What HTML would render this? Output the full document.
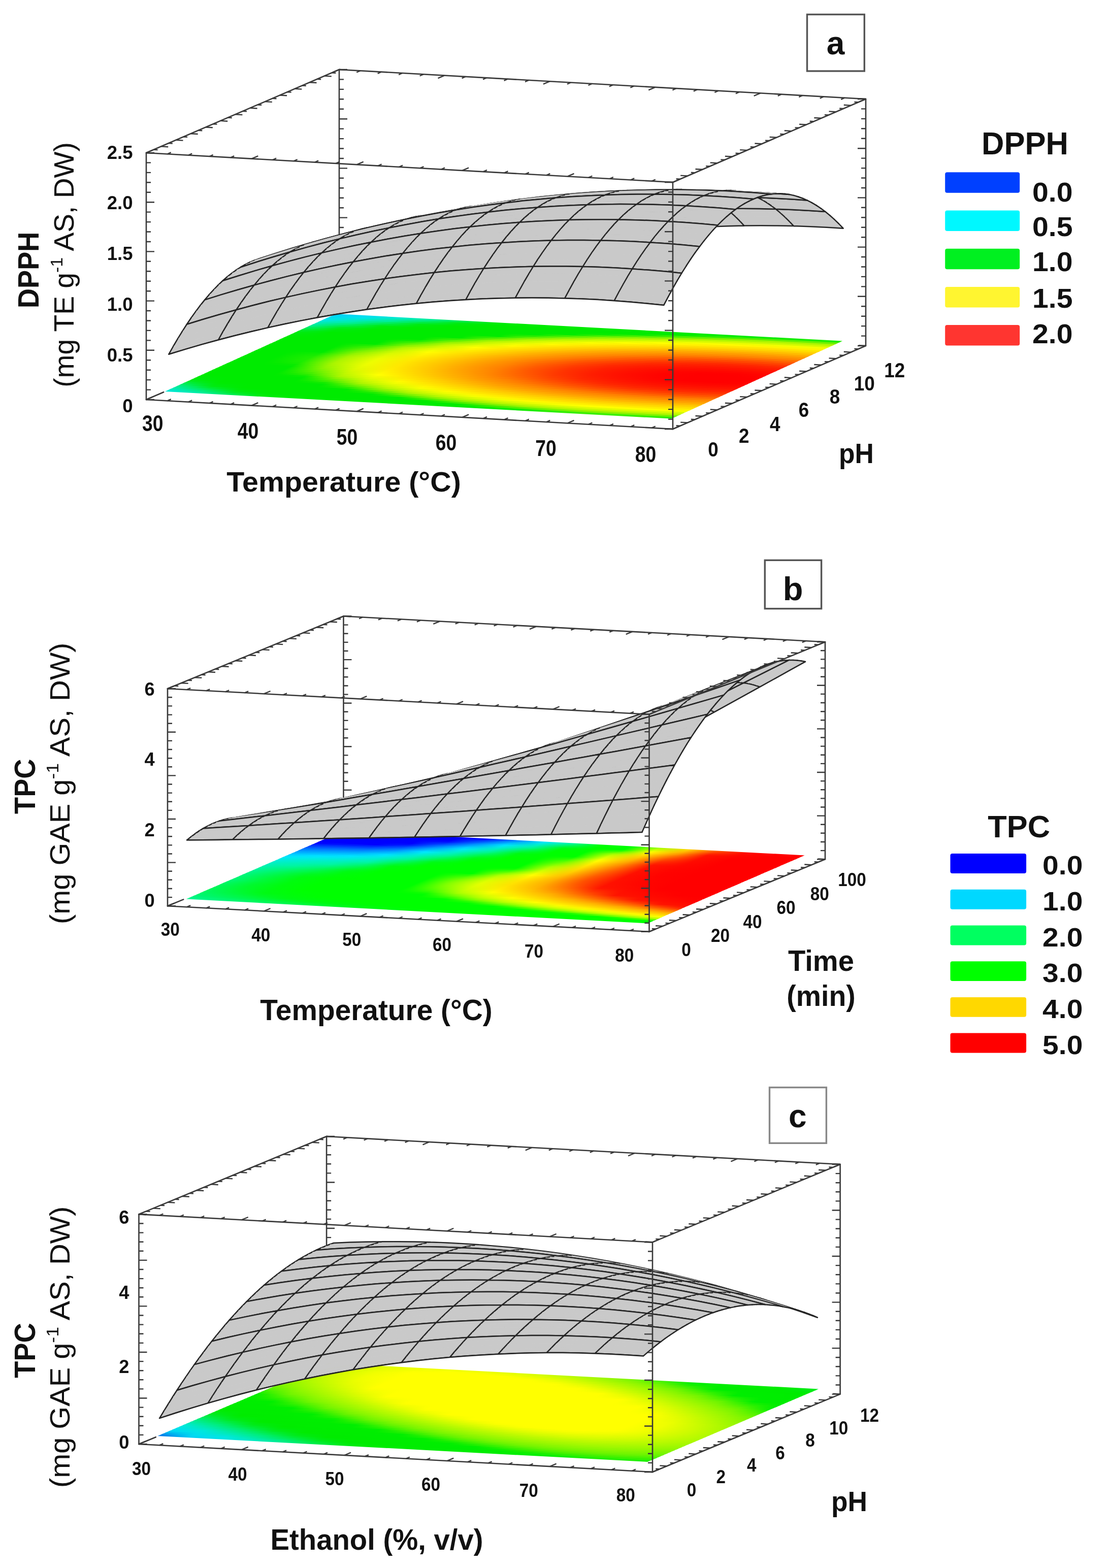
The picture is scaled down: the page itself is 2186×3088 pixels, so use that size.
<!DOCTYPE html>
<html><head><meta charset="utf-8"><title>Response surface plots</title>
<style>html,body{margin:0;padding:0;background:#fff;overflow:hidden}svg{display:block}
.bx{stroke:#383838;stroke-width:2.6;fill:none;stroke-linecap:round}
.tk{stroke:#383838;stroke-width:2.4;fill:none}
.sf{fill:#c9c9c9;stroke:#c9c9c9;stroke-width:0.8;stroke-linejoin:round}
.ml{fill:none;stroke:#242424;stroke-width:2.5;stroke-linejoin:round;stroke-linecap:round}
text{font-family:"Liberation Sans",Arial,sans-serif;fill:#111}
</style></head>
<body><svg width="2186" height="3088" viewBox="0 0 2186 3088">
<rect width="2186" height="3088" fill="#fff"/>
<defs><linearGradient id="ga0"><stop offset="0%" stop-color="#00e6d8"/><stop offset="6.2%" stop-color="#00eda2"/><stop offset="12.5%" stop-color="#00ec52"/><stop offset="18.8%" stop-color="#00eb0f"/><stop offset="25%" stop-color="#00eb00"/><stop offset="31.2%" stop-color="#00eb00"/><stop offset="37.5%" stop-color="#00eb00"/><stop offset="43.8%" stop-color="#00eb00"/><stop offset="50%" stop-color="#00eb00"/><stop offset="56.2%" stop-color="#00eb00"/><stop offset="62.5%" stop-color="#00eb00"/><stop offset="68.8%" stop-color="#0cec00"/><stop offset="75%" stop-color="#28ed00"/><stop offset="81.2%" stop-color="#39ee00"/><stop offset="87.5%" stop-color="#3def00"/><stop offset="93.8%" stop-color="#36ee00"/><stop offset="100%" stop-color="#23ed00"/></linearGradient>
<linearGradient id="ga1"><stop offset="0%" stop-color="#00e9c0"/><stop offset="6.2%" stop-color="#00ed80"/><stop offset="12.5%" stop-color="#00eb26"/><stop offset="18.8%" stop-color="#00eb05"/><stop offset="25%" stop-color="#00eb00"/><stop offset="31.2%" stop-color="#00eb00"/><stop offset="37.5%" stop-color="#00eb00"/><stop offset="43.8%" stop-color="#00eb00"/><stop offset="50%" stop-color="#00eb00"/><stop offset="56.2%" stop-color="#00eb00"/><stop offset="62.5%" stop-color="#30ee00"/><stop offset="68.8%" stop-color="#58f000"/><stop offset="75%" stop-color="#74f200"/><stop offset="81.2%" stop-color="#85f300"/><stop offset="87.5%" stop-color="#8af300"/><stop offset="93.8%" stop-color="#83f300"/><stop offset="100%" stop-color="#70f200"/></linearGradient>
<linearGradient id="ga2"><stop offset="0%" stop-color="#00eca8"/><stop offset="6.2%" stop-color="#00ed56"/><stop offset="12.5%" stop-color="#00eb0f"/><stop offset="18.8%" stop-color="#00eb00"/><stop offset="25%" stop-color="#00eb00"/><stop offset="31.2%" stop-color="#00eb00"/><stop offset="37.5%" stop-color="#00eb00"/><stop offset="43.8%" stop-color="#00eb00"/><stop offset="50%" stop-color="#03eb00"/><stop offset="56.2%" stop-color="#43ef00"/><stop offset="62.5%" stop-color="#78f200"/><stop offset="68.8%" stop-color="#a0f400"/><stop offset="75%" stop-color="#b3f600"/><stop offset="81.2%" stop-color="#bcf700"/><stop offset="87.5%" stop-color="#bef700"/><stop offset="93.8%" stop-color="#bbf700"/><stop offset="100%" stop-color="#b2f600"/></linearGradient>
<linearGradient id="ga3"><stop offset="0%" stop-color="#00ee8f"/><stop offset="6.2%" stop-color="#00ec2e"/><stop offset="12.5%" stop-color="#00eb05"/><stop offset="18.8%" stop-color="#00eb00"/><stop offset="25%" stop-color="#00eb00"/><stop offset="31.2%" stop-color="#00eb00"/><stop offset="37.5%" stop-color="#00eb00"/><stop offset="43.8%" stop-color="#00eb00"/><stop offset="50%" stop-color="#47ef00"/><stop offset="56.2%" stop-color="#87f300"/><stop offset="62.5%" stop-color="#b3f600"/><stop offset="68.8%" stop-color="#c7f800"/><stop offset="75%" stop-color="#d6fa00"/><stop offset="81.2%" stop-color="#dffb00"/><stop offset="87.5%" stop-color="#e1fc00"/><stop offset="93.8%" stop-color="#defb00"/><stop offset="100%" stop-color="#d5fa00"/></linearGradient>
<linearGradient id="ga4"><stop offset="0%" stop-color="#00ed6a"/><stop offset="6.2%" stop-color="#00eb11"/><stop offset="12.5%" stop-color="#00eb00"/><stop offset="18.8%" stop-color="#00eb00"/><stop offset="25%" stop-color="#00eb00"/><stop offset="31.2%" stop-color="#00eb00"/><stop offset="37.5%" stop-color="#00eb00"/><stop offset="43.8%" stop-color="#3aee00"/><stop offset="50%" stop-color="#87f300"/><stop offset="56.2%" stop-color="#b9f700"/><stop offset="62.5%" stop-color="#d3fa00"/><stop offset="68.8%" stop-color="#e8fc00"/><stop offset="75%" stop-color="#f7fe00"/><stop offset="81.2%" stop-color="#ffff00"/><stop offset="87.5%" stop-color="#fffd00"/><stop offset="93.8%" stop-color="#fffe00"/><stop offset="100%" stop-color="#f7fe00"/></linearGradient>
<linearGradient id="ga5"><stop offset="0%" stop-color="#00ec47"/><stop offset="6.2%" stop-color="#00eb09"/><stop offset="12.5%" stop-color="#00eb00"/><stop offset="18.8%" stop-color="#00eb00"/><stop offset="25%" stop-color="#00eb00"/><stop offset="31.2%" stop-color="#00eb00"/><stop offset="37.5%" stop-color="#1eed00"/><stop offset="43.8%" stop-color="#77f200"/><stop offset="50%" stop-color="#b7f700"/><stop offset="56.2%" stop-color="#d7fa00"/><stop offset="62.5%" stop-color="#f2fd00"/><stop offset="68.8%" stop-color="#fffa00"/><stop offset="75%" stop-color="#fff100"/><stop offset="81.2%" stop-color="#ffec00"/><stop offset="87.5%" stop-color="#ffea00"/><stop offset="93.8%" stop-color="#ffec00"/><stop offset="100%" stop-color="#fff100"/></linearGradient>
<linearGradient id="ga6"><stop offset="0%" stop-color="#00eb26"/><stop offset="6.2%" stop-color="#00eb02"/><stop offset="12.5%" stop-color="#00eb00"/><stop offset="18.8%" stop-color="#00eb00"/><stop offset="25%" stop-color="#00eb00"/><stop offset="31.2%" stop-color="#00eb00"/><stop offset="37.5%" stop-color="#57f000"/><stop offset="43.8%" stop-color="#adf500"/><stop offset="50%" stop-color="#d4fa00"/><stop offset="56.2%" stop-color="#f4fe00"/><stop offset="62.5%" stop-color="#fff500"/><stop offset="68.8%" stop-color="#ffe900"/><stop offset="75%" stop-color="#ffe000"/><stop offset="81.2%" stop-color="#ffdb00"/><stop offset="87.5%" stop-color="#ffd900"/><stop offset="93.8%" stop-color="#ffda00"/><stop offset="100%" stop-color="#ffdf00"/></linearGradient>
<linearGradient id="ga7"><stop offset="0%" stop-color="#00eb11"/><stop offset="6.2%" stop-color="#00eb00"/><stop offset="12.5%" stop-color="#00eb00"/><stop offset="18.8%" stop-color="#00eb00"/><stop offset="25%" stop-color="#00eb00"/><stop offset="31.2%" stop-color="#27ed00"/><stop offset="37.5%" stop-color="#8cf300"/><stop offset="43.8%" stop-color="#c8f800"/><stop offset="50%" stop-color="#effd00"/><stop offset="56.2%" stop-color="#fff500"/><stop offset="62.5%" stop-color="#ffe500"/><stop offset="68.8%" stop-color="#ffd900"/><stop offset="75%" stop-color="#ffd000"/><stop offset="81.2%" stop-color="#ffc900"/><stop offset="87.5%" stop-color="#ffc700"/><stop offset="93.8%" stop-color="#ffc800"/><stop offset="100%" stop-color="#ffce00"/></linearGradient>
<linearGradient id="ga8"><stop offset="0%" stop-color="#00eb0a"/><stop offset="6.2%" stop-color="#00eb00"/><stop offset="12.5%" stop-color="#00eb00"/><stop offset="18.8%" stop-color="#00eb00"/><stop offset="25%" stop-color="#00eb00"/><stop offset="31.2%" stop-color="#58f000"/><stop offset="37.5%" stop-color="#b4f600"/><stop offset="43.8%" stop-color="#e1fb00"/><stop offset="50%" stop-color="#fffa00"/><stop offset="56.2%" stop-color="#ffe600"/><stop offset="62.5%" stop-color="#ffd600"/><stop offset="68.8%" stop-color="#ffc900"/><stop offset="75%" stop-color="#ffbd00"/><stop offset="81.2%" stop-color="#ffb500"/><stop offset="87.5%" stop-color="#ffb300"/><stop offset="93.8%" stop-color="#ffb400"/><stop offset="100%" stop-color="#ffba00"/></linearGradient>
<linearGradient id="ga9"><stop offset="0%" stop-color="#00eb04"/><stop offset="6.2%" stop-color="#00eb00"/><stop offset="12.5%" stop-color="#00eb00"/><stop offset="18.8%" stop-color="#00eb00"/><stop offset="25%" stop-color="#14ec00"/><stop offset="31.2%" stop-color="#86f300"/><stop offset="37.5%" stop-color="#cbf900"/><stop offset="43.8%" stop-color="#f8fe00"/><stop offset="50%" stop-color="#ffec00"/><stop offset="56.2%" stop-color="#ffd800"/><stop offset="62.5%" stop-color="#ffc700"/><stop offset="68.8%" stop-color="#ffb600"/><stop offset="75%" stop-color="#ffaa00"/><stop offset="81.2%" stop-color="#ffa300"/><stop offset="87.5%" stop-color="#ffa000"/><stop offset="93.8%" stop-color="#ffa100"/><stop offset="100%" stop-color="#ffa700"/></linearGradient>
<linearGradient id="ga10"><stop offset="0%" stop-color="#00eb00"/><stop offset="6.2%" stop-color="#00eb00"/><stop offset="12.5%" stop-color="#00eb00"/><stop offset="18.8%" stop-color="#00eb00"/><stop offset="25%" stop-color="#3eef00"/><stop offset="31.2%" stop-color="#adf500"/><stop offset="37.5%" stop-color="#e1fb00"/><stop offset="43.8%" stop-color="#fff600"/><stop offset="50%" stop-color="#ffdf00"/><stop offset="56.2%" stop-color="#ffcb00"/><stop offset="62.5%" stop-color="#ffb600"/><stop offset="68.8%" stop-color="#ffa500"/><stop offset="75%" stop-color="#ff9900"/><stop offset="81.2%" stop-color="#ff9100"/><stop offset="87.5%" stop-color="#ff8e00"/><stop offset="93.8%" stop-color="#ff9000"/><stop offset="100%" stop-color="#ff9500"/></linearGradient>
<linearGradient id="ga11"><stop offset="0%" stop-color="#00eb00"/><stop offset="6.2%" stop-color="#00eb00"/><stop offset="12.5%" stop-color="#00eb00"/><stop offset="18.8%" stop-color="#00eb00"/><stop offset="25%" stop-color="#65f100"/><stop offset="31.2%" stop-color="#c1f800"/><stop offset="37.5%" stop-color="#f4fe00"/><stop offset="43.8%" stop-color="#ffea00"/><stop offset="50%" stop-color="#ffd300"/><stop offset="56.2%" stop-color="#ffbb00"/><stop offset="62.5%" stop-color="#ffa600"/><stop offset="68.8%" stop-color="#ff9500"/><stop offset="75%" stop-color="#ff8900"/><stop offset="81.2%" stop-color="#ff8100"/><stop offset="87.5%" stop-color="#ff7c00"/><stop offset="93.8%" stop-color="#ff7e00"/><stop offset="100%" stop-color="#ff8500"/></linearGradient>
<linearGradient id="ga12"><stop offset="0%" stop-color="#00eb00"/><stop offset="6.2%" stop-color="#00eb00"/><stop offset="12.5%" stop-color="#00eb00"/><stop offset="18.8%" stop-color="#0aec00"/><stop offset="25%" stop-color="#89f300"/><stop offset="31.2%" stop-color="#d3fa00"/><stop offset="37.5%" stop-color="#fffb00"/><stop offset="43.8%" stop-color="#ffe000"/><stop offset="50%" stop-color="#ffc700"/><stop offset="56.2%" stop-color="#ffad00"/><stop offset="62.5%" stop-color="#ff9800"/><stop offset="68.8%" stop-color="#ff8700"/><stop offset="75%" stop-color="#ff7700"/><stop offset="81.2%" stop-color="#ff6a00"/><stop offset="87.5%" stop-color="#ff6500"/><stop offset="93.8%" stop-color="#ff6700"/><stop offset="100%" stop-color="#ff6f00"/></linearGradient>
<linearGradient id="ga13"><stop offset="0%" stop-color="#00eb00"/><stop offset="6.2%" stop-color="#00eb00"/><stop offset="12.5%" stop-color="#00eb00"/><stop offset="18.8%" stop-color="#2aed00"/><stop offset="25%" stop-color="#a9f500"/><stop offset="31.2%" stop-color="#e3fc00"/><stop offset="37.5%" stop-color="#fff100"/><stop offset="43.8%" stop-color="#ffd600"/><stop offset="50%" stop-color="#ffba00"/><stop offset="56.2%" stop-color="#ffa000"/><stop offset="62.5%" stop-color="#ff8b00"/><stop offset="68.8%" stop-color="#ff7500"/><stop offset="75%" stop-color="#ff6200"/><stop offset="81.2%" stop-color="#ff5600"/><stop offset="87.5%" stop-color="#ff5000"/><stop offset="93.8%" stop-color="#ff5100"/><stop offset="100%" stop-color="#ff5900"/></linearGradient>
<linearGradient id="ga14"><stop offset="0%" stop-color="#00eb00"/><stop offset="6.2%" stop-color="#00eb00"/><stop offset="12.5%" stop-color="#00eb00"/><stop offset="18.8%" stop-color="#46ef00"/><stop offset="25%" stop-color="#b8f700"/><stop offset="31.2%" stop-color="#f2fd00"/><stop offset="37.5%" stop-color="#ffe800"/><stop offset="43.8%" stop-color="#ffcd00"/><stop offset="50%" stop-color="#ffaf00"/><stop offset="56.2%" stop-color="#ff9500"/><stop offset="62.5%" stop-color="#ff7d00"/><stop offset="68.8%" stop-color="#ff6300"/><stop offset="75%" stop-color="#ff5000"/><stop offset="81.2%" stop-color="#ff4300"/><stop offset="87.5%" stop-color="#ff3d00"/><stop offset="93.8%" stop-color="#ff3e00"/><stop offset="100%" stop-color="#ff4600"/></linearGradient>
<linearGradient id="ga15"><stop offset="0%" stop-color="#00eb00"/><stop offset="6.2%" stop-color="#00eb00"/><stop offset="12.5%" stop-color="#00eb00"/><stop offset="18.8%" stop-color="#5ff100"/><stop offset="25%" stop-color="#c4f800"/><stop offset="31.2%" stop-color="#ffff00"/><stop offset="37.5%" stop-color="#ffe100"/><stop offset="43.8%" stop-color="#ffc300"/><stop offset="50%" stop-color="#ffa400"/><stop offset="56.2%" stop-color="#ff8a00"/><stop offset="62.5%" stop-color="#ff6d00"/><stop offset="68.8%" stop-color="#ff5300"/><stop offset="75%" stop-color="#ff3f00"/><stop offset="81.2%" stop-color="#ff3200"/><stop offset="87.5%" stop-color="#ff2c00"/><stop offset="93.8%" stop-color="#ff2d00"/><stop offset="100%" stop-color="#ff3500"/></linearGradient>
<linearGradient id="ga16"><stop offset="0%" stop-color="#00eb00"/><stop offset="6.2%" stop-color="#00eb00"/><stop offset="12.5%" stop-color="#00eb00"/><stop offset="18.8%" stop-color="#74f200"/><stop offset="25%" stop-color="#cff900"/><stop offset="31.2%" stop-color="#fff900"/><stop offset="37.5%" stop-color="#ffda00"/><stop offset="43.8%" stop-color="#ffba00"/><stop offset="50%" stop-color="#ff9b00"/><stop offset="56.2%" stop-color="#ff8100"/><stop offset="62.5%" stop-color="#ff5f00"/><stop offset="68.8%" stop-color="#ff4500"/><stop offset="75%" stop-color="#ff3100"/><stop offset="81.2%" stop-color="#ff2500"/><stop offset="87.5%" stop-color="#ff2100"/><stop offset="93.8%" stop-color="#ff2100"/><stop offset="100%" stop-color="#ff2600"/></linearGradient>
<linearGradient id="ga17"><stop offset="0%" stop-color="#00eb00"/><stop offset="6.2%" stop-color="#00eb00"/><stop offset="12.5%" stop-color="#00eb00"/><stop offset="18.8%" stop-color="#87f300"/><stop offset="25%" stop-color="#d9fa00"/><stop offset="31.2%" stop-color="#fff300"/><stop offset="37.5%" stop-color="#ffd400"/><stop offset="43.8%" stop-color="#ffb300"/><stop offset="50%" stop-color="#ff9400"/><stop offset="56.2%" stop-color="#ff7500"/><stop offset="62.5%" stop-color="#ff5300"/><stop offset="68.8%" stop-color="#ff3800"/><stop offset="75%" stop-color="#ff2500"/><stop offset="81.2%" stop-color="#ff1c00"/><stop offset="87.5%" stop-color="#ff1700"/><stop offset="93.8%" stop-color="#ff1800"/><stop offset="100%" stop-color="#ff1c00"/></linearGradient>
<linearGradient id="ga18"><stop offset="0%" stop-color="#00eb00"/><stop offset="6.2%" stop-color="#00eb00"/><stop offset="12.5%" stop-color="#08eb00"/><stop offset="18.8%" stop-color="#95f400"/><stop offset="25%" stop-color="#e0fb00"/><stop offset="31.2%" stop-color="#ffee00"/><stop offset="37.5%" stop-color="#ffcf00"/><stop offset="43.8%" stop-color="#ffad00"/><stop offset="50%" stop-color="#ff8d00"/><stop offset="56.2%" stop-color="#ff6b00"/><stop offset="62.5%" stop-color="#ff4900"/><stop offset="68.8%" stop-color="#ff2e00"/><stop offset="75%" stop-color="#ff1e00"/><stop offset="81.2%" stop-color="#ff1400"/><stop offset="87.5%" stop-color="#ff1000"/><stop offset="93.8%" stop-color="#ff1000"/><stop offset="100%" stop-color="#ff1400"/></linearGradient>
<linearGradient id="ga19"><stop offset="0%" stop-color="#00eb00"/><stop offset="6.2%" stop-color="#00eb00"/><stop offset="12.5%" stop-color="#14ec00"/><stop offset="18.8%" stop-color="#a1f400"/><stop offset="25%" stop-color="#e6fc00"/><stop offset="31.2%" stop-color="#ffeb00"/><stop offset="37.5%" stop-color="#ffcb00"/><stop offset="43.8%" stop-color="#ffa800"/><stop offset="50%" stop-color="#ff8800"/><stop offset="56.2%" stop-color="#ff6300"/><stop offset="62.5%" stop-color="#ff4100"/><stop offset="68.8%" stop-color="#ff2600"/><stop offset="75%" stop-color="#ff1800"/><stop offset="81.2%" stop-color="#ff0e00"/><stop offset="87.5%" stop-color="#ff0900"/><stop offset="93.8%" stop-color="#ff0900"/><stop offset="100%" stop-color="#ff0e00"/></linearGradient>
<linearGradient id="ga20"><stop offset="0%" stop-color="#00eb00"/><stop offset="6.2%" stop-color="#00eb00"/><stop offset="12.5%" stop-color="#1bed00"/><stop offset="18.8%" stop-color="#a9f500"/><stop offset="25%" stop-color="#ebfd00"/><stop offset="31.2%" stop-color="#ffe800"/><stop offset="37.5%" stop-color="#ffc800"/><stop offset="43.8%" stop-color="#ffa400"/><stop offset="50%" stop-color="#ff8500"/><stop offset="56.2%" stop-color="#ff5d00"/><stop offset="62.5%" stop-color="#ff3a00"/><stop offset="68.8%" stop-color="#ff2200"/><stop offset="75%" stop-color="#ff1300"/><stop offset="81.2%" stop-color="#ff0900"/><stop offset="87.5%" stop-color="#ff0400"/><stop offset="93.8%" stop-color="#ff0400"/><stop offset="100%" stop-color="#ff0800"/></linearGradient>
<linearGradient id="ga21"><stop offset="0%" stop-color="#00eb00"/><stop offset="6.2%" stop-color="#00eb00"/><stop offset="12.5%" stop-color="#1fed00"/><stop offset="18.8%" stop-color="#acf500"/><stop offset="25%" stop-color="#edfd00"/><stop offset="31.2%" stop-color="#ffe700"/><stop offset="37.5%" stop-color="#ffc600"/><stop offset="43.8%" stop-color="#ffa200"/><stop offset="50%" stop-color="#ff8200"/><stop offset="56.2%" stop-color="#ff5900"/><stop offset="62.5%" stop-color="#ff3600"/><stop offset="68.8%" stop-color="#ff1e00"/><stop offset="75%" stop-color="#ff1000"/><stop offset="81.2%" stop-color="#ff0600"/><stop offset="87.5%" stop-color="#ff0000"/><stop offset="93.8%" stop-color="#ff0000"/><stop offset="100%" stop-color="#ff0400"/></linearGradient>
<linearGradient id="ga22"><stop offset="0%" stop-color="#00eb00"/><stop offset="6.2%" stop-color="#00eb00"/><stop offset="12.5%" stop-color="#20ed00"/><stop offset="18.8%" stop-color="#acf500"/><stop offset="25%" stop-color="#eefd00"/><stop offset="31.2%" stop-color="#ffe600"/><stop offset="37.5%" stop-color="#ffc500"/><stop offset="43.8%" stop-color="#ffa000"/><stop offset="50%" stop-color="#ff8000"/><stop offset="56.2%" stop-color="#ff5600"/><stop offset="62.5%" stop-color="#ff3400"/><stop offset="68.8%" stop-color="#ff1c00"/><stop offset="75%" stop-color="#ff0e00"/><stop offset="81.2%" stop-color="#ff0400"/><stop offset="87.5%" stop-color="#ff0000"/><stop offset="93.8%" stop-color="#ff0000"/><stop offset="100%" stop-color="#ff0200"/></linearGradient>
<linearGradient id="ga23"><stop offset="0%" stop-color="#00eb00"/><stop offset="6.2%" stop-color="#00eb00"/><stop offset="12.5%" stop-color="#1eed00"/><stop offset="18.8%" stop-color="#abf500"/><stop offset="25%" stop-color="#edfd00"/><stop offset="31.2%" stop-color="#ffe600"/><stop offset="37.5%" stop-color="#ffc500"/><stop offset="43.8%" stop-color="#ffa100"/><stop offset="50%" stop-color="#ff8000"/><stop offset="56.2%" stop-color="#ff5600"/><stop offset="62.5%" stop-color="#ff3300"/><stop offset="68.8%" stop-color="#ff1c00"/><stop offset="75%" stop-color="#ff0d00"/><stop offset="81.2%" stop-color="#ff0300"/><stop offset="87.5%" stop-color="#ff0000"/><stop offset="93.8%" stop-color="#ff0000"/><stop offset="100%" stop-color="#ff0000"/></linearGradient>
<linearGradient id="ga24"><stop offset="0%" stop-color="#00eb00"/><stop offset="6.2%" stop-color="#00eb00"/><stop offset="12.5%" stop-color="#18ec00"/><stop offset="18.8%" stop-color="#a7f500"/><stop offset="25%" stop-color="#ebfd00"/><stop offset="31.2%" stop-color="#ffe800"/><stop offset="37.5%" stop-color="#ffc700"/><stop offset="43.8%" stop-color="#ffa200"/><stop offset="50%" stop-color="#ff8200"/><stop offset="56.2%" stop-color="#ff5800"/><stop offset="62.5%" stop-color="#ff3500"/><stop offset="68.8%" stop-color="#ff1d00"/><stop offset="75%" stop-color="#ff0e00"/><stop offset="81.2%" stop-color="#ff0300"/><stop offset="87.5%" stop-color="#ff0000"/><stop offset="93.8%" stop-color="#ff0000"/><stop offset="100%" stop-color="#ff0000"/></linearGradient>
<linearGradient id="ga25"><stop offset="0%" stop-color="#00eb00"/><stop offset="6.2%" stop-color="#00eb00"/><stop offset="12.5%" stop-color="#0fec00"/><stop offset="18.8%" stop-color="#9ff400"/><stop offset="25%" stop-color="#e6fc00"/><stop offset="31.2%" stop-color="#ffea00"/><stop offset="37.5%" stop-color="#ffc900"/><stop offset="43.8%" stop-color="#ffa500"/><stop offset="50%" stop-color="#ff8500"/><stop offset="56.2%" stop-color="#ff5c00"/><stop offset="62.5%" stop-color="#ff3800"/><stop offset="68.8%" stop-color="#ff1f00"/><stop offset="75%" stop-color="#ff1000"/><stop offset="81.2%" stop-color="#ff0500"/><stop offset="87.5%" stop-color="#ff0000"/><stop offset="93.8%" stop-color="#ff0000"/><stop offset="100%" stop-color="#ff0200"/></linearGradient>
<linearGradient id="ga26"><stop offset="0%" stop-color="#00eb00"/><stop offset="6.2%" stop-color="#00eb00"/><stop offset="12.5%" stop-color="#02eb00"/><stop offset="18.8%" stop-color="#92f400"/><stop offset="25%" stop-color="#e0fb00"/><stop offset="31.2%" stop-color="#ffed00"/><stop offset="37.5%" stop-color="#ffcd00"/><stop offset="43.8%" stop-color="#ffa900"/><stop offset="50%" stop-color="#ff8800"/><stop offset="56.2%" stop-color="#ff6100"/><stop offset="62.5%" stop-color="#ff3d00"/><stop offset="68.8%" stop-color="#ff2300"/><stop offset="75%" stop-color="#ff1300"/><stop offset="81.2%" stop-color="#ff0800"/><stop offset="87.5%" stop-color="#ff0200"/><stop offset="93.8%" stop-color="#ff0100"/><stop offset="100%" stop-color="#ff0500"/></linearGradient>
<linearGradient id="ga27"><stop offset="0%" stop-color="#00eb00"/><stop offset="6.2%" stop-color="#00eb00"/><stop offset="12.5%" stop-color="#00eb00"/><stop offset="18.8%" stop-color="#83f300"/><stop offset="25%" stop-color="#d9fb00"/><stop offset="31.2%" stop-color="#fff200"/><stop offset="37.5%" stop-color="#ffd200"/><stop offset="43.8%" stop-color="#ffae00"/><stop offset="50%" stop-color="#ff8e00"/><stop offset="56.2%" stop-color="#ff6900"/><stop offset="62.5%" stop-color="#ff4500"/><stop offset="68.8%" stop-color="#ff2800"/><stop offset="75%" stop-color="#ff1800"/><stop offset="81.2%" stop-color="#ff0d00"/><stop offset="87.5%" stop-color="#ff0700"/><stop offset="93.8%" stop-color="#ff0500"/><stop offset="100%" stop-color="#ff0900"/></linearGradient>
<linearGradient id="ga28"><stop offset="0%" stop-color="#00eb00"/><stop offset="6.2%" stop-color="#00eb00"/><stop offset="12.5%" stop-color="#00eb00"/><stop offset="18.8%" stop-color="#70f200"/><stop offset="25%" stop-color="#d0f900"/><stop offset="31.2%" stop-color="#fff700"/><stop offset="37.5%" stop-color="#ffd700"/><stop offset="43.8%" stop-color="#ffb500"/><stop offset="50%" stop-color="#ff9400"/><stop offset="56.2%" stop-color="#ff7200"/><stop offset="62.5%" stop-color="#ff4e00"/><stop offset="68.8%" stop-color="#ff3100"/><stop offset="75%" stop-color="#ff1e00"/><stop offset="81.2%" stop-color="#ff1300"/><stop offset="87.5%" stop-color="#ff0d00"/><stop offset="93.8%" stop-color="#ff0b00"/><stop offset="100%" stop-color="#ff0e00"/></linearGradient>
<linearGradient id="ga29"><stop offset="0%" stop-color="#00eb00"/><stop offset="6.2%" stop-color="#00eb00"/><stop offset="12.5%" stop-color="#00eb00"/><stop offset="18.8%" stop-color="#5af000"/><stop offset="25%" stop-color="#c5f800"/><stop offset="31.2%" stop-color="#fffd00"/><stop offset="37.5%" stop-color="#ffdd00"/><stop offset="43.8%" stop-color="#ffbc00"/><stop offset="50%" stop-color="#ff9c00"/><stop offset="56.2%" stop-color="#ff7e00"/><stop offset="62.5%" stop-color="#ff5900"/><stop offset="68.8%" stop-color="#ff3c00"/><stop offset="75%" stop-color="#ff2600"/><stop offset="81.2%" stop-color="#ff1b00"/><stop offset="87.5%" stop-color="#ff1400"/><stop offset="93.8%" stop-color="#ff1200"/><stop offset="100%" stop-color="#ff1500"/></linearGradient>
<linearGradient id="ga30"><stop offset="0%" stop-color="#00eb00"/><stop offset="6.2%" stop-color="#00eb00"/><stop offset="12.5%" stop-color="#00eb00"/><stop offset="18.8%" stop-color="#40ef00"/><stop offset="25%" stop-color="#b8f700"/><stop offset="31.2%" stop-color="#f5fe00"/><stop offset="37.5%" stop-color="#ffe400"/><stop offset="43.8%" stop-color="#ffc600"/><stop offset="50%" stop-color="#ffa500"/><stop offset="56.2%" stop-color="#ff8800"/><stop offset="62.5%" stop-color="#ff6700"/><stop offset="68.8%" stop-color="#ff4900"/><stop offset="75%" stop-color="#ff3200"/><stop offset="81.2%" stop-color="#ff2300"/><stop offset="87.5%" stop-color="#ff1d00"/><stop offset="93.8%" stop-color="#ff1b00"/><stop offset="100%" stop-color="#ff1d00"/></linearGradient>
<linearGradient id="ga31"><stop offset="0%" stop-color="#00eb00"/><stop offset="6.2%" stop-color="#00eb00"/><stop offset="12.5%" stop-color="#00eb00"/><stop offset="18.8%" stop-color="#23ed00"/><stop offset="25%" stop-color="#a9f500"/><stop offset="31.2%" stop-color="#e7fc00"/><stop offset="37.5%" stop-color="#ffec00"/><stop offset="43.8%" stop-color="#ffcf00"/><stop offset="50%" stop-color="#ffaf00"/><stop offset="56.2%" stop-color="#ff9200"/><stop offset="62.5%" stop-color="#ff7600"/><stop offset="68.8%" stop-color="#ff5800"/><stop offset="75%" stop-color="#ff4000"/><stop offset="81.2%" stop-color="#ff3000"/><stop offset="87.5%" stop-color="#ff2600"/><stop offset="93.8%" stop-color="#ff2400"/><stop offset="100%" stop-color="#ff2700"/></linearGradient>
<linearGradient id="ga32"><stop offset="0%" stop-color="#00eb00"/><stop offset="6.2%" stop-color="#00eb00"/><stop offset="12.5%" stop-color="#00eb00"/><stop offset="18.8%" stop-color="#02eb00"/><stop offset="25%" stop-color="#89f300"/><stop offset="31.2%" stop-color="#d7fa00"/><stop offset="37.5%" stop-color="#fff600"/><stop offset="43.8%" stop-color="#ffd800"/><stop offset="50%" stop-color="#ffba00"/><stop offset="56.2%" stop-color="#ff9e00"/><stop offset="62.5%" stop-color="#ff8500"/><stop offset="68.8%" stop-color="#ff6800"/><stop offset="75%" stop-color="#ff5100"/><stop offset="81.2%" stop-color="#ff4000"/><stop offset="87.5%" stop-color="#ff3600"/><stop offset="93.8%" stop-color="#ff3300"/><stop offset="100%" stop-color="#ff3600"/></linearGradient>
<linearGradient id="ga33"><stop offset="0%" stop-color="#00eb00"/><stop offset="6.2%" stop-color="#00eb00"/><stop offset="12.5%" stop-color="#00eb00"/><stop offset="18.8%" stop-color="#00eb00"/><stop offset="25%" stop-color="#66f100"/><stop offset="31.2%" stop-color="#c6f800"/><stop offset="37.5%" stop-color="#feff00"/><stop offset="43.8%" stop-color="#ffe200"/><stop offset="50%" stop-color="#ffc700"/><stop offset="56.2%" stop-color="#ffaa00"/><stop offset="62.5%" stop-color="#ff9200"/><stop offset="68.8%" stop-color="#ff7b00"/><stop offset="75%" stop-color="#ff6300"/><stop offset="81.2%" stop-color="#ff5200"/><stop offset="87.5%" stop-color="#ff4800"/><stop offset="93.8%" stop-color="#ff4500"/><stop offset="100%" stop-color="#ff4800"/></linearGradient>
<linearGradient id="ga34"><stop offset="0%" stop-color="#00eb04"/><stop offset="6.2%" stop-color="#00eb00"/><stop offset="12.5%" stop-color="#00eb00"/><stop offset="18.8%" stop-color="#00eb00"/><stop offset="25%" stop-color="#3fef00"/><stop offset="31.2%" stop-color="#b2f600"/><stop offset="37.5%" stop-color="#ebfd00"/><stop offset="43.8%" stop-color="#ffed00"/><stop offset="50%" stop-color="#ffd300"/><stop offset="56.2%" stop-color="#ffb800"/><stop offset="62.5%" stop-color="#ff9f00"/><stop offset="68.8%" stop-color="#ff8b00"/><stop offset="75%" stop-color="#ff7800"/><stop offset="81.2%" stop-color="#ff6700"/><stop offset="87.5%" stop-color="#ff5c00"/><stop offset="93.8%" stop-color="#ff5800"/><stop offset="100%" stop-color="#ff5c00"/></linearGradient>
<linearGradient id="ga35"><stop offset="0%" stop-color="#00eb0a"/><stop offset="6.2%" stop-color="#00eb00"/><stop offset="12.5%" stop-color="#00eb00"/><stop offset="18.8%" stop-color="#00eb00"/><stop offset="25%" stop-color="#15ec00"/><stop offset="31.2%" stop-color="#91f400"/><stop offset="37.5%" stop-color="#d6fa00"/><stop offset="43.8%" stop-color="#fffa00"/><stop offset="50%" stop-color="#ffdf00"/><stop offset="56.2%" stop-color="#ffc700"/><stop offset="62.5%" stop-color="#ffae00"/><stop offset="68.8%" stop-color="#ff9a00"/><stop offset="75%" stop-color="#ff8a00"/><stop offset="81.2%" stop-color="#ff7d00"/><stop offset="87.5%" stop-color="#ff7200"/><stop offset="93.8%" stop-color="#ff6e00"/><stop offset="100%" stop-color="#ff7100"/></linearGradient>
<linearGradient id="ga36"><stop offset="0%" stop-color="#00eb11"/><stop offset="6.2%" stop-color="#00eb00"/><stop offset="12.5%" stop-color="#00eb00"/><stop offset="18.8%" stop-color="#00eb00"/><stop offset="25%" stop-color="#00eb00"/><stop offset="31.2%" stop-color="#64f100"/><stop offset="37.5%" stop-color="#c0f800"/><stop offset="43.8%" stop-color="#f2fd00"/><stop offset="50%" stop-color="#ffec00"/><stop offset="56.2%" stop-color="#ffd500"/><stop offset="62.5%" stop-color="#ffbf00"/><stop offset="68.8%" stop-color="#ffaa00"/><stop offset="75%" stop-color="#ff9a00"/><stop offset="81.2%" stop-color="#ff8f00"/><stop offset="87.5%" stop-color="#ff8700"/><stop offset="93.8%" stop-color="#ff8500"/><stop offset="100%" stop-color="#ff8600"/></linearGradient>
<linearGradient id="ga37"><stop offset="0%" stop-color="#00eb24"/><stop offset="6.2%" stop-color="#00eb00"/><stop offset="12.5%" stop-color="#00eb00"/><stop offset="18.8%" stop-color="#00eb00"/><stop offset="25%" stop-color="#00eb00"/><stop offset="31.2%" stop-color="#33ee00"/><stop offset="37.5%" stop-color="#a5f500"/><stop offset="43.8%" stop-color="#dafb00"/><stop offset="50%" stop-color="#fffa00"/><stop offset="56.2%" stop-color="#ffe300"/><stop offset="62.5%" stop-color="#ffd000"/><stop offset="68.8%" stop-color="#ffbc00"/><stop offset="75%" stop-color="#ffab00"/><stop offset="81.2%" stop-color="#ffa000"/><stop offset="87.5%" stop-color="#ff9800"/><stop offset="93.8%" stop-color="#ff9500"/><stop offset="100%" stop-color="#ff9700"/></linearGradient>
<linearGradient id="ga38"><stop offset="0%" stop-color="#00ec45"/><stop offset="6.2%" stop-color="#00eb07"/><stop offset="12.5%" stop-color="#00eb00"/><stop offset="18.8%" stop-color="#00eb00"/><stop offset="25%" stop-color="#00eb00"/><stop offset="31.2%" stop-color="#00eb00"/><stop offset="37.5%" stop-color="#71f200"/><stop offset="43.8%" stop-color="#c1f800"/><stop offset="50%" stop-color="#eefd00"/><stop offset="56.2%" stop-color="#fff200"/><stop offset="62.5%" stop-color="#ffde00"/><stop offset="68.8%" stop-color="#ffce00"/><stop offset="75%" stop-color="#ffbe00"/><stop offset="81.2%" stop-color="#ffb200"/><stop offset="87.5%" stop-color="#ffab00"/><stop offset="93.8%" stop-color="#ffa800"/><stop offset="100%" stop-color="#ffa900"/></linearGradient>
<linearGradient id="ga39"><stop offset="0%" stop-color="#00ed68"/><stop offset="6.2%" stop-color="#00eb0f"/><stop offset="12.5%" stop-color="#00eb00"/><stop offset="18.8%" stop-color="#00eb00"/><stop offset="25%" stop-color="#00eb00"/><stop offset="31.2%" stop-color="#00eb00"/><stop offset="37.5%" stop-color="#3aee00"/><stop offset="43.8%" stop-color="#a1f400"/><stop offset="50%" stop-color="#d3fa00"/><stop offset="56.2%" stop-color="#fafe00"/><stop offset="62.5%" stop-color="#ffee00"/><stop offset="68.8%" stop-color="#ffde00"/><stop offset="75%" stop-color="#ffd100"/><stop offset="81.2%" stop-color="#ffc600"/><stop offset="87.5%" stop-color="#ffbe00"/><stop offset="93.8%" stop-color="#ffbb00"/><stop offset="100%" stop-color="#ffbc00"/></linearGradient>
<linearGradient id="ga40"><stop offset="0%" stop-color="#00ee8d"/><stop offset="6.2%" stop-color="#00eb23"/><stop offset="12.5%" stop-color="#00eb01"/><stop offset="18.8%" stop-color="#00eb00"/><stop offset="25%" stop-color="#00eb00"/><stop offset="31.2%" stop-color="#00eb00"/><stop offset="37.5%" stop-color="#00eb00"/><stop offset="43.8%" stop-color="#67f100"/><stop offset="50%" stop-color="#b6f600"/><stop offset="56.2%" stop-color="#defb00"/><stop offset="62.5%" stop-color="#ffff00"/><stop offset="68.8%" stop-color="#ffee00"/><stop offset="75%" stop-color="#ffe100"/><stop offset="81.2%" stop-color="#ffd800"/><stop offset="87.5%" stop-color="#ffd200"/><stop offset="93.8%" stop-color="#ffcf00"/><stop offset="100%" stop-color="#ffd000"/></linearGradient>
<linearGradient id="ga41"><stop offset="0%" stop-color="#00eca7"/><stop offset="6.2%" stop-color="#00ec4a"/><stop offset="12.5%" stop-color="#00eb0a"/><stop offset="18.8%" stop-color="#00eb00"/><stop offset="25%" stop-color="#00eb00"/><stop offset="31.2%" stop-color="#00eb00"/><stop offset="37.5%" stop-color="#00eb00"/><stop offset="43.8%" stop-color="#2aed00"/><stop offset="50%" stop-color="#85f300"/><stop offset="56.2%" stop-color="#c0f800"/><stop offset="62.5%" stop-color="#e2fc00"/><stop offset="68.8%" stop-color="#feff00"/><stop offset="75%" stop-color="#fff300"/><stop offset="81.2%" stop-color="#ffe900"/><stop offset="87.5%" stop-color="#ffe300"/><stop offset="93.8%" stop-color="#ffe000"/><stop offset="100%" stop-color="#ffe100"/></linearGradient>
<linearGradient id="ga42"><stop offset="0%" stop-color="#00e9be"/><stop offset="6.2%" stop-color="#00ed73"/><stop offset="12.5%" stop-color="#00eb13"/><stop offset="18.8%" stop-color="#00eb00"/><stop offset="25%" stop-color="#00eb00"/><stop offset="31.2%" stop-color="#00eb00"/><stop offset="37.5%" stop-color="#00eb00"/><stop offset="43.8%" stop-color="#00eb00"/><stop offset="50%" stop-color="#45ef00"/><stop offset="56.2%" stop-color="#95f400"/><stop offset="62.5%" stop-color="#c2f800"/><stop offset="68.8%" stop-color="#defb00"/><stop offset="75%" stop-color="#f5fe00"/><stop offset="81.2%" stop-color="#fffb00"/><stop offset="87.5%" stop-color="#fff500"/><stop offset="93.8%" stop-color="#fff200"/><stop offset="100%" stop-color="#fff300"/></linearGradient>
<linearGradient id="ga43"><stop offset="0%" stop-color="#00e7d7"/><stop offset="6.2%" stop-color="#00ed9b"/><stop offset="12.5%" stop-color="#00ec3b"/><stop offset="18.8%" stop-color="#00eb08"/><stop offset="25%" stop-color="#00eb00"/><stop offset="31.2%" stop-color="#00eb00"/><stop offset="37.5%" stop-color="#00eb00"/><stop offset="43.8%" stop-color="#00eb00"/><stop offset="50%" stop-color="#02eb00"/><stop offset="56.2%" stop-color="#52f000"/><stop offset="62.5%" stop-color="#97f400"/><stop offset="68.8%" stop-color="#bdf700"/><stop offset="75%" stop-color="#d4fa00"/><stop offset="81.2%" stop-color="#e5fc00"/><stop offset="87.5%" stop-color="#f0fd00"/><stop offset="93.8%" stop-color="#f5fe00"/><stop offset="100%" stop-color="#f4fe00"/></linearGradient>
<linearGradient id="ga44"><stop offset="0%" stop-color="#00e3ee"/><stop offset="6.2%" stop-color="#00ebb4"/><stop offset="12.5%" stop-color="#00ed67"/><stop offset="18.8%" stop-color="#00eb12"/><stop offset="25%" stop-color="#00eb00"/><stop offset="31.2%" stop-color="#00eb00"/><stop offset="37.5%" stop-color="#00eb00"/><stop offset="43.8%" stop-color="#00eb00"/><stop offset="50%" stop-color="#00eb00"/><stop offset="56.2%" stop-color="#0cec00"/><stop offset="62.5%" stop-color="#51f000"/><stop offset="68.8%" stop-color="#8af300"/><stop offset="75%" stop-color="#b1f600"/><stop offset="81.2%" stop-color="#c2f800"/><stop offset="87.5%" stop-color="#cdf900"/><stop offset="93.8%" stop-color="#d2fa00"/><stop offset="100%" stop-color="#d2fa00"/></linearGradient>
<linearGradient id="ga45"><stop offset="0%" stop-color="#00ddf1"/><stop offset="6.2%" stop-color="#00e8cf"/><stop offset="12.5%" stop-color="#00ee96"/><stop offset="18.8%" stop-color="#00ec39"/><stop offset="25%" stop-color="#00eb09"/><stop offset="31.2%" stop-color="#00eb00"/><stop offset="37.5%" stop-color="#00eb00"/><stop offset="43.8%" stop-color="#00eb00"/><stop offset="50%" stop-color="#00eb00"/><stop offset="56.2%" stop-color="#00eb00"/><stop offset="62.5%" stop-color="#07eb00"/><stop offset="68.8%" stop-color="#41ef00"/><stop offset="75%" stop-color="#70f200"/><stop offset="81.2%" stop-color="#92f400"/><stop offset="87.5%" stop-color="#a9f500"/><stop offset="93.8%" stop-color="#aff600"/><stop offset="100%" stop-color="#aef600"/></linearGradient>
<linearGradient id="ga46"><stop offset="0%" stop-color="#00d6f4"/><stop offset="6.2%" stop-color="#00e4ea"/><stop offset="12.5%" stop-color="#00ebb2"/><stop offset="18.8%" stop-color="#00ed6a"/><stop offset="25%" stop-color="#00eb14"/><stop offset="31.2%" stop-color="#00eb02"/><stop offset="37.5%" stop-color="#00eb00"/><stop offset="43.8%" stop-color="#00eb00"/><stop offset="50%" stop-color="#00eb00"/><stop offset="56.2%" stop-color="#00eb00"/><stop offset="62.5%" stop-color="#00eb00"/><stop offset="68.8%" stop-color="#00eb00"/><stop offset="75%" stop-color="#23ed00"/><stop offset="81.2%" stop-color="#46ef00"/><stop offset="87.5%" stop-color="#5df000"/><stop offset="93.8%" stop-color="#69f100"/><stop offset="100%" stop-color="#68f100"/></linearGradient>
<linearGradient id="ga47"><stop offset="0%" stop-color="#00cff7"/><stop offset="6.2%" stop-color="#00def1"/><stop offset="12.5%" stop-color="#00e8cf"/><stop offset="18.8%" stop-color="#00ee9a"/><stop offset="25%" stop-color="#00ec47"/><stop offset="31.2%" stop-color="#00eb0d"/><stop offset="37.5%" stop-color="#00eb00"/><stop offset="43.8%" stop-color="#00eb00"/><stop offset="50%" stop-color="#00eb00"/><stop offset="56.2%" stop-color="#00eb00"/><stop offset="62.5%" stop-color="#00eb00"/><stop offset="68.8%" stop-color="#00eb00"/><stop offset="75%" stop-color="#00eb00"/><stop offset="81.2%" stop-color="#00eb00"/><stop offset="87.5%" stop-color="#0fec00"/><stop offset="93.8%" stop-color="#1aed00"/><stop offset="100%" stop-color="#1aed00"/></linearGradient>
<clipPath id="cla"><path d="M0 698.2L332.4 698.2L364.9 688.4L397.4 678.9L429.9 670L462.4 661.5L494.9 653.5L527.4 645.9L559.9 638.8L592.4 632.1L624.8 625.9L657.3 620.2L689.8 614.9L722.3 610L754.8 605.7L787.3 601.8L819.8 598.3L852.3 595.3L884.8 592.8L917.3 590.7L949.8 589.1L982.3 587.9L1014.8 587.2L1047.2 587L1079.7 587.2L1112.2 587.9L1144.7 589L1177.2 590.6L1209.7 592.7L1242.2 595.2L1274.7 598.2L1307.2 601.6L2186 601.6L2186 0L0 0Z"/></clipPath>
<linearGradient id="gb0"><stop offset="0%" stop-color="#00f690"/><stop offset="6.2%" stop-color="#00f67d"/><stop offset="12.5%" stop-color="#00f769"/><stop offset="18.8%" stop-color="#00f855"/><stop offset="25%" stop-color="#00f841"/><stop offset="31.2%" stop-color="#00f92c"/><stop offset="37.5%" stop-color="#00fa17"/><stop offset="43.8%" stop-color="#00fb0f"/><stop offset="50%" stop-color="#00fd08"/><stop offset="56.2%" stop-color="#00fe02"/><stop offset="62.5%" stop-color="#00ff00"/><stop offset="68.8%" stop-color="#00ff00"/><stop offset="75%" stop-color="#00ff00"/><stop offset="81.2%" stop-color="#00ff00"/><stop offset="87.5%" stop-color="#00ff00"/><stop offset="93.8%" stop-color="#00ff00"/><stop offset="100%" stop-color="#00ff00"/></linearGradient>
<linearGradient id="gb1"><stop offset="0%" stop-color="#00f683"/><stop offset="6.2%" stop-color="#00f76d"/><stop offset="12.5%" stop-color="#00f856"/><stop offset="18.8%" stop-color="#00f83f"/><stop offset="25%" stop-color="#00f927"/><stop offset="31.2%" stop-color="#00fa13"/><stop offset="37.5%" stop-color="#00fc0c"/><stop offset="43.8%" stop-color="#00fe05"/><stop offset="50%" stop-color="#00ff00"/><stop offset="56.2%" stop-color="#00ff00"/><stop offset="62.5%" stop-color="#00ff00"/><stop offset="68.8%" stop-color="#00ff00"/><stop offset="75%" stop-color="#00ff00"/><stop offset="81.2%" stop-color="#00ff00"/><stop offset="87.5%" stop-color="#00ff00"/><stop offset="93.8%" stop-color="#00ff00"/><stop offset="100%" stop-color="#00ff00"/></linearGradient>
<linearGradient id="gb2"><stop offset="0%" stop-color="#00f678"/><stop offset="6.2%" stop-color="#00f75e"/><stop offset="12.5%" stop-color="#00f844"/><stop offset="18.8%" stop-color="#00f92a"/><stop offset="25%" stop-color="#00fa13"/><stop offset="31.2%" stop-color="#00fc0b"/><stop offset="37.5%" stop-color="#00fe03"/><stop offset="43.8%" stop-color="#00ff00"/><stop offset="50%" stop-color="#00ff00"/><stop offset="56.2%" stop-color="#00ff00"/><stop offset="62.5%" stop-color="#00ff00"/><stop offset="68.8%" stop-color="#00ff00"/><stop offset="75%" stop-color="#00ff00"/><stop offset="81.2%" stop-color="#00ff00"/><stop offset="87.5%" stop-color="#00ff00"/><stop offset="93.8%" stop-color="#2eff00"/><stop offset="100%" stop-color="#69ff00"/></linearGradient>
<linearGradient id="gb3"><stop offset="0%" stop-color="#00f76f"/><stop offset="6.2%" stop-color="#00f852"/><stop offset="12.5%" stop-color="#00f935"/><stop offset="18.8%" stop-color="#00fa17"/><stop offset="25%" stop-color="#00fc0c"/><stop offset="31.2%" stop-color="#00fe04"/><stop offset="37.5%" stop-color="#00ff00"/><stop offset="43.8%" stop-color="#00ff00"/><stop offset="50%" stop-color="#00ff00"/><stop offset="56.2%" stop-color="#00ff00"/><stop offset="62.5%" stop-color="#00ff00"/><stop offset="68.8%" stop-color="#00ff00"/><stop offset="75%" stop-color="#00ff00"/><stop offset="81.2%" stop-color="#1aff00"/><stop offset="87.5%" stop-color="#5bff00"/><stop offset="93.8%" stop-color="#9cff00"/><stop offset="100%" stop-color="#c4ff00"/></linearGradient>
<linearGradient id="gb4"><stop offset="0%" stop-color="#00f767"/><stop offset="6.2%" stop-color="#00f847"/><stop offset="12.5%" stop-color="#00f927"/><stop offset="18.8%" stop-color="#00fb10"/><stop offset="25%" stop-color="#00fd07"/><stop offset="31.2%" stop-color="#00ff00"/><stop offset="37.5%" stop-color="#00ff00"/><stop offset="43.8%" stop-color="#00ff00"/><stop offset="50%" stop-color="#00ff00"/><stop offset="56.2%" stop-color="#00ff00"/><stop offset="62.5%" stop-color="#00ff00"/><stop offset="68.8%" stop-color="#00ff00"/><stop offset="75%" stop-color="#33ff00"/><stop offset="81.2%" stop-color="#79ff00"/><stop offset="87.5%" stop-color="#b5ff00"/><stop offset="93.8%" stop-color="#d9ff00"/><stop offset="100%" stop-color="#fdff00"/></linearGradient>
<linearGradient id="gb5"><stop offset="0%" stop-color="#00f762"/><stop offset="6.2%" stop-color="#00f83e"/><stop offset="12.5%" stop-color="#00fa1b"/><stop offset="18.8%" stop-color="#00fc0c"/><stop offset="25%" stop-color="#00ff01"/><stop offset="31.2%" stop-color="#00ff00"/><stop offset="37.5%" stop-color="#00ff00"/><stop offset="43.8%" stop-color="#00ff00"/><stop offset="50%" stop-color="#00ff00"/><stop offset="56.2%" stop-color="#00ff00"/><stop offset="62.5%" stop-color="#00ff00"/><stop offset="68.8%" stop-color="#3cff00"/><stop offset="75%" stop-color="#88ff00"/><stop offset="81.2%" stop-color="#bfff00"/><stop offset="87.5%" stop-color="#e6ff00"/><stop offset="93.8%" stop-color="#fff800"/><stop offset="100%" stop-color="#ffe200"/></linearGradient>
<linearGradient id="gb6"><stop offset="0%" stop-color="#00f75e"/><stop offset="6.2%" stop-color="#00f937"/><stop offset="12.5%" stop-color="#00fa13"/><stop offset="18.8%" stop-color="#00fd08"/><stop offset="25%" stop-color="#00ff00"/><stop offset="31.2%" stop-color="#00ff00"/><stop offset="37.5%" stop-color="#00ff00"/><stop offset="43.8%" stop-color="#00ff00"/><stop offset="50%" stop-color="#00ff00"/><stop offset="56.2%" stop-color="#00ff00"/><stop offset="62.5%" stop-color="#37ff00"/><stop offset="68.8%" stop-color="#88ff00"/><stop offset="75%" stop-color="#c2ff00"/><stop offset="81.2%" stop-color="#ebff00"/><stop offset="87.5%" stop-color="#fff300"/><stop offset="93.8%" stop-color="#ffdc00"/><stop offset="100%" stop-color="#ffc400"/></linearGradient>
<linearGradient id="gb7"><stop offset="0%" stop-color="#00f75c"/><stop offset="6.2%" stop-color="#00f932"/><stop offset="12.5%" stop-color="#00fb11"/><stop offset="18.8%" stop-color="#00fe05"/><stop offset="25%" stop-color="#00ff00"/><stop offset="31.2%" stop-color="#00ff00"/><stop offset="37.5%" stop-color="#00ff00"/><stop offset="43.8%" stop-color="#00ff00"/><stop offset="50%" stop-color="#00ff00"/><stop offset="56.2%" stop-color="#21ff00"/><stop offset="62.5%" stop-color="#78ff00"/><stop offset="68.8%" stop-color="#bdff00"/><stop offset="75%" stop-color="#e9ff00"/><stop offset="81.2%" stop-color="#fff300"/><stop offset="87.5%" stop-color="#ffda00"/><stop offset="93.8%" stop-color="#ffc100"/><stop offset="100%" stop-color="#ffa700"/></linearGradient>
<linearGradient id="gb8"><stop offset="0%" stop-color="#00f75c"/><stop offset="6.2%" stop-color="#00f92f"/><stop offset="12.5%" stop-color="#00fb0f"/><stop offset="18.8%" stop-color="#00ff02"/><stop offset="25%" stop-color="#00ff00"/><stop offset="31.2%" stop-color="#00ff00"/><stop offset="37.5%" stop-color="#00ff00"/><stop offset="43.8%" stop-color="#00ff00"/><stop offset="50%" stop-color="#00ff00"/><stop offset="56.2%" stop-color="#59ff00"/><stop offset="62.5%" stop-color="#b0ff00"/><stop offset="68.8%" stop-color="#dfff00"/><stop offset="75%" stop-color="#fff700"/><stop offset="81.2%" stop-color="#ffdc00"/><stop offset="87.5%" stop-color="#ffc200"/><stop offset="93.8%" stop-color="#ffa600"/><stop offset="100%" stop-color="#ff7b00"/></linearGradient>
<linearGradient id="gb9"><stop offset="0%" stop-color="#00f75d"/><stop offset="6.2%" stop-color="#00f92d"/><stop offset="12.5%" stop-color="#00fc0d"/><stop offset="18.8%" stop-color="#00ff00"/><stop offset="25%" stop-color="#00ff00"/><stop offset="31.2%" stop-color="#00ff00"/><stop offset="37.5%" stop-color="#00ff00"/><stop offset="43.8%" stop-color="#00ff00"/><stop offset="50%" stop-color="#2bff00"/><stop offset="56.2%" stop-color="#8eff00"/><stop offset="62.5%" stop-color="#cdff00"/><stop offset="68.8%" stop-color="#ffff00"/><stop offset="75%" stop-color="#ffe300"/><stop offset="81.2%" stop-color="#ffc700"/><stop offset="87.5%" stop-color="#ffab00"/><stop offset="93.8%" stop-color="#ff7e00"/><stop offset="100%" stop-color="#ff5100"/></linearGradient>
<linearGradient id="gb10"><stop offset="0%" stop-color="#00f761"/><stop offset="6.2%" stop-color="#00f92e"/><stop offset="12.5%" stop-color="#00fc0d"/><stop offset="18.8%" stop-color="#00ff00"/><stop offset="25%" stop-color="#00ff00"/><stop offset="31.2%" stop-color="#00ff00"/><stop offset="37.5%" stop-color="#00ff00"/><stop offset="43.8%" stop-color="#00ff00"/><stop offset="50%" stop-color="#56ff00"/><stop offset="56.2%" stop-color="#b4ff00"/><stop offset="62.5%" stop-color="#e9ff00"/><stop offset="68.8%" stop-color="#ffee00"/><stop offset="75%" stop-color="#ffd000"/><stop offset="81.2%" stop-color="#ffb300"/><stop offset="87.5%" stop-color="#ff8800"/><stop offset="93.8%" stop-color="#ff5800"/><stop offset="100%" stop-color="#ff2800"/></linearGradient>
<linearGradient id="gb11"><stop offset="0%" stop-color="#00f766"/><stop offset="6.2%" stop-color="#00f930"/><stop offset="12.5%" stop-color="#00fc0c"/><stop offset="18.8%" stop-color="#00ff00"/><stop offset="25%" stop-color="#00ff00"/><stop offset="31.2%" stop-color="#00ff00"/><stop offset="37.5%" stop-color="#00ff00"/><stop offset="43.8%" stop-color="#0eff00"/><stop offset="50%" stop-color="#7cff00"/><stop offset="56.2%" stop-color="#cbff00"/><stop offset="62.5%" stop-color="#fffd00"/><stop offset="68.8%" stop-color="#ffde00"/><stop offset="75%" stop-color="#ffbf00"/><stop offset="81.2%" stop-color="#ff9900"/><stop offset="87.5%" stop-color="#ff6700"/><stop offset="93.8%" stop-color="#ff3400"/><stop offset="100%" stop-color="#ff1200"/></linearGradient>
<linearGradient id="gb12"><stop offset="0%" stop-color="#00f76d"/><stop offset="6.2%" stop-color="#00f934"/><stop offset="12.5%" stop-color="#00fc0d"/><stop offset="18.8%" stop-color="#00ff00"/><stop offset="25%" stop-color="#00ff00"/><stop offset="31.2%" stop-color="#00ff00"/><stop offset="37.5%" stop-color="#00ff00"/><stop offset="43.8%" stop-color="#2bff00"/><stop offset="50%" stop-color="#9fff00"/><stop offset="56.2%" stop-color="#dfff00"/><stop offset="62.5%" stop-color="#fff000"/><stop offset="68.8%" stop-color="#ffcf00"/><stop offset="75%" stop-color="#ffae00"/><stop offset="81.2%" stop-color="#ff7c00"/><stop offset="87.5%" stop-color="#ff4700"/><stop offset="93.8%" stop-color="#ff1400"/><stop offset="100%" stop-color="#ff0e00"/></linearGradient>
<linearGradient id="gb13"><stop offset="0%" stop-color="#00f676"/><stop offset="6.2%" stop-color="#00f939"/><stop offset="12.5%" stop-color="#00fc0d"/><stop offset="18.8%" stop-color="#00ff00"/><stop offset="25%" stop-color="#00ff00"/><stop offset="31.2%" stop-color="#00ff00"/><stop offset="37.5%" stop-color="#00ff00"/><stop offset="43.8%" stop-color="#45ff00"/><stop offset="50%" stop-color="#b4ff00"/><stop offset="56.2%" stop-color="#f2ff00"/><stop offset="62.5%" stop-color="#ffe400"/><stop offset="68.8%" stop-color="#ffc100"/><stop offset="75%" stop-color="#ff9700"/><stop offset="81.2%" stop-color="#ff6000"/><stop offset="87.5%" stop-color="#ff2800"/><stop offset="93.8%" stop-color="#ff1000"/><stop offset="100%" stop-color="#ff0a00"/></linearGradient>
<linearGradient id="gb14"><stop offset="0%" stop-color="#00f677"/><stop offset="6.2%" stop-color="#00f93b"/><stop offset="12.5%" stop-color="#00fc0e"/><stop offset="18.8%" stop-color="#00ff00"/><stop offset="25%" stop-color="#00ff00"/><stop offset="31.2%" stop-color="#00ff00"/><stop offset="37.5%" stop-color="#00ff00"/><stop offset="43.8%" stop-color="#5aff00"/><stop offset="50%" stop-color="#c2ff00"/><stop offset="56.2%" stop-color="#fffd00"/><stop offset="62.5%" stop-color="#ffd900"/><stop offset="68.8%" stop-color="#ffb400"/><stop offset="75%" stop-color="#ff8000"/><stop offset="81.2%" stop-color="#ff4600"/><stop offset="87.5%" stop-color="#ff1300"/><stop offset="93.8%" stop-color="#ff0c00"/><stop offset="100%" stop-color="#ff0600"/></linearGradient>
<linearGradient id="gb15"><stop offset="0%" stop-color="#00f677"/><stop offset="6.2%" stop-color="#00f93d"/><stop offset="12.5%" stop-color="#00fb0f"/><stop offset="18.8%" stop-color="#00ff00"/><stop offset="25%" stop-color="#00ff00"/><stop offset="31.2%" stop-color="#00ff00"/><stop offset="37.5%" stop-color="#00ff00"/><stop offset="43.8%" stop-color="#6bff00"/><stop offset="50%" stop-color="#cdff00"/><stop offset="56.2%" stop-color="#fff500"/><stop offset="62.5%" stop-color="#ffcf00"/><stop offset="68.8%" stop-color="#ffa700"/><stop offset="75%" stop-color="#ff6a00"/><stop offset="81.2%" stop-color="#ff2d00"/><stop offset="87.5%" stop-color="#ff1000"/><stop offset="93.8%" stop-color="#ff0900"/><stop offset="100%" stop-color="#ff0200"/></linearGradient>
<linearGradient id="gb16"><stop offset="0%" stop-color="#00f67a"/><stop offset="6.2%" stop-color="#00f841"/><stop offset="12.5%" stop-color="#00fb10"/><stop offset="18.8%" stop-color="#00ff00"/><stop offset="25%" stop-color="#00ff00"/><stop offset="31.2%" stop-color="#00ff00"/><stop offset="37.5%" stop-color="#00ff00"/><stop offset="43.8%" stop-color="#77ff00"/><stop offset="50%" stop-color="#d6ff00"/><stop offset="56.2%" stop-color="#ffee00"/><stop offset="62.5%" stop-color="#ffc600"/><stop offset="68.8%" stop-color="#ff9600"/><stop offset="75%" stop-color="#ff5600"/><stop offset="81.2%" stop-color="#ff1600"/><stop offset="87.5%" stop-color="#ff0d00"/><stop offset="93.8%" stop-color="#ff0600"/><stop offset="100%" stop-color="#ff0000"/></linearGradient>
<linearGradient id="gb17"><stop offset="0%" stop-color="#00f67e"/><stop offset="6.2%" stop-color="#00f847"/><stop offset="12.5%" stop-color="#00fa12"/><stop offset="18.8%" stop-color="#00ff00"/><stop offset="25%" stop-color="#00ff00"/><stop offset="31.2%" stop-color="#00ff00"/><stop offset="37.5%" stop-color="#00ff00"/><stop offset="43.8%" stop-color="#7fff00"/><stop offset="50%" stop-color="#ddff00"/><stop offset="56.2%" stop-color="#ffe900"/><stop offset="62.5%" stop-color="#ffbf00"/><stop offset="68.8%" stop-color="#ff8700"/><stop offset="75%" stop-color="#ff4400"/><stop offset="81.2%" stop-color="#ff1200"/><stop offset="87.5%" stop-color="#ff0a00"/><stop offset="93.8%" stop-color="#ff0300"/><stop offset="100%" stop-color="#ff0000"/></linearGradient>
<linearGradient id="gb18"><stop offset="0%" stop-color="#00f684"/><stop offset="6.2%" stop-color="#00f84e"/><stop offset="12.5%" stop-color="#00fa18"/><stop offset="18.8%" stop-color="#00fe03"/><stop offset="25%" stop-color="#00ff00"/><stop offset="31.2%" stop-color="#00ff00"/><stop offset="37.5%" stop-color="#00ff00"/><stop offset="43.8%" stop-color="#82ff00"/><stop offset="50%" stop-color="#e1ff00"/><stop offset="56.2%" stop-color="#ffe500"/><stop offset="62.5%" stop-color="#ffb800"/><stop offset="68.8%" stop-color="#ff7a00"/><stop offset="75%" stop-color="#ff3300"/><stop offset="81.2%" stop-color="#ff1000"/><stop offset="87.5%" stop-color="#ff0800"/><stop offset="93.8%" stop-color="#ff0000"/><stop offset="100%" stop-color="#ff0000"/></linearGradient>
<linearGradient id="gb19"><stop offset="0%" stop-color="#00f68c"/><stop offset="6.2%" stop-color="#00f857"/><stop offset="12.5%" stop-color="#00f922"/><stop offset="18.8%" stop-color="#00fe06"/><stop offset="25%" stop-color="#00ff00"/><stop offset="31.2%" stop-color="#00ff00"/><stop offset="37.5%" stop-color="#00ff00"/><stop offset="43.8%" stop-color="#80ff00"/><stop offset="50%" stop-color="#e2ff00"/><stop offset="56.2%" stop-color="#ffe200"/><stop offset="62.5%" stop-color="#ffb400"/><stop offset="68.8%" stop-color="#ff6e00"/><stop offset="75%" stop-color="#ff2400"/><stop offset="81.2%" stop-color="#ff0e00"/><stop offset="87.5%" stop-color="#ff0600"/><stop offset="93.8%" stop-color="#ff0000"/><stop offset="100%" stop-color="#ff0000"/></linearGradient>
<linearGradient id="gb20"><stop offset="0%" stop-color="#00f596"/><stop offset="6.2%" stop-color="#00f763"/><stop offset="12.5%" stop-color="#00f92f"/><stop offset="18.8%" stop-color="#00fd09"/><stop offset="25%" stop-color="#00ff00"/><stop offset="31.2%" stop-color="#00ff00"/><stop offset="37.5%" stop-color="#00ff00"/><stop offset="43.8%" stop-color="#78ff00"/><stop offset="50%" stop-color="#e0ff00"/><stop offset="56.2%" stop-color="#ffe200"/><stop offset="62.5%" stop-color="#ffb100"/><stop offset="68.8%" stop-color="#ff6500"/><stop offset="75%" stop-color="#ff1700"/><stop offset="81.2%" stop-color="#ff0c00"/><stop offset="87.5%" stop-color="#ff0300"/><stop offset="93.8%" stop-color="#ff0000"/><stop offset="100%" stop-color="#ff0000"/></linearGradient>
<linearGradient id="gb21"><stop offset="0%" stop-color="#00f5a1"/><stop offset="6.2%" stop-color="#00f770"/><stop offset="12.5%" stop-color="#00f93e"/><stop offset="18.8%" stop-color="#00fc0d"/><stop offset="25%" stop-color="#00ff00"/><stop offset="31.2%" stop-color="#00ff00"/><stop offset="37.5%" stop-color="#00ff00"/><stop offset="43.8%" stop-color="#6bff00"/><stop offset="50%" stop-color="#dbff00"/><stop offset="56.2%" stop-color="#ffe300"/><stop offset="62.5%" stop-color="#ffaf00"/><stop offset="68.8%" stop-color="#ff5e00"/><stop offset="75%" stop-color="#ff1300"/><stop offset="81.2%" stop-color="#ff0a00"/><stop offset="87.5%" stop-color="#ff0100"/><stop offset="93.8%" stop-color="#ff0000"/><stop offset="100%" stop-color="#ff0000"/></linearGradient>
<linearGradient id="gb22"><stop offset="0%" stop-color="#00f4a8"/><stop offset="6.2%" stop-color="#00f67f"/><stop offset="12.5%" stop-color="#00f84e"/><stop offset="18.8%" stop-color="#00fb12"/><stop offset="25%" stop-color="#00ff00"/><stop offset="31.2%" stop-color="#00ff00"/><stop offset="37.5%" stop-color="#00ff00"/><stop offset="43.8%" stop-color="#57ff00"/><stop offset="50%" stop-color="#d2ff00"/><stop offset="56.2%" stop-color="#ffe500"/><stop offset="62.5%" stop-color="#ffaf00"/><stop offset="68.8%" stop-color="#ff5800"/><stop offset="75%" stop-color="#ff1200"/><stop offset="81.2%" stop-color="#ff0900"/><stop offset="87.5%" stop-color="#ff0000"/><stop offset="93.8%" stop-color="#ff0000"/><stop offset="100%" stop-color="#ff0000"/></linearGradient>
<linearGradient id="gb23"><stop offset="0%" stop-color="#00f2b1"/><stop offset="6.2%" stop-color="#00f68f"/><stop offset="12.5%" stop-color="#00f760"/><stop offset="18.8%" stop-color="#00fa1e"/><stop offset="25%" stop-color="#00ff00"/><stop offset="31.2%" stop-color="#00ff00"/><stop offset="37.5%" stop-color="#00ff00"/><stop offset="43.8%" stop-color="#3fff00"/><stop offset="50%" stop-color="#c7ff00"/><stop offset="56.2%" stop-color="#ffea00"/><stop offset="62.5%" stop-color="#ffb000"/><stop offset="68.8%" stop-color="#ff5500"/><stop offset="75%" stop-color="#ff1100"/><stop offset="81.2%" stop-color="#ff0700"/><stop offset="87.5%" stop-color="#ff0000"/><stop offset="93.8%" stop-color="#ff0000"/><stop offset="100%" stop-color="#ff0000"/></linearGradient>
<linearGradient id="gb24"><stop offset="0%" stop-color="#00f1ba"/><stop offset="6.2%" stop-color="#00f5a1"/><stop offset="12.5%" stop-color="#00f774"/><stop offset="18.8%" stop-color="#00f932"/><stop offset="25%" stop-color="#00ff02"/><stop offset="31.2%" stop-color="#00ff00"/><stop offset="37.5%" stop-color="#00ff00"/><stop offset="43.8%" stop-color="#21ff00"/><stop offset="50%" stop-color="#b9ff00"/><stop offset="56.2%" stop-color="#fff000"/><stop offset="62.5%" stop-color="#ffb200"/><stop offset="68.8%" stop-color="#ff5300"/><stop offset="75%" stop-color="#ff1000"/><stop offset="81.2%" stop-color="#ff0600"/><stop offset="87.5%" stop-color="#ff0000"/><stop offset="93.8%" stop-color="#ff0000"/><stop offset="100%" stop-color="#ff0000"/></linearGradient>
<linearGradient id="gb25"><stop offset="0%" stop-color="#00efc4"/><stop offset="6.2%" stop-color="#00f3ac"/><stop offset="12.5%" stop-color="#00f68a"/><stop offset="18.8%" stop-color="#00f848"/><stop offset="25%" stop-color="#00fd07"/><stop offset="31.2%" stop-color="#00ff00"/><stop offset="37.5%" stop-color="#00ff00"/><stop offset="43.8%" stop-color="#00ff00"/><stop offset="50%" stop-color="#a8ff00"/><stop offset="56.2%" stop-color="#fff700"/><stop offset="62.5%" stop-color="#ffb600"/><stop offset="68.8%" stop-color="#ff5400"/><stop offset="75%" stop-color="#ff1000"/><stop offset="81.2%" stop-color="#ff0500"/><stop offset="87.5%" stop-color="#ff0000"/><stop offset="93.8%" stop-color="#ff0000"/><stop offset="100%" stop-color="#ff0000"/></linearGradient>
<linearGradient id="gb26"><stop offset="0%" stop-color="#00eecf"/><stop offset="6.2%" stop-color="#00f1b8"/><stop offset="12.5%" stop-color="#00f5a1"/><stop offset="18.8%" stop-color="#00f75f"/><stop offset="25%" stop-color="#00fc0d"/><stop offset="31.2%" stop-color="#00ff00"/><stop offset="37.5%" stop-color="#00ff00"/><stop offset="43.8%" stop-color="#00ff00"/><stop offset="50%" stop-color="#84ff00"/><stop offset="56.2%" stop-color="#ffff00"/><stop offset="62.5%" stop-color="#ffbb00"/><stop offset="68.8%" stop-color="#ff5600"/><stop offset="75%" stop-color="#ff1000"/><stop offset="81.2%" stop-color="#ff0500"/><stop offset="87.5%" stop-color="#ff0000"/><stop offset="93.8%" stop-color="#ff0000"/><stop offset="100%" stop-color="#ff0000"/></linearGradient>
<linearGradient id="gb27"><stop offset="0%" stop-color="#00ecdc"/><stop offset="6.2%" stop-color="#00efc5"/><stop offset="12.5%" stop-color="#00f3af"/><stop offset="18.8%" stop-color="#00f678"/><stop offset="25%" stop-color="#00fa14"/><stop offset="31.2%" stop-color="#00ff00"/><stop offset="37.5%" stop-color="#00ff00"/><stop offset="43.8%" stop-color="#00ff00"/><stop offset="50%" stop-color="#5eff00"/><stop offset="56.2%" stop-color="#f0ff00"/><stop offset="62.5%" stop-color="#ffc000"/><stop offset="68.8%" stop-color="#ff5900"/><stop offset="75%" stop-color="#ff0f00"/><stop offset="81.2%" stop-color="#ff0400"/><stop offset="87.5%" stop-color="#ff0000"/><stop offset="93.8%" stop-color="#ff0000"/><stop offset="100%" stop-color="#ff0000"/></linearGradient>
<linearGradient id="gb28"><stop offset="0%" stop-color="#00e9e9"/><stop offset="6.2%" stop-color="#00edd3"/><stop offset="12.5%" stop-color="#00f0bd"/><stop offset="18.8%" stop-color="#00f593"/><stop offset="25%" stop-color="#00f92b"/><stop offset="31.2%" stop-color="#00ff00"/><stop offset="37.5%" stop-color="#00ff00"/><stop offset="43.8%" stop-color="#00ff00"/><stop offset="50%" stop-color="#37ff00"/><stop offset="56.2%" stop-color="#e0ff00"/><stop offset="62.5%" stop-color="#ffc600"/><stop offset="68.8%" stop-color="#ff5d00"/><stop offset="75%" stop-color="#ff0f00"/><stop offset="81.2%" stop-color="#ff0400"/><stop offset="87.5%" stop-color="#ff0000"/><stop offset="93.8%" stop-color="#ff0000"/><stop offset="100%" stop-color="#ff0000"/></linearGradient>
<linearGradient id="gb29"><stop offset="0%" stop-color="#00e7f7"/><stop offset="6.2%" stop-color="#00ebe2"/><stop offset="12.5%" stop-color="#00eecd"/><stop offset="18.8%" stop-color="#00f4a9"/><stop offset="25%" stop-color="#00f845"/><stop offset="31.2%" stop-color="#00fd06"/><stop offset="37.5%" stop-color="#00ff00"/><stop offset="43.8%" stop-color="#00ff00"/><stop offset="50%" stop-color="#12ff00"/><stop offset="56.2%" stop-color="#d1ff00"/><stop offset="62.5%" stop-color="#ffcc00"/><stop offset="68.8%" stop-color="#ff6200"/><stop offset="75%" stop-color="#ff0f00"/><stop offset="81.2%" stop-color="#ff0300"/><stop offset="87.5%" stop-color="#ff0000"/><stop offset="93.8%" stop-color="#ff0000"/><stop offset="100%" stop-color="#ff0000"/></linearGradient>
<linearGradient id="gb30"><stop offset="0%" stop-color="#00deff"/><stop offset="6.2%" stop-color="#00e8f2"/><stop offset="12.5%" stop-color="#00ebde"/><stop offset="18.8%" stop-color="#00f1b9"/><stop offset="25%" stop-color="#00f761"/><stop offset="31.2%" stop-color="#00fc0d"/><stop offset="37.5%" stop-color="#00ff00"/><stop offset="43.8%" stop-color="#00ff00"/><stop offset="50%" stop-color="#00ff00"/><stop offset="56.2%" stop-color="#c2ff00"/><stop offset="62.5%" stop-color="#ffd200"/><stop offset="68.8%" stop-color="#ff6700"/><stop offset="75%" stop-color="#ff1000"/><stop offset="81.2%" stop-color="#ff0300"/><stop offset="87.5%" stop-color="#ff0000"/><stop offset="93.8%" stop-color="#ff0000"/><stop offset="100%" stop-color="#ff0000"/></linearGradient>
<linearGradient id="gb31"><stop offset="0%" stop-color="#00cbff"/><stop offset="6.2%" stop-color="#00e1ff"/><stop offset="12.5%" stop-color="#00e8f0"/><stop offset="18.8%" stop-color="#00eecb"/><stop offset="25%" stop-color="#00f67e"/><stop offset="31.2%" stop-color="#00fa17"/><stop offset="37.5%" stop-color="#00ff00"/><stop offset="43.8%" stop-color="#00ff00"/><stop offset="50%" stop-color="#00ff00"/><stop offset="56.2%" stop-color="#b5ff00"/><stop offset="62.5%" stop-color="#ffd800"/><stop offset="68.8%" stop-color="#ff6d00"/><stop offset="75%" stop-color="#ff1000"/><stop offset="81.2%" stop-color="#ff0300"/><stop offset="87.5%" stop-color="#ff0000"/><stop offset="93.8%" stop-color="#ff0000"/><stop offset="100%" stop-color="#ff0000"/></linearGradient>
<linearGradient id="gb32"><stop offset="0%" stop-color="#00b7ff"/><stop offset="6.2%" stop-color="#00ccff"/><stop offset="12.5%" stop-color="#00e2ff"/><stop offset="18.8%" stop-color="#00ebdd"/><stop offset="25%" stop-color="#00f59d"/><stop offset="31.2%" stop-color="#00f932"/><stop offset="37.5%" stop-color="#00ff01"/><stop offset="43.8%" stop-color="#00ff00"/><stop offset="50%" stop-color="#00ff00"/><stop offset="56.2%" stop-color="#a7ff00"/><stop offset="62.5%" stop-color="#ffdd00"/><stop offset="68.8%" stop-color="#ff7400"/><stop offset="75%" stop-color="#ff1100"/><stop offset="81.2%" stop-color="#ff0300"/><stop offset="87.5%" stop-color="#ff0000"/><stop offset="93.8%" stop-color="#ff0000"/><stop offset="100%" stop-color="#ff0000"/></linearGradient>
<linearGradient id="gb33"><stop offset="0%" stop-color="#00a2ff"/><stop offset="6.2%" stop-color="#00b6ff"/><stop offset="12.5%" stop-color="#00cbff"/><stop offset="18.8%" stop-color="#00e8f1"/><stop offset="25%" stop-color="#00f3b0"/><stop offset="31.2%" stop-color="#00f84e"/><stop offset="37.5%" stop-color="#00fd08"/><stop offset="43.8%" stop-color="#00ff00"/><stop offset="50%" stop-color="#00ff00"/><stop offset="56.2%" stop-color="#90ff00"/><stop offset="62.5%" stop-color="#ffe300"/><stop offset="68.8%" stop-color="#ff7b00"/><stop offset="75%" stop-color="#ff1100"/><stop offset="81.2%" stop-color="#ff0400"/><stop offset="87.5%" stop-color="#ff0000"/><stop offset="93.8%" stop-color="#ff0000"/><stop offset="100%" stop-color="#ff0000"/></linearGradient>
<linearGradient id="gb34"><stop offset="0%" stop-color="#008cff"/><stop offset="6.2%" stop-color="#009fff"/><stop offset="12.5%" stop-color="#00b3ff"/><stop offset="18.8%" stop-color="#00dfff"/><stop offset="25%" stop-color="#00f0c2"/><stop offset="31.2%" stop-color="#00f76c"/><stop offset="37.5%" stop-color="#00fb0f"/><stop offset="43.8%" stop-color="#00ff00"/><stop offset="50%" stop-color="#00ff00"/><stop offset="56.2%" stop-color="#7aff00"/><stop offset="62.5%" stop-color="#ffe800"/><stop offset="68.8%" stop-color="#ff8300"/><stop offset="75%" stop-color="#ff1200"/><stop offset="81.2%" stop-color="#ff0400"/><stop offset="87.5%" stop-color="#ff0000"/><stop offset="93.8%" stop-color="#ff0000"/><stop offset="100%" stop-color="#ff0000"/></linearGradient>
<linearGradient id="gb35"><stop offset="0%" stop-color="#0074ff"/><stop offset="6.2%" stop-color="#0087ff"/><stop offset="12.5%" stop-color="#009aff"/><stop offset="18.8%" stop-color="#00c6ff"/><stop offset="25%" stop-color="#00edd6"/><stop offset="31.2%" stop-color="#00f68b"/><stop offset="37.5%" stop-color="#00fa1d"/><stop offset="43.8%" stop-color="#00ff00"/><stop offset="50%" stop-color="#00ff00"/><stop offset="56.2%" stop-color="#65ff00"/><stop offset="62.5%" stop-color="#ffee00"/><stop offset="68.8%" stop-color="#ff8c00"/><stop offset="75%" stop-color="#ff1300"/><stop offset="81.2%" stop-color="#ff0500"/><stop offset="87.5%" stop-color="#ff0000"/><stop offset="93.8%" stop-color="#ff0000"/><stop offset="100%" stop-color="#ff0000"/></linearGradient>
<linearGradient id="gb36"><stop offset="0%" stop-color="#0059ff"/><stop offset="6.2%" stop-color="#006dff"/><stop offset="12.5%" stop-color="#0080ff"/><stop offset="18.8%" stop-color="#00adff"/><stop offset="25%" stop-color="#00e9ea"/><stop offset="31.2%" stop-color="#00f4a6"/><stop offset="37.5%" stop-color="#00f937"/><stop offset="43.8%" stop-color="#00ff00"/><stop offset="50%" stop-color="#00ff00"/><stop offset="56.2%" stop-color="#4eff00"/><stop offset="62.5%" stop-color="#fff400"/><stop offset="68.8%" stop-color="#ff9600"/><stop offset="75%" stop-color="#ff1400"/><stop offset="81.2%" stop-color="#ff0600"/><stop offset="87.5%" stop-color="#ff0000"/><stop offset="93.8%" stop-color="#ff0000"/><stop offset="100%" stop-color="#ff0000"/></linearGradient>
<linearGradient id="gb37"><stop offset="0%" stop-color="#003dff"/><stop offset="6.2%" stop-color="#0050ff"/><stop offset="12.5%" stop-color="#0063ff"/><stop offset="18.8%" stop-color="#0091ff"/><stop offset="25%" stop-color="#00e6ff"/><stop offset="31.2%" stop-color="#00f1b9"/><stop offset="37.5%" stop-color="#00f853"/><stop offset="43.8%" stop-color="#00fe04"/><stop offset="50%" stop-color="#00ff00"/><stop offset="56.2%" stop-color="#34ff00"/><stop offset="62.5%" stop-color="#fffb00"/><stop offset="68.8%" stop-color="#ffa200"/><stop offset="75%" stop-color="#ff1d00"/><stop offset="81.2%" stop-color="#ff0700"/><stop offset="87.5%" stop-color="#ff0000"/><stop offset="93.8%" stop-color="#ff0000"/><stop offset="100%" stop-color="#ff0000"/></linearGradient>
<linearGradient id="gb38"><stop offset="0%" stop-color="#0020ff"/><stop offset="6.2%" stop-color="#0032ff"/><stop offset="12.5%" stop-color="#0043ff"/><stop offset="18.8%" stop-color="#0075ff"/><stop offset="25%" stop-color="#00ccff"/><stop offset="31.2%" stop-color="#00eecd"/><stop offset="37.5%" stop-color="#00f772"/><stop offset="43.8%" stop-color="#00fc0b"/><stop offset="50%" stop-color="#00ff00"/><stop offset="56.2%" stop-color="#17ff00"/><stop offset="62.5%" stop-color="#f8ff00"/><stop offset="68.8%" stop-color="#ffad00"/><stop offset="75%" stop-color="#ff2a00"/><stop offset="81.2%" stop-color="#ff0800"/><stop offset="87.5%" stop-color="#ff0000"/><stop offset="93.8%" stop-color="#ff0000"/><stop offset="100%" stop-color="#ff0000"/></linearGradient>
<linearGradient id="gb39"><stop offset="0%" stop-color="#0001ff"/><stop offset="6.2%" stop-color="#0012ff"/><stop offset="12.5%" stop-color="#0023ff"/><stop offset="18.8%" stop-color="#0055ff"/><stop offset="25%" stop-color="#00b1ff"/><stop offset="31.2%" stop-color="#00ebe1"/><stop offset="37.5%" stop-color="#00f692"/><stop offset="43.8%" stop-color="#00fa12"/><stop offset="50%" stop-color="#00ff00"/><stop offset="56.2%" stop-color="#00ff00"/><stop offset="62.5%" stop-color="#e7ff00"/><stop offset="68.8%" stop-color="#ffb600"/><stop offset="75%" stop-color="#ff3800"/><stop offset="81.2%" stop-color="#ff0a00"/><stop offset="87.5%" stop-color="#ff0000"/><stop offset="93.8%" stop-color="#ff0000"/><stop offset="100%" stop-color="#ff0000"/></linearGradient>
<linearGradient id="gb40"><stop offset="0%" stop-color="#0000ff"/><stop offset="6.2%" stop-color="#0000ff"/><stop offset="12.5%" stop-color="#0001ff"/><stop offset="18.8%" stop-color="#0034ff"/><stop offset="25%" stop-color="#0095ff"/><stop offset="31.2%" stop-color="#00e7f7"/><stop offset="37.5%" stop-color="#00f3ab"/><stop offset="43.8%" stop-color="#00f92a"/><stop offset="50%" stop-color="#00ff00"/><stop offset="56.2%" stop-color="#00ff00"/><stop offset="62.5%" stop-color="#d4ff00"/><stop offset="68.8%" stop-color="#ffc100"/><stop offset="75%" stop-color="#ff4800"/><stop offset="81.2%" stop-color="#ff0b00"/><stop offset="87.5%" stop-color="#ff0000"/><stop offset="93.8%" stop-color="#ff0000"/><stop offset="100%" stop-color="#ff0000"/></linearGradient>
<linearGradient id="gb41"><stop offset="0%" stop-color="#0000ff"/><stop offset="6.2%" stop-color="#0000ff"/><stop offset="12.5%" stop-color="#0000ff"/><stop offset="18.8%" stop-color="#0011ff"/><stop offset="25%" stop-color="#0078ff"/><stop offset="31.2%" stop-color="#00d4ff"/><stop offset="37.5%" stop-color="#00f0bf"/><stop offset="43.8%" stop-color="#00f84a"/><stop offset="50%" stop-color="#00ff00"/><stop offset="56.2%" stop-color="#00ff00"/><stop offset="62.5%" stop-color="#beff00"/><stop offset="68.8%" stop-color="#ffcd00"/><stop offset="75%" stop-color="#ff5900"/><stop offset="81.2%" stop-color="#ff0d00"/><stop offset="87.5%" stop-color="#ff0000"/><stop offset="93.8%" stop-color="#ff0000"/><stop offset="100%" stop-color="#ff0000"/></linearGradient>
<linearGradient id="gb42"><stop offset="0%" stop-color="#0000ff"/><stop offset="6.2%" stop-color="#0000ff"/><stop offset="12.5%" stop-color="#0000ff"/><stop offset="18.8%" stop-color="#0000ff"/><stop offset="25%" stop-color="#0056ff"/><stop offset="31.2%" stop-color="#00b8ff"/><stop offset="37.5%" stop-color="#00edd5"/><stop offset="43.8%" stop-color="#00f76c"/><stop offset="50%" stop-color="#00ff02"/><stop offset="56.2%" stop-color="#00ff00"/><stop offset="62.5%" stop-color="#9fff00"/><stop offset="68.8%" stop-color="#ffda00"/><stop offset="75%" stop-color="#ff6d00"/><stop offset="81.2%" stop-color="#ff0f00"/><stop offset="87.5%" stop-color="#ff0000"/><stop offset="93.8%" stop-color="#ff0000"/><stop offset="100%" stop-color="#ff0000"/></linearGradient>
<linearGradient id="gb43"><stop offset="0%" stop-color="#0000ff"/><stop offset="6.2%" stop-color="#0000ff"/><stop offset="12.5%" stop-color="#0000ff"/><stop offset="18.8%" stop-color="#0000ff"/><stop offset="25%" stop-color="#0034ff"/><stop offset="31.2%" stop-color="#009bff"/><stop offset="37.5%" stop-color="#00e9ec"/><stop offset="43.8%" stop-color="#00f692"/><stop offset="50%" stop-color="#00fc0b"/><stop offset="56.2%" stop-color="#00ff00"/><stop offset="62.5%" stop-color="#68ff00"/><stop offset="68.8%" stop-color="#ffe900"/><stop offset="75%" stop-color="#ff8200"/><stop offset="81.2%" stop-color="#ff1100"/><stop offset="87.5%" stop-color="#ff0200"/><stop offset="93.8%" stop-color="#ff0000"/><stop offset="100%" stop-color="#ff0000"/></linearGradient>
<linearGradient id="gb44"><stop offset="0%" stop-color="#0000ff"/><stop offset="6.2%" stop-color="#0000ff"/><stop offset="12.5%" stop-color="#0000ff"/><stop offset="18.8%" stop-color="#0000ff"/><stop offset="25%" stop-color="#0010ff"/><stop offset="31.2%" stop-color="#007cff"/><stop offset="37.5%" stop-color="#00e0ff"/><stop offset="43.8%" stop-color="#00f3ae"/><stop offset="50%" stop-color="#00fa1a"/><stop offset="56.2%" stop-color="#00ff00"/><stop offset="62.5%" stop-color="#2cff00"/><stop offset="68.8%" stop-color="#fff800"/><stop offset="75%" stop-color="#ff9900"/><stop offset="81.2%" stop-color="#ff1300"/><stop offset="87.5%" stop-color="#ff0400"/><stop offset="93.8%" stop-color="#ff0000"/><stop offset="100%" stop-color="#ff0000"/></linearGradient>
<linearGradient id="gb45"><stop offset="0%" stop-color="#0000ff"/><stop offset="6.2%" stop-color="#0000ff"/><stop offset="12.5%" stop-color="#0000ff"/><stop offset="18.8%" stop-color="#0000ff"/><stop offset="25%" stop-color="#0000ff"/><stop offset="31.2%" stop-color="#005aff"/><stop offset="37.5%" stop-color="#00c3ff"/><stop offset="43.8%" stop-color="#00efc5"/><stop offset="50%" stop-color="#00f841"/><stop offset="56.2%" stop-color="#00ff00"/><stop offset="62.5%" stop-color="#00ff00"/><stop offset="68.8%" stop-color="#edff00"/><stop offset="75%" stop-color="#ffaf00"/><stop offset="81.2%" stop-color="#ff2300"/><stop offset="87.5%" stop-color="#ff0600"/><stop offset="93.8%" stop-color="#ff0000"/><stop offset="100%" stop-color="#ff0000"/></linearGradient>
<linearGradient id="gb46"><stop offset="0%" stop-color="#0000ff"/><stop offset="6.2%" stop-color="#0000ff"/><stop offset="12.5%" stop-color="#0000ff"/><stop offset="18.8%" stop-color="#0000ff"/><stop offset="25%" stop-color="#0000ff"/><stop offset="31.2%" stop-color="#0036ff"/><stop offset="37.5%" stop-color="#00a4ff"/><stop offset="43.8%" stop-color="#00ebde"/><stop offset="50%" stop-color="#00f76b"/><stop offset="56.2%" stop-color="#00ff00"/><stop offset="62.5%" stop-color="#00ff00"/><stop offset="68.8%" stop-color="#ccff00"/><stop offset="75%" stop-color="#ffbf00"/><stop offset="81.2%" stop-color="#ff3a00"/><stop offset="87.5%" stop-color="#ff0800"/><stop offset="93.8%" stop-color="#ff0000"/><stop offset="100%" stop-color="#ff0000"/></linearGradient>
<linearGradient id="gb47"><stop offset="0%" stop-color="#0000ff"/><stop offset="6.2%" stop-color="#0000ff"/><stop offset="12.5%" stop-color="#0000ff"/><stop offset="18.8%" stop-color="#0000ff"/><stop offset="25%" stop-color="#0000ff"/><stop offset="31.2%" stop-color="#0010ff"/><stop offset="37.5%" stop-color="#0083ff"/><stop offset="43.8%" stop-color="#00e7f8"/><stop offset="50%" stop-color="#00f597"/><stop offset="56.2%" stop-color="#00fd09"/><stop offset="62.5%" stop-color="#00ff00"/><stop offset="68.8%" stop-color="#aaff00"/><stop offset="75%" stop-color="#ffd100"/><stop offset="81.2%" stop-color="#ff5400"/><stop offset="87.5%" stop-color="#ff0b00"/><stop offset="93.8%" stop-color="#ff0000"/><stop offset="100%" stop-color="#ff0000"/></linearGradient>
<clipPath id="clb"><path d="M0 1654.9L368.1 1654.9L398 1654.7L427.8 1654.4L457.7 1654.1L487.6 1653.8L517.5 1653.5L547.4 1653.2L577.2 1652.8L607.1 1652.4L637 1652.1L666.9 1651.6L696.7 1651.2L726.6 1650.8L756.5 1650.3L786.4 1649.8L816.2 1649.3L846.1 1648.8L876 1648.3L905.9 1647.7L935.8 1647.1L965.6 1646.5L995.5 1645.9L1025.4 1645.3L1055.3 1644.7L1085.1 1644L1115 1643.3L1144.9 1642.6L1174.8 1641.9L1204.7 1641.1L1234.5 1640.4L1264.4 1639.6L2186 1639.6L2186 0L0 0Z"/></clipPath>
<linearGradient id="gc0"><stop offset="0%" stop-color="#0076e8"/><stop offset="6.2%" stop-color="#00cff4"/><stop offset="12.5%" stop-color="#00e2e8"/><stop offset="18.8%" stop-color="#00eac4"/><stop offset="25%" stop-color="#00ed8b"/><stop offset="31.2%" stop-color="#00ed4d"/><stop offset="37.5%" stop-color="#00eb17"/><stop offset="43.8%" stop-color="#00eb00"/><stop offset="50%" stop-color="#00ec00"/><stop offset="56.2%" stop-color="#00ec00"/><stop offset="62.5%" stop-color="#00ed00"/><stop offset="68.8%" stop-color="#00ed00"/><stop offset="75%" stop-color="#00ee00"/><stop offset="81.2%" stop-color="#0aef00"/><stop offset="87.5%" stop-color="#1bef00"/><stop offset="93.8%" stop-color="#21f000"/><stop offset="100%" stop-color="#1cf000"/></linearGradient>
<linearGradient id="gc1"><stop offset="0%" stop-color="#0099ed"/><stop offset="6.2%" stop-color="#00dbf1"/><stop offset="12.5%" stop-color="#00e7e2"/><stop offset="18.8%" stop-color="#00ebab"/><stop offset="25%" stop-color="#00ee72"/><stop offset="31.2%" stop-color="#00ec30"/><stop offset="37.5%" stop-color="#00eb09"/><stop offset="43.8%" stop-color="#00ec00"/><stop offset="50%" stop-color="#00ec00"/><stop offset="56.2%" stop-color="#00ed00"/><stop offset="62.5%" stop-color="#00ed00"/><stop offset="68.8%" stop-color="#00ee00"/><stop offset="75%" stop-color="#0fef00"/><stop offset="81.2%" stop-color="#27f000"/><stop offset="87.5%" stop-color="#36f100"/><stop offset="93.8%" stop-color="#39f100"/><stop offset="100%" stop-color="#33f100"/></linearGradient>
<linearGradient id="gc2"><stop offset="0%" stop-color="#00bcf1"/><stop offset="6.2%" stop-color="#00e0eb"/><stop offset="12.5%" stop-color="#00e9ce"/><stop offset="18.8%" stop-color="#00ec92"/><stop offset="25%" stop-color="#00ed53"/><stop offset="31.2%" stop-color="#00eb19"/><stop offset="37.5%" stop-color="#00eb00"/><stop offset="43.8%" stop-color="#00ec00"/><stop offset="50%" stop-color="#00ed00"/><stop offset="56.2%" stop-color="#00ed00"/><stop offset="62.5%" stop-color="#00ee00"/><stop offset="68.8%" stop-color="#0cef00"/><stop offset="75%" stop-color="#2df000"/><stop offset="81.2%" stop-color="#44f200"/><stop offset="87.5%" stop-color="#50f200"/><stop offset="93.8%" stop-color="#51f200"/><stop offset="100%" stop-color="#48f200"/></linearGradient>
<linearGradient id="gc3"><stop offset="0%" stop-color="#00d8f4"/><stop offset="6.2%" stop-color="#00e4e5"/><stop offset="12.5%" stop-color="#00ebb5"/><stop offset="18.8%" stop-color="#00ee7a"/><stop offset="25%" stop-color="#00ec36"/><stop offset="31.2%" stop-color="#00eb0b"/><stop offset="37.5%" stop-color="#00ec00"/><stop offset="43.8%" stop-color="#00ec00"/><stop offset="50%" stop-color="#00ed00"/><stop offset="56.2%" stop-color="#00ee00"/><stop offset="62.5%" stop-color="#03ee00"/><stop offset="68.8%" stop-color="#2cf000"/><stop offset="75%" stop-color="#4bf200"/><stop offset="81.2%" stop-color="#5ef300"/><stop offset="87.5%" stop-color="#68f400"/><stop offset="93.8%" stop-color="#67f400"/><stop offset="100%" stop-color="#5bf300"/></linearGradient>
<linearGradient id="gc4"><stop offset="0%" stop-color="#00ddee"/><stop offset="6.2%" stop-color="#00e8db"/><stop offset="12.5%" stop-color="#00ec9d"/><stop offset="18.8%" stop-color="#00ed5d"/><stop offset="25%" stop-color="#00eb1c"/><stop offset="31.2%" stop-color="#00eb00"/><stop offset="37.5%" stop-color="#00ec00"/><stop offset="43.8%" stop-color="#00ed00"/><stop offset="50%" stop-color="#00ed00"/><stop offset="56.2%" stop-color="#00ee00"/><stop offset="62.5%" stop-color="#24f000"/><stop offset="68.8%" stop-color="#4af200"/><stop offset="75%" stop-color="#66f400"/><stop offset="81.2%" stop-color="#74f400"/><stop offset="87.5%" stop-color="#78f500"/><stop offset="93.8%" stop-color="#76f500"/><stop offset="100%" stop-color="#6df400"/></linearGradient>
<linearGradient id="gc5"><stop offset="0%" stop-color="#00e2e9"/><stop offset="6.2%" stop-color="#00eac2"/><stop offset="12.5%" stop-color="#00ed85"/><stop offset="18.8%" stop-color="#00ec40"/><stop offset="25%" stop-color="#00eb0e"/><stop offset="31.2%" stop-color="#00eb00"/><stop offset="37.5%" stop-color="#00ec00"/><stop offset="43.8%" stop-color="#00ed00"/><stop offset="50%" stop-color="#00ee00"/><stop offset="56.2%" stop-color="#14ef00"/><stop offset="62.5%" stop-color="#43f200"/><stop offset="68.8%" stop-color="#67f400"/><stop offset="75%" stop-color="#7af500"/><stop offset="81.2%" stop-color="#83f600"/><stop offset="87.5%" stop-color="#86f600"/><stop offset="93.8%" stop-color="#82f500"/><stop offset="100%" stop-color="#78f500"/></linearGradient>
<linearGradient id="gc6"><stop offset="0%" stop-color="#00e6e3"/><stop offset="6.2%" stop-color="#00ebaa"/><stop offset="12.5%" stop-color="#00ee6b"/><stop offset="18.8%" stop-color="#00eb24"/><stop offset="25%" stop-color="#00eb01"/><stop offset="31.2%" stop-color="#00ec00"/><stop offset="37.5%" stop-color="#00ed00"/><stop offset="43.8%" stop-color="#00ed00"/><stop offset="50%" stop-color="#00ee00"/><stop offset="56.2%" stop-color="#35f100"/><stop offset="62.5%" stop-color="#61f300"/><stop offset="68.8%" stop-color="#7bf500"/><stop offset="75%" stop-color="#89f600"/><stop offset="81.2%" stop-color="#91f700"/><stop offset="87.5%" stop-color="#92f700"/><stop offset="93.8%" stop-color="#8df600"/><stop offset="100%" stop-color="#81f500"/></linearGradient>
<linearGradient id="gc7"><stop offset="0%" stop-color="#00e9d2"/><stop offset="6.2%" stop-color="#00ed92"/><stop offset="12.5%" stop-color="#00ed4e"/><stop offset="18.8%" stop-color="#00eb13"/><stop offset="25%" stop-color="#00eb00"/><stop offset="31.2%" stop-color="#00ec00"/><stop offset="37.5%" stop-color="#00ed00"/><stop offset="43.8%" stop-color="#00ee00"/><stop offset="50%" stop-color="#1ff000"/><stop offset="56.2%" stop-color="#54f300"/><stop offset="62.5%" stop-color="#78f500"/><stop offset="68.8%" stop-color="#8bf600"/><stop offset="75%" stop-color="#98f700"/><stop offset="81.2%" stop-color="#9ef800"/><stop offset="87.5%" stop-color="#9ef800"/><stop offset="93.8%" stop-color="#97f700"/><stop offset="100%" stop-color="#8af600"/></linearGradient>
<linearGradient id="gc8"><stop offset="0%" stop-color="#00eaba"/><stop offset="6.2%" stop-color="#00ee7b"/><stop offset="12.5%" stop-color="#00ec32"/><stop offset="18.8%" stop-color="#00eb06"/><stop offset="25%" stop-color="#00ec00"/><stop offset="31.2%" stop-color="#00ed00"/><stop offset="37.5%" stop-color="#00ed00"/><stop offset="43.8%" stop-color="#03ee00"/><stop offset="50%" stop-color="#40f100"/><stop offset="56.2%" stop-color="#70f400"/><stop offset="62.5%" stop-color="#88f600"/><stop offset="68.8%" stop-color="#9af700"/><stop offset="75%" stop-color="#a5f800"/><stop offset="81.2%" stop-color="#aaf900"/><stop offset="87.5%" stop-color="#a8f800"/><stop offset="93.8%" stop-color="#a0f800"/><stop offset="100%" stop-color="#91f700"/></linearGradient>
<linearGradient id="gc9"><stop offset="0%" stop-color="#00eca2"/><stop offset="6.2%" stop-color="#00ed5f"/><stop offset="12.5%" stop-color="#00eb1a"/><stop offset="18.8%" stop-color="#00eb00"/><stop offset="25%" stop-color="#00ec00"/><stop offset="31.2%" stop-color="#00ed00"/><stop offset="37.5%" stop-color="#00ee00"/><stop offset="43.8%" stop-color="#24f000"/><stop offset="50%" stop-color="#5ef300"/><stop offset="56.2%" stop-color="#82f500"/><stop offset="62.5%" stop-color="#98f700"/><stop offset="68.8%" stop-color="#a9f800"/><stop offset="75%" stop-color="#b2f900"/><stop offset="81.2%" stop-color="#b6f900"/><stop offset="87.5%" stop-color="#b2f900"/><stop offset="93.8%" stop-color="#a9f800"/><stop offset="100%" stop-color="#98f700"/></linearGradient>
<linearGradient id="gc10"><stop offset="0%" stop-color="#00ed8c"/><stop offset="6.2%" stop-color="#00ec44"/><stop offset="12.5%" stop-color="#00eb0d"/><stop offset="18.8%" stop-color="#00ec00"/><stop offset="25%" stop-color="#00ed00"/><stop offset="31.2%" stop-color="#00ed00"/><stop offset="37.5%" stop-color="#02ee00"/><stop offset="43.8%" stop-color="#44f200"/><stop offset="50%" stop-color="#76f500"/><stop offset="56.2%" stop-color="#92f700"/><stop offset="62.5%" stop-color="#a7f800"/><stop offset="68.8%" stop-color="#b6f900"/><stop offset="75%" stop-color="#befa00"/><stop offset="81.2%" stop-color="#c1fa00"/><stop offset="87.5%" stop-color="#bbfa00"/><stop offset="93.8%" stop-color="#b0f900"/><stop offset="100%" stop-color="#9ef800"/></linearGradient>
<linearGradient id="gc11"><stop offset="0%" stop-color="#00ee75"/><stop offset="6.2%" stop-color="#00eb28"/><stop offset="12.5%" stop-color="#00eb00"/><stop offset="18.8%" stop-color="#00ec00"/><stop offset="25%" stop-color="#00ed00"/><stop offset="31.2%" stop-color="#00ee00"/><stop offset="37.5%" stop-color="#23f000"/><stop offset="43.8%" stop-color="#62f300"/><stop offset="50%" stop-color="#88f600"/><stop offset="56.2%" stop-color="#a2f800"/><stop offset="62.5%" stop-color="#b6f900"/><stop offset="68.8%" stop-color="#c4fa00"/><stop offset="75%" stop-color="#ccfb00"/><stop offset="81.2%" stop-color="#cdfb00"/><stop offset="87.5%" stop-color="#c5fb00"/><stop offset="93.8%" stop-color="#b7f900"/><stop offset="100%" stop-color="#a3f800"/></linearGradient>
<linearGradient id="gc12"><stop offset="0%" stop-color="#00ed59"/><stop offset="6.2%" stop-color="#00eb16"/><stop offset="12.5%" stop-color="#00eb00"/><stop offset="18.8%" stop-color="#00ec00"/><stop offset="25%" stop-color="#00ed00"/><stop offset="31.2%" stop-color="#00ee00"/><stop offset="37.5%" stop-color="#42f200"/><stop offset="43.8%" stop-color="#79f500"/><stop offset="50%" stop-color="#98f700"/><stop offset="56.2%" stop-color="#b1f900"/><stop offset="62.5%" stop-color="#c4fa00"/><stop offset="68.8%" stop-color="#d3fc00"/><stop offset="75%" stop-color="#d9fc00"/><stop offset="81.2%" stop-color="#d8fc00"/><stop offset="87.5%" stop-color="#cefb00"/><stop offset="93.8%" stop-color="#bdfa00"/><stop offset="100%" stop-color="#a8f800"/></linearGradient>
<linearGradient id="gc13"><stop offset="0%" stop-color="#00ec3e"/><stop offset="6.2%" stop-color="#00eb09"/><stop offset="12.5%" stop-color="#00ec00"/><stop offset="18.8%" stop-color="#00ed00"/><stop offset="25%" stop-color="#00ee00"/><stop offset="31.2%" stop-color="#1bef00"/><stop offset="37.5%" stop-color="#60f300"/><stop offset="43.8%" stop-color="#8af600"/><stop offset="50%" stop-color="#a7f800"/><stop offset="56.2%" stop-color="#bffa00"/><stop offset="62.5%" stop-color="#d4fc00"/><stop offset="68.8%" stop-color="#e0fd00"/><stop offset="75%" stop-color="#e5fd00"/><stop offset="81.2%" stop-color="#e1fd00"/><stop offset="87.5%" stop-color="#d6fc00"/><stop offset="93.8%" stop-color="#c2fa00"/><stop offset="100%" stop-color="#abf900"/></linearGradient>
<linearGradient id="gc14"><stop offset="0%" stop-color="#00eb24"/><stop offset="6.2%" stop-color="#00eb00"/><stop offset="12.5%" stop-color="#00ec00"/><stop offset="18.8%" stop-color="#00ed00"/><stop offset="25%" stop-color="#00ee00"/><stop offset="31.2%" stop-color="#3af100"/><stop offset="37.5%" stop-color="#77f500"/><stop offset="43.8%" stop-color="#9af700"/><stop offset="50%" stop-color="#b6f900"/><stop offset="56.2%" stop-color="#cffb00"/><stop offset="62.5%" stop-color="#e2fd00"/><stop offset="68.8%" stop-color="#edfe00"/><stop offset="75%" stop-color="#f0fe00"/><stop offset="81.2%" stop-color="#eafd00"/><stop offset="87.5%" stop-color="#ddfc00"/><stop offset="93.8%" stop-color="#c7fb00"/><stop offset="100%" stop-color="#aef900"/></linearGradient>
<linearGradient id="gc15"><stop offset="0%" stop-color="#00eb15"/><stop offset="6.2%" stop-color="#00eb00"/><stop offset="12.5%" stop-color="#00ec00"/><stop offset="18.8%" stop-color="#00ed00"/><stop offset="25%" stop-color="#0cef00"/><stop offset="31.2%" stop-color="#58f300"/><stop offset="37.5%" stop-color="#88f600"/><stop offset="43.8%" stop-color="#a9f800"/><stop offset="50%" stop-color="#c5fb00"/><stop offset="56.2%" stop-color="#defc00"/><stop offset="62.5%" stop-color="#effe00"/><stop offset="68.8%" stop-color="#f8fe00"/><stop offset="75%" stop-color="#f9ff00"/><stop offset="81.2%" stop-color="#f2fe00"/><stop offset="87.5%" stop-color="#e3fd00"/><stop offset="93.8%" stop-color="#cbfb00"/><stop offset="100%" stop-color="#b0f900"/></linearGradient>
<linearGradient id="gc16"><stop offset="0%" stop-color="#00eb08"/><stop offset="6.2%" stop-color="#00ec00"/><stop offset="12.5%" stop-color="#00ed00"/><stop offset="18.8%" stop-color="#00ee00"/><stop offset="25%" stop-color="#2bf000"/><stop offset="31.2%" stop-color="#72f400"/><stop offset="37.5%" stop-color="#98f700"/><stop offset="43.8%" stop-color="#b8fa00"/><stop offset="50%" stop-color="#d5fc00"/><stop offset="56.2%" stop-color="#ecfe00"/><stop offset="62.5%" stop-color="#fcff00"/><stop offset="68.8%" stop-color="#ffff00"/><stop offset="75%" stop-color="#ffff00"/><stop offset="81.2%" stop-color="#f9ff00"/><stop offset="87.5%" stop-color="#e8fd00"/><stop offset="93.8%" stop-color="#cefb00"/><stop offset="100%" stop-color="#b0f900"/></linearGradient>
<linearGradient id="gc17"><stop offset="0%" stop-color="#00eb00"/><stop offset="6.2%" stop-color="#00ec00"/><stop offset="12.5%" stop-color="#00ed00"/><stop offset="18.8%" stop-color="#00ee00"/><stop offset="25%" stop-color="#49f200"/><stop offset="31.2%" stop-color="#82f600"/><stop offset="37.5%" stop-color="#a7f800"/><stop offset="43.8%" stop-color="#c7fb00"/><stop offset="50%" stop-color="#e4fd00"/><stop offset="56.2%" stop-color="#faff00"/><stop offset="62.5%" stop-color="#ffff00"/><stop offset="68.8%" stop-color="#ffff00"/><stop offset="75%" stop-color="#ffff00"/><stop offset="81.2%" stop-color="#feff00"/><stop offset="87.5%" stop-color="#ebfd00"/><stop offset="93.8%" stop-color="#d0fb00"/><stop offset="100%" stop-color="#b0f900"/></linearGradient>
<linearGradient id="gc18"><stop offset="0%" stop-color="#00eb00"/><stop offset="6.2%" stop-color="#00ec00"/><stop offset="12.5%" stop-color="#00ed00"/><stop offset="18.8%" stop-color="#16ef00"/><stop offset="25%" stop-color="#65f300"/><stop offset="31.2%" stop-color="#92f700"/><stop offset="37.5%" stop-color="#b5f900"/><stop offset="43.8%" stop-color="#d7fc00"/><stop offset="50%" stop-color="#f2fe00"/><stop offset="56.2%" stop-color="#ffff00"/><stop offset="62.5%" stop-color="#ffff00"/><stop offset="68.8%" stop-color="#ffff00"/><stop offset="75%" stop-color="#ffff00"/><stop offset="81.2%" stop-color="#ffff00"/><stop offset="87.5%" stop-color="#eefe00"/><stop offset="93.8%" stop-color="#d1fb00"/><stop offset="100%" stop-color="#b0f900"/></linearGradient>
<linearGradient id="gc19"><stop offset="0%" stop-color="#00ec00"/><stop offset="6.2%" stop-color="#00ed00"/><stop offset="12.5%" stop-color="#00ee00"/><stop offset="18.8%" stop-color="#33f100"/><stop offset="25%" stop-color="#79f500"/><stop offset="31.2%" stop-color="#a1f800"/><stop offset="37.5%" stop-color="#c4fa00"/><stop offset="43.8%" stop-color="#e5fd00"/><stop offset="50%" stop-color="#ffff00"/><stop offset="56.2%" stop-color="#ffff00"/><stop offset="62.5%" stop-color="#ffff00"/><stop offset="68.8%" stop-color="#ffff00"/><stop offset="75%" stop-color="#ffff00"/><stop offset="81.2%" stop-color="#ffff00"/><stop offset="87.5%" stop-color="#f0fe00"/><stop offset="93.8%" stop-color="#d1fb00"/><stop offset="100%" stop-color="#aef900"/></linearGradient>
<linearGradient id="gc20"><stop offset="0%" stop-color="#00ec00"/><stop offset="6.2%" stop-color="#00ed00"/><stop offset="12.5%" stop-color="#00ee00"/><stop offset="18.8%" stop-color="#4ff200"/><stop offset="25%" stop-color="#88f600"/><stop offset="31.2%" stop-color="#aff900"/><stop offset="37.5%" stop-color="#d3fc00"/><stop offset="43.8%" stop-color="#f3fe00"/><stop offset="50%" stop-color="#ffff00"/><stop offset="56.2%" stop-color="#ffff00"/><stop offset="62.5%" stop-color="#ffff00"/><stop offset="68.8%" stop-color="#ffff00"/><stop offset="75%" stop-color="#ffff00"/><stop offset="81.2%" stop-color="#ffff00"/><stop offset="87.5%" stop-color="#f0fe00"/><stop offset="93.8%" stop-color="#d0fb00"/><stop offset="100%" stop-color="#abf900"/></linearGradient>
<linearGradient id="gc21"><stop offset="0%" stop-color="#00ec00"/><stop offset="6.2%" stop-color="#00ed00"/><stop offset="12.5%" stop-color="#18ef00"/><stop offset="18.8%" stop-color="#69f400"/><stop offset="25%" stop-color="#97f700"/><stop offset="31.2%" stop-color="#bcfa00"/><stop offset="37.5%" stop-color="#e2fd00"/><stop offset="43.8%" stop-color="#ffff00"/><stop offset="50%" stop-color="#ffff00"/><stop offset="56.2%" stop-color="#ffff00"/><stop offset="62.5%" stop-color="#ffff00"/><stop offset="68.8%" stop-color="#ffff00"/><stop offset="75%" stop-color="#ffff00"/><stop offset="81.2%" stop-color="#ffff00"/><stop offset="87.5%" stop-color="#f0fe00"/><stop offset="93.8%" stop-color="#cdfb00"/><stop offset="100%" stop-color="#a8f800"/></linearGradient>
<linearGradient id="gc22"><stop offset="0%" stop-color="#00ed00"/><stop offset="6.2%" stop-color="#00ee00"/><stop offset="12.5%" stop-color="#33f100"/><stop offset="18.8%" stop-color="#7bf500"/><stop offset="25%" stop-color="#a5f800"/><stop offset="31.2%" stop-color="#cbfb00"/><stop offset="37.5%" stop-color="#effe00"/><stop offset="43.8%" stop-color="#ffff00"/><stop offset="50%" stop-color="#ffff00"/><stop offset="56.2%" stop-color="#ffff00"/><stop offset="62.5%" stop-color="#ffff00"/><stop offset="68.8%" stop-color="#ffff00"/><stop offset="75%" stop-color="#ffff00"/><stop offset="81.2%" stop-color="#ffff00"/><stop offset="87.5%" stop-color="#eefe00"/><stop offset="93.8%" stop-color="#cafb00"/><stop offset="100%" stop-color="#a4f800"/></linearGradient>
<linearGradient id="gc23"><stop offset="0%" stop-color="#00ed00"/><stop offset="6.2%" stop-color="#00ee00"/><stop offset="12.5%" stop-color="#4df200"/><stop offset="18.8%" stop-color="#89f600"/><stop offset="25%" stop-color="#b2f900"/><stop offset="31.2%" stop-color="#d9fc00"/><stop offset="37.5%" stop-color="#fbff00"/><stop offset="43.8%" stop-color="#ffff00"/><stop offset="50%" stop-color="#ffff00"/><stop offset="56.2%" stop-color="#ffff00"/><stop offset="62.5%" stop-color="#ffff00"/><stop offset="68.8%" stop-color="#ffff00"/><stop offset="75%" stop-color="#ffff00"/><stop offset="81.2%" stop-color="#ffff00"/><stop offset="87.5%" stop-color="#ecfe00"/><stop offset="93.8%" stop-color="#c6fb00"/><stop offset="100%" stop-color="#9ff800"/></linearGradient>
<linearGradient id="gc24"><stop offset="0%" stop-color="#00ed00"/><stop offset="6.2%" stop-color="#11ef00"/><stop offset="12.5%" stop-color="#66f400"/><stop offset="18.8%" stop-color="#97f700"/><stop offset="25%" stop-color="#befa00"/><stop offset="31.2%" stop-color="#e6fd00"/><stop offset="37.5%" stop-color="#ffff00"/><stop offset="43.8%" stop-color="#ffff00"/><stop offset="50%" stop-color="#ffff00"/><stop offset="56.2%" stop-color="#ffff00"/><stop offset="62.5%" stop-color="#ffff00"/><stop offset="68.8%" stop-color="#ffff00"/><stop offset="75%" stop-color="#ffff00"/><stop offset="81.2%" stop-color="#ffff00"/><stop offset="87.5%" stop-color="#e8fd00"/><stop offset="93.8%" stop-color="#c0fa00"/><stop offset="100%" stop-color="#99f700"/></linearGradient>
<linearGradient id="gc25"><stop offset="0%" stop-color="#00ee00"/><stop offset="6.2%" stop-color="#2bf000"/><stop offset="12.5%" stop-color="#77f500"/><stop offset="18.8%" stop-color="#a3f800"/><stop offset="25%" stop-color="#ccfb00"/><stop offset="31.2%" stop-color="#f2fe00"/><stop offset="37.5%" stop-color="#ffff00"/><stop offset="43.8%" stop-color="#ffff00"/><stop offset="50%" stop-color="#ffff00"/><stop offset="56.2%" stop-color="#ffff00"/><stop offset="62.5%" stop-color="#ffff00"/><stop offset="68.8%" stop-color="#ffff00"/><stop offset="75%" stop-color="#ffff00"/><stop offset="81.2%" stop-color="#ffff00"/><stop offset="87.5%" stop-color="#e3fd00"/><stop offset="93.8%" stop-color="#bafa00"/><stop offset="100%" stop-color="#92f700"/></linearGradient>
<linearGradient id="gc26"><stop offset="0%" stop-color="#00ee00"/><stop offset="6.2%" stop-color="#43f200"/><stop offset="12.5%" stop-color="#85f600"/><stop offset="18.8%" stop-color="#aff900"/><stop offset="25%" stop-color="#d9fc00"/><stop offset="31.2%" stop-color="#fdff00"/><stop offset="37.5%" stop-color="#ffff00"/><stop offset="43.8%" stop-color="#ffff00"/><stop offset="50%" stop-color="#ffff00"/><stop offset="56.2%" stop-color="#ffff00"/><stop offset="62.5%" stop-color="#ffff00"/><stop offset="68.8%" stop-color="#ffff00"/><stop offset="75%" stop-color="#ffff00"/><stop offset="81.2%" stop-color="#ffff00"/><stop offset="87.5%" stop-color="#defc00"/><stop offset="93.8%" stop-color="#b4f900"/><stop offset="100%" stop-color="#8af600"/></linearGradient>
<linearGradient id="gc27"><stop offset="0%" stop-color="#02ee00"/><stop offset="6.2%" stop-color="#5af300"/><stop offset="12.5%" stop-color="#91f700"/><stop offset="18.8%" stop-color="#bafa00"/><stop offset="25%" stop-color="#e5fd00"/><stop offset="31.2%" stop-color="#ffff00"/><stop offset="37.5%" stop-color="#ffff00"/><stop offset="43.8%" stop-color="#ffff00"/><stop offset="50%" stop-color="#ffff00"/><stop offset="56.2%" stop-color="#ffff00"/><stop offset="62.5%" stop-color="#ffff00"/><stop offset="68.8%" stop-color="#ffff00"/><stop offset="75%" stop-color="#ffff00"/><stop offset="81.2%" stop-color="#fdff00"/><stop offset="87.5%" stop-color="#d7fc00"/><stop offset="93.8%" stop-color="#adf900"/><stop offset="100%" stop-color="#82f500"/></linearGradient>
<linearGradient id="gc28"><stop offset="0%" stop-color="#1aef00"/><stop offset="6.2%" stop-color="#6ff400"/><stop offset="12.5%" stop-color="#9df800"/><stop offset="18.8%" stop-color="#c6fb00"/><stop offset="25%" stop-color="#effe00"/><stop offset="31.2%" stop-color="#ffff00"/><stop offset="37.5%" stop-color="#ffff00"/><stop offset="43.8%" stop-color="#ffff00"/><stop offset="50%" stop-color="#ffff00"/><stop offset="56.2%" stop-color="#ffff00"/><stop offset="62.5%" stop-color="#ffff00"/><stop offset="68.8%" stop-color="#ffff00"/><stop offset="75%" stop-color="#ffff00"/><stop offset="81.2%" stop-color="#f7fe00"/><stop offset="87.5%" stop-color="#cffb00"/><stop offset="93.8%" stop-color="#a5f800"/><stop offset="100%" stop-color="#79f500"/></linearGradient>
<linearGradient id="gc29"><stop offset="0%" stop-color="#30f100"/><stop offset="6.2%" stop-color="#7bf500"/><stop offset="12.5%" stop-color="#a8f800"/><stop offset="18.8%" stop-color="#d2fc00"/><stop offset="25%" stop-color="#f9ff00"/><stop offset="31.2%" stop-color="#ffff00"/><stop offset="37.5%" stop-color="#ffff00"/><stop offset="43.8%" stop-color="#ffff00"/><stop offset="50%" stop-color="#ffff00"/><stop offset="56.2%" stop-color="#ffff00"/><stop offset="62.5%" stop-color="#ffff00"/><stop offset="68.8%" stop-color="#ffff00"/><stop offset="75%" stop-color="#ffff00"/><stop offset="81.2%" stop-color="#effe00"/><stop offset="87.5%" stop-color="#c6fb00"/><stop offset="93.8%" stop-color="#9df700"/><stop offset="100%" stop-color="#6ef400"/></linearGradient>
<linearGradient id="gc30"><stop offset="0%" stop-color="#46f200"/><stop offset="6.2%" stop-color="#87f600"/><stop offset="12.5%" stop-color="#b2f900"/><stop offset="18.8%" stop-color="#dcfc00"/><stop offset="25%" stop-color="#ffff00"/><stop offset="31.2%" stop-color="#ffff00"/><stop offset="37.5%" stop-color="#ffff00"/><stop offset="43.8%" stop-color="#ffff00"/><stop offset="50%" stop-color="#ffff00"/><stop offset="56.2%" stop-color="#ffff00"/><stop offset="62.5%" stop-color="#ffff00"/><stop offset="68.8%" stop-color="#ffff00"/><stop offset="75%" stop-color="#ffff00"/><stop offset="81.2%" stop-color="#e7fd00"/><stop offset="87.5%" stop-color="#bcfa00"/><stop offset="93.8%" stop-color="#93f700"/><stop offset="100%" stop-color="#5cf300"/></linearGradient>
<linearGradient id="gc31"><stop offset="0%" stop-color="#59f300"/><stop offset="6.2%" stop-color="#91f700"/><stop offset="12.5%" stop-color="#bbfa00"/><stop offset="18.8%" stop-color="#e6fd00"/><stop offset="25%" stop-color="#ffff00"/><stop offset="31.2%" stop-color="#ffff00"/><stop offset="37.5%" stop-color="#ffff00"/><stop offset="43.8%" stop-color="#ffff00"/><stop offset="50%" stop-color="#ffff00"/><stop offset="56.2%" stop-color="#ffff00"/><stop offset="62.5%" stop-color="#ffff00"/><stop offset="68.8%" stop-color="#ffff00"/><stop offset="75%" stop-color="#ffff00"/><stop offset="81.2%" stop-color="#defc00"/><stop offset="87.5%" stop-color="#b4f900"/><stop offset="93.8%" stop-color="#89f600"/><stop offset="100%" stop-color="#49f200"/></linearGradient>
<linearGradient id="gc32"><stop offset="0%" stop-color="#6cf400"/><stop offset="6.2%" stop-color="#9bf700"/><stop offset="12.5%" stop-color="#c5fb00"/><stop offset="18.8%" stop-color="#eefe00"/><stop offset="25%" stop-color="#ffff00"/><stop offset="31.2%" stop-color="#ffff00"/><stop offset="37.5%" stop-color="#ffff00"/><stop offset="43.8%" stop-color="#ffff00"/><stop offset="50%" stop-color="#ffff00"/><stop offset="56.2%" stop-color="#ffff00"/><stop offset="62.5%" stop-color="#ffff00"/><stop offset="68.8%" stop-color="#ffff00"/><stop offset="75%" stop-color="#fbff00"/><stop offset="81.2%" stop-color="#d4fc00"/><stop offset="87.5%" stop-color="#aaf800"/><stop offset="93.8%" stop-color="#7df500"/><stop offset="100%" stop-color="#34f100"/></linearGradient>
<linearGradient id="gc33"><stop offset="0%" stop-color="#77f500"/><stop offset="6.2%" stop-color="#a4f800"/><stop offset="12.5%" stop-color="#cefb00"/><stop offset="18.8%" stop-color="#f6fe00"/><stop offset="25%" stop-color="#ffff00"/><stop offset="31.2%" stop-color="#ffff00"/><stop offset="37.5%" stop-color="#ffff00"/><stop offset="43.8%" stop-color="#ffff00"/><stop offset="50%" stop-color="#ffff00"/><stop offset="56.2%" stop-color="#ffff00"/><stop offset="62.5%" stop-color="#ffff00"/><stop offset="68.8%" stop-color="#ffff00"/><stop offset="75%" stop-color="#f1fe00"/><stop offset="81.2%" stop-color="#c9fb00"/><stop offset="87.5%" stop-color="#9ff800"/><stop offset="93.8%" stop-color="#71f400"/><stop offset="100%" stop-color="#1ef000"/></linearGradient>
<linearGradient id="gc34"><stop offset="0%" stop-color="#81f500"/><stop offset="6.2%" stop-color="#acf900"/><stop offset="12.5%" stop-color="#d6fc00"/><stop offset="18.8%" stop-color="#fcff00"/><stop offset="25%" stop-color="#ffff00"/><stop offset="31.2%" stop-color="#ffff00"/><stop offset="37.5%" stop-color="#ffff00"/><stop offset="43.8%" stop-color="#ffff00"/><stop offset="50%" stop-color="#ffff00"/><stop offset="56.2%" stop-color="#ffff00"/><stop offset="62.5%" stop-color="#ffff00"/><stop offset="68.8%" stop-color="#ffff00"/><stop offset="75%" stop-color="#e7fd00"/><stop offset="81.2%" stop-color="#bdfa00"/><stop offset="87.5%" stop-color="#94f700"/><stop offset="93.8%" stop-color="#5ef300"/><stop offset="100%" stop-color="#07ee00"/></linearGradient>
<linearGradient id="gc35"><stop offset="0%" stop-color="#89f600"/><stop offset="6.2%" stop-color="#b3f900"/><stop offset="12.5%" stop-color="#ddfc00"/><stop offset="18.8%" stop-color="#ffff00"/><stop offset="25%" stop-color="#ffff00"/><stop offset="31.2%" stop-color="#ffff00"/><stop offset="37.5%" stop-color="#ffff00"/><stop offset="43.8%" stop-color="#ffff00"/><stop offset="50%" stop-color="#ffff00"/><stop offset="56.2%" stop-color="#ffff00"/><stop offset="62.5%" stop-color="#ffff00"/><stop offset="68.8%" stop-color="#ffff00"/><stop offset="75%" stop-color="#dbfc00"/><stop offset="81.2%" stop-color="#b2f900"/><stop offset="87.5%" stop-color="#87f600"/><stop offset="93.8%" stop-color="#48f200"/><stop offset="100%" stop-color="#00ee00"/></linearGradient>
<linearGradient id="gc36"><stop offset="0%" stop-color="#91f700"/><stop offset="6.2%" stop-color="#bafa00"/><stop offset="12.5%" stop-color="#e3fd00"/><stop offset="18.8%" stop-color="#ffff00"/><stop offset="25%" stop-color="#ffff00"/><stop offset="31.2%" stop-color="#ffff00"/><stop offset="37.5%" stop-color="#ffff00"/><stop offset="43.8%" stop-color="#ffff00"/><stop offset="50%" stop-color="#ffff00"/><stop offset="56.2%" stop-color="#ffff00"/><stop offset="62.5%" stop-color="#ffff00"/><stop offset="68.8%" stop-color="#f5fe00"/><stop offset="75%" stop-color="#cffb00"/><stop offset="81.2%" stop-color="#a6f800"/><stop offset="87.5%" stop-color="#7af500"/><stop offset="93.8%" stop-color="#30f100"/><stop offset="100%" stop-color="#00ee00"/></linearGradient>
<linearGradient id="gc37"><stop offset="0%" stop-color="#98f700"/><stop offset="6.2%" stop-color="#c0fa00"/><stop offset="12.5%" stop-color="#e8fd00"/><stop offset="18.8%" stop-color="#ffff00"/><stop offset="25%" stop-color="#ffff00"/><stop offset="31.2%" stop-color="#ffff00"/><stop offset="37.5%" stop-color="#ffff00"/><stop offset="43.8%" stop-color="#ffff00"/><stop offset="50%" stop-color="#ffff00"/><stop offset="56.2%" stop-color="#ffff00"/><stop offset="62.5%" stop-color="#ffff00"/><stop offset="68.8%" stop-color="#e9fd00"/><stop offset="75%" stop-color="#c1fa00"/><stop offset="81.2%" stop-color="#9af700"/><stop offset="87.5%" stop-color="#6bf400"/><stop offset="93.8%" stop-color="#17ef00"/><stop offset="100%" stop-color="#00ed00"/></linearGradient>
<linearGradient id="gc38"><stop offset="0%" stop-color="#9ef800"/><stop offset="6.2%" stop-color="#c6fb00"/><stop offset="12.5%" stop-color="#ecfe00"/><stop offset="18.8%" stop-color="#ffff00"/><stop offset="25%" stop-color="#ffff00"/><stop offset="31.2%" stop-color="#ffff00"/><stop offset="37.5%" stop-color="#ffff00"/><stop offset="43.8%" stop-color="#ffff00"/><stop offset="50%" stop-color="#ffff00"/><stop offset="56.2%" stop-color="#ffff00"/><stop offset="62.5%" stop-color="#feff00"/><stop offset="68.8%" stop-color="#dcfc00"/><stop offset="75%" stop-color="#b5f900"/><stop offset="81.2%" stop-color="#8cf600"/><stop offset="87.5%" stop-color="#53f300"/><stop offset="93.8%" stop-color="#00ee00"/><stop offset="100%" stop-color="#00ed00"/></linearGradient>
<linearGradient id="gc39"><stop offset="0%" stop-color="#a4f800"/><stop offset="6.2%" stop-color="#cafb00"/><stop offset="12.5%" stop-color="#effe00"/><stop offset="18.8%" stop-color="#ffff00"/><stop offset="25%" stop-color="#ffff00"/><stop offset="31.2%" stop-color="#ffff00"/><stop offset="37.5%" stop-color="#ffff00"/><stop offset="43.8%" stop-color="#ffff00"/><stop offset="50%" stop-color="#ffff00"/><stop offset="56.2%" stop-color="#ffff00"/><stop offset="62.5%" stop-color="#f2fe00"/><stop offset="68.8%" stop-color="#cefb00"/><stop offset="75%" stop-color="#a8f800"/><stop offset="81.2%" stop-color="#7ef500"/><stop offset="87.5%" stop-color="#39f100"/><stop offset="93.8%" stop-color="#00ee00"/><stop offset="100%" stop-color="#00ed00"/></linearGradient>
<linearGradient id="gc40"><stop offset="0%" stop-color="#a8f800"/><stop offset="6.2%" stop-color="#cefb00"/><stop offset="12.5%" stop-color="#f1fe00"/><stop offset="18.8%" stop-color="#ffff00"/><stop offset="25%" stop-color="#ffff00"/><stop offset="31.2%" stop-color="#ffff00"/><stop offset="37.5%" stop-color="#ffff00"/><stop offset="43.8%" stop-color="#ffff00"/><stop offset="50%" stop-color="#ffff00"/><stop offset="56.2%" stop-color="#ffff00"/><stop offset="62.5%" stop-color="#e5fd00"/><stop offset="68.8%" stop-color="#bffa00"/><stop offset="75%" stop-color="#9af700"/><stop offset="81.2%" stop-color="#6ff400"/><stop offset="87.5%" stop-color="#1ef000"/><stop offset="93.8%" stop-color="#00ed00"/><stop offset="100%" stop-color="#00ec00"/></linearGradient>
<linearGradient id="gc41"><stop offset="0%" stop-color="#acf900"/><stop offset="6.2%" stop-color="#d1fb00"/><stop offset="12.5%" stop-color="#f2fe00"/><stop offset="18.8%" stop-color="#ffff00"/><stop offset="25%" stop-color="#ffff00"/><stop offset="31.2%" stop-color="#ffff00"/><stop offset="37.5%" stop-color="#ffff00"/><stop offset="43.8%" stop-color="#ffff00"/><stop offset="50%" stop-color="#ffff00"/><stop offset="56.2%" stop-color="#f7fe00"/><stop offset="62.5%" stop-color="#d7fc00"/><stop offset="68.8%" stop-color="#b2f900"/><stop offset="75%" stop-color="#8cf600"/><stop offset="81.2%" stop-color="#55f300"/><stop offset="87.5%" stop-color="#02ee00"/><stop offset="93.8%" stop-color="#00ed00"/><stop offset="100%" stop-color="#00ec00"/></linearGradient>
<linearGradient id="gc42"><stop offset="0%" stop-color="#aff900"/><stop offset="6.2%" stop-color="#d2fc00"/><stop offset="12.5%" stop-color="#f1fe00"/><stop offset="18.8%" stop-color="#ffff00"/><stop offset="25%" stop-color="#ffff00"/><stop offset="31.2%" stop-color="#ffff00"/><stop offset="37.5%" stop-color="#ffff00"/><stop offset="43.8%" stop-color="#ffff00"/><stop offset="50%" stop-color="#ffff00"/><stop offset="56.2%" stop-color="#e9fd00"/><stop offset="62.5%" stop-color="#c8fb00"/><stop offset="68.8%" stop-color="#a4f800"/><stop offset="75%" stop-color="#7cf500"/><stop offset="81.2%" stop-color="#3af100"/><stop offset="87.5%" stop-color="#00ee00"/><stop offset="93.8%" stop-color="#00ed00"/><stop offset="100%" stop-color="#00ec00"/></linearGradient>
<linearGradient id="gc43"><stop offset="0%" stop-color="#b1f900"/><stop offset="6.2%" stop-color="#d3fc00"/><stop offset="12.5%" stop-color="#f0fe00"/><stop offset="18.8%" stop-color="#ffff00"/><stop offset="25%" stop-color="#ffff00"/><stop offset="31.2%" stop-color="#ffff00"/><stop offset="37.5%" stop-color="#ffff00"/><stop offset="43.8%" stop-color="#ffff00"/><stop offset="50%" stop-color="#f6fe00"/><stop offset="56.2%" stop-color="#dbfc00"/><stop offset="62.5%" stop-color="#b9fa00"/><stop offset="68.8%" stop-color="#96f700"/><stop offset="75%" stop-color="#6bf400"/><stop offset="81.2%" stop-color="#1df000"/><stop offset="87.5%" stop-color="#00ed00"/><stop offset="93.8%" stop-color="#00ed00"/><stop offset="100%" stop-color="#00ec00"/></linearGradient>
<linearGradient id="gc44"><stop offset="0%" stop-color="#b2f900"/><stop offset="6.2%" stop-color="#d2fc00"/><stop offset="12.5%" stop-color="#eefe00"/><stop offset="18.8%" stop-color="#ffff00"/><stop offset="25%" stop-color="#ffff00"/><stop offset="31.2%" stop-color="#ffff00"/><stop offset="37.5%" stop-color="#ffff00"/><stop offset="43.8%" stop-color="#fdff00"/><stop offset="50%" stop-color="#e8fd00"/><stop offset="56.2%" stop-color="#cbfb00"/><stop offset="62.5%" stop-color="#abf900"/><stop offset="68.8%" stop-color="#86f600"/><stop offset="75%" stop-color="#50f200"/><stop offset="81.2%" stop-color="#00ee00"/><stop offset="87.5%" stop-color="#00ed00"/><stop offset="93.8%" stop-color="#00ec00"/><stop offset="100%" stop-color="#00eb00"/></linearGradient>
<linearGradient id="gc45"><stop offset="0%" stop-color="#b2f900"/><stop offset="6.2%" stop-color="#d1fb00"/><stop offset="12.5%" stop-color="#eafd00"/><stop offset="18.8%" stop-color="#fcff00"/><stop offset="25%" stop-color="#ffff00"/><stop offset="31.2%" stop-color="#ffff00"/><stop offset="37.5%" stop-color="#ffff00"/><stop offset="43.8%" stop-color="#f1fe00"/><stop offset="50%" stop-color="#dafc00"/><stop offset="56.2%" stop-color="#bbfa00"/><stop offset="62.5%" stop-color="#9cf700"/><stop offset="68.8%" stop-color="#76f500"/><stop offset="75%" stop-color="#33f100"/><stop offset="81.2%" stop-color="#00ee00"/><stop offset="87.5%" stop-color="#00ed00"/><stop offset="93.8%" stop-color="#00ec00"/><stop offset="100%" stop-color="#00eb06"/></linearGradient>
<linearGradient id="gc46"><stop offset="0%" stop-color="#b1f900"/><stop offset="6.2%" stop-color="#cefb00"/><stop offset="12.5%" stop-color="#e6fd00"/><stop offset="18.8%" stop-color="#f5fe00"/><stop offset="25%" stop-color="#fdff00"/><stop offset="31.2%" stop-color="#fcff00"/><stop offset="37.5%" stop-color="#f3fe00"/><stop offset="43.8%" stop-color="#e3fd00"/><stop offset="50%" stop-color="#cafb00"/><stop offset="56.2%" stop-color="#adf900"/><stop offset="62.5%" stop-color="#8cf600"/><stop offset="68.8%" stop-color="#5ff300"/><stop offset="75%" stop-color="#14ef00"/><stop offset="81.2%" stop-color="#00ed00"/><stop offset="87.5%" stop-color="#00ed00"/><stop offset="93.8%" stop-color="#00ec00"/><stop offset="100%" stop-color="#00eb12"/></linearGradient>
<linearGradient id="gc47"><stop offset="0%" stop-color="#b0f900"/><stop offset="6.2%" stop-color="#cafb00"/><stop offset="12.5%" stop-color="#e0fd00"/><stop offset="18.8%" stop-color="#eefe00"/><stop offset="25%" stop-color="#f3fe00"/><stop offset="31.2%" stop-color="#f1fe00"/><stop offset="37.5%" stop-color="#e6fd00"/><stop offset="43.8%" stop-color="#d4fc00"/><stop offset="50%" stop-color="#bafa00"/><stop offset="56.2%" stop-color="#9ef800"/><stop offset="62.5%" stop-color="#7cf500"/><stop offset="68.8%" stop-color="#42f200"/><stop offset="75%" stop-color="#00ee00"/><stop offset="81.2%" stop-color="#00ed00"/><stop offset="87.5%" stop-color="#00ec00"/><stop offset="93.8%" stop-color="#00eb00"/><stop offset="100%" stop-color="#00eb1e"/></linearGradient>
<clipPath id="clc"><path d="M0 2793.6L314.1 2793.6L345.9 2783.3L377.6 2773.4L409.4 2763.9L441.2 2754.9L472.9 2746.3L504.7 2738.1L536.4 2730.4L568.2 2723.1L600 2716.2L631.7 2709.7L663.5 2703.7L695.2 2698.1L727 2693L758.8 2688.2L790.5 2683.9L822.3 2680.1L854.1 2676.6L885.8 2673.6L917.6 2671L949.3 2668.9L981.1 2667.2L1012.9 2665.9L1044.6 2665L1076.4 2664.6L1108.1 2664.6L1139.9 2665L1171.7 2665.9L1203.4 2667.2L1235.2 2668.9L1266.9 2671.1L2186 2671.1L2186 0L0 0Z"/></clipPath></defs>
<path class="bx" d="M668 623L668 137"/>
<path class="tk" d="M668 623l16 0M668 603.6l9 0M668 584.1l9 0M668 564.7l9 0M668 545.2l9 0M668 525.8l16 0M668 506.4l9 0M668 486.9l9 0M668 467.5l9 0M668 448l9 0M668 428.6l16 0M668 409.2l9 0M668 389.7l9 0M668 370.3l9 0M668 350.8l9 0M668 331.4l16 0M668 312l9 0M668 292.5l9 0M668 273.1l9 0M668 253.6l9 0M668 234.2l16 0M668 214.8l9 0M668 195.3l9 0M668 175.9l9 0M668 156.4l9 0M668 137l16 0"/>
<path class="bx" d="M1705 681L1705 195"/>
<path class="tk" d="M1705 681l-16 0M1705 661.6l-9 0M1705 642.1l-9 0M1705 622.7l-9 0M1705 603.2l-9 0M1705 583.8l-16 0M1705 564.4l-9 0M1705 544.9l-9 0M1705 525.5l-9 0M1705 506l-9 0M1705 486.6l-16 0M1705 467.2l-9 0M1705 447.7l-9 0M1705 428.3l-9 0M1705 408.8l-9 0M1705 389.4l-16 0M1705 370l-9 0M1705 350.5l-9 0M1705 331.1l-9 0M1705 311.6l-9 0M1705 292.2l-16 0M1705 272.8l-9 0M1705 253.3l-9 0M1705 233.9l-9 0M1705 214.4l-9 0M1705 195l-16 0"/>
<path class="bx" d="M288 787L322.2 772.2"/>
<g transform="matrix(997.0000 53.6000 337.0000 -153.0000 325.00 771.00)">
<rect x="0" y="0.0000" width="1" height="0.0354" fill="url(#ga0)"/>
<rect x="0" y="0.0208" width="1" height="0.0354" fill="url(#ga1)"/>
<rect x="0" y="0.0417" width="1" height="0.0354" fill="url(#ga2)"/>
<rect x="0" y="0.0625" width="1" height="0.0354" fill="url(#ga3)"/>
<rect x="0" y="0.0833" width="1" height="0.0354" fill="url(#ga4)"/>
<rect x="0" y="0.1042" width="1" height="0.0354" fill="url(#ga5)"/>
<rect x="0" y="0.1250" width="1" height="0.0354" fill="url(#ga6)"/>
<rect x="0" y="0.1458" width="1" height="0.0354" fill="url(#ga7)"/>
<rect x="0" y="0.1667" width="1" height="0.0354" fill="url(#ga8)"/>
<rect x="0" y="0.1875" width="1" height="0.0354" fill="url(#ga9)"/>
<rect x="0" y="0.2083" width="1" height="0.0354" fill="url(#ga10)"/>
<rect x="0" y="0.2292" width="1" height="0.0354" fill="url(#ga11)"/>
<rect x="0" y="0.2500" width="1" height="0.0354" fill="url(#ga12)"/>
<rect x="0" y="0.2708" width="1" height="0.0354" fill="url(#ga13)"/>
<rect x="0" y="0.2917" width="1" height="0.0354" fill="url(#ga14)"/>
<rect x="0" y="0.3125" width="1" height="0.0354" fill="url(#ga15)"/>
<rect x="0" y="0.3333" width="1" height="0.0354" fill="url(#ga16)"/>
<rect x="0" y="0.3542" width="1" height="0.0354" fill="url(#ga17)"/>
<rect x="0" y="0.3750" width="1" height="0.0354" fill="url(#ga18)"/>
<rect x="0" y="0.3958" width="1" height="0.0354" fill="url(#ga19)"/>
<rect x="0" y="0.4167" width="1" height="0.0354" fill="url(#ga20)"/>
<rect x="0" y="0.4375" width="1" height="0.0354" fill="url(#ga21)"/>
<rect x="0" y="0.4583" width="1" height="0.0354" fill="url(#ga22)"/>
<rect x="0" y="0.4792" width="1" height="0.0354" fill="url(#ga23)"/>
<rect x="0" y="0.5000" width="1" height="0.0354" fill="url(#ga24)"/>
<rect x="0" y="0.5208" width="1" height="0.0354" fill="url(#ga25)"/>
<rect x="0" y="0.5417" width="1" height="0.0354" fill="url(#ga26)"/>
<rect x="0" y="0.5625" width="1" height="0.0354" fill="url(#ga27)"/>
<rect x="0" y="0.5833" width="1" height="0.0354" fill="url(#ga28)"/>
<rect x="0" y="0.6042" width="1" height="0.0354" fill="url(#ga29)"/>
<rect x="0" y="0.6250" width="1" height="0.0354" fill="url(#ga30)"/>
<rect x="0" y="0.6458" width="1" height="0.0354" fill="url(#ga31)"/>
<rect x="0" y="0.6667" width="1" height="0.0354" fill="url(#ga32)"/>
<rect x="0" y="0.6875" width="1" height="0.0354" fill="url(#ga33)"/>
<rect x="0" y="0.7083" width="1" height="0.0354" fill="url(#ga34)"/>
<rect x="0" y="0.7292" width="1" height="0.0354" fill="url(#ga35)"/>
<rect x="0" y="0.7500" width="1" height="0.0354" fill="url(#ga36)"/>
<rect x="0" y="0.7708" width="1" height="0.0354" fill="url(#ga37)"/>
<rect x="0" y="0.7917" width="1" height="0.0354" fill="url(#ga38)"/>
<rect x="0" y="0.8125" width="1" height="0.0354" fill="url(#ga39)"/>
<rect x="0" y="0.8333" width="1" height="0.0354" fill="url(#ga40)"/>
<rect x="0" y="0.8542" width="1" height="0.0354" fill="url(#ga41)"/>
<rect x="0" y="0.8750" width="1" height="0.0354" fill="url(#ga42)"/>
<rect x="0" y="0.8958" width="1" height="0.0354" fill="url(#ga43)"/>
<rect x="0" y="0.9167" width="1" height="0.0354" fill="url(#ga44)"/>
<rect x="0" y="0.9375" width="1" height="0.0354" fill="url(#ga45)"/>
<rect x="0" y="0.9583" width="1" height="0.0354" fill="url(#ga46)"/>
<rect x="0" y="0.9792" width="1" height="0.0208" fill="url(#ga47)"/>
</g>
<g clip-path="url(#cla)">
<path class="sf" d="M677 578.8L709.5 567.5L742 556.7L774.5 546.4L806.9 536.5L839.4 527.1L871.9 518.1L904.4 509.6L936.9 501.6L969.4 494L1001.9 486.8L1034.4 480.2L1066.9 473.9L1099.4 468.2L1131.9 462.9L1164.4 458.1L1196.9 453.7L1229.4 449.7L1261.8 446.3L1294.3 443.3L1326.8 440.7L1359.3 438.6L1391.8 437L1424.3 435.8L1456.8 435.1L1489.3 434.9L1521.8 435.1L1554.3 435.8L1586.8 436.9L1619.3 438.5L1651.8 440.5L1660.6 449.7L1628.1 447.7L1595.6 446.2L1563.1 445.1L1530.6 444.5L1498.1 444.3L1465.6 444.6L1433.1 445.3L1400.6 446.5L1368.2 448.2L1335.7 450.3L1303.2 452.9L1270.7 455.9L1238.2 459.4L1205.7 463.4L1173.2 467.8L1140.7 472.7L1108.2 478L1075.7 483.8L1043.2 490.1L1010.7 496.8L978.2 503.9L945.8 511.6L913.3 519.7L880.8 528.2L848.3 537.2L815.8 546.7L783.3 556.6L750.8 567L718.3 577.8L685.8 589.1Z"/>
<path class="ml" d="M677 578.8L685.8 589.1M774.5 546.4L783.3 556.6M871.9 518.1L880.8 528.2M969.4 494L978.2 503.9M1066.9 473.9L1075.7 483.8M1164.4 458.1L1173.2 467.8M1261.8 446.3L1270.7 455.9M1359.3 438.6L1368.2 448.2M1456.8 435.1L1465.6 444.6M1554.3 435.8L1563.1 445.1M1651.8 440.5L1660.6 449.7M685.8 589.1L718.3 577.8L750.8 567L783.3 556.6L815.8 546.7L848.3 537.2L880.8 528.2L913.3 519.7L945.8 511.6L978.2 503.9L1010.7 496.8L1043.2 490.1L1075.7 483.8L1108.2 478L1140.7 472.7L1173.2 467.8L1205.7 463.4L1238.2 459.4L1270.7 455.9L1303.2 452.9L1335.7 450.3L1368.2 448.2L1400.6 446.5L1433.1 445.3L1465.6 444.6L1498.1 444.3L1530.6 444.5L1563.1 445.1L1595.6 446.2L1628.1 447.7L1660.6 449.7"/>
<path class="sf" d="M668.1 569.2L700.6 557.9L733.1 547.2L765.6 536.9L798.1 527L830.6 517.6L863.1 508.7L895.6 500.2L928.1 492.2L960.6 484.7L993.1 477.6L1025.6 470.9L1058.1 464.7L1090.5 459L1123 453.8L1155.5 449L1188 444.6L1220.5 440.7L1253 437.3L1285.5 434.3L1318 431.8L1350.5 429.8L1383 428.2L1415.5 427L1448 426.4L1480.5 426.1L1512.9 426.4L1545.4 427.1L1577.9 428.2L1610.4 429.9L1642.9 431.9L1651.8 440.5L1619.3 438.5L1586.8 436.9L1554.3 435.8L1521.8 435.1L1489.3 434.9L1456.8 435.1L1424.3 435.8L1391.8 437L1359.3 438.6L1326.8 440.7L1294.3 443.3L1261.8 446.3L1229.4 449.7L1196.9 453.7L1164.4 458.1L1131.9 462.9L1099.4 468.2L1066.9 473.9L1034.4 480.2L1001.9 486.8L969.4 494L936.9 501.6L904.4 509.6L871.9 518.1L839.4 527.1L806.9 536.5L774.5 546.4L742 556.7L709.5 567.5L677 578.8Z"/>
<path class="ml" d="M668.1 569.2L677 578.8M765.6 536.9L774.5 546.4M863.1 508.7L871.9 518.1M960.6 484.7L969.4 494M1058.1 464.7L1066.9 473.9M1155.5 449L1164.4 458.1M1253 437.3L1261.8 446.3M1350.5 429.8L1359.3 438.6M1448 426.4L1456.8 435.1M1545.4 427.1L1554.3 435.8M1642.9 431.9L1651.8 440.5"/>
<path class="sf" d="M659.3 560.2L691.8 549L724.3 538.3L756.8 528L789.3 518.2L821.8 508.8L854.3 500L886.8 491.5L919.2 483.5L951.7 476L984.2 469L1016.7 462.4L1049.2 456.2L1081.7 450.5L1114.2 445.3L1146.7 440.5L1179.2 436.2L1211.7 432.4L1244.2 429L1276.7 426L1309.2 423.6L1341.7 421.6L1374.1 420L1406.6 418.9L1439.1 418.3L1471.6 418.1L1504.1 418.4L1536.6 419.1L1569.1 420.3L1601.6 421.9L1634.1 424L1642.9 431.9L1610.4 429.9L1577.9 428.2L1545.4 427.1L1512.9 426.4L1480.5 426.1L1448 426.4L1415.5 427L1383 428.2L1350.5 429.8L1318 431.8L1285.5 434.3L1253 437.3L1220.5 440.7L1188 444.6L1155.5 449L1123 453.8L1090.5 459L1058.1 464.7L1025.6 470.9L993.1 477.6L960.6 484.7L928.1 492.2L895.6 500.2L863.1 508.7L830.6 517.6L798.1 527L765.6 536.9L733.1 547.2L700.6 557.9L668.1 569.2Z"/>
<path class="ml" d="M659.3 560.2L668.1 569.2M756.8 528L765.6 536.9M854.3 500L863.1 508.7M951.7 476L960.6 484.7M1049.2 456.2L1058.1 464.7M1146.7 440.5L1155.5 449M1244.2 429L1253 437.3M1341.7 421.6L1350.5 429.8M1439.1 418.3L1448 426.4M1536.6 419.1L1545.4 427.1M1634.1 424L1642.9 431.9"/>
<path class="sf" d="M650.5 551.9L683 540.8L715.5 530.1L747.9 519.8L780.4 510.1L812.9 500.7L845.4 491.9L877.9 483.5L910.4 475.5L942.9 468L975.4 461L1007.9 454.4L1040.4 448.3L1072.9 442.7L1105.4 437.5L1137.9 432.8L1170.4 428.5L1202.8 424.7L1235.3 421.3L1267.8 418.4L1300.3 416L1332.8 414L1365.3 412.5L1397.8 411.4L1430.3 410.8L1462.8 410.7L1495.3 411L1527.8 411.8L1560.3 413L1592.8 414.7L1625.2 416.8L1634.1 424L1601.6 421.9L1569.1 420.3L1536.6 419.1L1504.1 418.4L1471.6 418.1L1439.1 418.3L1406.6 418.9L1374.1 420L1341.7 421.6L1309.2 423.6L1276.7 426L1244.2 429L1211.7 432.4L1179.2 436.2L1146.7 440.5L1114.2 445.3L1081.7 450.5L1049.2 456.2L1016.7 462.4L984.2 469L951.7 476L919.2 483.5L886.8 491.5L854.3 500L821.8 508.8L789.3 518.2L756.8 528L724.3 538.3L691.8 549L659.3 560.2Z"/>
<path class="ml" d="M650.5 551.9L659.3 560.2M747.9 519.8L756.8 528M845.4 491.9L854.3 500M942.9 468L951.7 476M1040.4 448.3L1049.2 456.2M1137.9 432.8L1146.7 440.5M1235.3 421.3L1244.2 429M1332.8 414L1341.7 421.6M1430.3 410.8L1439.1 418.3M1527.8 411.8L1536.6 419.1M1625.2 416.8L1634.1 424M650.5 551.9L683 540.8L715.5 530.1L747.9 519.8L780.4 510.1L812.9 500.7L845.4 491.9L877.9 483.5L910.4 475.5L942.9 468L975.4 461L1007.9 454.4L1040.4 448.3L1072.9 442.7L1105.4 437.5L1137.9 432.8L1170.4 428.5L1202.8 424.7L1235.3 421.3L1267.8 418.4L1300.3 416L1332.8 414L1365.3 412.5L1397.8 411.4L1430.3 410.8L1462.8 410.7L1495.3 411L1527.8 411.8L1560.3 413L1592.8 414.7L1625.2 416.8"/>
<path class="sf" d="M641.6 544.3L674.1 533.2L706.6 522.5L739.1 512.3L771.6 502.6L804.1 493.3L836.6 484.5L869.1 476.1L901.6 468.2L934.1 460.7L966.6 453.7L999.1 447.2L1031.5 441.1L1064 435.5L1096.5 430.4L1129 425.7L1161.5 421.4L1194 417.7L1226.5 414.3L1259 411.5L1291.5 409.1L1324 407.1L1356.5 405.6L1389 404.6L1421.5 404L1454 403.9L1486.4 404.3L1518.9 405.1L1551.4 406.4L1583.9 408.1L1616.4 410.3L1625.2 416.8L1592.8 414.7L1560.3 413L1527.8 411.8L1495.3 411L1462.8 410.7L1430.3 410.8L1397.8 411.4L1365.3 412.5L1332.8 414L1300.3 416L1267.8 418.4L1235.3 421.3L1202.8 424.7L1170.4 428.5L1137.9 432.8L1105.4 437.5L1072.9 442.7L1040.4 448.3L1007.9 454.4L975.4 461L942.9 468L910.4 475.5L877.9 483.5L845.4 491.9L812.9 500.7L780.4 510.1L747.9 519.8L715.5 530.1L683 540.8L650.5 551.9Z"/>
<path class="ml" d="M641.6 544.3L650.5 551.9M739.1 512.3L747.9 519.8M836.6 484.5L845.4 491.9M934.1 460.7L942.9 468M1031.5 441.1L1040.4 448.3M1129 425.7L1137.9 432.8M1226.5 414.3L1235.3 421.3M1324 407.1L1332.8 414M1421.5 404L1430.3 410.8M1518.9 405.1L1527.8 411.8M1616.4 410.3L1625.2 416.8M650.5 551.9L683 540.8L715.5 530.1L747.9 519.8L780.4 510.1L812.9 500.7L845.4 491.9L877.9 483.5L910.4 475.5L942.9 468L975.4 461L1007.9 454.4L1040.4 448.3L1072.9 442.7L1105.4 437.5L1137.9 432.8L1170.4 428.5L1202.8 424.7L1235.3 421.3L1267.8 418.4L1300.3 416L1332.8 414L1365.3 412.5L1397.8 411.4L1430.3 410.8L1462.8 410.7L1495.3 411L1527.8 411.8L1560.3 413L1592.8 414.7L1625.2 416.8"/>
<path class="sf" d="M632.8 537.3L665.3 526.2L697.8 515.6L730.3 505.5L762.8 495.7L795.3 486.5L827.8 477.7L860.2 469.4L892.7 461.5L925.2 454.1L957.7 447.1L990.2 440.6L1022.7 434.6L1055.2 429L1087.7 423.9L1120.2 419.2L1152.7 415L1185.2 411.3L1217.7 408L1250.2 405.2L1282.7 402.8L1315.1 400.9L1347.6 399.5L1380.1 398.5L1412.6 397.9L1445.1 397.9L1477.6 398.2L1510.1 399.1L1542.6 400.4L1575.1 402.2L1607.6 404.4L1616.4 410.3L1583.9 408.1L1551.4 406.4L1518.9 405.1L1486.4 404.3L1454 403.9L1421.5 404L1389 404.6L1356.5 405.6L1324 407.1L1291.5 409.1L1259 411.5L1226.5 414.3L1194 417.7L1161.5 421.4L1129 425.7L1096.5 430.4L1064 435.5L1031.5 441.1L999.1 447.2L966.6 453.7L934.1 460.7L901.6 468.2L869.1 476.1L836.6 484.5L804.1 493.3L771.6 502.6L739.1 512.3L706.6 522.5L674.1 533.2L641.6 544.3Z"/>
<path class="ml" d="M632.8 537.3L641.6 544.3M730.3 505.5L739.1 512.3M827.8 477.7L836.6 484.5M925.2 454.1L934.1 460.7M1022.7 434.6L1031.5 441.1M1120.2 419.2L1129 425.7M1217.7 408L1226.5 414.3M1315.1 400.9L1324 407.1M1412.6 397.9L1421.5 404M1510.1 399.1L1518.9 405.1M1607.6 404.4L1616.4 410.3"/>
<path class="sf" d="M624 531L656.5 520L689 509.4L721.4 499.3L753.9 489.6L786.4 480.4L818.9 471.6L851.4 463.3L883.9 455.5L916.4 448.1L948.9 441.2L981.4 434.7L1013.9 428.7L1046.4 423.2L1078.9 418.1L1111.4 413.5L1143.8 409.3L1176.3 405.6L1208.8 402.4L1241.3 399.6L1273.8 397.2L1306.3 395.4L1338.8 394L1371.3 393L1403.8 392.5L1436.3 392.5L1468.8 392.9L1501.3 393.8L1533.8 395.1L1566.3 396.9L1598.7 399.1L1607.6 404.4L1575.1 402.2L1542.6 400.4L1510.1 399.1L1477.6 398.2L1445.1 397.9L1412.6 397.9L1380.1 398.5L1347.6 399.5L1315.1 400.9L1282.7 402.8L1250.2 405.2L1217.7 408L1185.2 411.3L1152.7 415L1120.2 419.2L1087.7 423.9L1055.2 429L1022.7 434.6L990.2 440.6L957.7 447.1L925.2 454.1L892.7 461.5L860.2 469.4L827.8 477.7L795.3 486.5L762.8 495.7L730.3 505.5L697.8 515.6L665.3 526.2L632.8 537.3Z"/>
<path class="ml" d="M624 531L632.8 537.3M721.4 499.3L730.3 505.5M818.9 471.6L827.8 477.7M916.4 448.1L925.2 454.1M1013.9 428.7L1022.7 434.6M1111.4 413.5L1120.2 419.2M1208.8 402.4L1217.7 408M1306.3 395.4L1315.1 400.9M1403.8 392.5L1412.6 397.9M1501.3 393.8L1510.1 399.1M1598.7 399.1L1607.6 404.4"/>
<path class="sf" d="M615.1 525.4L647.6 514.4L680.1 503.8L712.6 493.8L745.1 484.1L777.6 474.9L810.1 466.2L842.6 458L875.1 450.2L907.6 442.8L940.1 435.9L972.5 429.5L1005 423.5L1037.5 418L1070 413L1102.5 408.4L1135 404.3L1167.5 400.6L1200 397.4L1232.5 394.6L1265 392.3L1297.5 390.5L1330 389.1L1362.5 388.2L1395 387.7L1427.4 387.7L1459.9 388.2L1492.4 389.1L1524.9 390.5L1557.4 392.3L1589.9 394.6L1598.7 399.1L1566.3 396.9L1533.8 395.1L1501.3 393.8L1468.8 392.9L1436.3 392.5L1403.8 392.5L1371.3 393L1338.8 394L1306.3 395.4L1273.8 397.2L1241.3 399.6L1208.8 402.4L1176.3 405.6L1143.8 409.3L1111.4 413.5L1078.9 418.1L1046.4 423.2L1013.9 428.7L981.4 434.7L948.9 441.2L916.4 448.1L883.9 455.5L851.4 463.3L818.9 471.6L786.4 480.4L753.9 489.6L721.4 499.3L689 509.4L656.5 520L624 531Z"/>
<path class="ml" d="M615.1 525.4L624 531M712.6 493.8L721.4 499.3M810.1 466.2L818.9 471.6M907.6 442.8L916.4 448.1M1005 423.5L1013.9 428.7M1102.5 408.4L1111.4 413.5M1200 397.4L1208.8 402.4M1297.5 390.5L1306.3 395.4M1395 387.7L1403.8 392.5M1492.4 389.1L1501.3 393.8M1589.9 394.6L1598.7 399.1M615.1 525.4L647.6 514.4L680.1 503.8L712.6 493.8L745.1 484.1L777.6 474.9L810.1 466.2L842.6 458L875.1 450.2L907.6 442.8L940.1 435.9L972.5 429.5L1005 423.5L1037.5 418L1070 413L1102.5 408.4L1135 404.3L1167.5 400.6L1200 397.4L1232.5 394.6L1265 392.3L1297.5 390.5L1330 389.1L1362.5 388.2L1395 387.7L1427.4 387.7L1459.9 388.2L1492.4 389.1L1524.9 390.5L1557.4 392.3L1589.9 394.6"/>
<path class="sf" d="M606.3 520.5L638.8 509.5L671.3 499L703.8 488.9L736.3 479.3L768.8 470.2L801.3 461.5L833.7 453.3L866.2 445.5L898.7 438.2L931.2 431.3L963.7 424.9L996.2 419L1028.7 413.5L1061.2 408.5L1093.7 404L1126.2 399.9L1158.7 396.2L1191.2 393.1L1223.7 390.3L1256.1 388.1L1288.6 386.3L1321.1 384.9L1353.6 384.1L1386.1 383.6L1418.6 383.7L1451.1 384.1L1483.6 385.1L1516.1 386.5L1548.6 388.4L1581.1 390.7L1589.9 394.6L1557.4 392.3L1524.9 390.5L1492.4 389.1L1459.9 388.2L1427.4 387.7L1395 387.7L1362.5 388.2L1330 389.1L1297.5 390.5L1265 392.3L1232.5 394.6L1200 397.4L1167.5 400.6L1135 404.3L1102.5 408.4L1070 413L1037.5 418L1005 423.5L972.5 429.5L940.1 435.9L907.6 442.8L875.1 450.2L842.6 458L810.1 466.2L777.6 474.9L745.1 484.1L712.6 493.8L680.1 503.8L647.6 514.4L615.1 525.4Z"/>
<path class="ml" d="M606.3 520.5L615.1 525.4M703.8 488.9L712.6 493.8M801.3 461.5L810.1 466.2M898.7 438.2L907.6 442.8M996.2 419L1005 423.5M1093.7 404L1102.5 408.4M1191.2 393.1L1200 397.4M1288.6 386.3L1297.5 390.5M1386.1 383.6L1395 387.7M1483.6 385.1L1492.4 389.1M1581.1 390.7L1589.9 394.6M615.1 525.4L647.6 514.4L680.1 503.8L712.6 493.8L745.1 484.1L777.6 474.9L810.1 466.2L842.6 458L875.1 450.2L907.6 442.8L940.1 435.9L972.5 429.5L1005 423.5L1037.5 418L1070 413L1102.5 408.4L1135 404.3L1167.5 400.6L1200 397.4L1232.5 394.6L1265 392.3L1297.5 390.5L1330 389.1L1362.5 388.2L1395 387.7L1427.4 387.7L1459.9 388.2L1492.4 389.1L1524.9 390.5L1557.4 392.3L1589.9 394.6"/>
<path class="sf" d="M597.5 516.2L630 505.2L662.4 494.7L694.9 484.7L727.4 475.2L759.9 466L792.4 457.4L824.9 449.2L857.4 441.5L889.9 434.2L922.4 427.4L954.9 421L987.4 415.1L1019.9 409.7L1052.4 404.7L1084.8 400.2L1117.3 396.2L1149.8 392.6L1182.3 389.4L1214.8 386.7L1247.3 384.5L1279.8 382.7L1312.3 381.4L1344.8 380.6L1377.3 380.2L1409.8 380.3L1442.3 380.8L1474.8 381.8L1507.3 383.2L1539.7 385.1L1572.2 387.5L1581.1 390.7L1548.6 388.4L1516.1 386.5L1483.6 385.1L1451.1 384.1L1418.6 383.7L1386.1 383.6L1353.6 384.1L1321.1 384.9L1288.6 386.3L1256.1 388.1L1223.7 390.3L1191.2 393.1L1158.7 396.2L1126.2 399.9L1093.7 404L1061.2 408.5L1028.7 413.5L996.2 419L963.7 424.9L931.2 431.3L898.7 438.2L866.2 445.5L833.7 453.3L801.3 461.5L768.8 470.2L736.3 479.3L703.8 488.9L671.3 499L638.8 509.5L606.3 520.5Z"/>
<path class="ml" d="M597.5 516.2L606.3 520.5M694.9 484.7L703.8 488.9M792.4 457.4L801.3 461.5M889.9 434.2L898.7 438.2M987.4 415.1L996.2 419M1084.8 400.2L1093.7 404M1182.3 389.4L1191.2 393.1M1279.8 382.7L1288.6 386.3M1377.3 380.2L1386.1 383.6M1474.8 381.8L1483.6 385.1M1572.2 387.5L1581.1 390.7"/>
<path class="sf" d="M588.6 512.5L621.1 501.6L653.6 491.2L686.1 481.2L718.6 471.7L751.1 462.6L783.6 454L816.1 445.8L848.6 438.1L881.1 430.9L913.6 424.1L946 417.8L978.5 412L1011 406.6L1043.5 401.6L1076 397.1L1108.5 393.1L1141 389.5L1173.5 386.4L1206 383.8L1238.5 381.6L1271 379.9L1303.5 378.6L1336 377.8L1368.4 377.4L1400.9 377.5L1433.4 378.1L1465.9 379.1L1498.4 380.6L1530.9 382.5L1563.4 384.9L1572.2 387.5L1539.7 385.1L1507.3 383.2L1474.8 381.8L1442.3 380.8L1409.8 380.3L1377.3 380.2L1344.8 380.6L1312.3 381.4L1279.8 382.7L1247.3 384.5L1214.8 386.7L1182.3 389.4L1149.8 392.6L1117.3 396.2L1084.8 400.2L1052.4 404.7L1019.9 409.7L987.4 415.1L954.9 421L922.4 427.4L889.9 434.2L857.4 441.5L824.9 449.2L792.4 457.4L759.9 466L727.4 475.2L694.9 484.7L662.4 494.7L630 505.2L597.5 516.2Z"/>
<path class="ml" d="M588.6 512.5L597.5 516.2M686.1 481.2L694.9 484.7M783.6 454L792.4 457.4M881.1 430.9L889.9 434.2M978.5 412L987.4 415.1M1076 397.1L1084.8 400.2M1173.5 386.4L1182.3 389.4M1271 379.9L1279.8 382.7M1368.4 377.4L1377.3 380.2M1465.9 379.1L1474.8 381.8M1563.4 384.9L1572.2 387.5"/>
<path class="sf" d="M579.8 509.6L612.3 498.7L644.8 488.3L677.3 478.4L709.8 468.9L742.3 459.8L774.7 451.2L807.2 443.1L839.7 435.5L872.2 428.3L904.7 421.5L937.2 415.2L969.7 409.4L1002.2 404.1L1034.7 399.2L1067.2 394.7L1099.7 390.7L1132.2 387.2L1164.7 384.1L1197.2 381.5L1229.6 379.3L1262.1 377.7L1294.6 376.4L1327.1 375.6L1359.6 375.3L1392.1 375.5L1424.6 376.1L1457.1 377.1L1489.6 378.6L1522.1 380.6L1554.6 383L1563.4 384.9L1530.9 382.5L1498.4 380.6L1465.9 379.1L1433.4 378.1L1400.9 377.5L1368.4 377.4L1336 377.8L1303.5 378.6L1271 379.9L1238.5 381.6L1206 383.8L1173.5 386.4L1141 389.5L1108.5 393.1L1076 397.1L1043.5 401.6L1011 406.6L978.5 412L946 417.8L913.6 424.1L881.1 430.9L848.6 438.1L816.1 445.8L783.6 454L751.1 462.6L718.6 471.7L686.1 481.2L653.6 491.2L621.1 501.6L588.6 512.5Z"/>
<path class="ml" d="M579.8 509.6L588.6 512.5M677.3 478.4L686.1 481.2M774.7 451.2L783.6 454M872.2 428.3L881.1 430.9M969.7 409.4L978.5 412M1067.2 394.7L1076 397.1M1164.7 384.1L1173.5 386.4M1262.1 377.7L1271 379.9M1359.6 375.3L1368.4 377.4M1457.1 377.1L1465.9 379.1M1554.6 383L1563.4 384.9M579.8 509.6L612.3 498.7L644.8 488.3L677.3 478.4L709.8 468.9L742.3 459.8L774.7 451.2L807.2 443.1L839.7 435.5L872.2 428.3L904.7 421.5L937.2 415.2L969.7 409.4L1002.2 404.1L1034.7 399.2L1067.2 394.7L1099.7 390.7L1132.2 387.2L1164.7 384.1L1197.2 381.5L1229.6 379.3L1262.1 377.7L1294.6 376.4L1327.1 375.6L1359.6 375.3L1392.1 375.5L1424.6 376.1L1457.1 377.1L1489.6 378.6L1522.1 380.6L1554.6 383"/>
<path class="sf" d="M571 507.3L603.4 496.5L635.9 486.1L668.4 476.2L700.9 466.7L733.4 457.7L765.9 449.2L798.4 441.1L830.9 433.5L863.4 426.3L895.9 419.6L928.4 413.4L960.9 407.6L993.4 402.2L1025.9 397.4L1058.3 393L1090.8 389L1123.3 385.5L1155.8 382.5L1188.3 379.9L1220.8 377.8L1253.3 376.1L1285.8 374.9L1318.3 374.2L1350.8 373.9L1383.3 374.1L1415.8 374.7L1448.3 375.8L1480.7 377.3L1513.2 379.3L1545.7 381.8L1554.6 383L1522.1 380.6L1489.6 378.6L1457.1 377.1L1424.6 376.1L1392.1 375.5L1359.6 375.3L1327.1 375.6L1294.6 376.4L1262.1 377.7L1229.6 379.3L1197.2 381.5L1164.7 384.1L1132.2 387.2L1099.7 390.7L1067.2 394.7L1034.7 399.2L1002.2 404.1L969.7 409.4L937.2 415.2L904.7 421.5L872.2 428.3L839.7 435.5L807.2 443.1L774.7 451.2L742.3 459.8L709.8 468.9L677.3 478.4L644.8 488.3L612.3 498.7L579.8 509.6Z"/>
<path class="ml" d="M571 507.3L579.8 509.6M668.4 476.2L677.3 478.4M765.9 449.2L774.7 451.2M863.4 426.3L872.2 428.3M960.9 407.6L969.7 409.4M1058.3 393L1067.2 394.7M1155.8 382.5L1164.7 384.1M1253.3 376.1L1262.1 377.7M1350.8 373.9L1359.6 375.3M1448.3 375.8L1457.1 377.1M1545.7 381.8L1554.6 383M579.8 509.6L612.3 498.7L644.8 488.3L677.3 478.4L709.8 468.9L742.3 459.8L774.7 451.2L807.2 443.1L839.7 435.5L872.2 428.3L904.7 421.5L937.2 415.2L969.7 409.4L1002.2 404.1L1034.7 399.2L1067.2 394.7L1099.7 390.7L1132.2 387.2L1164.7 384.1L1197.2 381.5L1229.6 379.3L1262.1 377.7L1294.6 376.4L1327.1 375.6L1359.6 375.3L1392.1 375.5L1424.6 376.1L1457.1 377.1L1489.6 378.6L1522.1 380.6L1554.6 383"/>
<path class="sf" d="M562.1 505.7L594.6 494.9L627.1 484.5L659.6 474.7L692.1 465.2L724.6 456.3L757.1 447.8L789.6 439.7L822.1 432.1L854.6 425L887 418.3L919.5 412.1L952 406.4L984.5 401.1L1017 396.2L1049.5 391.9L1082 387.9L1114.5 384.5L1147 381.5L1179.5 378.9L1212 376.9L1244.5 375.2L1277 374.1L1309.5 373.4L1341.9 373.1L1374.4 373.3L1406.9 374L1439.4 375.1L1471.9 376.7L1504.4 378.8L1536.9 381.3L1545.7 381.8L1513.2 379.3L1480.7 377.3L1448.3 375.8L1415.8 374.7L1383.3 374.1L1350.8 373.9L1318.3 374.2L1285.8 374.9L1253.3 376.1L1220.8 377.8L1188.3 379.9L1155.8 382.5L1123.3 385.5L1090.8 389L1058.3 393L1025.9 397.4L993.4 402.2L960.9 407.6L928.4 413.4L895.9 419.6L863.4 426.3L830.9 433.5L798.4 441.1L765.9 449.2L733.4 457.7L700.9 466.7L668.4 476.2L635.9 486.1L603.4 496.5L571 507.3Z"/>
<path class="ml" d="M562.1 505.7L571 507.3M659.6 474.7L668.4 476.2M757.1 447.8L765.9 449.2M854.6 425L863.4 426.3M952 406.4L960.9 407.6M1049.5 391.9L1058.3 393M1147 381.5L1155.8 382.5M1244.5 375.2L1253.3 376.1M1341.9 373.1L1350.8 373.9M1439.4 375.1L1448.3 375.8M1536.9 381.3L1545.7 381.8"/>
<path class="sf" d="M553.3 504.7L585.8 494L618.3 483.7L650.8 473.8L683.3 464.4L715.7 455.5L748.2 447L780.7 439L813.2 431.5L845.7 424.4L878.2 417.7L910.7 411.6L943.2 405.8L975.7 400.6L1008.2 395.8L1040.7 391.4L1073.2 387.6L1105.7 384.1L1138.2 381.2L1170.6 378.7L1203.1 376.6L1235.6 375L1268.1 373.9L1300.6 373.2L1333.1 373L1365.6 373.3L1398.1 374L1430.6 375.1L1463.1 376.8L1495.6 378.8L1528.1 381.4L1536.9 381.3L1504.4 378.8L1471.9 376.7L1439.4 375.1L1406.9 374L1374.4 373.3L1341.9 373.1L1309.5 373.4L1277 374.1L1244.5 375.2L1212 376.9L1179.5 378.9L1147 381.5L1114.5 384.5L1082 387.9L1049.5 391.9L1017 396.2L984.5 401.1L952 406.4L919.5 412.1L887 418.3L854.6 425L822.1 432.1L789.6 439.7L757.1 447.8L724.6 456.3L692.1 465.2L659.6 474.7L627.1 484.5L594.6 494.9L562.1 505.7Z"/>
<path class="ml" d="M553.3 504.7L562.1 505.7M650.8 473.8L659.6 474.7M748.2 447L757.1 447.8M845.7 424.4L854.6 425M943.2 405.8L952 406.4M1040.7 391.4L1049.5 391.9M1138.2 381.2L1147 381.5M1235.6 375L1244.5 375.2M1333.1 373L1341.9 373.1M1430.6 375.1L1439.4 375.1M1528.1 381.4L1536.9 381.3"/>
<path class="sf" d="M544.5 504.4L576.9 493.7L609.4 483.4L641.9 473.6L674.4 464.3L706.9 455.4L739.4 446.9L771.9 439L804.4 431.5L836.9 424.4L869.4 417.8L901.9 411.7L934.4 406L966.9 400.8L999.3 396L1031.8 391.7L1064.3 387.8L1096.8 384.5L1129.3 381.5L1161.8 379.1L1194.3 377L1226.8 375.5L1259.3 374.4L1291.8 373.8L1324.3 373.6L1356.8 373.9L1389.3 374.6L1421.8 375.8L1454.2 377.5L1486.7 379.6L1519.2 382.2L1528.1 381.4L1495.6 378.8L1463.1 376.8L1430.6 375.1L1398.1 374L1365.6 373.3L1333.1 373L1300.6 373.2L1268.1 373.9L1235.6 375L1203.1 376.6L1170.6 378.7L1138.2 381.2L1105.7 384.1L1073.2 387.6L1040.7 391.4L1008.2 395.8L975.7 400.6L943.2 405.8L910.7 411.6L878.2 417.7L845.7 424.4L813.2 431.5L780.7 439L748.2 447L715.7 455.5L683.3 464.4L650.8 473.8L618.3 483.7L585.8 494L553.3 504.7Z"/>
<path class="ml" d="M544.5 504.4L553.3 504.7M641.9 473.6L650.8 473.8M739.4 446.9L748.2 447M836.9 424.4L845.7 424.4M934.4 406L943.2 405.8M1031.8 391.7L1040.7 391.4M1129.3 381.5L1138.2 381.2M1226.8 375.5L1235.6 375M1324.3 373.6L1333.1 373M1421.8 375.8L1430.6 375.1M1519.2 382.2L1528.1 381.4M544.5 504.4L576.9 493.7L609.4 483.4L641.9 473.6L674.4 464.3L706.9 455.4L739.4 446.9L771.9 439L804.4 431.5L836.9 424.4L869.4 417.8L901.9 411.7L934.4 406L966.9 400.8L999.3 396L1031.8 391.7L1064.3 387.8L1096.8 384.5L1129.3 381.5L1161.8 379.1L1194.3 377L1226.8 375.5L1259.3 374.4L1291.8 373.8L1324.3 373.6L1356.8 373.9L1389.3 374.6L1421.8 375.8L1454.2 377.5L1486.7 379.6L1519.2 382.2"/>
<path class="sf" d="M535.6 504.8L568.1 494.1L600.6 483.9L633.1 474.1L665.6 464.8L698.1 455.9L730.6 447.5L763.1 439.6L795.6 432.1L828 425.1L860.5 418.5L893 412.4L925.5 406.8L958 401.6L990.5 396.9L1023 392.6L1055.5 388.8L1088 385.4L1120.5 382.5L1153 380.1L1185.5 378.1L1218 376.6L1250.5 375.6L1282.9 375L1315.4 374.8L1347.9 375.1L1380.4 375.9L1412.9 377.1L1445.4 378.8L1477.9 381L1510.4 383.6L1519.2 382.2L1486.7 379.6L1454.2 377.5L1421.8 375.8L1389.3 374.6L1356.8 373.9L1324.3 373.6L1291.8 373.8L1259.3 374.4L1226.8 375.5L1194.3 377L1161.8 379.1L1129.3 381.5L1096.8 384.5L1064.3 387.8L1031.8 391.7L999.3 396L966.9 400.8L934.4 406L901.9 411.7L869.4 417.8L836.9 424.4L804.4 431.5L771.9 439L739.4 446.9L706.9 455.4L674.4 464.3L641.9 473.6L609.4 483.4L576.9 493.7L544.5 504.4Z"/>
<path class="ml" d="M535.6 504.8L544.5 504.4M633.1 474.1L641.9 473.6M730.6 447.5L739.4 446.9M828 425.1L836.9 424.4M925.5 406.8L934.4 406M1023 392.6L1031.8 391.7M1120.5 382.5L1129.3 381.5M1218 376.6L1226.8 375.5M1315.4 374.8L1324.3 373.6M1412.9 377.1L1421.8 375.8M1510.4 383.6L1519.2 382.2M544.5 504.4L576.9 493.7L609.4 483.4L641.9 473.6L674.4 464.3L706.9 455.4L739.4 446.9L771.9 439L804.4 431.5L836.9 424.4L869.4 417.8L901.9 411.7L934.4 406L966.9 400.8L999.3 396L1031.8 391.7L1064.3 387.8L1096.8 384.5L1129.3 381.5L1161.8 379.1L1194.3 377L1226.8 375.5L1259.3 374.4L1291.8 373.8L1324.3 373.6L1356.8 373.9L1389.3 374.6L1421.8 375.8L1454.2 377.5L1486.7 379.6L1519.2 382.2"/>
<path class="sf" d="M526.8 505.9L559.3 495.2L591.8 485L624.3 475.3L656.8 466L689.2 457.2L721.7 448.8L754.2 440.9L786.7 433.5L819.2 426.5L851.7 419.9L884.2 413.9L916.7 408.3L949.2 403.1L981.7 398.4L1014.2 394.2L1046.7 390.4L1079.2 387.1L1111.6 384.2L1144.1 381.8L1176.6 379.9L1209.1 378.4L1241.6 377.4L1274.1 376.8L1306.6 376.7L1339.1 377.1L1371.6 377.9L1404.1 379.2L1436.6 380.9L1469.1 383.1L1501.6 385.7L1510.4 383.6L1477.9 381L1445.4 378.8L1412.9 377.1L1380.4 375.9L1347.9 375.1L1315.4 374.8L1282.9 375L1250.5 375.6L1218 376.6L1185.5 378.1L1153 380.1L1120.5 382.5L1088 385.4L1055.5 388.8L1023 392.6L990.5 396.9L958 401.6L925.5 406.8L893 412.4L860.5 418.5L828 425.1L795.6 432.1L763.1 439.6L730.6 447.5L698.1 455.9L665.6 464.8L633.1 474.1L600.6 483.9L568.1 494.1L535.6 504.8Z"/>
<path class="ml" d="M526.8 505.9L535.6 504.8M624.3 475.3L633.1 474.1M721.7 448.8L730.6 447.5M819.2 426.5L828 425.1M916.7 408.3L925.5 406.8M1014.2 394.2L1023 392.6M1111.6 384.2L1120.5 382.5M1209.1 378.4L1218 376.6M1306.6 376.7L1315.4 374.8M1404.1 379.2L1412.9 377.1M1501.6 385.7L1510.4 383.6"/>
<path class="sf" d="M517.9 507.6L550.4 497L582.9 486.8L615.4 477.1L647.9 467.8L680.4 459.1L712.9 450.7L745.4 442.9L777.9 435.5L810.4 428.5L842.9 422L875.4 416L907.9 410.4L940.3 405.3L972.8 400.6L1005.3 396.4L1037.8 392.7L1070.3 389.4L1102.8 386.6L1135.3 384.2L1167.8 382.3L1200.3 380.9L1232.8 379.9L1265.3 379.4L1297.8 379.3L1330.3 379.7L1362.8 380.5L1395.2 381.8L1427.7 383.6L1460.2 385.8L1492.7 388.5L1501.6 385.7L1469.1 383.1L1436.6 380.9L1404.1 379.2L1371.6 377.9L1339.1 377.1L1306.6 376.7L1274.1 376.8L1241.6 377.4L1209.1 378.4L1176.6 379.9L1144.1 381.8L1111.6 384.2L1079.2 387.1L1046.7 390.4L1014.2 394.2L981.7 398.4L949.2 403.1L916.7 408.3L884.2 413.9L851.7 419.9L819.2 426.5L786.7 433.5L754.2 440.9L721.7 448.8L689.2 457.2L656.8 466L624.3 475.3L591.8 485L559.3 495.2L526.8 505.9Z"/>
<path class="ml" d="M517.9 507.6L526.8 505.9M615.4 477.1L624.3 475.3M712.9 450.7L721.7 448.8M810.4 428.5L819.2 426.5M907.9 410.4L916.7 408.3M1005.3 396.4L1014.2 394.2M1102.8 386.6L1111.6 384.2M1200.3 380.9L1209.1 378.4M1297.8 379.3L1306.6 376.7M1395.2 381.8L1404.1 379.2M1492.7 388.5L1501.6 385.7"/>
<path class="sf" d="M509.1 510L541.6 499.4L574.1 489.2L606.6 479.6L639.1 470.4L671.6 461.6L704.1 453.3L736.6 445.5L769.1 438.1L801.5 431.2L834 424.8L866.5 418.8L899 413.2L931.5 408.1L964 403.5L996.5 399.4L1029 395.6L1061.5 392.4L1094 389.6L1126.5 387.3L1159 385.4L1191.5 384L1223.9 383.1L1256.4 382.6L1288.9 382.5L1321.4 383L1353.9 383.8L1386.4 385.2L1418.9 387L1451.4 389.2L1483.9 392L1492.7 388.5L1460.2 385.8L1427.7 383.6L1395.2 381.8L1362.8 380.5L1330.3 379.7L1297.8 379.3L1265.3 379.4L1232.8 379.9L1200.3 380.9L1167.8 382.3L1135.3 384.2L1102.8 386.6L1070.3 389.4L1037.8 392.7L1005.3 396.4L972.8 400.6L940.3 405.3L907.9 410.4L875.4 416L842.9 422L810.4 428.5L777.9 435.5L745.4 442.9L712.9 450.7L680.4 459.1L647.9 467.8L615.4 477.1L582.9 486.8L550.4 497L517.9 507.6Z"/>
<path class="ml" d="M509.1 510L517.9 507.6M606.6 479.6L615.4 477.1M704.1 453.3L712.9 450.7M801.5 431.2L810.4 428.5M899 413.2L907.9 410.4M996.5 399.4L1005.3 396.4M1094 389.6L1102.8 386.6M1191.5 384L1200.3 380.9M1288.9 382.5L1297.8 379.3M1386.4 385.2L1395.2 381.8M1483.9 392L1492.7 388.5M509.1 510L541.6 499.4L574.1 489.2L606.6 479.6L639.1 470.4L671.6 461.6L704.1 453.3L736.6 445.5L769.1 438.1L801.5 431.2L834 424.8L866.5 418.8L899 413.2L931.5 408.1L964 403.5L996.5 399.4L1029 395.6L1061.5 392.4L1094 389.6L1126.5 387.3L1159 385.4L1191.5 384L1223.9 383.1L1256.4 382.6L1288.9 382.5L1321.4 383L1353.9 383.8L1386.4 385.2L1418.9 387L1451.4 389.2L1483.9 392"/>
<path class="sf" d="M500.3 513L532.8 502.5L565.3 492.4L597.8 482.7L630.2 473.6L662.7 464.8L695.2 456.6L727.7 448.8L760.2 441.5L792.7 434.6L825.2 428.2L857.7 422.2L890.2 416.7L922.7 411.6L955.2 407.1L987.7 402.9L1020.2 399.3L1052.7 396.1L1085.1 393.3L1117.6 391L1150.1 389.2L1182.6 387.8L1215.1 386.9L1247.6 386.4L1280.1 386.4L1312.6 386.9L1345.1 387.8L1377.6 389.2L1410.1 391L1442.6 393.3L1475.1 396.1L1483.9 392L1451.4 389.2L1418.9 387L1386.4 385.2L1353.9 383.8L1321.4 383L1288.9 382.5L1256.4 382.6L1223.9 383.1L1191.5 384L1159 385.4L1126.5 387.3L1094 389.6L1061.5 392.4L1029 395.6L996.5 399.4L964 403.5L931.5 408.1L899 413.2L866.5 418.8L834 424.8L801.5 431.2L769.1 438.1L736.6 445.5L704.1 453.3L671.6 461.6L639.1 470.4L606.6 479.6L574.1 489.2L541.6 499.4L509.1 510Z"/>
<path class="ml" d="M500.3 513L509.1 510M597.8 482.7L606.6 479.6M695.2 456.6L704.1 453.3M792.7 434.6L801.5 431.2M890.2 416.7L899 413.2M987.7 402.9L996.5 399.4M1085.1 393.3L1094 389.6M1182.6 387.8L1191.5 384M1280.1 386.4L1288.9 382.5M1377.6 389.2L1386.4 385.2M1475.1 396.1L1483.9 392M509.1 510L541.6 499.4L574.1 489.2L606.6 479.6L639.1 470.4L671.6 461.6L704.1 453.3L736.6 445.5L769.1 438.1L801.5 431.2L834 424.8L866.5 418.8L899 413.2L931.5 408.1L964 403.5L996.5 399.4L1029 395.6L1061.5 392.4L1094 389.6L1126.5 387.3L1159 385.4L1191.5 384L1223.9 383.1L1256.4 382.6L1288.9 382.5L1321.4 383L1353.9 383.8L1386.4 385.2L1418.9 387L1451.4 389.2L1483.9 392"/>
<path class="sf" d="M491.4 516.7L523.9 506.2L556.4 496.2L588.9 486.6L621.4 477.4L653.9 468.7L686.4 460.5L718.9 452.8L751.4 445.5L783.9 438.6L816.4 432.2L848.9 426.3L881.4 420.8L913.8 415.8L946.3 411.3L978.8 407.2L1011.3 403.6L1043.8 400.4L1076.3 397.7L1108.8 395.4L1141.3 393.6L1173.8 392.3L1206.3 391.4L1238.8 391L1271.3 391L1303.8 391.5L1336.2 392.5L1368.7 393.9L1401.2 395.7L1433.7 398.1L1466.2 400.9L1475.1 396.1L1442.6 393.3L1410.1 391L1377.6 389.2L1345.1 387.8L1312.6 386.9L1280.1 386.4L1247.6 386.4L1215.1 386.9L1182.6 387.8L1150.1 389.2L1117.6 391L1085.1 393.3L1052.7 396.1L1020.2 399.3L987.7 402.9L955.2 407.1L922.7 411.6L890.2 416.7L857.7 422.2L825.2 428.2L792.7 434.6L760.2 441.5L727.7 448.8L695.2 456.6L662.7 464.8L630.2 473.6L597.8 482.7L565.3 492.4L532.8 502.5L500.3 513Z"/>
<path class="ml" d="M491.4 516.7L500.3 513M588.9 486.6L597.8 482.7M686.4 460.5L695.2 456.6M783.9 438.6L792.7 434.6M881.4 420.8L890.2 416.7M978.8 407.2L987.7 402.9M1076.3 397.7L1085.1 393.3M1173.8 392.3L1182.6 387.8M1271.3 391L1280.1 386.4M1368.7 393.9L1377.6 389.2M1466.2 400.9L1475.1 396.1"/>
<path class="sf" d="M482.6 521.1L515.1 510.6L547.6 500.6L580.1 491L612.6 481.9L645.1 473.3L677.6 465.1L710.1 457.4L742.5 450.1L775 443.3L807.5 437L840 431.1L872.5 425.6L905 420.7L937.5 416.2L970 412.1L1002.5 408.5L1035 405.4L1067.5 402.7L1100 400.5L1132.5 398.7L1165 397.4L1197.4 396.6L1229.9 396.2L1262.4 396.2L1294.9 396.8L1327.4 397.8L1359.9 399.2L1392.4 401.1L1424.9 403.5L1457.4 406.3L1466.2 400.9L1433.7 398.1L1401.2 395.7L1368.7 393.9L1336.2 392.5L1303.8 391.5L1271.3 391L1238.8 391L1206.3 391.4L1173.8 392.3L1141.3 393.6L1108.8 395.4L1076.3 397.7L1043.8 400.4L1011.3 403.6L978.8 407.2L946.3 411.3L913.8 415.8L881.4 420.8L848.9 426.3L816.4 432.2L783.9 438.6L751.4 445.5L718.9 452.8L686.4 460.5L653.9 468.7L621.4 477.4L588.9 486.6L556.4 496.2L523.9 506.2L491.4 516.7Z"/>
<path class="ml" d="M482.6 521.1L491.4 516.7M580.1 491L588.9 486.6M677.6 465.1L686.4 460.5M775 443.3L783.9 438.6M872.5 425.6L881.4 420.8M970 412.1L978.8 407.2M1067.5 402.7L1076.3 397.7M1165 397.4L1173.8 392.3M1262.4 396.2L1271.3 391M1359.9 399.2L1368.7 393.9M1457.4 406.3L1466.2 400.9"/>
<path class="sf" d="M473.8 526.2L506.3 515.7L538.8 505.7L571.2 496.2L603.7 487.1L636.2 478.5L668.7 470.4L701.2 462.7L733.7 455.5L766.2 448.7L798.7 442.4L831.2 436.5L863.7 431.1L896.2 426.2L928.7 421.7L961.2 417.7L993.7 414.1L1026.1 411L1058.6 408.4L1091.1 406.2L1123.6 404.5L1156.1 403.2L1188.6 402.4L1221.1 402L1253.6 402.2L1286.1 402.7L1318.6 403.7L1351.1 405.2L1383.6 407.2L1416.1 409.6L1448.5 412.4L1457.4 406.3L1424.9 403.5L1392.4 401.1L1359.9 399.2L1327.4 397.8L1294.9 396.8L1262.4 396.2L1229.9 396.2L1197.4 396.6L1165 397.4L1132.5 398.7L1100 400.5L1067.5 402.7L1035 405.4L1002.5 408.5L970 412.1L937.5 416.2L905 420.7L872.5 425.6L840 431.1L807.5 437L775 443.3L742.5 450.1L710.1 457.4L677.6 465.1L645.1 473.3L612.6 481.9L580.1 491L547.6 500.6L515.1 510.6L482.6 521.1Z"/>
<path class="ml" d="M473.8 526.2L482.6 521.1M571.2 496.2L580.1 491M668.7 470.4L677.6 465.1M766.2 448.7L775 443.3M863.7 431.1L872.5 425.6M961.2 417.7L970 412.1M1058.6 408.4L1067.5 402.7M1156.1 403.2L1165 397.4M1253.6 402.2L1262.4 396.2M1351.1 405.2L1359.9 399.2M1448.5 412.4L1457.4 406.3M473.8 526.2L506.3 515.7L538.8 505.7L571.2 496.2L603.7 487.1L636.2 478.5L668.7 470.4L701.2 462.7L733.7 455.5L766.2 448.7L798.7 442.4L831.2 436.5L863.7 431.1L896.2 426.2L928.7 421.7L961.2 417.7L993.7 414.1L1026.1 411L1058.6 408.4L1091.1 406.2L1123.6 404.5L1156.1 403.2L1188.6 402.4L1221.1 402L1253.6 402.2L1286.1 402.7L1318.6 403.7L1351.1 405.2L1383.6 407.2L1416.1 409.6L1448.5 412.4"/>
<path class="sf" d="M464.9 531.9L497.4 521.5L529.9 511.5L562.4 502L594.9 493L627.4 484.4L659.9 476.3L692.4 468.7L724.9 461.5L757.4 454.7L789.9 448.5L822.4 442.6L854.8 437.3L887.3 432.4L919.8 427.9L952.3 423.9L984.8 420.4L1017.3 417.4L1049.8 414.7L1082.3 412.6L1114.8 410.9L1147.3 409.7L1179.8 408.9L1212.3 408.6L1244.8 408.7L1277.3 409.3L1309.7 410.4L1342.2 411.9L1374.7 413.9L1407.2 416.3L1439.7 419.2L1448.5 412.4L1416.1 409.6L1383.6 407.2L1351.1 405.2L1318.6 403.7L1286.1 402.7L1253.6 402.2L1221.1 402L1188.6 402.4L1156.1 403.2L1123.6 404.5L1091.1 406.2L1058.6 408.4L1026.1 411L993.7 414.1L961.2 417.7L928.7 421.7L896.2 426.2L863.7 431.1L831.2 436.5L798.7 442.4L766.2 448.7L733.7 455.5L701.2 462.7L668.7 470.4L636.2 478.5L603.7 487.1L571.2 496.2L538.8 505.7L506.3 515.7L473.8 526.2Z"/>
<path class="ml" d="M464.9 531.9L473.8 526.2M562.4 502L571.2 496.2M659.9 476.3L668.7 470.4M757.4 454.7L766.2 448.7M854.8 437.3L863.7 431.1M952.3 423.9L961.2 417.7M1049.8 414.7L1058.6 408.4M1147.3 409.7L1156.1 403.2M1244.8 408.7L1253.6 402.2M1342.2 411.9L1351.1 405.2M1439.7 419.2L1448.5 412.4M473.8 526.2L506.3 515.7L538.8 505.7L571.2 496.2L603.7 487.1L636.2 478.5L668.7 470.4L701.2 462.7L733.7 455.5L766.2 448.7L798.7 442.4L831.2 436.5L863.7 431.1L896.2 426.2L928.7 421.7L961.2 417.7L993.7 414.1L1026.1 411L1058.6 408.4L1091.1 406.2L1123.6 404.5L1156.1 403.2L1188.6 402.4L1221.1 402L1253.6 402.2L1286.1 402.7L1318.6 403.7L1351.1 405.2L1383.6 407.2L1416.1 409.6L1448.5 412.4"/>
<path class="sf" d="M456.1 538.3L488.6 527.9L521.1 518L553.6 508.5L586.1 499.5L618.6 491L651.1 482.9L683.5 475.3L716 468.1L748.5 461.4L781 455.2L813.5 449.4L846 444.1L878.5 439.2L911 434.8L943.5 430.9L976 427.4L1008.5 424.3L1041 421.8L1073.5 419.7L1106 418L1138.4 416.8L1170.9 416.1L1203.4 415.8L1235.9 416L1268.4 416.6L1300.9 417.7L1333.4 419.3L1365.9 421.3L1398.4 423.7L1430.9 426.7L1439.7 419.2L1407.2 416.3L1374.7 413.9L1342.2 411.9L1309.7 410.4L1277.3 409.3L1244.8 408.7L1212.3 408.6L1179.8 408.9L1147.3 409.7L1114.8 410.9L1082.3 412.6L1049.8 414.7L1017.3 417.4L984.8 420.4L952.3 423.9L919.8 427.9L887.3 432.4L854.8 437.3L822.4 442.6L789.9 448.5L757.4 454.7L724.9 461.5L692.4 468.7L659.9 476.3L627.4 484.4L594.9 493L562.4 502L529.9 511.5L497.4 521.5L464.9 531.9Z"/>
<path class="ml" d="M456.1 538.3L464.9 531.9M553.6 508.5L562.4 502M651.1 482.9L659.9 476.3M748.5 461.4L757.4 454.7M846 444.1L854.8 437.3M943.5 430.9L952.3 423.9M1041 421.8L1049.8 414.7M1138.4 416.8L1147.3 409.7M1235.9 416L1244.8 408.7M1333.4 419.3L1342.2 411.9M1430.9 426.7L1439.7 419.2"/>
<path class="sf" d="M447.3 545.3L479.8 535L512.3 525.1L544.7 515.7L577.2 506.7L609.7 498.2L642.2 490.2L674.7 482.6L707.2 475.5L739.7 468.8L772.2 462.6L804.7 456.9L837.2 451.6L869.7 446.7L902.2 442.4L934.7 438.5L967.1 435L999.6 432L1032.1 429.5L1064.6 427.4L1097.1 425.8L1129.6 424.6L1162.1 423.9L1194.6 423.7L1227.1 423.9L1259.6 424.5L1292.1 425.7L1324.6 427.3L1357.1 429.3L1389.6 431.8L1422 434.8L1430.9 426.7L1398.4 423.7L1365.9 421.3L1333.4 419.3L1300.9 417.7L1268.4 416.6L1235.9 416L1203.4 415.8L1170.9 416.1L1138.4 416.8L1106 418L1073.5 419.7L1041 421.8L1008.5 424.3L976 427.4L943.5 430.9L911 434.8L878.5 439.2L846 444.1L813.5 449.4L781 455.2L748.5 461.4L716 468.1L683.5 475.3L651.1 482.9L618.6 491L586.1 499.5L553.6 508.5L521.1 518L488.6 527.9L456.1 538.3Z"/>
<path class="ml" d="M447.3 545.3L456.1 538.3M544.7 515.7L553.6 508.5M642.2 490.2L651.1 482.9M739.7 468.8L748.5 461.4M837.2 451.6L846 444.1M934.7 438.5L943.5 430.9M1032.1 429.5L1041 421.8M1129.6 424.6L1138.4 416.8M1227.1 423.9L1235.9 416M1324.6 427.3L1333.4 419.3M1422 434.8L1430.9 426.7"/>
<path class="sf" d="M438.4 553L470.9 542.7L503.4 532.9L535.9 523.5L568.4 514.6L600.9 506.1L633.4 498.1L665.9 490.6L698.4 483.5L730.9 476.9L763.4 470.7L795.8 465L828.3 459.7L860.8 454.9L893.3 450.6L925.8 446.7L958.3 443.3L990.8 440.3L1023.3 437.8L1055.8 435.8L1088.3 434.2L1120.8 433.1L1153.3 432.4L1185.8 432.2L1218.3 432.4L1250.7 433.2L1283.2 434.3L1315.7 436L1348.2 438L1380.7 440.6L1413.2 443.6L1422 434.8L1389.6 431.8L1357.1 429.3L1324.6 427.3L1292.1 425.7L1259.6 424.5L1227.1 423.9L1194.6 423.7L1162.1 423.9L1129.6 424.6L1097.1 425.8L1064.6 427.4L1032.1 429.5L999.6 432L967.1 435L934.7 438.5L902.2 442.4L869.7 446.7L837.2 451.6L804.7 456.9L772.2 462.6L739.7 468.8L707.2 475.5L674.7 482.6L642.2 490.2L609.7 498.2L577.2 506.7L544.7 515.7L512.3 525.1L479.8 535L447.3 545.3Z"/>
<path class="ml" d="M438.4 553L447.3 545.3M535.9 523.5L544.7 515.7M633.4 498.1L642.2 490.2M730.9 476.9L739.7 468.8M828.3 459.7L837.2 451.6M925.8 446.7L934.7 438.5M1023.3 437.8L1032.1 429.5M1120.8 433.1L1129.6 424.6M1218.3 432.4L1227.1 423.9M1315.7 436L1324.6 427.3M1413.2 443.6L1422 434.8M438.4 553L470.9 542.7L503.4 532.9L535.9 523.5L568.4 514.6L600.9 506.1L633.4 498.1L665.9 490.6L698.4 483.5L730.9 476.9L763.4 470.7L795.8 465L828.3 459.7L860.8 454.9L893.3 450.6L925.8 446.7L958.3 443.3L990.8 440.3L1023.3 437.8L1055.8 435.8L1088.3 434.2L1120.8 433.1L1153.3 432.4L1185.8 432.2L1218.3 432.4L1250.7 433.2L1283.2 434.3L1315.7 436L1348.2 438L1380.7 440.6L1413.2 443.6"/>
<path class="sf" d="M429.6 561.4L462.1 551.2L494.6 541.4L527.1 532L559.6 523.1L592.1 514.7L624.6 506.7L657 499.2L689.5 492.2L722 485.6L754.5 479.4L787 473.8L819.5 468.5L852 463.8L884.5 459.5L917 455.6L949.5 452.2L982 449.3L1014.5 446.9L1047 444.8L1079.4 443.3L1111.9 442.2L1144.4 441.6L1176.9 441.4L1209.4 441.7L1241.9 442.4L1274.4 443.6L1306.9 445.3L1339.4 447.4L1371.9 450L1404.4 453L1413.2 443.6L1380.7 440.6L1348.2 438L1315.7 436L1283.2 434.3L1250.7 433.2L1218.3 432.4L1185.8 432.2L1153.3 432.4L1120.8 433.1L1088.3 434.2L1055.8 435.8L1023.3 437.8L990.8 440.3L958.3 443.3L925.8 446.7L893.3 450.6L860.8 454.9L828.3 459.7L795.8 465L763.4 470.7L730.9 476.9L698.4 483.5L665.9 490.6L633.4 498.1L600.9 506.1L568.4 514.6L535.9 523.5L503.4 532.9L470.9 542.7L438.4 553Z"/>
<path class="ml" d="M429.6 561.4L438.4 553M527.1 532L535.9 523.5M624.6 506.7L633.4 498.1M722 485.6L730.9 476.9M819.5 468.5L828.3 459.7M917 455.6L925.8 446.7M1014.5 446.9L1023.3 437.8M1111.9 442.2L1120.8 433.1M1209.4 441.7L1218.3 432.4M1306.9 445.3L1315.7 436M1404.4 453L1413.2 443.6M438.4 553L470.9 542.7L503.4 532.9L535.9 523.5L568.4 514.6L600.9 506.1L633.4 498.1L665.9 490.6L698.4 483.5L730.9 476.9L763.4 470.7L795.8 465L828.3 459.7L860.8 454.9L893.3 450.6L925.8 446.7L958.3 443.3L990.8 440.3L1023.3 437.8L1055.8 435.8L1088.3 434.2L1120.8 433.1L1153.3 432.4L1185.8 432.2L1218.3 432.4L1250.7 433.2L1283.2 434.3L1315.7 436L1348.2 438L1380.7 440.6L1413.2 443.6"/>
<path class="sf" d="M420.8 570.5L453.3 560.3L485.7 550.5L518.2 541.2L550.7 532.3L583.2 523.9L615.7 516L648.2 508.5L680.7 501.5L713.2 494.9L745.7 488.8L778.2 483.2L810.7 478L843.2 473.3L875.7 469L908.1 465.2L940.6 461.9L973.1 459L1005.6 456.6L1038.1 454.6L1070.6 453.1L1103.1 452L1135.6 451.4L1168.1 451.3L1200.6 451.6L1233.1 452.4L1265.6 453.6L1298.1 455.3L1330.6 457.5L1363 460.1L1395.5 463.2L1404.4 453L1371.9 450L1339.4 447.4L1306.9 445.3L1274.4 443.6L1241.9 442.4L1209.4 441.7L1176.9 441.4L1144.4 441.6L1111.9 442.2L1079.4 443.3L1047 444.8L1014.5 446.9L982 449.3L949.5 452.2L917 455.6L884.5 459.5L852 463.8L819.5 468.5L787 473.8L754.5 479.4L722 485.6L689.5 492.2L657 499.2L624.6 506.7L592.1 514.7L559.6 523.1L527.1 532L494.6 541.4L462.1 551.2L429.6 561.4Z"/>
<path class="ml" d="M420.8 570.5L429.6 561.4M518.2 541.2L527.1 532M615.7 516L624.6 506.7M713.2 494.9L722 485.6M810.7 478L819.5 468.5M908.1 465.2L917 455.6M1005.6 456.6L1014.5 446.9M1103.1 452L1111.9 442.2M1200.6 451.6L1209.4 441.7M1298.1 455.3L1306.9 445.3M1395.5 463.2L1404.4 453"/>
<path class="sf" d="M411.9 580.2L444.4 570L476.9 560.3L509.4 551L541.9 542.2L574.4 533.8L606.9 525.9L639.4 518.5L671.9 511.5L704.4 505L736.9 498.9L769.3 493.3L801.8 488.2L834.3 483.5L866.8 479.2L899.3 475.5L931.8 472.2L964.3 469.3L996.8 466.9L1029.3 465L1061.8 463.5L1094.3 462.5L1126.8 461.9L1159.3 461.8L1191.7 462.2L1224.2 463L1256.7 464.3L1289.2 466L1321.7 468.2L1354.2 470.8L1386.7 474L1395.5 463.2L1363 460.1L1330.6 457.5L1298.1 455.3L1265.6 453.6L1233.1 452.4L1200.6 451.6L1168.1 451.3L1135.6 451.4L1103.1 452L1070.6 453.1L1038.1 454.6L1005.6 456.6L973.1 459L940.6 461.9L908.1 465.2L875.7 469L843.2 473.3L810.7 478L778.2 483.2L745.7 488.8L713.2 494.9L680.7 501.5L648.2 508.5L615.7 516L583.2 523.9L550.7 532.3L518.2 541.2L485.7 550.5L453.3 560.3L420.8 570.5Z"/>
<path class="ml" d="M411.9 580.2L420.8 570.5M509.4 551L518.2 541.2M606.9 525.9L615.7 516M704.4 505L713.2 494.9M801.8 488.2L810.7 478M899.3 475.5L908.1 465.2M996.8 466.9L1005.6 456.6M1094.3 462.5L1103.1 452M1191.7 462.2L1200.6 451.6M1289.2 466L1298.1 455.3M1386.7 474L1395.5 463.2"/>
<path class="sf" d="M403.1 590.6L435.6 580.4L468.1 570.7L500.6 561.5L533.1 552.7L565.6 544.4L598 536.5L630.5 529.1L663 522.2L695.5 515.7L728 509.7L760.5 504.1L793 499L825.5 494.3L858 490.1L890.5 486.4L923 483.1L955.5 480.3L988 477.9L1020.5 476L1052.9 474.6L1085.4 473.6L1117.9 473.1L1150.4 473L1182.9 473.4L1215.4 474.3L1247.9 475.6L1280.4 477.4L1312.9 479.6L1345.4 482.3L1377.9 485.4L1386.7 474L1354.2 470.8L1321.7 468.2L1289.2 466L1256.7 464.3L1224.2 463L1191.7 462.2L1159.3 461.8L1126.8 461.9L1094.3 462.5L1061.8 463.5L1029.3 465L996.8 466.9L964.3 469.3L931.8 472.2L899.3 475.5L866.8 479.2L834.3 483.5L801.8 488.2L769.3 493.3L736.9 498.9L704.4 505L671.9 511.5L639.4 518.5L606.9 525.9L574.4 533.8L541.9 542.2L509.4 551L476.9 560.3L444.4 570L411.9 580.2Z"/>
<path class="ml" d="M403.1 590.6L411.9 580.2M500.6 561.5L509.4 551M598 536.5L606.9 525.9M695.5 515.7L704.4 505M793 499L801.8 488.2M890.5 486.4L899.3 475.5M988 477.9L996.8 466.9M1085.4 473.6L1094.3 462.5M1182.9 473.4L1191.7 462.2M1280.4 477.4L1289.2 466M1377.9 485.4L1386.7 474M403.1 590.6L435.6 580.4L468.1 570.7L500.6 561.5L533.1 552.7L565.6 544.4L598 536.5L630.5 529.1L663 522.2L695.5 515.7L728 509.7L760.5 504.1L793 499L825.5 494.3L858 490.1L890.5 486.4L923 483.1L955.5 480.3L988 477.9L1020.5 476L1052.9 474.6L1085.4 473.6L1117.9 473.1L1150.4 473L1182.9 473.4L1215.4 474.3L1247.9 475.6L1280.4 477.4L1312.9 479.6L1345.4 482.3L1377.9 485.4"/>
<path class="sf" d="M394.3 601.6L426.7 591.5L459.2 581.9L491.7 572.7L524.2 563.9L556.7 555.6L589.2 547.8L621.7 540.4L654.2 533.5L686.7 527.1L719.2 521.1L751.7 515.5L784.2 510.5L816.7 505.8L849.2 501.7L881.6 498L914.1 494.8L946.6 492L979.1 489.6L1011.6 487.8L1044.1 486.4L1076.6 485.4L1109.1 484.9L1141.6 484.9L1174.1 485.3L1206.6 486.2L1239.1 487.6L1271.6 489.4L1304 491.6L1336.5 494.4L1369 497.5L1377.9 485.4L1345.4 482.3L1312.9 479.6L1280.4 477.4L1247.9 475.6L1215.4 474.3L1182.9 473.4L1150.4 473L1117.9 473.1L1085.4 473.6L1052.9 474.6L1020.5 476L988 477.9L955.5 480.3L923 483.1L890.5 486.4L858 490.1L825.5 494.3L793 499L760.5 504.1L728 509.7L695.5 515.7L663 522.2L630.5 529.1L598 536.5L565.6 544.4L533.1 552.7L500.6 561.5L468.1 570.7L435.6 580.4L403.1 590.6Z"/>
<path class="ml" d="M394.3 601.6L403.1 590.6M491.7 572.7L500.6 561.5M589.2 547.8L598 536.5M686.7 527.1L695.5 515.7M784.2 510.5L793 499M881.6 498L890.5 486.4M979.1 489.6L988 477.9M1076.6 485.4L1085.4 473.6M1174.1 485.3L1182.9 473.4M1271.6 489.4L1280.4 477.4M1369 497.5L1377.9 485.4M403.1 590.6L435.6 580.4L468.1 570.7L500.6 561.5L533.1 552.7L565.6 544.4L598 536.5L630.5 529.1L663 522.2L695.5 515.7L728 509.7L760.5 504.1L793 499L825.5 494.3L858 490.1L890.5 486.4L923 483.1L955.5 480.3L988 477.9L1020.5 476L1052.9 474.6L1085.4 473.6L1117.9 473.1L1150.4 473L1182.9 473.4L1215.4 474.3L1247.9 475.6L1280.4 477.4L1312.9 479.6L1345.4 482.3L1377.9 485.4"/>
<path class="sf" d="M385.4 613.4L417.9 603.3L450.4 593.7L482.9 584.5L515.4 575.8L547.9 567.5L580.4 559.7L612.9 552.4L645.4 545.5L677.9 539.1L710.3 533.2L742.8 527.7L775.3 522.6L807.8 518L840.3 513.9L872.8 510.3L905.3 507L937.8 504.3L970.3 502L1002.8 500.2L1035.3 498.8L1067.8 497.9L1100.3 497.4L1132.8 497.5L1165.2 497.9L1197.7 498.8L1230.2 500.2L1262.7 502.1L1295.2 504.4L1327.7 507.1L1360.2 510.3L1369 497.5L1336.5 494.4L1304 491.6L1271.6 489.4L1239.1 487.6L1206.6 486.2L1174.1 485.3L1141.6 484.9L1109.1 484.9L1076.6 485.4L1044.1 486.4L1011.6 487.8L979.1 489.6L946.6 492L914.1 494.8L881.6 498L849.2 501.7L816.7 505.8L784.2 510.5L751.7 515.5L719.2 521.1L686.7 527.1L654.2 533.5L621.7 540.4L589.2 547.8L556.7 555.6L524.2 563.9L491.7 572.7L459.2 581.9L426.7 591.5L394.3 601.6Z"/>
<path class="ml" d="M385.4 613.4L394.3 601.6M482.9 584.5L491.7 572.7M580.4 559.7L589.2 547.8M677.9 539.1L686.7 527.1M775.3 522.6L784.2 510.5M872.8 510.3L881.6 498M970.3 502L979.1 489.6M1067.8 497.9L1076.6 485.4M1165.2 497.9L1174.1 485.3M1262.7 502.1L1271.6 489.4M1360.2 510.3L1369 497.5"/>
<path class="sf" d="M376.6 625.8L409.1 615.7L441.6 606.1L474.1 597L506.6 588.3L539 580.1L571.5 572.3L604 565L636.5 558.2L669 551.8L701.5 545.9L734 540.4L766.5 535.4L799 530.9L831.5 526.8L864 523.2L896.5 520L929 517.3L961.5 515L993.9 513.2L1026.4 511.9L1058.9 511L1091.4 510.6L1123.9 510.7L1156.4 511.2L1188.9 512.1L1221.4 513.5L1253.9 515.4L1286.4 517.7L1318.9 520.5L1351.4 523.8L1360.2 510.3L1327.7 507.1L1295.2 504.4L1262.7 502.1L1230.2 500.2L1197.7 498.8L1165.2 497.9L1132.8 497.5L1100.3 497.4L1067.8 497.9L1035.3 498.8L1002.8 500.2L970.3 502L937.8 504.3L905.3 507L872.8 510.3L840.3 513.9L807.8 518L775.3 522.6L742.8 527.7L710.3 533.2L677.9 539.1L645.4 545.5L612.9 552.4L580.4 559.7L547.9 567.5L515.4 575.8L482.9 584.5L450.4 593.7L417.9 603.3L385.4 613.4Z"/>
<path class="ml" d="M376.6 625.8L385.4 613.4M474.1 597L482.9 584.5M571.5 572.3L580.4 559.7M669 551.8L677.9 539.1M766.5 535.4L775.3 522.6M864 523.2L872.8 510.3M961.5 515L970.3 502M1058.9 511L1067.8 497.9M1156.4 511.2L1165.2 497.9M1253.9 515.4L1262.7 502.1M1351.4 523.8L1360.2 510.3"/>
<path class="sf" d="M367.8 638.8L400.2 628.8L432.7 619.3L465.2 610.2L497.7 601.5L530.2 593.3L562.7 585.6L595.2 578.4L627.7 571.6L660.2 565.2L692.7 559.3L725.2 553.9L757.7 548.9L790.2 544.4L822.6 540.4L855.1 536.8L887.6 533.6L920.1 531L952.6 528.7L985.1 527L1017.6 525.7L1050.1 524.8L1082.6 524.5L1115.1 524.5L1147.6 525.1L1180.1 526.1L1212.6 527.5L1245.1 529.4L1277.5 531.8L1310 534.6L1342.5 537.9L1351.4 523.8L1318.9 520.5L1286.4 517.7L1253.9 515.4L1221.4 513.5L1188.9 512.1L1156.4 511.2L1123.9 510.7L1091.4 510.6L1058.9 511L1026.4 511.9L993.9 513.2L961.5 515L929 517.3L896.5 520L864 523.2L831.5 526.8L799 530.9L766.5 535.4L734 540.4L701.5 545.9L669 551.8L636.5 558.2L604 565L571.5 572.3L539 580.1L506.6 588.3L474.1 597L441.6 606.1L409.1 615.7L376.6 625.8Z"/>
<path class="ml" d="M367.8 638.8L376.6 625.8M465.2 610.2L474.1 597M562.7 585.6L571.5 572.3M660.2 565.2L669 551.8M757.7 548.9L766.5 535.4M855.1 536.8L864 523.2M952.6 528.7L961.5 515M1050.1 524.8L1058.9 511M1147.6 525.1L1156.4 511.2M1245.1 529.4L1253.9 515.4M1342.5 537.9L1351.4 523.8M367.8 638.8L400.2 628.8L432.7 619.3L465.2 610.2L497.7 601.5L530.2 593.3L562.7 585.6L595.2 578.4L627.7 571.6L660.2 565.2L692.7 559.3L725.2 553.9L757.7 548.9L790.2 544.4L822.6 540.4L855.1 536.8L887.6 533.6L920.1 531L952.6 528.7L985.1 527L1017.6 525.7L1050.1 524.8L1082.6 524.5L1115.1 524.5L1147.6 525.1L1180.1 526.1L1212.6 527.5L1245.1 529.4L1277.5 531.8L1310 534.6L1342.5 537.9"/>
<path class="sf" d="M358.9 652.6L391.4 642.6L423.9 633.1L456.4 624L488.9 615.4L521.4 607.2L553.9 599.6L586.4 592.3L618.9 585.6L651.3 579.3L683.8 573.4L716.3 568L748.8 563.1L781.3 558.6L813.8 554.6L846.3 551L878.8 547.9L911.3 545.3L943.8 543.1L976.3 541.4L1008.8 540.1L1041.3 539.3L1073.8 539L1106.2 539.1L1138.7 539.7L1171.2 540.7L1203.7 542.2L1236.2 544.1L1268.7 546.5L1301.2 549.4L1333.7 552.7L1342.5 537.9L1310 534.6L1277.5 531.8L1245.1 529.4L1212.6 527.5L1180.1 526.1L1147.6 525.1L1115.1 524.5L1082.6 524.5L1050.1 524.8L1017.6 525.7L985.1 527L952.6 528.7L920.1 531L887.6 533.6L855.1 536.8L822.6 540.4L790.2 544.4L757.7 548.9L725.2 553.9L692.7 559.3L660.2 565.2L627.7 571.6L595.2 578.4L562.7 585.6L530.2 593.3L497.7 601.5L465.2 610.2L432.7 619.3L400.2 628.8L367.8 638.8Z"/>
<path class="ml" d="M358.9 652.6L367.8 638.8M456.4 624L465.2 610.2M553.9 599.6L562.7 585.6M651.3 579.3L660.2 565.2M748.8 563.1L757.7 548.9M846.3 551L855.1 536.8M943.8 543.1L952.6 528.7M1041.3 539.3L1050.1 524.8M1138.7 539.7L1147.6 525.1M1236.2 544.1L1245.1 529.4M1333.7 552.7L1342.5 537.9M367.8 638.8L400.2 628.8L432.7 619.3L465.2 610.2L497.7 601.5L530.2 593.3L562.7 585.6L595.2 578.4L627.7 571.6L660.2 565.2L692.7 559.3L725.2 553.9L757.7 548.9L790.2 544.4L822.6 540.4L855.1 536.8L887.6 533.6L920.1 531L952.6 528.7L985.1 527L1017.6 525.7L1050.1 524.8L1082.6 524.5L1115.1 524.5L1147.6 525.1L1180.1 526.1L1212.6 527.5L1245.1 529.4L1277.5 531.8L1310 534.6L1342.5 537.9"/>
<path class="sf" d="M350.1 666.9L382.6 657L415.1 647.5L447.6 638.5L480.1 629.9L512.5 621.8L545 614.2L577.5 607L610 600.2L642.5 594L675 588.2L707.5 582.8L740 577.9L772.5 573.5L805 569.5L837.5 566L870 562.9L902.5 560.3L934.9 558.1L967.4 556.5L999.9 555.2L1032.4 554.5L1064.9 554.2L1097.4 554.3L1129.9 554.9L1162.4 556L1194.9 557.5L1227.4 559.5L1259.9 561.9L1292.4 564.8L1324.9 568.2L1333.7 552.7L1301.2 549.4L1268.7 546.5L1236.2 544.1L1203.7 542.2L1171.2 540.7L1138.7 539.7L1106.2 539.1L1073.8 539L1041.3 539.3L1008.8 540.1L976.3 541.4L943.8 543.1L911.3 545.3L878.8 547.9L846.3 551L813.8 554.6L781.3 558.6L748.8 563.1L716.3 568L683.8 573.4L651.3 579.3L618.9 585.6L586.4 592.3L553.9 599.6L521.4 607.2L488.9 615.4L456.4 624L423.9 633.1L391.4 642.6L358.9 652.6Z"/>
<path class="ml" d="M350.1 666.9L358.9 652.6M447.6 638.5L456.4 624M545 614.2L553.9 599.6M642.5 594L651.3 579.3M740 577.9L748.8 563.1M837.5 566L846.3 551M934.9 558.1L943.8 543.1M1032.4 554.5L1041.3 539.3M1129.9 554.9L1138.7 539.7M1227.4 559.5L1236.2 544.1M1324.9 568.2L1333.7 552.7"/>
<path class="sf" d="M341.2 682L373.7 672.1L406.2 662.6L438.7 653.7L471.2 645.1L503.7 637.1L536.2 629.4L568.7 622.3L601.2 615.6L633.7 609.4L666.2 603.6L698.7 598.3L731.2 593.4L763.6 589L796.1 585L828.6 581.6L861.1 578.5L893.6 576L926.1 573.8L958.6 572.2L991.1 571L1023.6 570.3L1056.1 570L1088.6 570.2L1121.1 570.8L1153.6 571.9L1186.1 573.5L1218.5 575.5L1251 578L1283.5 580.9L1316 584.3L1324.9 568.2L1292.4 564.8L1259.9 561.9L1227.4 559.5L1194.9 557.5L1162.4 556L1129.9 554.9L1097.4 554.3L1064.9 554.2L1032.4 554.5L999.9 555.2L967.4 556.5L934.9 558.1L902.5 560.3L870 562.9L837.5 566L805 569.5L772.5 573.5L740 577.9L707.5 582.8L675 588.2L642.5 594L610 600.2L577.5 607L545 614.2L512.5 621.8L480.1 629.9L447.6 638.5L415.1 647.5L382.6 657L350.1 666.9Z"/>
<path class="ml" d="M341.2 682L350.1 666.9M438.7 653.7L447.6 638.5M536.2 629.4L545 614.2M633.7 609.4L642.5 594M731.2 593.4L740 577.9M828.6 581.6L837.5 566M926.1 573.8L934.9 558.1M1023.6 570.3L1032.4 554.5M1121.1 570.8L1129.9 554.9M1218.5 575.5L1227.4 559.5M1316 584.3L1324.9 568.2"/>
<path class="sf" d="M332.4 697.7L364.9 687.9L397.4 678.4L429.9 669.5L462.4 661L494.9 653L527.4 645.4L559.9 638.3L592.4 631.6L624.8 625.4L657.3 619.7L689.8 614.4L722.3 609.5L754.8 605.2L787.3 601.3L819.8 597.8L852.3 594.8L884.8 592.3L917.3 590.2L949.8 588.6L982.3 587.4L1014.8 586.7L1047.2 586.5L1079.7 586.7L1112.2 587.4L1144.7 588.5L1177.2 590.1L1209.7 592.2L1242.2 594.7L1274.7 597.7L1307.2 601.1L1316 584.3L1283.5 580.9L1251 578L1218.5 575.5L1186.1 573.5L1153.6 571.9L1121.1 570.8L1088.6 570.2L1056.1 570L1023.6 570.3L991.1 571L958.6 572.2L926.1 573.8L893.6 576L861.1 578.5L828.6 581.6L796.1 585L763.6 589L731.2 593.4L698.7 598.3L666.2 603.6L633.7 609.4L601.2 615.6L568.7 622.3L536.2 629.4L503.7 637.1L471.2 645.1L438.7 653.7L406.2 662.6L373.7 672.1L341.2 682Z"/>
<path class="ml" d="M332.4 697.7L341.2 682M429.9 669.5L438.7 653.7M527.4 645.4L536.2 629.4M624.8 625.4L633.7 609.4M722.3 609.5L731.2 593.4M819.8 597.8L828.6 581.6M917.3 590.2L926.1 573.8M1014.8 586.7L1023.6 570.3M1112.2 587.4L1121.1 570.8M1209.7 592.2L1218.5 575.5M1307.2 601.1L1316 584.3M332.4 697.7L364.9 687.9L397.4 678.4L429.9 669.5L462.4 661L494.9 653L527.4 645.4L559.9 638.3L592.4 631.6L624.8 625.4L657.3 619.7L689.8 614.4L722.3 609.5L754.8 605.2L787.3 601.3L819.8 597.8L852.3 594.8L884.8 592.3L917.3 590.2L949.8 588.6L982.3 587.4L1014.8 586.7L1047.2 586.5L1079.7 586.7L1112.2 587.4L1144.7 588.5L1177.2 590.1L1209.7 592.2L1242.2 594.7L1274.7 597.7L1307.2 601.1"/>
</g>
<path class="ml" d="M332.4 697.7L364.9 687.9L397.4 678.4L429.9 669.5L462.4 661L494.9 653L527.4 645.4L559.9 638.3L592.4 631.6L624.8 625.4L657.3 619.7L689.8 614.4L722.3 609.5L754.8 605.2L787.3 601.3L819.8 597.8L852.3 594.8L884.8 592.3L917.3 590.2L949.8 588.6L982.3 587.4L1014.8 586.7L1047.2 586.5L1079.7 586.7L1112.2 587.4L1144.7 588.5L1177.2 590.1L1209.7 592.2L1242.2 594.7L1274.7 597.7L1307.2 601.1"/>
<path class="bx" d="M288 787L288 301"/>
<path class="bx" d="M288 787L1325 845"/>
<path class="bx" d="M1325 845L1705 681"/>
<path class="bx" d="M1325 845L1325 359"/>
<path class="bx" d="M288 301L1325 359"/>
<path class="bx" d="M288 301L668 137"/>
<path class="bx" d="M668 137L1705 195"/>
<path class="bx" d="M1325 359L1705 195"/>
<path class="tk" d="M288 787l16 0M288 767.6l9 0M288 748.1l9 0M288 728.7l9 0M288 709.2l9 0M288 689.8l16 0M288 670.4l9 0M288 650.9l9 0M288 631.5l9 0M288 612l9 0M288 592.6l16 0M288 573.2l9 0M288 553.7l9 0M288 534.3l9 0M288 514.8l9 0M288 495.4l16 0M288 476l9 0M288 456.5l9 0M288 437.1l9 0M288 417.6l9 0M288 398.2l16 0M288 378.8l9 0M288 359.3l9 0M288 339.9l9 0M288 320.4l9 0M288 301l16 0"/>
<path class="tk" d="M1325 845l-16 0M1325 825.6l-9 0M1325 806.1l-9 0M1325 786.7l-9 0M1325 767.2l-9 0M1325 747.8l-16 0M1325 728.4l-9 0M1325 708.9l-9 0M1325 689.5l-9 0M1325 670l-9 0M1325 650.6l-16 0M1325 631.2l-9 0M1325 611.7l-9 0M1325 592.3l-9 0M1325 572.8l-9 0M1325 553.4l-16 0M1325 534l-9 0M1325 514.5l-9 0M1325 495.1l-9 0M1325 475.6l-9 0M1325 456.2l-16 0M1325 436.8l-9 0M1325 417.3l-9 0M1325 397.9l-9 0M1325 378.4l-9 0M1325 359l-16 0"/>
<path class="tk" d="M288 787l12.9 -5.5M329.5 789.3l7.3 -3.2M371 791.6l7.3 -3.2M412.4 794l7.3 -3.2M453.9 796.3l7.3 -3.2M495.4 798.6l12.9 -5.5M536.9 800.9l7.3 -3.2M578.4 803.2l7.3 -3.2M619.8 805.6l7.3 -3.2M661.3 807.9l7.3 -3.2M702.8 810.2l12.9 -5.5M744.3 812.5l7.3 -3.2M785.8 814.8l7.3 -3.2M827.2 817.2l7.3 -3.2M868.7 819.5l7.3 -3.2M910.2 821.8l12.9 -5.5M951.7 824.1l7.3 -3.2M993.2 826.4l7.3 -3.2M1034.6 828.8l7.3 -3.2M1076.1 831.1l7.3 -3.2M1117.6 833.4l12.9 -5.5M1159.1 835.7l7.3 -3.2M1200.6 838l7.3 -3.2M1242 840.4l7.3 -3.2M1283.5 842.7l7.3 -3.2M1325 845l12.9 -5.5"/>
<path class="tk" d="M1325 845l-14 -0.8M1339.6 838.7l-8 -0.4M1354.2 832.4l-14 -0.8M1368.8 826.1l-8 -0.4M1383.5 819.8l-14 -0.8M1398.1 813.5l-8 -0.4M1412.7 807.2l-14 -0.8M1427.3 800.8l-8 -0.4M1441.9 794.5l-14 -0.8M1456.5 788.2l-8 -0.4M1471.2 781.9l-14 -0.8M1485.8 775.6l-8 -0.4M1500.4 769.3l-14 -0.8M1515 763l-8 -0.4M1529.6 756.7l-14 -0.8M1544.2 750.4l-8 -0.4M1558.8 744.1l-14 -0.8M1573.5 737.8l-8 -0.4M1588.1 731.5l-14 -0.8M1602.7 725.2l-8 -0.4M1617.3 718.8l-14 -0.8M1631.9 712.5l-8 -0.4M1646.5 706.2l-14 -0.8M1661.2 699.9l-8 -0.4M1675.8 693.6l-14 -0.8M1690.4 687.3l-8 -0.4M1705 681l-14 -0.8"/>
<path class="tk" d="M288 301l14 0.8M302.6 294.7l8 0.4M317.2 288.4l14 0.8M331.8 282.1l8 0.4M346.5 275.8l14 0.8M361.1 269.5l8 0.4M375.7 263.2l14 0.8M390.3 256.8l8 0.4M404.9 250.5l14 0.8M419.5 244.2l8 0.4M434.2 237.9l14 0.8M448.8 231.6l8 0.4M463.4 225.3l14 0.8M478 219l8 0.4M492.6 212.7l14 0.8M507.2 206.4l8 0.4M521.8 200.1l14 0.8M536.5 193.8l8 0.4M551.1 187.5l14 0.8M565.7 181.2l8 0.4M580.3 174.8l14 0.8M594.9 168.5l8 0.4M609.5 162.2l14 0.8M624.2 155.9l8 0.4M638.8 149.6l14 0.8M653.4 143.3l8 0.4M668 137l14 0.8"/>
<path class="tk" d="M668 137l-12.9 5.5M709.5 139.3l-7.3 3.2M751 141.6l-7.3 3.2M792.4 144l-7.3 3.2M833.9 146.3l-7.3 3.2M875.4 148.6l-12.9 5.5M916.9 150.9l-7.3 3.2M958.4 153.2l-7.3 3.2M999.8 155.6l-7.3 3.2M1041.3 157.9l-7.3 3.2M1082.8 160.2l-12.9 5.5M1124.3 162.5l-7.3 3.2M1165.8 164.8l-7.3 3.2M1207.2 167.2l-7.3 3.2M1248.7 169.5l-7.3 3.2M1290.2 171.8l-12.9 5.5M1331.7 174.1l-7.3 3.2M1373.2 176.4l-7.3 3.2M1414.6 178.8l-7.3 3.2M1456.1 181.1l-7.3 3.2M1497.6 183.4l-12.9 5.5M1539.1 185.7l-7.3 3.2M1580.6 188l-7.3 3.2M1622 190.4l-7.3 3.2M1663.5 192.7l-7.3 3.2M1705 195l-12.9 5.5"/>
<path class="tk" d="M1325 359l-14 -0.8M1339.6 352.7l-8 -0.4M1354.2 346.4l-14 -0.8M1368.8 340.1l-8 -0.4M1383.5 333.8l-14 -0.8M1398.1 327.5l-8 -0.4M1412.7 321.2l-14 -0.8M1427.3 314.8l-8 -0.4M1441.9 308.5l-14 -0.8M1456.5 302.2l-8 -0.4M1471.2 295.9l-14 -0.8M1485.8 289.6l-8 -0.4M1500.4 283.3l-14 -0.8M1515 277l-8 -0.4M1529.6 270.7l-14 -0.8M1544.2 264.4l-8 -0.4M1558.8 258.1l-14 -0.8M1573.5 251.8l-8 -0.4M1588.1 245.5l-14 -0.8M1602.7 239.2l-8 -0.4M1617.3 232.8l-14 -0.8M1631.9 226.5l-8 -0.4M1646.5 220.2l-14 -0.8M1661.2 213.9l-8 -0.4M1675.8 207.6l-14 -0.8M1690.4 201.3l-8 -0.4M1705 195l-14 -0.8"/>
<path class="tk" d="M288 301l12.9 -5.5M329.5 303.3l7.3 -3.2M371 305.6l7.3 -3.2M412.4 308l7.3 -3.2M453.9 310.3l7.3 -3.2M495.4 312.6l12.9 -5.5M536.9 314.9l7.3 -3.2M578.4 317.2l7.3 -3.2M619.8 319.6l7.3 -3.2M661.3 321.9l7.3 -3.2M702.8 324.2l12.9 -5.5M744.3 326.5l7.3 -3.2M785.8 328.8l7.3 -3.2M827.2 331.2l7.3 -3.2M868.7 333.5l7.3 -3.2M910.2 335.8l12.9 -5.5M951.7 338.1l7.3 -3.2M993.2 340.4l7.3 -3.2M1034.6 342.8l7.3 -3.2M1076.1 345.1l7.3 -3.2M1117.6 347.4l12.9 -5.5M1159.1 349.7l7.3 -3.2M1200.6 352l7.3 -3.2M1242 354.4l7.3 -3.2M1283.5 356.7l7.3 -3.2M1325 359l12.9 -5.5"/>
<path class="bx" d="M676.5 1641.5L676.5 1213.5"/>
<path class="tk" d="M676.5 1641.5l16 0M676.5 1624.4l9 0M676.5 1607.3l9 0M676.5 1590.1l9 0M676.5 1573l9 0M676.5 1555.9l16 0M676.5 1538.8l9 0M676.5 1521.7l9 0M676.5 1504.5l9 0M676.5 1487.4l9 0M676.5 1470.3l16 0M676.5 1453.2l9 0M676.5 1436.1l9 0M676.5 1418.9l9 0M676.5 1401.8l9 0M676.5 1384.7l16 0M676.5 1367.6l9 0M676.5 1350.5l9 0M676.5 1333.3l9 0M676.5 1316.2l9 0M676.5 1299.1l16 0M676.5 1282l9 0M676.5 1264.9l9 0M676.5 1247.7l9 0M676.5 1230.6l9 0M676.5 1213.5l16 0"/>
<path class="bx" d="M1625 1692.2L1625 1264.2"/>
<path class="tk" d="M1625 1692.2l-16 0M1625 1675.1l-9 0M1625 1658l-9 0M1625 1640.8l-9 0M1625 1623.7l-9 0M1625 1606.6l-16 0M1625 1589.5l-9 0M1625 1572.4l-9 0M1625 1555.2l-9 0M1625 1538.1l-9 0M1625 1521l-16 0M1625 1503.9l-9 0M1625 1486.8l-9 0M1625 1469.6l-9 0M1625 1452.5l-9 0M1625 1435.4l-16 0M1625 1418.3l-9 0M1625 1401.2l-9 0M1625 1384l-9 0M1625 1366.9l-9 0M1625 1349.8l-16 0M1625 1332.7l-9 0M1625 1315.6l-9 0M1625 1298.4l-9 0M1625 1281.3l-9 0M1625 1264.2l-16 0"/>
<path class="bx" d="M330 1784.2L361.2 1771.4"/>
<g transform="matrix(908.1000 48.0000 309.5000 -134.0000 366.90 1770.50)">
<rect x="0" y="0.0000" width="1" height="0.0354" fill="url(#gb0)"/>
<rect x="0" y="0.0208" width="1" height="0.0354" fill="url(#gb1)"/>
<rect x="0" y="0.0417" width="1" height="0.0354" fill="url(#gb2)"/>
<rect x="0" y="0.0625" width="1" height="0.0354" fill="url(#gb3)"/>
<rect x="0" y="0.0833" width="1" height="0.0354" fill="url(#gb4)"/>
<rect x="0" y="0.1042" width="1" height="0.0354" fill="url(#gb5)"/>
<rect x="0" y="0.1250" width="1" height="0.0354" fill="url(#gb6)"/>
<rect x="0" y="0.1458" width="1" height="0.0354" fill="url(#gb7)"/>
<rect x="0" y="0.1667" width="1" height="0.0354" fill="url(#gb8)"/>
<rect x="0" y="0.1875" width="1" height="0.0354" fill="url(#gb9)"/>
<rect x="0" y="0.2083" width="1" height="0.0354" fill="url(#gb10)"/>
<rect x="0" y="0.2292" width="1" height="0.0354" fill="url(#gb11)"/>
<rect x="0" y="0.2500" width="1" height="0.0354" fill="url(#gb12)"/>
<rect x="0" y="0.2708" width="1" height="0.0354" fill="url(#gb13)"/>
<rect x="0" y="0.2917" width="1" height="0.0354" fill="url(#gb14)"/>
<rect x="0" y="0.3125" width="1" height="0.0354" fill="url(#gb15)"/>
<rect x="0" y="0.3333" width="1" height="0.0354" fill="url(#gb16)"/>
<rect x="0" y="0.3542" width="1" height="0.0354" fill="url(#gb17)"/>
<rect x="0" y="0.3750" width="1" height="0.0354" fill="url(#gb18)"/>
<rect x="0" y="0.3958" width="1" height="0.0354" fill="url(#gb19)"/>
<rect x="0" y="0.4167" width="1" height="0.0354" fill="url(#gb20)"/>
<rect x="0" y="0.4375" width="1" height="0.0354" fill="url(#gb21)"/>
<rect x="0" y="0.4583" width="1" height="0.0354" fill="url(#gb22)"/>
<rect x="0" y="0.4792" width="1" height="0.0354" fill="url(#gb23)"/>
<rect x="0" y="0.5000" width="1" height="0.0354" fill="url(#gb24)"/>
<rect x="0" y="0.5208" width="1" height="0.0354" fill="url(#gb25)"/>
<rect x="0" y="0.5417" width="1" height="0.0354" fill="url(#gb26)"/>
<rect x="0" y="0.5625" width="1" height="0.0354" fill="url(#gb27)"/>
<rect x="0" y="0.5833" width="1" height="0.0354" fill="url(#gb28)"/>
<rect x="0" y="0.6042" width="1" height="0.0354" fill="url(#gb29)"/>
<rect x="0" y="0.6250" width="1" height="0.0354" fill="url(#gb30)"/>
<rect x="0" y="0.6458" width="1" height="0.0354" fill="url(#gb31)"/>
<rect x="0" y="0.6667" width="1" height="0.0354" fill="url(#gb32)"/>
<rect x="0" y="0.6875" width="1" height="0.0354" fill="url(#gb33)"/>
<rect x="0" y="0.7083" width="1" height="0.0354" fill="url(#gb34)"/>
<rect x="0" y="0.7292" width="1" height="0.0354" fill="url(#gb35)"/>
<rect x="0" y="0.7500" width="1" height="0.0354" fill="url(#gb36)"/>
<rect x="0" y="0.7708" width="1" height="0.0354" fill="url(#gb37)"/>
<rect x="0" y="0.7917" width="1" height="0.0354" fill="url(#gb38)"/>
<rect x="0" y="0.8125" width="1" height="0.0354" fill="url(#gb39)"/>
<rect x="0" y="0.8333" width="1" height="0.0354" fill="url(#gb40)"/>
<rect x="0" y="0.8542" width="1" height="0.0354" fill="url(#gb41)"/>
<rect x="0" y="0.8750" width="1" height="0.0354" fill="url(#gb42)"/>
<rect x="0" y="0.8958" width="1" height="0.0354" fill="url(#gb43)"/>
<rect x="0" y="0.9167" width="1" height="0.0354" fill="url(#gb44)"/>
<rect x="0" y="0.9375" width="1" height="0.0354" fill="url(#gb45)"/>
<rect x="0" y="0.9583" width="1" height="0.0354" fill="url(#gb46)"/>
<rect x="0" y="0.9792" width="1" height="0.0208" fill="url(#gb47)"/>
</g>
<g clip-path="url(#clb)">
<path class="sf" d="M890.7 1662.5L920.6 1653.6L950.5 1637.8L980.4 1622L1010.3 1606.1L1040.1 1590.3L1070 1574.4L1099.9 1558.5L1129.8 1542.6L1159.6 1526.6L1189.5 1510.7L1219.4 1494.7L1249.3 1478.7L1279.2 1462.7L1309 1446.7L1338.9 1430.6L1368.8 1414.5L1398.7 1398.5L1428.5 1382.3L1458.4 1366.2L1488.3 1350.1L1518.2 1333.9L1548.1 1317.8L1577.9 1301.6L1586 1303.1L1556.1 1319.7L1526.2 1336.3L1496.3 1352.8L1466.5 1369.4L1436.6 1385.9L1406.7 1402.4L1376.8 1418.9L1346.9 1435.3L1317.1 1451.8L1287.2 1468.2L1257.3 1484.6L1227.4 1501L1197.6 1517.4L1167.7 1533.7L1137.8 1550.1L1107.9 1566.4L1078 1582.7L1048.2 1598.9L1018.3 1615.2L988.4 1631.4L958.5 1647.7L928.7 1660.8L898.8 1659.2Z"/>
<path class="ml" d="M950.5 1637.8L958.5 1647.7M1040.1 1590.3L1048.2 1598.9M1129.8 1542.6L1137.8 1550.1M1219.4 1494.7L1227.4 1501M1309 1446.7L1317.1 1451.8M1398.7 1398.5L1406.7 1402.4M1488.3 1350.1L1496.3 1352.8M1577.9 1301.6L1586 1303.1M898.8 1659.2L928.7 1660.8L958.5 1647.7L988.4 1631.4L1018.3 1615.2L1048.2 1598.9L1078 1582.7L1107.9 1566.4L1137.8 1550.1L1167.7 1533.7L1197.6 1517.4L1227.4 1501L1257.3 1484.6L1287.2 1468.2L1317.1 1451.8L1346.9 1435.3L1376.8 1418.9L1406.7 1402.4L1436.6 1385.9L1466.5 1369.4L1496.3 1352.8L1526.2 1336.3L1556.1 1319.7L1586 1303.1"/>
<path class="sf" d="M852.8 1664.2L882.7 1659.2L912.6 1643.8L942.5 1628.4L972.3 1613L1002.2 1597.5L1032.1 1582.1L1062 1566.6L1091.8 1551.1L1121.7 1535.6L1151.6 1520L1181.5 1504.5L1211.4 1488.9L1241.2 1473.3L1271.1 1457.7L1301 1442L1330.9 1426.4L1360.7 1410.7L1390.6 1395L1420.5 1379.3L1450.4 1363.6L1480.3 1347.8L1510.1 1332.1L1540 1316.3L1569.9 1300.5L1577.9 1301.6L1548.1 1317.8L1518.2 1333.9L1488.3 1350.1L1458.4 1366.2L1428.5 1382.3L1398.7 1398.5L1368.8 1414.5L1338.9 1430.6L1309 1446.7L1279.2 1462.7L1249.3 1478.7L1219.4 1494.7L1189.5 1510.7L1159.6 1526.6L1129.8 1542.6L1099.9 1558.5L1070 1574.4L1040.1 1590.3L1010.3 1606.1L980.4 1622L950.5 1637.8L920.6 1653.6L890.7 1662.5L860.9 1660.9Z"/>
<path class="ml" d="M852.8 1664.2L860.9 1660.9M942.5 1628.4L950.5 1637.8M1032.1 1582.1L1040.1 1590.3M1121.7 1535.6L1129.8 1542.6M1211.4 1488.9L1219.4 1494.7M1301 1442L1309 1446.7M1390.6 1395L1398.7 1398.5M1480.3 1347.8L1488.3 1350.1M1569.9 1300.5L1577.9 1301.6"/>
<path class="sf" d="M814.9 1665.9L844.8 1664.6L874.7 1649.6L904.5 1634.6L934.4 1619.6L964.3 1604.5L994.2 1589.5L1024.1 1574.4L1053.9 1559.3L1083.8 1544.2L1113.7 1529.1L1143.6 1513.9L1173.4 1498.8L1203.3 1483.6L1233.2 1468.4L1263.1 1453.2L1293 1437.9L1322.8 1422.7L1352.7 1407.4L1382.6 1392.1L1412.5 1376.8L1442.3 1361.5L1472.2 1346.1L1502.1 1330.7L1532 1315.4L1561.9 1300L1569.9 1300.5L1540 1316.3L1510.1 1332.1L1480.3 1347.8L1450.4 1363.6L1420.5 1379.3L1390.6 1395L1360.7 1410.7L1330.9 1426.4L1301 1442L1271.1 1457.7L1241.2 1473.3L1211.4 1488.9L1181.5 1504.5L1151.6 1520L1121.7 1535.6L1091.8 1551.1L1062 1566.6L1032.1 1582.1L1002.2 1597.5L972.3 1613L942.5 1628.4L912.6 1643.8L882.7 1659.2L852.8 1664.2L822.9 1662.6Z"/>
<path class="ml" d="M844.8 1664.6L852.8 1664.2M934.4 1619.6L942.5 1628.4M1024.1 1574.4L1032.1 1582.1M1113.7 1529.1L1121.7 1535.6M1203.3 1483.6L1211.4 1488.9M1293 1437.9L1301 1442M1382.6 1392.1L1390.6 1395M1472.2 1346.1L1480.3 1347.8M1561.9 1300L1569.9 1300.5"/>
<path class="sf" d="M806.9 1669.2L836.7 1655.1L866.6 1640.5L896.5 1625.9L926.4 1611.2L956.3 1596.6L986.1 1581.9L1016 1567.3L1045.9 1552.6L1075.8 1537.9L1105.6 1523.1L1135.5 1508.4L1165.4 1493.6L1195.3 1478.8L1225.2 1464L1255 1449.2L1284.9 1434.3L1314.8 1419.5L1344.7 1404.6L1374.5 1389.7L1404.4 1374.8L1434.3 1359.8L1464.2 1344.9L1494.1 1329.9L1523.9 1314.9L1553.8 1299.9L1561.9 1300L1532 1315.4L1502.1 1330.7L1472.2 1346.1L1442.3 1361.5L1412.5 1376.8L1382.6 1392.1L1352.7 1407.4L1322.8 1422.7L1293 1437.9L1263.1 1453.2L1233.2 1468.4L1203.3 1483.6L1173.4 1498.8L1143.6 1513.9L1113.7 1529.1L1083.8 1544.2L1053.9 1559.3L1024.1 1574.4L994.2 1589.5L964.3 1604.5L934.4 1619.6L904.5 1634.6L874.7 1649.6L844.8 1664.6L814.9 1665.9Z"/>
<path class="ml" d="M836.7 1655.1L844.8 1664.6M926.4 1611.2L934.4 1619.6M1016 1567.3L1024.1 1574.4M1105.6 1523.1L1113.7 1529.1M1195.3 1478.8L1203.3 1483.6M1284.9 1434.3L1293 1437.9M1374.5 1389.7L1382.6 1392.1M1464.2 1344.9L1472.2 1346.1M1553.8 1299.9L1561.9 1300M806.9 1669.2L836.7 1655.1L866.6 1640.5L896.5 1625.9L926.4 1611.2L956.3 1596.6L986.1 1581.9L1016 1567.3L1045.9 1552.6L1075.8 1537.9L1105.6 1523.1L1135.5 1508.4L1165.4 1493.6L1195.3 1478.8L1225.2 1464L1255 1449.2L1284.9 1434.3L1314.8 1419.5L1344.7 1404.6L1374.5 1389.7L1404.4 1374.8L1434.3 1359.8L1464.2 1344.9L1494.1 1329.9L1523.9 1314.9L1553.8 1299.9"/>
<path class="sf" d="M769 1670.9L798.8 1660.2L828.7 1646L858.6 1631.9L888.5 1617.6L918.3 1603.4L948.2 1589.2L978.1 1574.9L1008 1560.6L1037.9 1546.3L1067.7 1532L1097.6 1517.7L1127.5 1503.3L1157.4 1488.9L1187.2 1474.5L1217.1 1460.1L1247 1445.7L1276.9 1431.3L1306.8 1416.8L1336.6 1402.3L1366.5 1387.8L1396.4 1373.3L1426.3 1358.7L1456.1 1344.2L1486 1329.6L1515.9 1315L1545.8 1300.4L1553.8 1299.9L1523.9 1314.9L1494.1 1329.9L1464.2 1344.9L1434.3 1359.8L1404.4 1374.8L1374.5 1389.7L1344.7 1404.6L1314.8 1419.5L1284.9 1434.3L1255 1449.2L1225.2 1464L1195.3 1478.8L1165.4 1493.6L1135.5 1508.4L1105.6 1523.1L1075.8 1537.9L1045.9 1552.6L1016 1567.3L986.1 1581.9L956.3 1596.6L926.4 1611.2L896.5 1625.9L866.6 1640.5L836.7 1655.1L806.9 1669.2L777 1667.6Z"/>
<path class="ml" d="M828.7 1646L836.7 1655.1M918.3 1603.4L926.4 1611.2M1008 1560.6L1016 1567.3M1097.6 1517.7L1105.6 1523.1M1187.2 1474.5L1195.3 1478.8M1276.9 1431.3L1284.9 1434.3M1366.5 1387.8L1374.5 1389.7M1456.1 1344.2L1464.2 1344.9M1545.8 1300.4L1553.8 1299.9M777 1667.6L806.9 1669.2L836.7 1655.1L866.6 1640.5L896.5 1625.9L926.4 1611.2L956.3 1596.6L986.1 1581.9L1016 1567.3L1045.9 1552.6L1075.8 1537.9L1105.6 1523.1L1135.5 1508.4L1165.4 1493.6L1195.3 1478.8L1225.2 1464L1255 1449.2L1284.9 1434.3L1314.8 1419.5L1344.7 1404.6L1374.5 1389.7L1404.4 1374.8L1434.3 1359.8L1464.2 1344.9L1494.1 1329.9L1523.9 1314.9L1553.8 1299.9"/>
<path class="sf" d="M731 1672.7L760.9 1665.1L790.8 1651.3L820.7 1637.5L850.5 1623.8L880.4 1609.9L910.3 1596.1L940.2 1582.3L970.1 1568.4L999.9 1554.5L1029.8 1540.6L1059.7 1526.7L1089.6 1512.7L1119.4 1498.8L1149.3 1484.8L1179.2 1470.8L1209.1 1456.8L1239 1442.7L1268.8 1428.7L1298.7 1414.6L1328.6 1400.5L1358.5 1386.4L1388.3 1372.3L1418.2 1358.1L1448.1 1344L1478 1329.8L1507.9 1315.6L1537.7 1301.4L1545.8 1300.4L1515.9 1315L1486 1329.6L1456.1 1344.2L1426.3 1358.7L1396.4 1373.3L1366.5 1387.8L1336.6 1402.3L1306.8 1416.8L1276.9 1431.3L1247 1445.7L1217.1 1460.1L1187.2 1474.5L1157.4 1488.9L1127.5 1503.3L1097.6 1517.7L1067.7 1532L1037.9 1546.3L1008 1560.6L978.1 1574.9L948.2 1589.2L918.3 1603.4L888.5 1617.6L858.6 1631.9L828.7 1646L798.8 1660.2L769 1670.9L739.1 1669.4Z"/>
<path class="ml" d="M731 1672.7L739.1 1669.4M820.7 1637.5L828.7 1646M910.3 1596.1L918.3 1603.4M999.9 1554.5L1008 1560.6M1089.6 1512.7L1097.6 1517.7M1179.2 1470.8L1187.2 1474.5M1268.8 1428.7L1276.9 1431.3M1358.5 1386.4L1366.5 1387.8M1448.1 1344L1456.1 1344.2M1537.7 1301.4L1545.8 1300.4"/>
<path class="sf" d="M693.1 1674.4L723 1669.6L752.9 1656.3L782.8 1642.9L812.6 1629.6L842.5 1616.2L872.4 1602.7L902.3 1589.3L932.1 1575.8L962 1562.4L991.9 1548.9L1021.8 1535.4L1051.7 1521.8L1081.5 1508.3L1111.4 1494.7L1141.3 1481.1L1171.2 1467.5L1201 1453.9L1230.9 1440.3L1260.8 1426.6L1290.7 1412.9L1320.6 1399.3L1350.4 1385.5L1380.3 1371.8L1410.2 1358.1L1440.1 1344.3L1469.9 1330.5L1499.8 1316.7L1529.7 1302.9L1537.7 1301.4L1507.9 1315.6L1478 1329.8L1448.1 1344L1418.2 1358.1L1388.3 1372.3L1358.5 1386.4L1328.6 1400.5L1298.7 1414.6L1268.8 1428.7L1239 1442.7L1209.1 1456.8L1179.2 1470.8L1149.3 1484.8L1119.4 1498.8L1089.6 1512.7L1059.7 1526.7L1029.8 1540.6L999.9 1554.5L970.1 1568.4L940.2 1582.3L910.3 1596.1L880.4 1609.9L850.5 1623.8L820.7 1637.5L790.8 1651.3L760.9 1665.1L731 1672.7L701.2 1671.1Z"/>
<path class="ml" d="M723 1669.6L731 1672.7M812.6 1629.6L820.7 1637.5M902.3 1589.3L910.3 1596.1M991.9 1548.9L999.9 1554.5M1081.5 1508.3L1089.6 1512.7M1171.2 1467.5L1179.2 1470.8M1260.8 1426.6L1268.8 1428.7M1350.4 1385.5L1358.5 1386.4M1440.1 1344.3L1448.1 1344M1529.7 1302.9L1537.7 1301.4"/>
<path class="sf" d="M655.2 1676.1L685.1 1673.9L715 1661L744.8 1648L774.7 1635.1L804.6 1622.1L834.5 1609.1L864.3 1596L894.2 1583L924.1 1569.9L954 1556.9L983.9 1543.8L1013.7 1530.7L1043.6 1517.5L1073.5 1504.4L1103.4 1491.2L1133.2 1478L1163.1 1464.8L1193 1451.6L1222.9 1438.3L1252.8 1425.1L1282.6 1411.8L1312.5 1398.5L1342.4 1385.2L1372.3 1371.8L1402.1 1358.5L1432 1345.1L1461.9 1331.7L1491.8 1318.3L1521.7 1304.9L1529.7 1302.9L1499.8 1316.7L1469.9 1330.5L1440.1 1344.3L1410.2 1358.1L1380.3 1371.8L1350.4 1385.5L1320.6 1399.3L1290.7 1412.9L1260.8 1426.6L1230.9 1440.3L1201 1453.9L1171.2 1467.5L1141.3 1481.1L1111.4 1494.7L1081.5 1508.3L1051.7 1521.8L1021.8 1535.4L991.9 1548.9L962 1562.4L932.1 1575.8L902.3 1589.3L872.4 1602.7L842.5 1616.2L812.6 1629.6L782.8 1642.9L752.9 1656.3L723 1669.6L693.1 1674.4L663.2 1672.8Z"/>
<path class="ml" d="M715 1661L723 1669.6M804.6 1622.1L812.6 1629.6M894.2 1583L902.3 1589.3M983.9 1543.8L991.9 1548.9M1073.5 1504.4L1081.5 1508.3M1163.1 1464.8L1171.2 1467.5M1252.8 1425.1L1260.8 1426.6M1342.4 1385.2L1350.4 1385.5M1432 1345.1L1440.1 1344.3M1521.7 1304.9L1529.7 1302.9M655.2 1676.1L685.1 1673.9L715 1661L744.8 1648L774.7 1635.1L804.6 1622.1L834.5 1609.1L864.3 1596L894.2 1583L924.1 1569.9L954 1556.9L983.9 1543.8L1013.7 1530.7L1043.6 1517.5L1073.5 1504.4L1103.4 1491.2L1133.2 1478L1163.1 1464.8L1193 1451.6L1222.9 1438.3L1252.8 1425.1L1282.6 1411.8L1312.5 1398.5L1342.4 1385.2L1372.3 1371.8L1402.1 1358.5L1432 1345.1L1461.9 1331.7L1491.8 1318.3L1521.7 1304.9"/>
<path class="sf" d="M617.3 1677.8L647.2 1677.9L677 1665.4L706.9 1652.8L736.8 1640.3L766.7 1627.7L796.6 1615.1L826.4 1602.5L856.3 1589.9L886.2 1577.2L916.1 1564.6L945.9 1551.9L975.8 1539.2L1005.7 1526.5L1035.6 1513.7L1065.5 1501L1095.3 1488.2L1125.2 1475.4L1155.1 1462.6L1185 1449.8L1214.8 1436.9L1244.7 1424L1274.6 1411.2L1304.5 1398.3L1334.4 1385.3L1364.2 1372.4L1394.1 1359.4L1424 1346.5L1453.9 1333.5L1483.7 1320.4L1513.6 1307.4L1521.7 1304.9L1491.8 1318.3L1461.9 1331.7L1432 1345.1L1402.1 1358.5L1372.3 1371.8L1342.4 1385.2L1312.5 1398.5L1282.6 1411.8L1252.8 1425.1L1222.9 1438.3L1193 1451.6L1163.1 1464.8L1133.2 1478L1103.4 1491.2L1073.5 1504.4L1043.6 1517.5L1013.7 1530.7L983.9 1543.8L954 1556.9L924.1 1569.9L894.2 1583L864.3 1596L834.5 1609.1L804.6 1622.1L774.7 1635.1L744.8 1648L715 1661L685.1 1673.9L655.2 1676.1L625.3 1674.5Z"/>
<path class="ml" d="M617.3 1677.8L625.3 1674.5M706.9 1652.8L715 1661M796.6 1615.1L804.6 1622.1M886.2 1577.2L894.2 1583M975.8 1539.2L983.9 1543.8M1065.5 1501L1073.5 1504.4M1155.1 1462.6L1163.1 1464.8M1244.7 1424L1252.8 1425.1M1334.4 1385.3L1342.4 1385.2M1424 1346.5L1432 1345.1M1513.6 1307.4L1521.7 1304.9M625.3 1674.5L655.2 1676.1L685.1 1673.9L715 1661L744.8 1648L774.7 1635.1L804.6 1622.1L834.5 1609.1L864.3 1596L894.2 1583L924.1 1569.9L954 1556.9L983.9 1543.8L1013.7 1530.7L1043.6 1517.5L1073.5 1504.4L1103.4 1491.2L1133.2 1478L1163.1 1464.8L1193 1451.6L1222.9 1438.3L1252.8 1425.1L1282.6 1411.8L1312.5 1398.5L1342.4 1385.2L1372.3 1371.8L1402.1 1358.5L1432 1345.1L1461.9 1331.7L1491.8 1318.3L1521.7 1304.9"/>
<path class="sf" d="M609.2 1681.1L639.1 1669.4L669 1657.3L698.9 1645.2L728.8 1633L758.6 1620.8L788.5 1608.7L818.4 1596.4L848.3 1584.2L878.1 1572L908 1559.7L937.9 1547.4L967.8 1535.1L997.7 1522.8L1027.5 1510.4L1057.4 1498.1L1087.3 1485.7L1117.2 1473.3L1147 1460.9L1176.9 1448.4L1206.8 1436L1236.7 1423.5L1266.6 1411L1296.4 1398.5L1326.3 1386L1356.2 1373.4L1386.1 1360.9L1415.9 1348.3L1445.8 1335.7L1475.7 1323.1L1505.6 1310.4L1513.6 1307.4L1483.7 1320.4L1453.9 1333.5L1424 1346.5L1394.1 1359.4L1364.2 1372.4L1334.4 1385.3L1304.5 1398.3L1274.6 1411.2L1244.7 1424L1214.8 1436.9L1185 1449.8L1155.1 1462.6L1125.2 1475.4L1095.3 1488.2L1065.5 1501L1035.6 1513.7L1005.7 1526.5L975.8 1539.2L945.9 1551.9L916.1 1564.6L886.2 1577.2L856.3 1589.9L826.4 1602.5L796.6 1615.1L766.7 1627.7L736.8 1640.3L706.9 1652.8L677 1665.4L647.2 1677.9L617.3 1677.8Z"/>
<path class="ml" d="M609.2 1681.1L617.3 1677.8M698.9 1645.2L706.9 1652.8M788.5 1608.7L796.6 1615.1M878.1 1572L886.2 1577.2M967.8 1535.1L975.8 1539.2M1057.4 1498.1L1065.5 1501M1147 1460.9L1155.1 1462.6M1236.7 1423.5L1244.7 1424M1326.3 1386L1334.4 1385.3M1415.9 1348.3L1424 1346.5M1505.6 1310.4L1513.6 1307.4"/>
<path class="sf" d="M601.2 1673.2L631.1 1661.5L661 1649.8L690.8 1638.1L720.7 1626.3L750.6 1614.5L780.5 1602.7L810.4 1590.9L840.2 1579.1L870.1 1567.2L900 1555.3L929.9 1543.4L959.7 1531.5L989.6 1519.6L1019.5 1507.6L1049.4 1495.7L1079.3 1483.7L1109.1 1471.7L1139 1459.7L1168.9 1447.6L1198.8 1435.6L1228.6 1423.5L1258.5 1411.4L1288.4 1399.3L1318.3 1387.2L1348.2 1375L1378 1362.8L1407.9 1350.7L1437.8 1338.5L1467.7 1326.2L1497.5 1314L1505.6 1310.4L1475.7 1323.1L1445.8 1335.7L1415.9 1348.3L1386.1 1360.9L1356.2 1373.4L1326.3 1386L1296.4 1398.5L1266.6 1411L1236.7 1423.5L1206.8 1436L1176.9 1448.4L1147 1460.9L1117.2 1473.3L1087.3 1485.7L1057.4 1498.1L1027.5 1510.4L997.7 1522.8L967.8 1535.1L937.9 1547.4L908 1559.7L878.1 1572L848.3 1584.2L818.4 1596.4L788.5 1608.7L758.6 1620.8L728.8 1633L698.9 1645.2L669 1657.3L639.1 1669.4L609.2 1681.1Z"/>
<path class="ml" d="M601.2 1673.2L609.2 1681.1M690.8 1638.1L698.9 1645.2M780.5 1602.7L788.5 1608.7M870.1 1567.2L878.1 1572M959.7 1531.5L967.8 1535.1M1049.4 1495.7L1057.4 1498.1M1139 1459.7L1147 1460.9M1228.6 1423.5L1236.7 1423.5M1318.3 1387.2L1326.3 1386M1407.9 1350.7L1415.9 1348.3M1497.5 1314L1505.6 1310.4"/>
<path class="sf" d="M593.2 1665.4L623 1654.1L652.9 1642.8L682.8 1631.4L712.7 1620.1L742.6 1608.7L772.4 1597.3L802.3 1585.9L832.2 1574.4L862.1 1562.9L891.9 1551.5L921.8 1540L951.7 1528.5L981.6 1516.9L1011.5 1505.4L1041.3 1493.8L1071.2 1482.2L1101.1 1470.6L1131 1459L1160.8 1447.3L1190.7 1435.7L1220.6 1424L1250.5 1412.3L1280.4 1400.6L1310.2 1388.8L1340.1 1377.1L1370 1365.3L1399.9 1353.5L1429.7 1341.7L1459.6 1329.9L1489.5 1318L1497.5 1314L1467.7 1326.2L1437.8 1338.5L1407.9 1350.7L1378 1362.8L1348.2 1375L1318.3 1387.2L1288.4 1399.3L1258.5 1411.4L1228.6 1423.5L1198.8 1435.6L1168.9 1447.6L1139 1459.7L1109.1 1471.7L1079.3 1483.7L1049.4 1495.7L1019.5 1507.6L989.6 1519.6L959.7 1531.5L929.9 1543.4L900 1555.3L870.1 1567.2L840.2 1579.1L810.4 1590.9L780.5 1602.7L750.6 1614.5L720.7 1626.3L690.8 1638.1L661 1649.8L631.1 1661.5L601.2 1673.2Z"/>
<path class="ml" d="M593.2 1665.4L601.2 1673.2M682.8 1631.4L690.8 1638.1M772.4 1597.3L780.5 1602.7M862.1 1562.9L870.1 1567.2M951.7 1528.5L959.7 1531.5M1041.3 1493.8L1049.4 1495.7M1131 1459L1139 1459.7M1220.6 1424L1228.6 1423.5M1310.2 1388.8L1318.3 1387.2M1399.9 1353.5L1407.9 1350.7M1489.5 1318L1497.5 1314M593.2 1665.4L623 1654.1L652.9 1642.8L682.8 1631.4L712.7 1620.1L742.6 1608.7L772.4 1597.3L802.3 1585.9L832.2 1574.4L862.1 1562.9L891.9 1551.5L921.8 1540L951.7 1528.5L981.6 1516.9L1011.5 1505.4L1041.3 1493.8L1071.2 1482.2L1101.1 1470.6L1131 1459L1160.8 1447.3L1190.7 1435.7L1220.6 1424L1250.5 1412.3L1280.4 1400.6L1310.2 1388.8L1340.1 1377.1L1370 1365.3L1399.9 1353.5L1429.7 1341.7L1459.6 1329.9L1489.5 1318"/>
<path class="sf" d="M585.1 1658.1L615 1647.2L644.9 1636.3L674.8 1625.3L704.6 1614.4L734.5 1603.4L764.4 1592.4L794.3 1581.3L824.2 1570.3L854 1559.2L883.9 1548.1L913.8 1537L943.7 1525.9L973.5 1514.8L1003.4 1503.6L1033.3 1492.4L1063.2 1481.2L1093.1 1470L1122.9 1458.8L1152.8 1447.6L1182.7 1436.3L1212.6 1425L1242.4 1413.7L1272.3 1402.4L1302.2 1391L1332.1 1379.7L1362 1368.3L1391.8 1356.9L1421.7 1345.5L1451.6 1334.1L1481.5 1322.6L1489.5 1318L1459.6 1329.9L1429.7 1341.7L1399.9 1353.5L1370 1365.3L1340.1 1377.1L1310.2 1388.8L1280.4 1400.6L1250.5 1412.3L1220.6 1424L1190.7 1435.7L1160.8 1447.3L1131 1459L1101.1 1470.6L1071.2 1482.2L1041.3 1493.8L1011.5 1505.4L981.6 1516.9L951.7 1528.5L921.8 1540L891.9 1551.5L862.1 1562.9L832.2 1574.4L802.3 1585.9L772.4 1597.3L742.6 1608.7L712.7 1620.1L682.8 1631.4L652.9 1642.8L623 1654.1L593.2 1665.4Z"/>
<path class="ml" d="M585.1 1658.1L593.2 1665.4M674.8 1625.3L682.8 1631.4M764.4 1592.4L772.4 1597.3M854 1559.2L862.1 1562.9M943.7 1525.9L951.7 1528.5M1033.3 1492.4L1041.3 1493.8M1122.9 1458.8L1131 1459M1212.6 1425L1220.6 1424M1302.2 1391L1310.2 1388.8M1391.8 1356.9L1399.9 1353.5M1481.5 1322.6L1489.5 1318M593.2 1665.4L623 1654.1L652.9 1642.8L682.8 1631.4L712.7 1620.1L742.6 1608.7L772.4 1597.3L802.3 1585.9L832.2 1574.4L862.1 1562.9L891.9 1551.5L921.8 1540L951.7 1528.5L981.6 1516.9L1011.5 1505.4L1041.3 1493.8L1071.2 1482.2L1101.1 1470.6L1131 1459L1160.8 1447.3L1190.7 1435.7L1220.6 1424L1250.5 1412.3L1280.4 1400.6L1310.2 1388.8L1340.1 1377.1L1370 1365.3L1399.9 1353.5L1429.7 1341.7L1459.6 1329.9L1489.5 1318"/>
<path class="sf" d="M577.1 1651.3L607 1640.8L636.8 1630.3L666.7 1619.7L696.6 1609.1L726.5 1598.6L756.4 1587.9L786.2 1577.3L816.1 1566.7L846 1556L875.9 1545.3L905.7 1534.6L935.6 1523.9L965.5 1513.1L995.4 1502.4L1025.3 1491.6L1055.1 1480.8L1085 1470L1114.9 1459.1L1144.8 1448.3L1174.6 1437.4L1204.5 1426.5L1234.4 1415.6L1264.3 1404.7L1294.2 1393.7L1324 1382.8L1353.9 1371.8L1383.8 1360.8L1413.7 1349.8L1443.5 1338.7L1473.4 1327.7L1481.5 1322.6L1451.6 1334.1L1421.7 1345.5L1391.8 1356.9L1362 1368.3L1332.1 1379.7L1302.2 1391L1272.3 1402.4L1242.4 1413.7L1212.6 1425L1182.7 1436.3L1152.8 1447.6L1122.9 1458.8L1093.1 1470L1063.2 1481.2L1033.3 1492.4L1003.4 1503.6L973.5 1514.8L943.7 1525.9L913.8 1537L883.9 1548.1L854 1559.2L824.2 1570.3L794.3 1581.3L764.4 1592.4L734.5 1603.4L704.6 1614.4L674.8 1625.3L644.9 1636.3L615 1647.2L585.1 1658.1Z"/>
<path class="ml" d="M577.1 1651.3L585.1 1658.1M666.7 1619.7L674.8 1625.3M756.4 1587.9L764.4 1592.4M846 1556L854 1559.2M935.6 1523.9L943.7 1525.9M1025.3 1491.6L1033.3 1492.4M1114.9 1459.1L1122.9 1458.8M1204.5 1426.5L1212.6 1425M1294.2 1393.7L1302.2 1391M1383.8 1360.8L1391.8 1356.9M1473.4 1327.7L1481.5 1322.6"/>
<path class="sf" d="M569.1 1645.1L598.9 1634.9L628.8 1624.8L658.7 1614.6L688.6 1604.5L718.4 1594.3L748.3 1584L778.2 1573.8L808.1 1563.5L838 1553.3L867.8 1543L897.7 1532.7L927.6 1522.3L957.5 1512L987.3 1501.6L1017.2 1491.2L1047.1 1480.8L1077 1470.4L1106.9 1460L1136.7 1449.5L1166.6 1439L1196.5 1428.5L1226.4 1418L1256.2 1407.5L1286.1 1397L1316 1386.4L1345.9 1375.8L1375.8 1365.2L1405.6 1354.6L1435.5 1343.9L1465.4 1333.3L1473.4 1327.7L1443.5 1338.7L1413.7 1349.8L1383.8 1360.8L1353.9 1371.8L1324 1382.8L1294.2 1393.7L1264.3 1404.7L1234.4 1415.6L1204.5 1426.5L1174.6 1437.4L1144.8 1448.3L1114.9 1459.1L1085 1470L1055.1 1480.8L1025.3 1491.6L995.4 1502.4L965.5 1513.1L935.6 1523.9L905.7 1534.6L875.9 1545.3L846 1556L816.1 1566.7L786.2 1577.3L756.4 1587.9L726.5 1598.6L696.6 1609.1L666.7 1619.7L636.8 1630.3L607 1640.8L577.1 1651.3Z"/>
<path class="ml" d="M569.1 1645.1L577.1 1651.3M658.7 1614.6L666.7 1619.7M748.3 1584L756.4 1587.9M838 1553.3L846 1556M927.6 1522.3L935.6 1523.9M1017.2 1491.2L1025.3 1491.6M1106.9 1460L1114.9 1459.1M1196.5 1428.5L1204.5 1426.5M1286.1 1397L1294.2 1393.7M1375.8 1365.2L1383.8 1360.8M1465.4 1333.3L1473.4 1327.7"/>
<path class="sf" d="M561 1639.3L590.9 1629.6L620.8 1619.8L650.6 1610.1L680.5 1600.3L710.4 1590.5L740.3 1580.6L770.2 1570.8L800 1560.9L829.9 1551.1L859.8 1541.2L889.7 1531.3L919.5 1521.3L949.4 1511.4L979.3 1501.4L1009.2 1491.4L1039.1 1481.4L1068.9 1471.4L1098.8 1461.3L1128.7 1451.3L1158.6 1441.2L1188.4 1431.1L1218.3 1421L1248.2 1410.8L1278.1 1400.7L1308 1390.5L1337.8 1380.3L1367.7 1370.1L1397.6 1359.9L1427.5 1349.6L1457.3 1339.4L1465.4 1333.3L1435.5 1343.9L1405.6 1354.6L1375.8 1365.2L1345.9 1375.8L1316 1386.4L1286.1 1397L1256.2 1407.5L1226.4 1418L1196.5 1428.5L1166.6 1439L1136.7 1449.5L1106.9 1460L1077 1470.4L1047.1 1480.8L1017.2 1491.2L987.3 1501.6L957.5 1512L927.6 1522.3L897.7 1532.7L867.8 1543L838 1553.3L808.1 1563.5L778.2 1573.8L748.3 1584L718.4 1594.3L688.6 1604.5L658.7 1614.6L628.8 1624.8L598.9 1634.9L569.1 1645.1Z"/>
<path class="ml" d="M561 1639.3L569.1 1645.1M650.6 1610.1L658.7 1614.6M740.3 1580.6L748.3 1584M829.9 1551.1L838 1553.3M919.5 1521.3L927.6 1522.3M1009.2 1491.4L1017.2 1491.2M1098.8 1461.3L1106.9 1460M1188.4 1431.1L1196.5 1428.5M1278.1 1400.7L1286.1 1397M1367.7 1370.1L1375.8 1365.2M1457.3 1339.4L1465.4 1333.3M561 1639.3L590.9 1629.6L620.8 1619.8L650.6 1610.1L680.5 1600.3L710.4 1590.5L740.3 1580.6L770.2 1570.8L800 1560.9L829.9 1551.1L859.8 1541.2L889.7 1531.3L919.5 1521.3L949.4 1511.4L979.3 1501.4L1009.2 1491.4L1039.1 1481.4L1068.9 1471.4L1098.8 1461.3L1128.7 1451.3L1158.6 1441.2L1188.4 1431.1L1218.3 1421L1248.2 1410.8L1278.1 1400.7L1308 1390.5L1337.8 1380.3L1367.7 1370.1L1397.6 1359.9L1427.5 1349.6L1457.3 1339.4"/>
<path class="sf" d="M553 1634.1L582.9 1624.7L612.7 1615.4L642.6 1606L672.5 1596.6L702.4 1587.2L732.2 1577.8L762.1 1568.3L792 1558.9L821.9 1549.4L851.8 1539.9L881.6 1530.4L911.5 1520.8L941.4 1511.3L971.3 1501.7L1001.1 1492.1L1031 1482.5L1060.9 1472.8L1090.8 1463.2L1120.7 1453.5L1150.5 1443.8L1180.4 1434.1L1210.3 1424.4L1240.2 1414.7L1270 1404.9L1299.9 1395.1L1329.8 1385.3L1359.7 1375.5L1389.6 1365.7L1419.4 1355.9L1449.3 1346L1457.3 1339.4L1427.5 1349.6L1397.6 1359.9L1367.7 1370.1L1337.8 1380.3L1308 1390.5L1278.1 1400.7L1248.2 1410.8L1218.3 1421L1188.4 1431.1L1158.6 1441.2L1128.7 1451.3L1098.8 1461.3L1068.9 1471.4L1039.1 1481.4L1009.2 1491.4L979.3 1501.4L949.4 1511.4L919.5 1521.3L889.7 1531.3L859.8 1541.2L829.9 1551.1L800 1560.9L770.2 1570.8L740.3 1580.6L710.4 1590.5L680.5 1600.3L650.6 1610.1L620.8 1619.8L590.9 1629.6L561 1639.3Z"/>
<path class="ml" d="M553 1634.1L561 1639.3M642.6 1606L650.6 1610.1M732.2 1577.8L740.3 1580.6M821.9 1549.4L829.9 1551.1M911.5 1520.8L919.5 1521.3M1001.1 1492.1L1009.2 1491.4M1090.8 1463.2L1098.8 1461.3M1180.4 1434.1L1188.4 1431.1M1270 1404.9L1278.1 1400.7M1359.7 1375.5L1367.7 1370.1M1449.3 1346L1457.3 1339.4M561 1639.3L590.9 1629.6L620.8 1619.8L650.6 1610.1L680.5 1600.3L710.4 1590.5L740.3 1580.6L770.2 1570.8L800 1560.9L829.9 1551.1L859.8 1541.2L889.7 1531.3L919.5 1521.3L949.4 1511.4L979.3 1501.4L1009.2 1491.4L1039.1 1481.4L1068.9 1471.4L1098.8 1461.3L1128.7 1451.3L1158.6 1441.2L1188.4 1431.1L1218.3 1421L1248.2 1410.8L1278.1 1400.7L1308 1390.5L1337.8 1380.3L1367.7 1370.1L1397.6 1359.9L1427.5 1349.6L1457.3 1339.4"/>
<path class="sf" d="M544.9 1629.3L574.8 1620.4L604.7 1611.4L634.6 1602.4L664.4 1593.5L694.3 1584.4L724.2 1575.4L754.1 1566.4L784 1557.3L813.8 1548.2L843.7 1539.1L873.6 1530L903.5 1520.8L933.3 1511.7L963.2 1502.5L993.1 1493.3L1023 1484.1L1052.9 1474.8L1082.7 1465.6L1112.6 1456.3L1142.5 1447L1172.4 1437.7L1202.2 1428.4L1232.1 1419L1262 1409.7L1291.9 1400.3L1321.8 1390.9L1351.6 1381.5L1381.5 1372L1411.4 1362.6L1441.3 1353.1L1449.3 1346L1419.4 1355.9L1389.6 1365.7L1359.7 1375.5L1329.8 1385.3L1299.9 1395.1L1270 1404.9L1240.2 1414.7L1210.3 1424.4L1180.4 1434.1L1150.5 1443.8L1120.7 1453.5L1090.8 1463.2L1060.9 1472.8L1031 1482.5L1001.1 1492.1L971.3 1501.7L941.4 1511.3L911.5 1520.8L881.6 1530.4L851.8 1539.9L821.9 1549.4L792 1558.9L762.1 1568.3L732.2 1577.8L702.4 1587.2L672.5 1596.6L642.6 1606L612.7 1615.4L582.9 1624.7L553 1634.1Z"/>
<path class="ml" d="M544.9 1629.3L553 1634.1M634.6 1602.4L642.6 1606M724.2 1575.4L732.2 1577.8M813.8 1548.2L821.9 1549.4M903.5 1520.8L911.5 1520.8M993.1 1493.3L1001.1 1492.1M1082.7 1465.6L1090.8 1463.2M1172.4 1437.7L1180.4 1434.1M1262 1409.7L1270 1404.9M1351.6 1381.5L1359.7 1375.5M1441.3 1353.1L1449.3 1346"/>
<path class="sf" d="M536.9 1625.1L566.8 1616.6L596.7 1608L626.5 1599.4L656.4 1590.8L686.3 1582.2L716.2 1573.5L746 1564.9L775.9 1556.2L805.8 1547.5L835.7 1538.8L865.6 1530.1L895.4 1521.3L925.3 1512.6L955.2 1503.8L985.1 1495L1014.9 1486.2L1044.8 1477.3L1074.7 1468.5L1104.6 1459.6L1134.5 1450.7L1164.3 1441.8L1194.2 1432.9L1224.1 1423.9L1254 1414.9L1283.8 1405.9L1313.7 1396.9L1343.6 1387.9L1373.5 1378.9L1403.4 1369.8L1433.2 1360.7L1441.3 1353.1L1411.4 1362.6L1381.5 1372L1351.6 1381.5L1321.8 1390.9L1291.9 1400.3L1262 1409.7L1232.1 1419L1202.2 1428.4L1172.4 1437.7L1142.5 1447L1112.6 1456.3L1082.7 1465.6L1052.9 1474.8L1023 1484.1L993.1 1493.3L963.2 1502.5L933.3 1511.7L903.5 1520.8L873.6 1530L843.7 1539.1L813.8 1548.2L784 1557.3L754.1 1566.4L724.2 1575.4L694.3 1584.4L664.4 1593.5L634.6 1602.4L604.7 1611.4L574.8 1620.4L544.9 1629.3Z"/>
<path class="ml" d="M536.9 1625.1L544.9 1629.3M626.5 1599.4L634.6 1602.4M716.2 1573.5L724.2 1575.4M805.8 1547.5L813.8 1548.2M895.4 1521.3L903.5 1520.8M985.1 1495L993.1 1493.3M1074.7 1468.5L1082.7 1465.6M1164.3 1441.8L1172.4 1437.7M1254 1414.9L1262 1409.7M1343.6 1387.9L1351.6 1381.5M1433.2 1360.7L1441.3 1353.1"/>
<path class="sf" d="M528.9 1621.4L558.7 1613.2L588.6 1605.1L618.5 1596.9L648.4 1588.7L678.2 1580.4L708.1 1572.2L738 1563.9L767.9 1555.7L797.8 1547.4L827.6 1539.1L857.5 1530.7L887.4 1522.4L917.3 1514L947.1 1505.6L977 1497.2L1006.9 1488.8L1036.8 1480.3L1066.7 1471.9L1096.5 1463.4L1126.4 1454.9L1156.3 1446.4L1186.2 1437.8L1216 1429.3L1245.9 1420.7L1275.8 1412.1L1305.7 1403.5L1335.6 1394.9L1365.4 1386.2L1395.3 1377.6L1425.2 1368.9L1433.2 1360.7L1403.4 1369.8L1373.5 1378.9L1343.6 1387.9L1313.7 1396.9L1283.8 1405.9L1254 1414.9L1224.1 1423.9L1194.2 1432.9L1164.3 1441.8L1134.5 1450.7L1104.6 1459.6L1074.7 1468.5L1044.8 1477.3L1014.9 1486.2L985.1 1495L955.2 1503.8L925.3 1512.6L895.4 1521.3L865.6 1530.1L835.7 1538.8L805.8 1547.5L775.9 1556.2L746 1564.9L716.2 1573.5L686.3 1582.2L656.4 1590.8L626.5 1599.4L596.7 1608L566.8 1616.6L536.9 1625.1Z"/>
<path class="ml" d="M528.9 1621.4L536.9 1625.1M618.5 1596.9L626.5 1599.4M708.1 1572.2L716.2 1573.5M797.8 1547.4L805.8 1547.5M887.4 1522.4L895.4 1521.3M977 1497.2L985.1 1495M1066.7 1471.9L1074.7 1468.5M1156.3 1446.4L1164.3 1441.8M1245.9 1420.7L1254 1414.9M1335.6 1394.9L1343.6 1387.9M1425.2 1368.9L1433.2 1360.7M528.9 1621.4L558.7 1613.2L588.6 1605.1L618.5 1596.9L648.4 1588.7L678.2 1580.4L708.1 1572.2L738 1563.9L767.9 1555.7L797.8 1547.4L827.6 1539.1L857.5 1530.7L887.4 1522.4L917.3 1514L947.1 1505.6L977 1497.2L1006.9 1488.8L1036.8 1480.3L1066.7 1471.9L1096.5 1463.4L1126.4 1454.9L1156.3 1446.4L1186.2 1437.8L1216 1429.3L1245.9 1420.7L1275.8 1412.1L1305.7 1403.5L1335.6 1394.9L1365.4 1386.2L1395.3 1377.6L1425.2 1368.9"/>
<path class="sf" d="M520.8 1618.2L550.7 1610.4L580.6 1602.6L610.5 1594.9L640.3 1587L670.2 1579.2L700.1 1571.4L730 1563.5L759.8 1555.6L789.7 1547.7L819.6 1539.8L849.5 1531.9L879.4 1523.9L909.2 1515.9L939.1 1507.9L969 1499.9L998.9 1491.9L1028.7 1483.8L1058.6 1475.8L1088.5 1467.7L1118.4 1459.6L1148.3 1451.5L1178.1 1443.3L1208 1435.2L1237.9 1427L1267.8 1418.8L1297.6 1410.6L1327.5 1402.3L1357.4 1394.1L1387.3 1385.8L1417.2 1377.5L1425.2 1368.9L1395.3 1377.6L1365.4 1386.2L1335.6 1394.9L1305.7 1403.5L1275.8 1412.1L1245.9 1420.7L1216 1429.3L1186.2 1437.8L1156.3 1446.4L1126.4 1454.9L1096.5 1463.4L1066.7 1471.9L1036.8 1480.3L1006.9 1488.8L977 1497.2L947.1 1505.6L917.3 1514L887.4 1522.4L857.5 1530.7L827.6 1539.1L797.8 1547.4L767.9 1555.7L738 1563.9L708.1 1572.2L678.2 1580.4L648.4 1588.7L618.5 1596.9L588.6 1605.1L558.7 1613.2L528.9 1621.4Z"/>
<path class="ml" d="M520.8 1618.2L528.9 1621.4M610.5 1594.9L618.5 1596.9M700.1 1571.4L708.1 1572.2M789.7 1547.7L797.8 1547.4M879.4 1523.9L887.4 1522.4M969 1499.9L977 1497.2M1058.6 1475.8L1066.7 1471.9M1148.3 1451.5L1156.3 1446.4M1237.9 1427L1245.9 1420.7M1327.5 1402.3L1335.6 1394.9M1417.2 1377.5L1425.2 1368.9M528.9 1621.4L558.7 1613.2L588.6 1605.1L618.5 1596.9L648.4 1588.7L678.2 1580.4L708.1 1572.2L738 1563.9L767.9 1555.7L797.8 1547.4L827.6 1539.1L857.5 1530.7L887.4 1522.4L917.3 1514L947.1 1505.6L977 1497.2L1006.9 1488.8L1036.8 1480.3L1066.7 1471.9L1096.5 1463.4L1126.4 1454.9L1156.3 1446.4L1186.2 1437.8L1216 1429.3L1245.9 1420.7L1275.8 1412.1L1305.7 1403.5L1335.6 1394.9L1365.4 1386.2L1395.3 1377.6L1425.2 1368.9"/>
<path class="sf" d="M512.8 1615.5L542.7 1608.1L572.5 1600.7L602.4 1593.3L632.3 1585.9L662.2 1578.5L692 1571L721.9 1563.6L751.8 1556.1L781.7 1548.6L811.6 1541.1L841.4 1533.5L871.3 1526L901.2 1518.4L931.1 1510.8L960.9 1503.2L990.8 1495.5L1020.7 1487.9L1050.6 1480.2L1080.5 1472.5L1110.3 1464.8L1140.2 1457.1L1170.1 1449.3L1200 1441.6L1229.8 1433.8L1259.7 1426L1289.6 1418.2L1319.5 1410.3L1349.4 1402.5L1379.2 1394.6L1409.1 1386.7L1417.2 1377.5L1387.3 1385.8L1357.4 1394.1L1327.5 1402.3L1297.6 1410.6L1267.8 1418.8L1237.9 1427L1208 1435.2L1178.1 1443.3L1148.3 1451.5L1118.4 1459.6L1088.5 1467.7L1058.6 1475.8L1028.7 1483.8L998.9 1491.9L969 1499.9L939.1 1507.9L909.2 1515.9L879.4 1523.9L849.5 1531.9L819.6 1539.8L789.7 1547.7L759.8 1555.6L730 1563.5L700.1 1571.4L670.2 1579.2L640.3 1587L610.5 1594.9L580.6 1602.6L550.7 1610.4L520.8 1618.2Z"/>
<path class="ml" d="M512.8 1615.5L520.8 1618.2M602.4 1593.3L610.5 1594.9M692 1571L700.1 1571.4M781.7 1548.6L789.7 1547.7M871.3 1526L879.4 1523.9M960.9 1503.2L969 1499.9M1050.6 1480.2L1058.6 1475.8M1140.2 1457.1L1148.3 1451.5M1229.8 1433.8L1237.9 1427M1319.5 1410.3L1327.5 1402.3M1409.1 1386.7L1417.2 1377.5"/>
<path class="sf" d="M504.7 1613.3L534.6 1606.3L564.5 1599.4L594.4 1592.4L624.3 1585.3L654.1 1578.3L684 1571.2L713.9 1564.2L743.8 1557.1L773.6 1550L803.5 1542.8L833.4 1535.7L863.3 1528.5L893.2 1521.3L923 1514.1L952.9 1506.9L982.8 1499.7L1012.7 1492.4L1042.5 1485.1L1072.4 1477.8L1102.3 1470.5L1132.2 1463.2L1162.1 1455.8L1191.9 1448.5L1221.8 1441.1L1251.7 1433.7L1281.6 1426.3L1311.4 1418.8L1341.3 1411.4L1371.2 1403.9L1401.1 1396.4L1409.1 1386.7L1379.2 1394.6L1349.4 1402.5L1319.5 1410.3L1289.6 1418.2L1259.7 1426L1229.8 1433.8L1200 1441.6L1170.1 1449.3L1140.2 1457.1L1110.3 1464.8L1080.5 1472.5L1050.6 1480.2L1020.7 1487.9L990.8 1495.5L960.9 1503.2L931.1 1510.8L901.2 1518.4L871.3 1526L841.4 1533.5L811.6 1541.1L781.7 1548.6L751.8 1556.1L721.9 1563.6L692 1571L662.2 1578.5L632.3 1585.9L602.4 1593.3L572.5 1600.7L542.7 1608.1L512.8 1615.5Z"/>
<path class="ml" d="M504.7 1613.3L512.8 1615.5M594.4 1592.4L602.4 1593.3M684 1571.2L692 1571M773.6 1550L781.7 1548.6M863.3 1528.5L871.3 1526M952.9 1506.9L960.9 1503.2M1042.5 1485.1L1050.6 1480.2M1132.2 1463.2L1140.2 1457.1M1221.8 1441.1L1229.8 1433.8M1311.4 1418.8L1319.5 1410.3M1401.1 1396.4L1409.1 1386.7"/>
<path class="sf" d="M496.7 1611.6L526.6 1605.1L556.5 1598.5L586.3 1591.9L616.2 1585.2L646.1 1578.6L676 1571.9L705.8 1565.3L735.7 1558.6L765.6 1551.8L795.5 1545.1L825.4 1538.4L855.2 1531.6L885.1 1524.8L915 1518L944.9 1511.2L974.7 1504.3L1004.6 1497.5L1034.5 1490.6L1064.4 1483.7L1094.3 1476.8L1124.1 1469.8L1154 1462.9L1183.9 1455.9L1213.8 1448.9L1243.6 1441.9L1273.5 1434.9L1303.4 1427.8L1333.3 1420.8L1363.2 1413.7L1393 1406.6L1401.1 1396.4L1371.2 1403.9L1341.3 1411.4L1311.4 1418.8L1281.6 1426.3L1251.7 1433.7L1221.8 1441.1L1191.9 1448.5L1162.1 1455.8L1132.2 1463.2L1102.3 1470.5L1072.4 1477.8L1042.5 1485.1L1012.7 1492.4L982.8 1499.7L952.9 1506.9L923 1514.1L893.2 1521.3L863.3 1528.5L833.4 1535.7L803.5 1542.8L773.6 1550L743.8 1557.1L713.9 1564.2L684 1571.2L654.1 1578.3L624.3 1585.3L594.4 1592.4L564.5 1599.4L534.6 1606.3L504.7 1613.3Z"/>
<path class="ml" d="M496.7 1611.6L504.7 1613.3M586.3 1591.9L594.4 1592.4M676 1571.9L684 1571.2M765.6 1551.8L773.6 1550M855.2 1531.6L863.3 1528.5M944.9 1511.2L952.9 1506.9M1034.5 1490.6L1042.5 1485.1M1124.1 1469.8L1132.2 1463.2M1213.8 1448.9L1221.8 1441.1M1303.4 1427.8L1311.4 1418.8M1393 1406.6L1401.1 1396.4M496.7 1611.6L526.6 1605.1L556.5 1598.5L586.3 1591.9L616.2 1585.2L646.1 1578.6L676 1571.9L705.8 1565.3L735.7 1558.6L765.6 1551.8L795.5 1545.1L825.4 1538.4L855.2 1531.6L885.1 1524.8L915 1518L944.9 1511.2L974.7 1504.3L1004.6 1497.5L1034.5 1490.6L1064.4 1483.7L1094.3 1476.8L1124.1 1469.8L1154 1462.9L1183.9 1455.9L1213.8 1448.9L1243.6 1441.9L1273.5 1434.9L1303.4 1427.8L1333.3 1420.8L1363.2 1413.7L1393 1406.6"/>
<path class="sf" d="M488.7 1610.5L518.5 1604.3L548.4 1598.1L578.3 1591.9L608.2 1585.7L638.1 1579.4L667.9 1573.1L697.8 1566.9L727.7 1560.6L757.6 1554.2L787.4 1547.9L817.3 1541.5L847.2 1535.2L877.1 1528.8L907 1522.4L936.8 1515.9L966.7 1509.5L996.6 1503L1026.5 1496.5L1056.3 1490L1086.2 1483.5L1116.1 1477L1146 1470.4L1175.9 1463.8L1205.7 1457.2L1235.6 1450.6L1265.5 1444L1295.4 1437.3L1325.2 1430.7L1355.1 1424L1385 1417.3L1393 1406.6L1363.2 1413.7L1333.3 1420.8L1303.4 1427.8L1273.5 1434.9L1243.6 1441.9L1213.8 1448.9L1183.9 1455.9L1154 1462.9L1124.1 1469.8L1094.3 1476.8L1064.4 1483.7L1034.5 1490.6L1004.6 1497.5L974.7 1504.3L944.9 1511.2L915 1518L885.1 1524.8L855.2 1531.6L825.4 1538.4L795.5 1545.1L765.6 1551.8L735.7 1558.6L705.8 1565.3L676 1571.9L646.1 1578.6L616.2 1585.2L586.3 1591.9L556.5 1598.5L526.6 1605.1L496.7 1611.6Z"/>
<path class="ml" d="M488.7 1610.5L496.7 1611.6M578.3 1591.9L586.3 1591.9M667.9 1573.1L676 1571.9M757.6 1554.2L765.6 1551.8M847.2 1535.2L855.2 1531.6M936.8 1515.9L944.9 1511.2M1026.5 1496.5L1034.5 1490.6M1116.1 1477L1124.1 1469.8M1205.7 1457.2L1213.8 1448.9M1295.4 1437.3L1303.4 1427.8M1385 1417.3L1393 1406.6M496.7 1611.6L526.6 1605.1L556.5 1598.5L586.3 1591.9L616.2 1585.2L646.1 1578.6L676 1571.9L705.8 1565.3L735.7 1558.6L765.6 1551.8L795.5 1545.1L825.4 1538.4L855.2 1531.6L885.1 1524.8L915 1518L944.9 1511.2L974.7 1504.3L1004.6 1497.5L1034.5 1490.6L1064.4 1483.7L1094.3 1476.8L1124.1 1469.8L1154 1462.9L1183.9 1455.9L1213.8 1448.9L1243.6 1441.9L1273.5 1434.9L1303.4 1427.8L1333.3 1420.8L1363.2 1413.7L1393 1406.6"/>
<path class="sf" d="M480.6 1609.8L510.5 1604L540.4 1598.2L570.3 1592.4L600.1 1586.6L630 1580.7L659.9 1574.9L689.8 1569L719.6 1563.1L749.5 1557.2L779.4 1551.2L809.3 1545.2L839.2 1539.3L869 1533.3L898.9 1527.3L928.8 1521.2L958.7 1515.2L988.5 1509.1L1018.4 1503L1048.3 1496.9L1078.2 1490.8L1108.1 1484.6L1137.9 1478.5L1167.8 1472.3L1197.7 1466.1L1227.6 1459.9L1257.4 1453.6L1287.3 1447.4L1317.2 1441.1L1347.1 1434.8L1377 1428.5L1385 1417.3L1355.1 1424L1325.2 1430.7L1295.4 1437.3L1265.5 1444L1235.6 1450.6L1205.7 1457.2L1175.9 1463.8L1146 1470.4L1116.1 1477L1086.2 1483.5L1056.3 1490L1026.5 1496.5L996.6 1503L966.7 1509.5L936.8 1515.9L907 1522.4L877.1 1528.8L847.2 1535.2L817.3 1541.5L787.4 1547.9L757.6 1554.2L727.7 1560.6L697.8 1566.9L667.9 1573.1L638.1 1579.4L608.2 1585.7L578.3 1591.9L548.4 1598.1L518.5 1604.3L488.7 1610.5Z"/>
<path class="ml" d="M480.6 1609.8L488.7 1610.5M570.3 1592.4L578.3 1591.9M659.9 1574.9L667.9 1573.1M749.5 1557.2L757.6 1554.2M839.2 1539.3L847.2 1535.2M928.8 1521.2L936.8 1515.9M1018.4 1503L1026.5 1496.5M1108.1 1484.6L1116.1 1477M1197.7 1466.1L1205.7 1457.2M1287.3 1447.4L1295.4 1437.3M1377 1428.5L1385 1417.3"/>
<path class="sf" d="M472.6 1609.7L502.5 1604.3L532.3 1598.9L562.2 1593.5L592.1 1588L622 1582.6L651.9 1577.1L681.7 1571.6L711.6 1566.1L741.5 1560.6L771.4 1555L801.2 1549.5L831.1 1543.9L861 1538.3L890.9 1532.6L920.8 1527L950.6 1521.3L980.5 1515.7L1010.4 1510L1040.3 1504.3L1070.1 1498.5L1100 1492.8L1129.9 1487L1159.8 1481.2L1189.7 1475.4L1219.5 1469.6L1249.4 1463.8L1279.3 1457.9L1309.2 1452L1339 1446.1L1368.9 1440.2L1377 1428.5L1347.1 1434.8L1317.2 1441.1L1287.3 1447.4L1257.4 1453.6L1227.6 1459.9L1197.7 1466.1L1167.8 1472.3L1137.9 1478.5L1108.1 1484.6L1078.2 1490.8L1048.3 1496.9L1018.4 1503L988.5 1509.1L958.7 1515.2L928.8 1521.2L898.9 1527.3L869 1533.3L839.2 1539.3L809.3 1545.2L779.4 1551.2L749.5 1557.2L719.6 1563.1L689.8 1569L659.9 1574.9L630 1580.7L600.1 1586.6L570.3 1592.4L540.4 1598.2L510.5 1604L480.6 1609.8Z"/>
<path class="ml" d="M472.6 1609.7L480.6 1609.8M562.2 1593.5L570.3 1592.4M651.9 1577.1L659.9 1574.9M741.5 1560.6L749.5 1557.2M831.1 1543.9L839.2 1539.3M920.8 1527L928.8 1521.2M1010.4 1510L1018.4 1503M1100 1492.8L1108.1 1484.6M1189.7 1475.4L1197.7 1466.1M1279.3 1457.9L1287.3 1447.4M1368.9 1440.2L1377 1428.5"/>
<path class="sf" d="M464.5 1610.1L494.4 1605.1L524.3 1600.1L554.2 1595L584.1 1590L613.9 1584.9L643.8 1579.9L673.7 1574.8L703.6 1569.6L733.4 1564.5L763.3 1559.4L793.2 1554.2L823.1 1549L853 1543.8L882.8 1538.6L912.7 1533.3L942.6 1528L972.5 1522.8L1002.3 1517.5L1032.2 1512.1L1062.1 1506.8L1092 1501.5L1121.9 1496.1L1151.7 1490.7L1181.6 1485.3L1211.5 1479.9L1241.4 1474.4L1271.2 1468.9L1301.1 1463.5L1331 1458L1360.9 1452.4L1368.9 1440.2L1339 1446.1L1309.2 1452L1279.3 1457.9L1249.4 1463.8L1219.5 1469.6L1189.7 1475.4L1159.8 1481.2L1129.9 1487L1100 1492.8L1070.1 1498.5L1040.3 1504.3L1010.4 1510L980.5 1515.7L950.6 1521.3L920.8 1527L890.9 1532.6L861 1538.3L831.1 1543.9L801.2 1549.5L771.4 1555L741.5 1560.6L711.6 1566.1L681.7 1571.6L651.9 1577.1L622 1582.6L592.1 1588L562.2 1593.5L532.3 1598.9L502.5 1604.3L472.6 1609.7Z"/>
<path class="ml" d="M464.5 1610.1L472.6 1609.7M554.2 1595L562.2 1593.5M643.8 1579.9L651.9 1577.1M733.4 1564.5L741.5 1560.6M823.1 1549L831.1 1543.9M912.7 1533.3L920.8 1527M1002.3 1517.5L1010.4 1510M1092 1501.5L1100 1492.8M1181.6 1485.3L1189.7 1475.4M1271.2 1468.9L1279.3 1457.9M1360.9 1452.4L1368.9 1440.2M464.5 1610.1L494.4 1605.1L524.3 1600.1L554.2 1595L584.1 1590L613.9 1584.9L643.8 1579.9L673.7 1574.8L703.6 1569.6L733.4 1564.5L763.3 1559.4L793.2 1554.2L823.1 1549L853 1543.8L882.8 1538.6L912.7 1533.3L942.6 1528L972.5 1522.8L1002.3 1517.5L1032.2 1512.1L1062.1 1506.8L1092 1501.5L1121.9 1496.1L1151.7 1490.7L1181.6 1485.3L1211.5 1479.9L1241.4 1474.4L1271.2 1468.9L1301.1 1463.5L1331 1458L1360.9 1452.4"/>
<path class="sf" d="M456.5 1610.9L486.4 1606.3L516.3 1601.7L546.1 1597.1L576 1592.5L605.9 1587.8L635.8 1583.1L665.7 1578.4L695.5 1573.7L725.4 1568.9L755.3 1564.2L785.2 1559.4L815 1554.6L844.9 1549.8L874.8 1545L904.7 1540.1L934.6 1535.3L964.4 1530.4L994.3 1525.5L1024.2 1520.5L1054.1 1515.6L1083.9 1510.6L1113.8 1505.7L1143.7 1500.7L1173.6 1495.7L1203.5 1490.6L1233.3 1485.6L1263.2 1480.5L1293.1 1475.4L1323 1470.3L1352.8 1465.2L1360.9 1452.4L1331 1458L1301.1 1463.5L1271.2 1468.9L1241.4 1474.4L1211.5 1479.9L1181.6 1485.3L1151.7 1490.7L1121.9 1496.1L1092 1501.5L1062.1 1506.8L1032.2 1512.1L1002.3 1517.5L972.5 1522.8L942.6 1528L912.7 1533.3L882.8 1538.6L853 1543.8L823.1 1549L793.2 1554.2L763.3 1559.4L733.4 1564.5L703.6 1569.6L673.7 1574.8L643.8 1579.9L613.9 1584.9L584.1 1590L554.2 1595L524.3 1600.1L494.4 1605.1L464.5 1610.1Z"/>
<path class="ml" d="M456.5 1610.9L464.5 1610.1M546.1 1597.1L554.2 1595M635.8 1583.1L643.8 1579.9M725.4 1568.9L733.4 1564.5M815 1554.6L823.1 1549M904.7 1540.1L912.7 1533.3M994.3 1525.5L1002.3 1517.5M1083.9 1510.6L1092 1501.5M1173.6 1495.7L1181.6 1485.3M1263.2 1480.5L1271.2 1468.9M1352.8 1465.2L1360.9 1452.4M464.5 1610.1L494.4 1605.1L524.3 1600.1L554.2 1595L584.1 1590L613.9 1584.9L643.8 1579.9L673.7 1574.8L703.6 1569.6L733.4 1564.5L763.3 1559.4L793.2 1554.2L823.1 1549L853 1543.8L882.8 1538.6L912.7 1533.3L942.6 1528L972.5 1522.8L1002.3 1517.5L1032.2 1512.1L1062.1 1506.8L1092 1501.5L1121.9 1496.1L1151.7 1490.7L1181.6 1485.3L1211.5 1479.9L1241.4 1474.4L1271.2 1468.9L1301.1 1463.5L1331 1458L1360.9 1452.4"/>
<path class="sf" d="M448.5 1612.3L478.3 1608.1L508.2 1603.9L538.1 1599.7L568 1595.4L597.9 1591.2L627.7 1586.9L657.6 1582.6L687.5 1578.2L717.4 1573.9L747.2 1569.5L777.1 1565.2L807 1560.8L836.9 1556.3L866.8 1551.9L896.6 1547.5L926.5 1543L956.4 1538.5L986.3 1534L1016.1 1529.5L1046 1524.9L1075.9 1520.3L1105.8 1515.8L1135.7 1511.2L1165.5 1506.5L1195.4 1501.9L1225.3 1497.2L1255.2 1492.6L1285 1487.9L1314.9 1483.2L1344.8 1478.4L1352.8 1465.2L1323 1470.3L1293.1 1475.4L1263.2 1480.5L1233.3 1485.6L1203.5 1490.6L1173.6 1495.7L1143.7 1500.7L1113.8 1505.7L1083.9 1510.6L1054.1 1515.6L1024.2 1520.5L994.3 1525.5L964.4 1530.4L934.6 1535.3L904.7 1540.1L874.8 1545L844.9 1549.8L815 1554.6L785.2 1559.4L755.3 1564.2L725.4 1568.9L695.5 1573.7L665.7 1578.4L635.8 1583.1L605.9 1587.8L576 1592.5L546.1 1597.1L516.3 1601.7L486.4 1606.3L456.5 1610.9Z"/>
<path class="ml" d="M448.5 1612.3L456.5 1610.9M538.1 1599.7L546.1 1597.1M627.7 1586.9L635.8 1583.1M717.4 1573.9L725.4 1568.9M807 1560.8L815 1554.6M896.6 1547.5L904.7 1540.1M986.3 1534L994.3 1525.5M1075.9 1520.3L1083.9 1510.6M1165.5 1506.5L1173.6 1495.7M1255.2 1492.6L1263.2 1480.5M1344.8 1478.4L1352.8 1465.2"/>
<path class="sf" d="M440.4 1614.2L470.3 1610.4L500.2 1606.6L530.1 1602.8L559.9 1598.9L589.8 1595L619.7 1591.2L649.6 1587.2L679.5 1583.3L709.3 1579.4L739.2 1575.4L769.1 1571.4L799 1567.4L828.8 1563.4L858.7 1559.3L888.6 1555.3L918.5 1551.2L948.4 1547.1L978.2 1543L1008.1 1538.9L1038 1534.7L1067.9 1530.6L1097.7 1526.4L1127.6 1522.2L1157.5 1517.9L1187.4 1513.7L1217.3 1509.4L1247.1 1505.2L1277 1500.9L1306.9 1496.5L1336.8 1492.2L1344.8 1478.4L1314.9 1483.2L1285 1487.9L1255.2 1492.6L1225.3 1497.2L1195.4 1501.9L1165.5 1506.5L1135.7 1511.2L1105.8 1515.8L1075.9 1520.3L1046 1524.9L1016.1 1529.5L986.3 1534L956.4 1538.5L926.5 1543L896.6 1547.5L866.8 1551.9L836.9 1556.3L807 1560.8L777.1 1565.2L747.2 1569.5L717.4 1573.9L687.5 1578.2L657.6 1582.6L627.7 1586.9L597.9 1591.2L568 1595.4L538.1 1599.7L508.2 1603.9L478.3 1608.1L448.5 1612.3Z"/>
<path class="ml" d="M440.4 1614.2L448.5 1612.3M530.1 1602.8L538.1 1599.7M619.7 1591.2L627.7 1586.9M709.3 1579.4L717.4 1573.9M799 1567.4L807 1560.8M888.6 1555.3L896.6 1547.5M978.2 1543L986.3 1534M1067.9 1530.6L1075.9 1520.3M1157.5 1517.9L1165.5 1506.5M1247.1 1505.2L1255.2 1492.6M1336.8 1492.2L1344.8 1478.4"/>
<path class="sf" d="M432.4 1616.7L462.3 1613.2L492.1 1609.8L522 1606.4L551.9 1602.9L581.8 1599.4L611.7 1595.9L641.5 1592.4L671.4 1588.9L701.3 1585.3L731.2 1581.8L761 1578.2L790.9 1574.6L820.8 1570.9L850.7 1567.3L880.6 1563.6L910.4 1560L940.3 1556.3L970.2 1552.5L1000.1 1548.8L1029.9 1545L1059.8 1541.3L1089.7 1537.5L1119.6 1533.7L1149.5 1529.8L1179.3 1526L1209.2 1522.1L1239.1 1518.2L1269 1514.3L1298.8 1510.4L1328.7 1506.5L1336.8 1492.2L1306.9 1496.5L1277 1500.9L1247.1 1505.2L1217.3 1509.4L1187.4 1513.7L1157.5 1517.9L1127.6 1522.2L1097.7 1526.4L1067.9 1530.6L1038 1534.7L1008.1 1538.9L978.2 1543L948.4 1547.1L918.5 1551.2L888.6 1555.3L858.7 1559.3L828.8 1563.4L799 1567.4L769.1 1571.4L739.2 1575.4L709.3 1579.4L679.5 1583.3L649.6 1587.2L619.7 1591.2L589.8 1595L559.9 1598.9L530.1 1602.8L500.2 1606.6L470.3 1610.4L440.4 1614.2Z"/>
<path class="ml" d="M432.4 1616.7L440.4 1614.2M522 1606.4L530.1 1602.8M611.7 1595.9L619.7 1591.2M701.3 1585.3L709.3 1579.4M790.9 1574.6L799 1567.4M880.6 1563.6L888.6 1555.3M970.2 1552.5L978.2 1543M1059.8 1541.3L1067.9 1530.6M1149.5 1529.8L1157.5 1517.9M1239.1 1518.2L1247.1 1505.2M1328.7 1506.5L1336.8 1492.2M432.4 1616.7L462.3 1613.2L492.1 1609.8L522 1606.4L551.9 1602.9L581.8 1599.4L611.7 1595.9L641.5 1592.4L671.4 1588.9L701.3 1585.3L731.2 1581.8L761 1578.2L790.9 1574.6L820.8 1570.9L850.7 1567.3L880.6 1563.6L910.4 1560L940.3 1556.3L970.2 1552.5L1000.1 1548.8L1029.9 1545L1059.8 1541.3L1089.7 1537.5L1119.6 1533.7L1149.5 1529.8L1179.3 1526L1209.2 1522.1L1239.1 1518.2L1269 1514.3L1298.8 1510.4L1328.7 1506.5"/>
<path class="sf" d="M424.4 1619.6L454.2 1616.6L484.1 1613.5L514 1610.5L543.9 1607.4L573.7 1604.3L603.6 1601.2L633.5 1598.1L663.4 1595L693.3 1591.8L723.1 1588.7L753 1585.5L782.9 1582.2L812.8 1579L842.6 1575.8L872.5 1572.5L902.4 1569.2L932.3 1565.9L962.2 1562.6L992 1559.2L1021.9 1555.9L1051.8 1552.5L1081.7 1549.1L1111.5 1545.7L1141.4 1542.3L1171.3 1538.8L1201.2 1535.3L1231.1 1531.8L1260.9 1528.3L1290.8 1524.8L1320.7 1521.3L1328.7 1506.5L1298.8 1510.4L1269 1514.3L1239.1 1518.2L1209.2 1522.1L1179.3 1526L1149.5 1529.8L1119.6 1533.7L1089.7 1537.5L1059.8 1541.3L1029.9 1545L1000.1 1548.8L970.2 1552.5L940.3 1556.3L910.4 1560L880.6 1563.6L850.7 1567.3L820.8 1570.9L790.9 1574.6L761 1578.2L731.2 1581.8L701.3 1585.3L671.4 1588.9L641.5 1592.4L611.7 1595.9L581.8 1599.4L551.9 1602.9L522 1606.4L492.1 1609.8L462.3 1613.2L432.4 1616.7Z"/>
<path class="ml" d="M424.4 1619.6L432.4 1616.7M514 1610.5L522 1606.4M603.6 1601.2L611.7 1595.9M693.3 1591.8L701.3 1585.3M782.9 1582.2L790.9 1574.6M872.5 1572.5L880.6 1563.6M962.2 1562.6L970.2 1552.5M1051.8 1552.5L1059.8 1541.3M1141.4 1542.3L1149.5 1529.8M1231.1 1531.8L1239.1 1518.2M1320.7 1521.3L1328.7 1506.5M432.4 1616.7L462.3 1613.2L492.1 1609.8L522 1606.4L551.9 1602.9L581.8 1599.4L611.7 1595.9L641.5 1592.4L671.4 1588.9L701.3 1585.3L731.2 1581.8L761 1578.2L790.9 1574.6L820.8 1570.9L850.7 1567.3L880.6 1563.6L910.4 1560L940.3 1556.3L970.2 1552.5L1000.1 1548.8L1029.9 1545L1059.8 1541.3L1089.7 1537.5L1119.6 1533.7L1149.5 1529.8L1179.3 1526L1209.2 1522.1L1239.1 1518.2L1269 1514.3L1298.8 1510.4L1328.7 1506.5"/>
<path class="sf" d="M416.3 1623L446.2 1620.4L476.1 1617.8L505.9 1615.1L535.8 1612.5L565.7 1609.8L595.6 1607.1L625.5 1604.3L655.3 1601.6L685.2 1598.8L715.1 1596L745 1593.2L774.8 1590.4L804.7 1587.6L834.6 1584.7L864.5 1581.9L894.4 1579L924.2 1576.1L954.1 1573.1L984 1570.2L1013.9 1567.2L1043.7 1564.2L1073.6 1561.2L1103.5 1558.2L1133.4 1555.2L1163.3 1552.1L1193.1 1549.1L1223 1546L1252.9 1542.9L1282.8 1539.7L1312.6 1536.6L1320.7 1521.3L1290.8 1524.8L1260.9 1528.3L1231.1 1531.8L1201.2 1535.3L1171.3 1538.8L1141.4 1542.3L1111.5 1545.7L1081.7 1549.1L1051.8 1552.5L1021.9 1555.9L992 1559.2L962.2 1562.6L932.3 1565.9L902.4 1569.2L872.5 1572.5L842.6 1575.8L812.8 1579L782.9 1582.2L753 1585.5L723.1 1588.7L693.3 1591.8L663.4 1595L633.5 1598.1L603.6 1601.2L573.7 1604.3L543.9 1607.4L514 1610.5L484.1 1613.5L454.2 1616.6L424.4 1619.6Z"/>
<path class="ml" d="M416.3 1623L424.4 1619.6M505.9 1615.1L514 1610.5M595.6 1607.1L603.6 1601.2M685.2 1598.8L693.3 1591.8M774.8 1590.4L782.9 1582.2M864.5 1581.9L872.5 1572.5M954.1 1573.1L962.2 1562.6M1043.7 1564.2L1051.8 1552.5M1133.4 1555.2L1141.4 1542.3M1223 1546L1231.1 1531.8M1312.6 1536.6L1320.7 1521.3"/>
<path class="sf" d="M408.3 1627L438.2 1624.8L468 1622.5L497.9 1620.3L527.8 1618L557.7 1615.7L587.5 1613.4L617.4 1611.1L647.3 1608.7L677.2 1606.3L707.1 1603.9L736.9 1601.5L766.8 1599.1L796.7 1596.7L826.6 1594.2L856.4 1591.7L886.3 1589.3L916.2 1586.7L946.1 1584.2L976 1581.7L1005.8 1579.1L1035.7 1576.5L1065.6 1573.9L1095.5 1571.3L1125.3 1568.6L1155.2 1566L1185.1 1563.3L1215 1560.6L1244.9 1557.9L1274.7 1555.1L1304.6 1552.4L1312.6 1536.6L1282.8 1539.7L1252.9 1542.9L1223 1546L1193.1 1549.1L1163.3 1552.1L1133.4 1555.2L1103.5 1558.2L1073.6 1561.2L1043.7 1564.2L1013.9 1567.2L984 1570.2L954.1 1573.1L924.2 1576.1L894.4 1579L864.5 1581.9L834.6 1584.7L804.7 1587.6L774.8 1590.4L745 1593.2L715.1 1596L685.2 1598.8L655.3 1601.6L625.5 1604.3L595.6 1607.1L565.7 1609.8L535.8 1612.5L505.9 1615.1L476.1 1617.8L446.2 1620.4L416.3 1623Z"/>
<path class="ml" d="M408.3 1627L416.3 1623M497.9 1620.3L505.9 1615.1M587.5 1613.4L595.6 1607.1M677.2 1606.3L685.2 1598.8M766.8 1599.1L774.8 1590.4M856.4 1591.7L864.5 1581.9M946.1 1584.2L954.1 1573.1M1035.7 1576.5L1043.7 1564.2M1125.3 1568.6L1133.4 1555.2M1215 1560.6L1223 1546M1304.6 1552.4L1312.6 1536.6"/>
<path class="sf" d="M400.2 1631.4L430.1 1629.6L460 1627.8L489.9 1625.9L519.7 1624L549.6 1622.1L579.5 1620.2L609.4 1618.3L639.3 1616.3L669.1 1614.4L699 1612.4L728.9 1610.4L758.8 1608.3L788.6 1606.3L818.5 1604.2L848.4 1602.1L878.3 1600L908.2 1597.9L938 1595.8L967.9 1593.6L997.8 1591.5L1027.7 1589.3L1057.5 1587.1L1087.4 1584.8L1117.3 1582.6L1147.2 1580.3L1177.1 1578L1206.9 1575.7L1236.8 1573.4L1266.7 1571.1L1296.6 1568.7L1304.6 1552.4L1274.7 1555.1L1244.9 1557.9L1215 1560.6L1185.1 1563.3L1155.2 1566L1125.3 1568.6L1095.5 1571.3L1065.6 1573.9L1035.7 1576.5L1005.8 1579.1L976 1581.7L946.1 1584.2L916.2 1586.7L886.3 1589.3L856.4 1591.7L826.6 1594.2L796.7 1596.7L766.8 1599.1L736.9 1601.5L707.1 1603.9L677.2 1606.3L647.3 1608.7L617.4 1611.1L587.5 1613.4L557.7 1615.7L527.8 1618L497.9 1620.3L468 1622.5L438.2 1624.8L408.3 1627Z"/>
<path class="ml" d="M400.2 1631.4L408.3 1627M489.9 1625.9L497.9 1620.3M579.5 1620.2L587.5 1613.4M669.1 1614.4L677.2 1606.3M758.8 1608.3L766.8 1599.1M848.4 1602.1L856.4 1591.7M938 1595.8L946.1 1584.2M1027.7 1589.3L1035.7 1576.5M1117.3 1582.6L1125.3 1568.6M1206.9 1575.7L1215 1560.6M1296.6 1568.7L1304.6 1552.4M400.2 1631.4L430.1 1629.6L460 1627.8L489.9 1625.9L519.7 1624L549.6 1622.1L579.5 1620.2L609.4 1618.3L639.3 1616.3L669.1 1614.4L699 1612.4L728.9 1610.4L758.8 1608.3L788.6 1606.3L818.5 1604.2L848.4 1602.1L878.3 1600L908.2 1597.9L938 1595.8L967.9 1593.6L997.8 1591.5L1027.7 1589.3L1057.5 1587.1L1087.4 1584.8L1117.3 1582.6L1147.2 1580.3L1177.1 1578L1206.9 1575.7L1236.8 1573.4L1266.7 1571.1L1296.6 1568.7"/>
<path class="sf" d="M392.2 1636.4L422.1 1635L452 1633.5L481.8 1632.1L511.7 1630.6L541.6 1629.1L571.5 1627.6L601.3 1626L631.2 1624.5L661.1 1622.9L691 1621.3L720.9 1619.7L750.7 1618L780.6 1616.4L810.5 1614.7L840.4 1613L870.2 1611.3L900.1 1609.6L930 1607.9L959.9 1606.1L989.8 1604.3L1019.6 1602.5L1049.5 1600.7L1079.4 1598.9L1109.3 1597L1139.1 1595.2L1169 1593.3L1198.9 1591.4L1228.8 1589.5L1258.7 1587.5L1288.5 1585.5L1296.6 1568.7L1266.7 1571.1L1236.8 1573.4L1206.9 1575.7L1177.1 1578L1147.2 1580.3L1117.3 1582.6L1087.4 1584.8L1057.5 1587.1L1027.7 1589.3L997.8 1591.5L967.9 1593.6L938 1595.8L908.2 1597.9L878.3 1600L848.4 1602.1L818.5 1604.2L788.6 1606.3L758.8 1608.3L728.9 1610.4L699 1612.4L669.1 1614.4L639.3 1616.3L609.4 1618.3L579.5 1620.2L549.6 1622.1L519.7 1624L489.9 1625.9L460 1627.8L430.1 1629.6L400.2 1631.4Z"/>
<path class="ml" d="M392.2 1636.4L400.2 1631.4M481.8 1632.1L489.9 1625.9M571.5 1627.6L579.5 1620.2M661.1 1622.9L669.1 1614.4M750.7 1618L758.8 1608.3M840.4 1613L848.4 1602.1M930 1607.9L938 1595.8M1019.6 1602.5L1027.7 1589.3M1109.3 1597L1117.3 1582.6M1198.9 1591.4L1206.9 1575.7M1288.5 1585.5L1296.6 1568.7M400.2 1631.4L430.1 1629.6L460 1627.8L489.9 1625.9L519.7 1624L549.6 1622.1L579.5 1620.2L609.4 1618.3L639.3 1616.3L669.1 1614.4L699 1612.4L728.9 1610.4L758.8 1608.3L788.6 1606.3L818.5 1604.2L848.4 1602.1L878.3 1600L908.2 1597.9L938 1595.8L967.9 1593.6L997.8 1591.5L1027.7 1589.3L1057.5 1587.1L1087.4 1584.8L1117.3 1582.6L1147.2 1580.3L1177.1 1578L1206.9 1575.7L1236.8 1573.4L1266.7 1571.1L1296.6 1568.7"/>
<path class="sf" d="M384.2 1641.9L414 1640.9L443.9 1639.8L473.8 1638.7L503.7 1637.7L533.5 1636.5L563.4 1635.4L593.3 1634.3L623.2 1633.1L653.1 1631.9L682.9 1630.7L712.8 1629.5L742.7 1628.3L772.6 1627L802.4 1625.8L832.3 1624.5L862.2 1623.2L892.1 1621.8L922 1620.5L951.8 1619.1L981.7 1617.7L1011.6 1616.3L1041.5 1614.9L1071.3 1613.5L1101.2 1612L1131.1 1610.5L1161 1609L1190.9 1607.5L1220.7 1606L1250.6 1604.5L1280.5 1602.9L1288.5 1585.5L1258.7 1587.5L1228.8 1589.5L1198.9 1591.4L1169 1593.3L1139.1 1595.2L1109.3 1597L1079.4 1598.9L1049.5 1600.7L1019.6 1602.5L989.8 1604.3L959.9 1606.1L930 1607.9L900.1 1609.6L870.2 1611.3L840.4 1613L810.5 1614.7L780.6 1616.4L750.7 1618L720.9 1619.7L691 1621.3L661.1 1622.9L631.2 1624.5L601.3 1626L571.5 1627.6L541.6 1629.1L511.7 1630.6L481.8 1632.1L452 1633.5L422.1 1635L392.2 1636.4Z"/>
<path class="ml" d="M384.2 1641.9L392.2 1636.4M473.8 1638.7L481.8 1632.1M563.4 1635.4L571.5 1627.6M653.1 1631.9L661.1 1622.9M742.7 1628.3L750.7 1618M832.3 1624.5L840.4 1613M922 1620.5L930 1607.9M1011.6 1616.3L1019.6 1602.5M1101.2 1612L1109.3 1597M1190.9 1607.5L1198.9 1591.4M1280.5 1602.9L1288.5 1585.5"/>
<path class="sf" d="M376.1 1647.9L406 1647.3L435.9 1646.6L465.8 1645.9L495.6 1645.2L525.5 1644.5L555.4 1643.8L585.3 1643L615.1 1642.3L645 1641.5L674.9 1640.7L704.8 1639.9L734.7 1639L764.5 1638.2L794.4 1637.3L824.3 1636.4L854.2 1635.5L884 1634.5L913.9 1633.6L943.8 1632.6L973.7 1631.6L1003.6 1630.6L1033.4 1629.6L1063.3 1628.6L1093.2 1627.5L1123.1 1626.4L1152.9 1625.3L1182.8 1624.2L1212.7 1623.1L1242.6 1621.9L1272.5 1620.7L1280.5 1602.9L1250.6 1604.5L1220.7 1606L1190.9 1607.5L1161 1609L1131.1 1610.5L1101.2 1612L1071.3 1613.5L1041.5 1614.9L1011.6 1616.3L981.7 1617.7L951.8 1619.1L922 1620.5L892.1 1621.8L862.2 1623.2L832.3 1624.5L802.4 1625.8L772.6 1627L742.7 1628.3L712.8 1629.5L682.9 1630.7L653.1 1631.9L623.2 1633.1L593.3 1634.3L563.4 1635.4L533.5 1636.5L503.7 1637.7L473.8 1638.7L443.9 1639.8L414 1640.9L384.2 1641.9Z"/>
<path class="ml" d="M376.1 1647.9L384.2 1641.9M465.8 1645.9L473.8 1638.7M555.4 1643.8L563.4 1635.4M645 1641.5L653.1 1631.9M734.7 1639L742.7 1628.3M824.3 1636.4L832.3 1624.5M913.9 1633.6L922 1620.5M1003.6 1630.6L1011.6 1616.3M1093.2 1627.5L1101.2 1612M1182.8 1624.2L1190.9 1607.5M1272.5 1620.7L1280.5 1602.9"/>
<path class="sf" d="M368.1 1654.4L398 1654.2L427.8 1653.9L457.7 1653.6L487.6 1653.3L517.5 1653L547.4 1652.7L577.2 1652.3L607.1 1651.9L637 1651.6L666.9 1651.1L696.7 1650.7L726.6 1650.3L756.5 1649.8L786.4 1649.3L816.2 1648.8L846.1 1648.3L876 1647.8L905.9 1647.2L935.8 1646.6L965.6 1646L995.5 1645.4L1025.4 1644.8L1055.3 1644.2L1085.1 1643.5L1115 1642.8L1144.9 1642.1L1174.8 1641.4L1204.7 1640.6L1234.5 1639.9L1264.4 1639.1L1272.5 1620.7L1242.6 1621.9L1212.7 1623.1L1182.8 1624.2L1152.9 1625.3L1123.1 1626.4L1093.2 1627.5L1063.3 1628.6L1033.4 1629.6L1003.6 1630.6L973.7 1631.6L943.8 1632.6L913.9 1633.6L884 1634.5L854.2 1635.5L824.3 1636.4L794.4 1637.3L764.5 1638.2L734.7 1639L704.8 1639.9L674.9 1640.7L645 1641.5L615.1 1642.3L585.3 1643L555.4 1643.8L525.5 1644.5L495.6 1645.2L465.8 1645.9L435.9 1646.6L406 1647.3L376.1 1647.9Z"/>
<path class="ml" d="M368.1 1654.4L376.1 1647.9M457.7 1653.6L465.8 1645.9M547.4 1652.7L555.4 1643.8M637 1651.6L645 1641.5M726.6 1650.3L734.7 1639M816.2 1648.8L824.3 1636.4M905.9 1647.2L913.9 1633.6M995.5 1645.4L1003.6 1630.6M1085.1 1643.5L1093.2 1627.5M1174.8 1641.4L1182.8 1624.2M1264.4 1639.1L1272.5 1620.7M368.1 1654.4L398 1654.2L427.8 1653.9L457.7 1653.6L487.6 1653.3L517.5 1653L547.4 1652.7L577.2 1652.3L607.1 1651.9L637 1651.6L666.9 1651.1L696.7 1650.7L726.6 1650.3L756.5 1649.8L786.4 1649.3L816.2 1648.8L846.1 1648.3L876 1647.8L905.9 1647.2L935.8 1646.6L965.6 1646L995.5 1645.4L1025.4 1644.8L1055.3 1644.2L1085.1 1643.5L1115 1642.8L1144.9 1642.1L1174.8 1641.4L1204.7 1640.6L1234.5 1639.9L1264.4 1639.1"/>
</g>
<path class="ml" d="M368.1 1654.4L398 1654.2L427.8 1653.9L457.7 1653.6L487.6 1653.3L517.5 1653L547.4 1652.7L577.2 1652.3L607.1 1651.9L637 1651.6L666.9 1651.1L696.7 1650.7L726.6 1650.3L756.5 1649.8L786.4 1649.3L816.2 1648.8L846.1 1648.3L876 1647.8L905.9 1647.2L935.8 1646.6L965.6 1646L995.5 1645.4L1025.4 1644.8L1055.3 1644.2L1085.1 1643.5L1115 1642.8L1144.9 1642.1L1174.8 1641.4L1204.7 1640.6L1234.5 1639.9L1264.4 1639.1"/>
<path class="bx" d="M330 1784.2L330 1356.2"/>
<path class="bx" d="M330 1784.2L1278.5 1834.9"/>
<path class="bx" d="M1278.5 1834.9L1625 1692.2"/>
<path class="bx" d="M1278.5 1834.9L1278.5 1406.9"/>
<path class="bx" d="M330 1356.2L1278.5 1406.9"/>
<path class="bx" d="M330 1356.2L676.5 1213.5"/>
<path class="bx" d="M676.5 1213.5L1625 1264.2"/>
<path class="bx" d="M1278.5 1406.9L1625 1264.2"/>
<path class="tk" d="M330 1784.2l16 0M330 1767.1l9 0M330 1750l9 0M330 1732.8l9 0M330 1715.7l9 0M330 1698.6l16 0M330 1681.5l9 0M330 1664.4l9 0M330 1647.2l9 0M330 1630.1l9 0M330 1613l16 0M330 1595.9l9 0M330 1578.8l9 0M330 1561.6l9 0M330 1544.5l9 0M330 1527.4l16 0M330 1510.3l9 0M330 1493.2l9 0M330 1476l9 0M330 1458.9l9 0M330 1441.8l16 0M330 1424.7l9 0M330 1407.6l9 0M330 1390.4l9 0M330 1373.3l9 0M330 1356.2l16 0"/>
<path class="tk" d="M1278.5 1834.9l-16 0M1278.5 1817.8l-9 0M1278.5 1800.7l-9 0M1278.5 1783.5l-9 0M1278.5 1766.4l-9 0M1278.5 1749.3l-16 0M1278.5 1732.2l-9 0M1278.5 1715.1l-9 0M1278.5 1697.9l-9 0M1278.5 1680.8l-9 0M1278.5 1663.7l-16 0M1278.5 1646.6l-9 0M1278.5 1629.5l-9 0M1278.5 1612.3l-9 0M1278.5 1595.2l-9 0M1278.5 1578.1l-16 0M1278.5 1561l-9 0M1278.5 1543.9l-9 0M1278.5 1526.7l-9 0M1278.5 1509.6l-9 0M1278.5 1492.5l-16 0M1278.5 1475.4l-9 0M1278.5 1458.3l-9 0M1278.5 1441.1l-9 0M1278.5 1424l-9 0M1278.5 1406.9l-16 0"/>
<path class="tk" d="M330 1784.2l12.9 -5.3M367.9 1786.2l7.4 -3M405.9 1788.3l7.4 -3M443.8 1790.3l7.4 -3M481.8 1792.3l7.4 -3M519.7 1794.3l12.9 -5.3M557.6 1796.4l7.4 -3M595.6 1798.4l7.4 -3M633.5 1800.4l7.4 -3M671.5 1802.5l7.4 -3M709.4 1804.5l12.9 -5.3M747.3 1806.5l7.4 -3M785.3 1808.5l7.4 -3M823.2 1810.6l7.4 -3M861.2 1812.6l7.4 -3M899.1 1814.6l12.9 -5.3M937 1816.6l7.4 -3M975 1818.7l7.4 -3M1012.9 1820.7l7.4 -3M1050.9 1822.7l7.4 -3M1088.8 1824.8l12.9 -5.3M1126.7 1826.8l7.4 -3M1164.7 1828.8l7.4 -3M1202.6 1830.8l7.4 -3M1240.6 1832.9l7.4 -3M1278.5 1834.9l12.9 -5.3"/>
<path class="tk" d="M1278.5 1834.9l-14 -0.7M1291.8 1829.4l-8 -0.4M1305.2 1823.9l-14 -0.7M1318.5 1818.4l-8 -0.4M1331.8 1812.9l-14 -0.7M1345.1 1807.5l-8 -0.4M1358.5 1802l-14 -0.7M1371.8 1796.5l-8 -0.4M1385.1 1791l-14 -0.7M1398.4 1785.5l-8 -0.4M1411.8 1780l-14 -0.7M1425.1 1774.5l-8 -0.4M1438.4 1769l-14 -0.7M1451.8 1763.6l-8 -0.4M1465.1 1758.1l-14 -0.7M1478.4 1752.6l-8 -0.4M1491.7 1747.1l-14 -0.7M1505.1 1741.6l-8 -0.4M1518.4 1736.1l-14 -0.7M1531.7 1730.6l-8 -0.4M1545 1725.1l-14 -0.7M1558.4 1719.6l-8 -0.4M1571.7 1714.2l-14 -0.7M1585 1708.7l-8 -0.4M1598.3 1703.2l-14 -0.7M1611.7 1697.7l-8 -0.4M1625 1692.2l-14 -0.7"/>
<path class="tk" d="M330 1356.2l14 0.7M343.3 1350.7l8 0.4M356.7 1345.2l14 0.7M370 1339.7l8 0.4M383.3 1334.2l14 0.7M396.6 1328.8l8 0.4M410 1323.3l14 0.7M423.3 1317.8l8 0.4M436.6 1312.3l14 0.7M449.9 1306.8l8 0.4M463.3 1301.3l14 0.7M476.6 1295.8l8 0.4M489.9 1290.3l14 0.7M503.2 1284.8l8 0.4M516.6 1279.4l14 0.7M529.9 1273.9l8 0.4M543.2 1268.4l14 0.7M556.6 1262.9l8 0.4M569.9 1257.4l14 0.7M583.2 1251.9l8 0.4M596.5 1246.4l14 0.7M609.9 1240.9l8 0.4M623.2 1235.5l14 0.7M636.5 1230l8 0.4M649.8 1224.5l14 0.7M663.2 1219l8 0.4M676.5 1213.5l14 0.7"/>
<path class="tk" d="M676.5 1213.5l-12.9 5.3M714.4 1215.5l-7.4 3M752.4 1217.6l-7.4 3M790.3 1219.6l-7.4 3M828.3 1221.6l-7.4 3M866.2 1223.6l-12.9 5.3M904.1 1225.7l-7.4 3M942.1 1227.7l-7.4 3M980 1229.7l-7.4 3M1018 1231.8l-7.4 3M1055.9 1233.8l-12.9 5.3M1093.8 1235.8l-7.4 3M1131.8 1237.8l-7.4 3M1169.7 1239.9l-7.4 3M1207.7 1241.9l-7.4 3M1245.6 1243.9l-12.9 5.3M1283.5 1245.9l-7.4 3M1321.5 1248l-7.4 3M1359.4 1250l-7.4 3M1397.4 1252l-7.4 3M1435.3 1254.1l-12.9 5.3M1473.2 1256.1l-7.4 3M1511.2 1258.1l-7.4 3M1549.1 1260.1l-7.4 3M1587.1 1262.2l-7.4 3M1625 1264.2l-12.9 5.3"/>
<path class="tk" d="M1278.5 1406.9l-14 -0.7M1291.8 1401.4l-8 -0.4M1305.2 1395.9l-14 -0.7M1318.5 1390.4l-8 -0.4M1331.8 1384.9l-14 -0.7M1345.1 1379.5l-8 -0.4M1358.5 1374l-14 -0.7M1371.8 1368.5l-8 -0.4M1385.1 1363l-14 -0.7M1398.4 1357.5l-8 -0.4M1411.8 1352l-14 -0.7M1425.1 1346.5l-8 -0.4M1438.4 1341l-14 -0.7M1451.8 1335.6l-8 -0.4M1465.1 1330.1l-14 -0.7M1478.4 1324.6l-8 -0.4M1491.7 1319.1l-14 -0.7M1505.1 1313.6l-8 -0.4M1518.4 1308.1l-14 -0.7M1531.7 1302.6l-8 -0.4M1545 1297.1l-14 -0.7M1558.4 1291.6l-8 -0.4M1571.7 1286.2l-14 -0.7M1585 1280.7l-8 -0.4M1598.3 1275.2l-14 -0.7M1611.7 1269.7l-8 -0.4M1625 1264.2l-14 -0.7"/>
<path class="tk" d="M330 1356.2l12.9 -5.3M367.9 1358.2l7.4 -3M405.9 1360.3l7.4 -3M443.8 1362.3l7.4 -3M481.8 1364.3l7.4 -3M519.7 1366.3l12.9 -5.3M557.6 1368.4l7.4 -3M595.6 1370.4l7.4 -3M633.5 1372.4l7.4 -3M671.5 1374.5l7.4 -3M709.4 1376.5l12.9 -5.3M747.3 1378.5l7.4 -3M785.3 1380.5l7.4 -3M823.2 1382.6l7.4 -3M861.2 1384.6l7.4 -3M899.1 1386.6l12.9 -5.3M937 1388.6l7.4 -3M975 1390.7l7.4 -3M1012.9 1392.7l7.4 -3M1050.9 1394.7l7.4 -3M1088.8 1396.8l12.9 -5.3M1126.7 1398.8l7.4 -3M1164.7 1400.8l7.4 -3M1202.6 1402.8l7.4 -3M1240.6 1404.9l7.4 -3M1278.5 1406.9l12.9 -5.3"/>
<path class="bx" d="M643.1 2690.6L643.1 2238"/>
<path class="tk" d="M643.1 2690.6l16 0M643.1 2672.5l9 0M643.1 2654.4l9 0M643.1 2636.3l9 0M643.1 2618.2l9 0M643.1 2600.1l16 0M643.1 2582l9 0M643.1 2563.9l9 0M643.1 2545.8l9 0M643.1 2527.7l9 0M643.1 2509.6l16 0M643.1 2491.5l9 0M643.1 2473.4l9 0M643.1 2455.2l9 0M643.1 2437.1l9 0M643.1 2419l16 0M643.1 2400.9l9 0M643.1 2382.8l9 0M643.1 2364.7l9 0M643.1 2346.6l9 0M643.1 2328.5l16 0M643.1 2310.4l9 0M643.1 2292.3l9 0M643.1 2274.2l9 0M643.1 2256.1l9 0M643.1 2238l16 0"/>
<path class="bx" d="M1654.6 2745.6L1654.6 2293"/>
<path class="tk" d="M1654.6 2745.6l-16 0M1654.6 2727.5l-9 0M1654.6 2709.4l-9 0M1654.6 2691.3l-9 0M1654.6 2673.2l-9 0M1654.6 2655.1l-16 0M1654.6 2637l-9 0M1654.6 2618.9l-9 0M1654.6 2600.8l-9 0M1654.6 2582.7l-9 0M1654.6 2564.6l-16 0M1654.6 2546.5l-9 0M1654.6 2528.4l-9 0M1654.6 2510.2l-9 0M1654.6 2492.1l-9 0M1654.6 2474l-16 0M1654.6 2455.9l-9 0M1654.6 2437.8l-9 0M1654.6 2419.7l-9 0M1654.6 2401.6l-9 0M1654.6 2383.5l-16 0M1654.6 2365.4l-9 0M1654.6 2347.3l-9 0M1654.6 2329.2l-9 0M1654.6 2311.1l-9 0M1654.6 2293l-16 0"/>
<path class="bx" d="M273.5 2844L306.8 2830.2"/>
<g transform="matrix(964.5000 51.0000 336.9000 -143.5000 310.50 2828.00)">
<rect x="0" y="0.0000" width="1" height="0.0354" fill="url(#gc0)"/>
<rect x="0" y="0.0208" width="1" height="0.0354" fill="url(#gc1)"/>
<rect x="0" y="0.0417" width="1" height="0.0354" fill="url(#gc2)"/>
<rect x="0" y="0.0625" width="1" height="0.0354" fill="url(#gc3)"/>
<rect x="0" y="0.0833" width="1" height="0.0354" fill="url(#gc4)"/>
<rect x="0" y="0.1042" width="1" height="0.0354" fill="url(#gc5)"/>
<rect x="0" y="0.1250" width="1" height="0.0354" fill="url(#gc6)"/>
<rect x="0" y="0.1458" width="1" height="0.0354" fill="url(#gc7)"/>
<rect x="0" y="0.1667" width="1" height="0.0354" fill="url(#gc8)"/>
<rect x="0" y="0.1875" width="1" height="0.0354" fill="url(#gc9)"/>
<rect x="0" y="0.2083" width="1" height="0.0354" fill="url(#gc10)"/>
<rect x="0" y="0.2292" width="1" height="0.0354" fill="url(#gc11)"/>
<rect x="0" y="0.2500" width="1" height="0.0354" fill="url(#gc12)"/>
<rect x="0" y="0.2708" width="1" height="0.0354" fill="url(#gc13)"/>
<rect x="0" y="0.2917" width="1" height="0.0354" fill="url(#gc14)"/>
<rect x="0" y="0.3125" width="1" height="0.0354" fill="url(#gc15)"/>
<rect x="0" y="0.3333" width="1" height="0.0354" fill="url(#gc16)"/>
<rect x="0" y="0.3542" width="1" height="0.0354" fill="url(#gc17)"/>
<rect x="0" y="0.3750" width="1" height="0.0354" fill="url(#gc18)"/>
<rect x="0" y="0.3958" width="1" height="0.0354" fill="url(#gc19)"/>
<rect x="0" y="0.4167" width="1" height="0.0354" fill="url(#gc20)"/>
<rect x="0" y="0.4375" width="1" height="0.0354" fill="url(#gc21)"/>
<rect x="0" y="0.4583" width="1" height="0.0354" fill="url(#gc22)"/>
<rect x="0" y="0.4792" width="1" height="0.0354" fill="url(#gc23)"/>
<rect x="0" y="0.5000" width="1" height="0.0354" fill="url(#gc24)"/>
<rect x="0" y="0.5208" width="1" height="0.0354" fill="url(#gc25)"/>
<rect x="0" y="0.5417" width="1" height="0.0354" fill="url(#gc26)"/>
<rect x="0" y="0.5625" width="1" height="0.0354" fill="url(#gc27)"/>
<rect x="0" y="0.5833" width="1" height="0.0354" fill="url(#gc28)"/>
<rect x="0" y="0.6042" width="1" height="0.0354" fill="url(#gc29)"/>
<rect x="0" y="0.6250" width="1" height="0.0354" fill="url(#gc30)"/>
<rect x="0" y="0.6458" width="1" height="0.0354" fill="url(#gc31)"/>
<rect x="0" y="0.6667" width="1" height="0.0354" fill="url(#gc32)"/>
<rect x="0" y="0.6875" width="1" height="0.0354" fill="url(#gc33)"/>
<rect x="0" y="0.7083" width="1" height="0.0354" fill="url(#gc34)"/>
<rect x="0" y="0.7292" width="1" height="0.0354" fill="url(#gc35)"/>
<rect x="0" y="0.7500" width="1" height="0.0354" fill="url(#gc36)"/>
<rect x="0" y="0.7708" width="1" height="0.0354" fill="url(#gc37)"/>
<rect x="0" y="0.7917" width="1" height="0.0354" fill="url(#gc38)"/>
<rect x="0" y="0.8125" width="1" height="0.0354" fill="url(#gc39)"/>
<rect x="0" y="0.8333" width="1" height="0.0354" fill="url(#gc40)"/>
<rect x="0" y="0.8542" width="1" height="0.0354" fill="url(#gc41)"/>
<rect x="0" y="0.8750" width="1" height="0.0354" fill="url(#gc42)"/>
<rect x="0" y="0.8958" width="1" height="0.0354" fill="url(#gc43)"/>
<rect x="0" y="0.9167" width="1" height="0.0354" fill="url(#gc44)"/>
<rect x="0" y="0.9375" width="1" height="0.0354" fill="url(#gc45)"/>
<rect x="0" y="0.9583" width="1" height="0.0354" fill="url(#gc46)"/>
<rect x="0" y="0.9792" width="1" height="0.0208" fill="url(#gc47)"/>
</g>
<g clip-path="url(#clc)">
<path class="sf" d="M648.5 2451L680.3 2449.5L712.1 2448.3L743.8 2447.6L775.6 2447.3L807.3 2447.5L839.1 2448L870.9 2449.1L902.6 2450.5L934.4 2452.4L966.1 2454.7L997.9 2457.4L1029.7 2460.5L1061.4 2464.1L1093.2 2468.1L1124.9 2472.6L1156.7 2477.5L1188.5 2482.8L1220.2 2488.5L1252 2494.7L1283.8 2501.3L1315.5 2508.3L1347.3 2515.8L1379 2523.7L1410.8 2532L1442.6 2540.8L1474.3 2549.9L1506.1 2559.5L1537.8 2569.6L1569.6 2580.1L1601.4 2591L1609.9 2594.7L1578.2 2583.5L1546.4 2572.8L1514.7 2562.6L1482.9 2552.7L1451.1 2543.3L1419.4 2534.3L1387.6 2525.8L1355.8 2517.7L1324.1 2510L1292.3 2502.7L1260.6 2495.9L1228.8 2489.5L1197 2483.6L1165.3 2478L1133.5 2472.9L1101.8 2468.2L1070 2464L1038.2 2460.2L1006.5 2456.8L974.7 2453.9L943 2451.3L911.2 2449.2L879.4 2447.6L847.7 2446.3L815.9 2445.5L784.1 2445.2L752.4 2445.2L720.6 2445.7L688.9 2446.6L657.1 2448Z"/>
<path class="ml" d="M648.5 2451L657.1 2448M743.8 2447.6L752.4 2445.2M839.1 2448L847.7 2446.3M934.4 2452.4L943 2451.3M1029.7 2460.5L1038.2 2460.2M1124.9 2472.6L1133.5 2472.9M1220.2 2488.5L1228.8 2489.5M1315.5 2508.3L1324.1 2510M1410.8 2532L1419.4 2534.3M1506.1 2559.5L1514.7 2562.6M1601.4 2591L1609.9 2594.7M657.1 2448L688.9 2446.6L720.6 2445.7L752.4 2445.2L784.1 2445.2L815.9 2445.5L847.7 2446.3L879.4 2447.6L911.2 2449.2L943 2451.3L974.7 2453.9L1006.5 2456.8L1038.2 2460.2L1070 2464L1101.8 2468.2L1133.5 2472.9L1165.3 2478L1197 2483.6L1228.8 2489.5L1260.6 2495.9L1292.3 2502.7L1324.1 2510L1355.8 2517.7L1387.6 2525.8L1419.4 2534.3L1451.1 2543.3L1482.9 2552.7L1514.7 2562.6L1546.4 2572.8L1578.2 2583.5L1609.9 2594.7"/>
<path class="sf" d="M640 2454.4L671.7 2452.6L703.5 2451.2L735.2 2450.3L767 2449.8L798.8 2449.7L830.5 2450L862.3 2450.8L894 2452L925.8 2453.7L957.6 2455.7L989.3 2458.2L1021.1 2461.2L1052.8 2464.5L1084.6 2468.3L1116.4 2472.6L1148.1 2477.2L1179.9 2482.3L1211.7 2487.8L1243.4 2493.8L1275.2 2500.1L1306.9 2506.9L1338.7 2514.2L1370.5 2521.8L1402.2 2529.9L1434 2538.5L1465.7 2547.4L1497.5 2556.8L1529.3 2566.6L1561 2576.9L1592.8 2587.6L1601.4 2591L1569.6 2580.1L1537.8 2569.6L1506.1 2559.5L1474.3 2549.9L1442.6 2540.8L1410.8 2532L1379 2523.7L1347.3 2515.8L1315.5 2508.3L1283.8 2501.3L1252 2494.7L1220.2 2488.5L1188.5 2482.8L1156.7 2477.5L1124.9 2472.6L1093.2 2468.1L1061.4 2464.1L1029.7 2460.5L997.9 2457.4L966.1 2454.7L934.4 2452.4L902.6 2450.5L870.9 2449.1L839.1 2448L807.3 2447.5L775.6 2447.3L743.8 2447.6L712.1 2448.3L680.3 2449.5L648.5 2451Z"/>
<path class="ml" d="M640 2454.4L648.5 2451M735.2 2450.3L743.8 2447.6M830.5 2450L839.1 2448M925.8 2453.7L934.4 2452.4M1021.1 2461.2L1029.7 2460.5M1116.4 2472.6L1124.9 2472.6M1211.7 2487.8L1220.2 2488.5M1306.9 2506.9L1315.5 2508.3M1402.2 2529.9L1410.8 2532M1497.5 2556.8L1506.1 2559.5M1592.8 2587.6L1601.4 2591"/>
<path class="sf" d="M631.4 2458L663.1 2456L694.9 2454.4L726.7 2453.2L758.4 2452.5L790.2 2452.2L821.9 2452.3L853.7 2452.9L885.5 2453.8L917.2 2455.3L949 2457.1L980.8 2459.4L1012.5 2462.1L1044.3 2465.2L1076 2468.8L1107.8 2472.8L1139.6 2477.2L1171.3 2482.1L1203.1 2487.4L1234.8 2493.1L1266.6 2499.3L1298.4 2505.9L1330.1 2512.9L1361.9 2520.3L1393.6 2528.2L1425.4 2536.5L1457.2 2545.2L1488.9 2554.4L1520.7 2564L1552.5 2574L1584.2 2584.5L1592.8 2587.6L1561 2576.9L1529.3 2566.6L1497.5 2556.8L1465.7 2547.4L1434 2538.5L1402.2 2529.9L1370.5 2521.8L1338.7 2514.2L1306.9 2506.9L1275.2 2500.1L1243.4 2493.8L1211.7 2487.8L1179.9 2482.3L1148.1 2477.2L1116.4 2472.6L1084.6 2468.3L1052.8 2464.5L1021.1 2461.2L989.3 2458.2L957.6 2455.7L925.8 2453.7L894 2452L862.3 2450.8L830.5 2450L798.8 2449.7L767 2449.8L735.2 2450.3L703.5 2451.2L671.7 2452.6L640 2454.4Z"/>
<path class="ml" d="M631.4 2458L640 2454.4M726.7 2453.2L735.2 2450.3M821.9 2452.3L830.5 2450M917.2 2455.3L925.8 2453.7M1012.5 2462.1L1021.1 2461.2M1107.8 2472.8L1116.4 2472.6M1203.1 2487.4L1211.7 2487.8M1298.4 2505.9L1306.9 2506.9M1393.6 2528.2L1402.2 2529.9M1488.9 2554.4L1497.5 2556.8M1584.2 2584.5L1592.8 2587.6"/>
<path class="sf" d="M622.8 2461.9L654.6 2459.6L686.3 2457.8L718.1 2456.4L749.9 2455.5L781.6 2455L813.4 2454.9L845.1 2455.2L876.9 2456L908.7 2457.2L940.4 2458.8L972.2 2460.8L1003.9 2463.3L1035.7 2466.2L1067.5 2469.6L1099.2 2473.4L1131 2477.6L1162.7 2482.2L1194.5 2487.3L1226.3 2492.8L1258 2498.7L1289.8 2505L1321.6 2511.8L1353.3 2519.1L1385.1 2526.7L1416.8 2534.8L1448.6 2543.3L1480.4 2552.2L1512.1 2561.6L1543.9 2571.4L1575.6 2581.6L1584.2 2584.5L1552.5 2574L1520.7 2564L1488.9 2554.4L1457.2 2545.2L1425.4 2536.5L1393.6 2528.2L1361.9 2520.3L1330.1 2512.9L1298.4 2505.9L1266.6 2499.3L1234.8 2493.1L1203.1 2487.4L1171.3 2482.1L1139.6 2477.2L1107.8 2472.8L1076 2468.8L1044.3 2465.2L1012.5 2462.1L980.8 2459.4L949 2457.1L917.2 2455.3L885.5 2453.8L853.7 2452.9L821.9 2452.3L790.2 2452.2L758.4 2452.5L726.7 2453.2L694.9 2454.4L663.1 2456L631.4 2458Z"/>
<path class="ml" d="M622.8 2461.9L631.4 2458M718.1 2456.4L726.7 2453.2M813.4 2454.9L821.9 2452.3M908.7 2457.2L917.2 2455.3M1003.9 2463.3L1012.5 2462.1M1099.2 2473.4L1107.8 2472.8M1194.5 2487.3L1203.1 2487.4M1289.8 2505L1298.4 2505.9M1385.1 2526.7L1393.6 2528.2M1480.4 2552.2L1488.9 2554.4M1575.6 2581.6L1584.2 2584.5M622.8 2461.9L654.6 2459.6L686.3 2457.8L718.1 2456.4L749.9 2455.5L781.6 2455L813.4 2454.9L845.1 2455.2L876.9 2456L908.7 2457.2L940.4 2458.8L972.2 2460.8L1003.9 2463.3L1035.7 2466.2L1067.5 2469.6L1099.2 2473.4L1131 2477.6L1162.7 2482.2L1194.5 2487.3L1226.3 2492.8L1258 2498.7L1289.8 2505L1321.6 2511.8L1353.3 2519.1L1385.1 2526.7L1416.8 2534.8L1448.6 2543.3L1480.4 2552.2L1512.1 2561.6L1543.9 2571.4L1575.6 2581.6"/>
<path class="sf" d="M614.2 2466.1L646 2463.6L677.8 2461.6L709.5 2460L741.3 2458.8L773 2458L804.8 2457.7L836.6 2457.8L868.3 2458.4L900.1 2459.3L931.8 2460.7L963.6 2462.6L995.4 2464.8L1027.1 2467.5L1058.9 2470.6L1090.6 2474.2L1122.4 2478.2L1154.2 2482.6L1185.9 2487.4L1217.7 2492.7L1249.5 2498.4L1281.2 2504.5L1313 2511.1L1344.7 2518.1L1376.5 2525.5L1408.3 2533.4L1440 2541.6L1471.8 2550.4L1503.5 2559.5L1535.3 2569.1L1567.1 2579.1L1575.6 2581.6L1543.9 2571.4L1512.1 2561.6L1480.4 2552.2L1448.6 2543.3L1416.8 2534.8L1385.1 2526.7L1353.3 2519.1L1321.6 2511.8L1289.8 2505L1258 2498.7L1226.3 2492.8L1194.5 2487.3L1162.7 2482.2L1131 2477.6L1099.2 2473.4L1067.5 2469.6L1035.7 2466.2L1003.9 2463.3L972.2 2460.8L940.4 2458.8L908.7 2457.2L876.9 2456L845.1 2455.2L813.4 2454.9L781.6 2455L749.9 2455.5L718.1 2456.4L686.3 2457.8L654.6 2459.6L622.8 2461.9Z"/>
<path class="ml" d="M614.2 2466.1L622.8 2461.9M709.5 2460L718.1 2456.4M804.8 2457.7L813.4 2454.9M900.1 2459.3L908.7 2457.2M995.4 2464.8L1003.9 2463.3M1090.6 2474.2L1099.2 2473.4M1185.9 2487.4L1194.5 2487.3M1281.2 2504.5L1289.8 2505M1376.5 2525.5L1385.1 2526.7M1471.8 2550.4L1480.4 2552.2M1567.1 2579.1L1575.6 2581.6M622.8 2461.9L654.6 2459.6L686.3 2457.8L718.1 2456.4L749.9 2455.5L781.6 2455L813.4 2454.9L845.1 2455.2L876.9 2456L908.7 2457.2L940.4 2458.8L972.2 2460.8L1003.9 2463.3L1035.7 2466.2L1067.5 2469.6L1099.2 2473.4L1131 2477.6L1162.7 2482.2L1194.5 2487.3L1226.3 2492.8L1258 2498.7L1289.8 2505L1321.6 2511.8L1353.3 2519.1L1385.1 2526.7L1416.8 2534.8L1448.6 2543.3L1480.4 2552.2L1512.1 2561.6L1543.9 2571.4L1575.6 2581.6"/>
<path class="sf" d="M605.7 2470.6L637.4 2467.9L669.2 2465.6L700.9 2463.8L732.7 2462.4L764.5 2461.4L796.2 2460.8L828 2460.7L859.7 2461L891.5 2461.8L923.3 2463L955 2464.6L986.8 2466.6L1018.6 2469.1L1050.3 2472L1082.1 2475.3L1113.8 2479L1145.6 2483.2L1177.4 2487.9L1209.1 2492.9L1240.9 2498.4L1272.6 2504.3L1304.4 2510.6L1336.2 2517.4L1367.9 2524.6L1399.7 2532.2L1431.4 2540.3L1463.2 2548.8L1495 2557.7L1526.7 2567.1L1558.5 2576.8L1567.1 2579.1L1535.3 2569.1L1503.5 2559.5L1471.8 2550.4L1440 2541.6L1408.3 2533.4L1376.5 2525.5L1344.7 2518.1L1313 2511.1L1281.2 2504.5L1249.5 2498.4L1217.7 2492.7L1185.9 2487.4L1154.2 2482.6L1122.4 2478.2L1090.6 2474.2L1058.9 2470.6L1027.1 2467.5L995.4 2464.8L963.6 2462.6L931.8 2460.7L900.1 2459.3L868.3 2458.4L836.6 2457.8L804.8 2457.7L773 2458L741.3 2458.8L709.5 2460L677.8 2461.6L646 2463.6L614.2 2466.1Z"/>
<path class="ml" d="M605.7 2470.6L614.2 2466.1M700.9 2463.8L709.5 2460M796.2 2460.8L804.8 2457.7M891.5 2461.8L900.1 2459.3M986.8 2466.6L995.4 2464.8M1082.1 2475.3L1090.6 2474.2M1177.4 2487.9L1185.9 2487.4M1272.6 2504.3L1281.2 2504.5M1367.9 2524.6L1376.5 2525.5M1463.2 2548.8L1471.8 2550.4M1558.5 2576.8L1567.1 2579.1"/>
<path class="sf" d="M597.1 2475.3L628.8 2472.4L660.6 2469.9L692.4 2467.9L724.1 2466.2L755.9 2465L787.6 2464.3L819.4 2463.9L851.2 2464L882.9 2464.5L914.7 2465.5L946.5 2466.9L978.2 2468.7L1010 2470.9L1041.7 2473.6L1073.5 2476.7L1105.3 2480.2L1137 2484.2L1168.8 2488.6L1200.5 2493.4L1232.3 2498.7L1264.1 2504.3L1295.8 2510.5L1327.6 2517L1359.3 2524L1391.1 2531.4L1422.9 2539.2L1454.6 2547.5L1486.4 2556.2L1518.2 2565.3L1549.9 2574.9L1558.5 2576.8L1526.7 2567.1L1495 2557.7L1463.2 2548.8L1431.4 2540.3L1399.7 2532.2L1367.9 2524.6L1336.2 2517.4L1304.4 2510.6L1272.6 2504.3L1240.9 2498.4L1209.1 2492.9L1177.4 2487.9L1145.6 2483.2L1113.8 2479L1082.1 2475.3L1050.3 2472L1018.6 2469.1L986.8 2466.6L955 2464.6L923.3 2463L891.5 2461.8L859.7 2461L828 2460.7L796.2 2460.8L764.5 2461.4L732.7 2462.4L700.9 2463.8L669.2 2465.6L637.4 2467.9L605.7 2470.6Z"/>
<path class="ml" d="M597.1 2475.3L605.7 2470.6M692.4 2467.9L700.9 2463.8M787.6 2464.3L796.2 2460.8M882.9 2464.5L891.5 2461.8M978.2 2468.7L986.8 2466.6M1073.5 2476.7L1082.1 2475.3M1168.8 2488.6L1177.4 2487.9M1264.1 2504.3L1272.6 2504.3M1359.3 2524L1367.9 2524.6M1454.6 2547.5L1463.2 2548.8M1549.9 2574.9L1558.5 2576.8"/>
<path class="sf" d="M588.5 2480.4L620.3 2477.2L652 2474.5L683.8 2472.2L715.6 2470.4L747.3 2468.9L779.1 2468L810.8 2467.4L842.6 2467.3L874.4 2467.6L906.1 2468.3L937.9 2469.4L969.6 2471L1001.4 2473L1033.2 2475.5L1064.9 2478.4L1096.7 2481.7L1128.4 2485.4L1160.2 2489.6L1192 2494.2L1223.7 2499.2L1255.5 2504.7L1287.3 2510.6L1319 2516.9L1350.8 2523.6L1382.5 2530.8L1414.3 2538.4L1446.1 2546.5L1477.8 2555L1509.6 2563.9L1541.3 2573.2L1549.9 2574.9L1518.2 2565.3L1486.4 2556.2L1454.6 2547.5L1422.9 2539.2L1391.1 2531.4L1359.3 2524L1327.6 2517L1295.8 2510.5L1264.1 2504.3L1232.3 2498.7L1200.5 2493.4L1168.8 2488.6L1137 2484.2L1105.3 2480.2L1073.5 2476.7L1041.7 2473.6L1010 2470.9L978.2 2468.7L946.5 2466.9L914.7 2465.5L882.9 2464.5L851.2 2464L819.4 2463.9L787.6 2464.3L755.9 2465L724.1 2466.2L692.4 2467.9L660.6 2469.9L628.8 2472.4L597.1 2475.3Z"/>
<path class="ml" d="M588.5 2480.4L597.1 2475.3M683.8 2472.2L692.4 2467.9M779.1 2468L787.6 2464.3M874.4 2467.6L882.9 2464.5M969.6 2471L978.2 2468.7M1064.9 2478.4L1073.5 2476.7M1160.2 2489.6L1168.8 2488.6M1255.5 2504.7L1264.1 2504.3M1350.8 2523.6L1359.3 2524M1446.1 2546.5L1454.6 2547.5M1541.3 2573.2L1549.9 2574.9M588.5 2480.4L620.3 2477.2L652 2474.5L683.8 2472.2L715.6 2470.4L747.3 2468.9L779.1 2468L810.8 2467.4L842.6 2467.3L874.4 2467.6L906.1 2468.3L937.9 2469.4L969.6 2471L1001.4 2473L1033.2 2475.5L1064.9 2478.4L1096.7 2481.7L1128.4 2485.4L1160.2 2489.6L1192 2494.2L1223.7 2499.2L1255.5 2504.7L1287.3 2510.6L1319 2516.9L1350.8 2523.6L1382.5 2530.8L1414.3 2538.4L1446.1 2546.5L1477.8 2555L1509.6 2563.9L1541.3 2573.2"/>
<path class="sf" d="M579.9 2485.7L611.7 2482.3L643.5 2479.4L675.2 2476.9L707 2474.8L738.7 2473.2L770.5 2471.9L802.3 2471.2L834 2470.8L865.8 2470.9L897.5 2471.4L929.3 2472.3L961.1 2473.7L992.8 2475.5L1024.6 2477.7L1056.3 2480.3L1088.1 2483.4L1119.9 2486.9L1151.6 2490.9L1183.4 2495.3L1215.2 2500.1L1246.9 2505.3L1278.7 2511L1310.4 2517.1L1342.2 2523.6L1374 2530.6L1405.7 2537.9L1437.5 2545.8L1469.2 2554L1501 2562.7L1532.8 2571.8L1541.3 2573.2L1509.6 2563.9L1477.8 2555L1446.1 2546.5L1414.3 2538.4L1382.5 2530.8L1350.8 2523.6L1319 2516.9L1287.3 2510.6L1255.5 2504.7L1223.7 2499.2L1192 2494.2L1160.2 2489.6L1128.4 2485.4L1096.7 2481.7L1064.9 2478.4L1033.2 2475.5L1001.4 2473L969.6 2471L937.9 2469.4L906.1 2468.3L874.4 2467.6L842.6 2467.3L810.8 2467.4L779.1 2468L747.3 2468.9L715.6 2470.4L683.8 2472.2L652 2474.5L620.3 2477.2L588.5 2480.4Z"/>
<path class="ml" d="M579.9 2485.7L588.5 2480.4M675.2 2476.9L683.8 2472.2M770.5 2471.9L779.1 2468M865.8 2470.9L874.4 2467.6M961.1 2473.7L969.6 2471M1056.3 2480.3L1064.9 2478.4M1151.6 2490.9L1160.2 2489.6M1246.9 2505.3L1255.5 2504.7M1342.2 2523.6L1350.8 2523.6M1437.5 2545.8L1446.1 2546.5M1532.8 2571.8L1541.3 2573.2M588.5 2480.4L620.3 2477.2L652 2474.5L683.8 2472.2L715.6 2470.4L747.3 2468.9L779.1 2468L810.8 2467.4L842.6 2467.3L874.4 2467.6L906.1 2468.3L937.9 2469.4L969.6 2471L1001.4 2473L1033.2 2475.5L1064.9 2478.4L1096.7 2481.7L1128.4 2485.4L1160.2 2489.6L1192 2494.2L1223.7 2499.2L1255.5 2504.7L1287.3 2510.6L1319 2516.9L1350.8 2523.6L1382.5 2530.8L1414.3 2538.4L1446.1 2546.5L1477.8 2555L1509.6 2563.9L1541.3 2573.2"/>
<path class="sf" d="M571.4 2491.3L603.1 2487.7L634.9 2484.6L666.6 2481.8L698.4 2479.5L730.2 2477.7L761.9 2476.2L793.7 2475.2L825.4 2474.6L857.2 2474.5L889 2474.8L920.7 2475.5L952.5 2476.6L984.3 2478.2L1016 2480.2L1047.8 2482.6L1079.5 2485.5L1111.3 2488.8L1143.1 2492.5L1174.8 2496.6L1206.6 2501.2L1238.3 2506.2L1270.1 2511.7L1301.9 2517.5L1333.6 2523.8L1365.4 2530.6L1397.1 2537.7L1428.9 2545.3L1460.7 2553.4L1492.4 2561.8L1524.2 2570.7L1532.8 2571.8L1501 2562.7L1469.2 2554L1437.5 2545.8L1405.7 2537.9L1374 2530.6L1342.2 2523.6L1310.4 2517.1L1278.7 2511L1246.9 2505.3L1215.2 2500.1L1183.4 2495.3L1151.6 2490.9L1119.9 2486.9L1088.1 2483.4L1056.3 2480.3L1024.6 2477.7L992.8 2475.5L961.1 2473.7L929.3 2472.3L897.5 2471.4L865.8 2470.9L834 2470.8L802.3 2471.2L770.5 2471.9L738.7 2473.2L707 2474.8L675.2 2476.9L643.5 2479.4L611.7 2482.3L579.9 2485.7Z"/>
<path class="ml" d="M571.4 2491.3L579.9 2485.7M666.6 2481.8L675.2 2476.9M761.9 2476.2L770.5 2471.9M857.2 2474.5L865.8 2470.9M952.5 2476.6L961.1 2473.7M1047.8 2482.6L1056.3 2480.3M1143.1 2492.5L1151.6 2490.9M1238.3 2506.2L1246.9 2505.3M1333.6 2523.8L1342.2 2523.6M1428.9 2545.3L1437.5 2545.8M1524.2 2570.7L1532.8 2571.8"/>
<path class="sf" d="M562.8 2497.2L594.5 2493.4L626.3 2490L658.1 2487.1L689.8 2484.5L721.6 2482.4L753.3 2480.8L785.1 2479.5L816.9 2478.7L848.6 2478.4L880.4 2478.4L912.2 2478.9L943.9 2479.8L975.7 2481.2L1007.4 2482.9L1039.2 2485.1L1071 2487.8L1102.7 2490.8L1134.5 2494.3L1166.2 2498.3L1198 2502.6L1229.8 2507.4L1261.5 2512.6L1293.3 2518.3L1325 2524.4L1356.8 2530.9L1388.6 2537.8L1420.3 2545.2L1452.1 2553L1483.9 2561.2L1515.6 2569.9L1524.2 2570.7L1492.4 2561.8L1460.7 2553.4L1428.9 2545.3L1397.1 2537.7L1365.4 2530.6L1333.6 2523.8L1301.9 2517.5L1270.1 2511.7L1238.3 2506.2L1206.6 2501.2L1174.8 2496.6L1143.1 2492.5L1111.3 2488.8L1079.5 2485.5L1047.8 2482.6L1016 2480.2L984.3 2478.2L952.5 2476.6L920.7 2475.5L889 2474.8L857.2 2474.5L825.4 2474.6L793.7 2475.2L761.9 2476.2L730.2 2477.7L698.4 2479.5L666.6 2481.8L634.9 2484.6L603.1 2487.7L571.4 2491.3Z"/>
<path class="ml" d="M562.8 2497.2L571.4 2491.3M658.1 2487.1L666.6 2481.8M753.3 2480.8L761.9 2476.2M848.6 2478.4L857.2 2474.5M943.9 2479.8L952.5 2476.6M1039.2 2485.1L1047.8 2482.6M1134.5 2494.3L1143.1 2492.5M1229.8 2507.4L1238.3 2506.2M1325 2524.4L1333.6 2523.8M1420.3 2545.2L1428.9 2545.3M1515.6 2569.9L1524.2 2570.7"/>
<path class="sf" d="M554.2 2503.4L586 2499.4L617.7 2495.8L649.5 2492.6L681.3 2489.8L713 2487.5L744.8 2485.6L776.5 2484.2L808.3 2483.1L840.1 2482.5L871.8 2482.4L903.6 2482.6L935.3 2483.3L967.1 2484.4L998.9 2486L1030.6 2488L1062.4 2490.4L1094.1 2493.2L1125.9 2496.5L1157.7 2500.2L1189.4 2504.3L1221.2 2508.9L1253 2513.9L1284.7 2519.3L1316.5 2525.2L1348.2 2531.5L1380 2538.2L1411.8 2545.3L1443.5 2552.9L1475.3 2560.9L1507 2569.3L1515.6 2569.9L1483.9 2561.2L1452.1 2553L1420.3 2545.2L1388.6 2537.8L1356.8 2530.9L1325 2524.4L1293.3 2518.3L1261.5 2512.6L1229.8 2507.4L1198 2502.6L1166.2 2498.3L1134.5 2494.3L1102.7 2490.8L1071 2487.8L1039.2 2485.1L1007.4 2482.9L975.7 2481.2L943.9 2479.8L912.2 2478.9L880.4 2478.4L848.6 2478.4L816.9 2478.7L785.1 2479.5L753.3 2480.8L721.6 2482.4L689.8 2484.5L658.1 2487.1L626.3 2490L594.5 2493.4L562.8 2497.2Z"/>
<path class="ml" d="M554.2 2503.4L562.8 2497.2M649.5 2492.6L658.1 2487.1M744.8 2485.6L753.3 2480.8M840.1 2482.5L848.6 2478.4M935.3 2483.3L943.9 2479.8M1030.6 2488L1039.2 2485.1M1125.9 2496.5L1134.5 2494.3M1221.2 2508.9L1229.8 2507.4M1316.5 2525.2L1325 2524.4M1411.8 2545.3L1420.3 2545.2M1507 2569.3L1515.6 2569.9M554.2 2503.4L586 2499.4L617.7 2495.8L649.5 2492.6L681.3 2489.8L713 2487.5L744.8 2485.6L776.5 2484.2L808.3 2483.1L840.1 2482.5L871.8 2482.4L903.6 2482.6L935.3 2483.3L967.1 2484.4L998.9 2486L1030.6 2488L1062.4 2490.4L1094.1 2493.2L1125.9 2496.5L1157.7 2500.2L1189.4 2504.3L1221.2 2508.9L1253 2513.9L1284.7 2519.3L1316.5 2525.2L1348.2 2531.5L1380 2538.2L1411.8 2545.3L1443.5 2552.9L1475.3 2560.9L1507 2569.3"/>
<path class="sf" d="M545.6 2509.9L577.4 2505.6L609.2 2501.8L640.9 2498.4L672.7 2495.4L704.4 2492.9L736.2 2490.8L768 2489.1L799.7 2487.8L831.5 2487L863.2 2486.6L895 2486.6L926.8 2487.1L958.5 2488L990.3 2489.3L1022.1 2491.1L1053.8 2493.3L1085.6 2495.9L1117.3 2498.9L1149.1 2502.4L1180.9 2506.3L1212.6 2510.7L1244.4 2515.4L1276.1 2520.6L1307.9 2526.3L1339.7 2532.3L1371.4 2538.8L1403.2 2545.7L1434.9 2553.1L1466.7 2560.9L1498.5 2569.1L1507 2569.3L1475.3 2560.9L1443.5 2552.9L1411.8 2545.3L1380 2538.2L1348.2 2531.5L1316.5 2525.2L1284.7 2519.3L1253 2513.9L1221.2 2508.9L1189.4 2504.3L1157.7 2500.2L1125.9 2496.5L1094.1 2493.2L1062.4 2490.4L1030.6 2488L998.9 2486L967.1 2484.4L935.3 2483.3L903.6 2482.6L871.8 2482.4L840.1 2482.5L808.3 2483.1L776.5 2484.2L744.8 2485.6L713 2487.5L681.3 2489.8L649.5 2492.6L617.7 2495.8L586 2499.4L554.2 2503.4Z"/>
<path class="ml" d="M545.6 2509.9L554.2 2503.4M640.9 2498.4L649.5 2492.6M736.2 2490.8L744.8 2485.6M831.5 2487L840.1 2482.5M926.8 2487.1L935.3 2483.3M1022.1 2491.1L1030.6 2488M1117.3 2498.9L1125.9 2496.5M1212.6 2510.7L1221.2 2508.9M1307.9 2526.3L1316.5 2525.2M1403.2 2545.7L1411.8 2545.3M1498.5 2569.1L1507 2569.3M554.2 2503.4L586 2499.4L617.7 2495.8L649.5 2492.6L681.3 2489.8L713 2487.5L744.8 2485.6L776.5 2484.2L808.3 2483.1L840.1 2482.5L871.8 2482.4L903.6 2482.6L935.3 2483.3L967.1 2484.4L998.9 2486L1030.6 2488L1062.4 2490.4L1094.1 2493.2L1125.9 2496.5L1157.7 2500.2L1189.4 2504.3L1221.2 2508.9L1253 2513.9L1284.7 2519.3L1316.5 2525.2L1348.2 2531.5L1380 2538.2L1411.8 2545.3L1443.5 2552.9L1475.3 2560.9L1507 2569.3"/>
<path class="sf" d="M537.1 2516.7L568.8 2512.2L600.6 2508.1L632.3 2504.5L664.1 2501.3L695.9 2498.5L727.6 2496.2L759.4 2494.3L791.1 2492.8L822.9 2491.7L854.7 2491.1L886.4 2490.9L918.2 2491.2L950 2491.9L981.7 2493L1013.5 2494.5L1045.2 2496.5L1077 2498.8L1108.8 2501.7L1140.5 2504.9L1172.3 2508.6L1204 2512.7L1235.8 2517.3L1267.6 2522.2L1299.3 2527.7L1331.1 2533.5L1362.8 2539.8L1394.6 2546.5L1426.4 2553.6L1458.1 2561.1L1489.9 2569.1L1498.5 2569.1L1466.7 2560.9L1434.9 2553.1L1403.2 2545.7L1371.4 2538.8L1339.7 2532.3L1307.9 2526.3L1276.1 2520.6L1244.4 2515.4L1212.6 2510.7L1180.9 2506.3L1149.1 2502.4L1117.3 2498.9L1085.6 2495.9L1053.8 2493.3L1022.1 2491.1L990.3 2489.3L958.5 2488L926.8 2487.1L895 2486.6L863.2 2486.6L831.5 2487L799.7 2487.8L768 2489.1L736.2 2490.8L704.4 2492.9L672.7 2495.4L640.9 2498.4L609.2 2501.8L577.4 2505.6L545.6 2509.9Z"/>
<path class="ml" d="M537.1 2516.7L545.6 2509.9M632.3 2504.5L640.9 2498.4M727.6 2496.2L736.2 2490.8M822.9 2491.7L831.5 2487M918.2 2491.2L926.8 2487.1M1013.5 2494.5L1022.1 2491.1M1108.8 2501.7L1117.3 2498.9M1204 2512.7L1212.6 2510.7M1299.3 2527.7L1307.9 2526.3M1394.6 2546.5L1403.2 2545.7M1489.9 2569.1L1498.5 2569.1"/>
<path class="sf" d="M528.5 2523.7L560.2 2519L592 2514.7L623.8 2510.9L655.5 2507.5L687.3 2504.5L719.1 2501.9L750.8 2499.8L782.6 2498.1L814.3 2496.8L846.1 2495.9L877.9 2495.5L909.6 2495.5L941.4 2496L973.1 2496.9L1004.9 2498.2L1036.7 2499.9L1068.4 2502.1L1100.2 2504.7L1131.9 2507.7L1163.7 2511.2L1195.5 2515.1L1227.2 2519.4L1259 2524.1L1290.8 2529.3L1322.5 2534.9L1354.3 2541L1386 2547.5L1417.8 2554.4L1449.6 2561.7L1481.3 2569.4L1489.9 2569.1L1458.1 2561.1L1426.4 2553.6L1394.6 2546.5L1362.8 2539.8L1331.1 2533.5L1299.3 2527.7L1267.6 2522.2L1235.8 2517.3L1204 2512.7L1172.3 2508.6L1140.5 2504.9L1108.8 2501.7L1077 2498.8L1045.2 2496.5L1013.5 2494.5L981.7 2493L950 2491.9L918.2 2491.2L886.4 2490.9L854.7 2491.1L822.9 2491.7L791.1 2492.8L759.4 2494.3L727.6 2496.2L695.9 2498.5L664.1 2501.3L632.3 2504.5L600.6 2508.1L568.8 2512.2L537.1 2516.7Z"/>
<path class="ml" d="M528.5 2523.7L537.1 2516.7M623.8 2510.9L632.3 2504.5M719.1 2501.9L727.6 2496.2M814.3 2496.8L822.9 2491.7M909.6 2495.5L918.2 2491.2M1004.9 2498.2L1013.5 2494.5M1100.2 2504.7L1108.8 2501.7M1195.5 2515.1L1204 2512.7M1290.8 2529.3L1299.3 2527.7M1386 2547.5L1394.6 2546.5M1481.3 2569.4L1489.9 2569.1"/>
<path class="sf" d="M519.9 2531.1L551.7 2526.1L583.4 2521.6L615.2 2517.5L647 2513.9L678.7 2510.7L710.5 2507.9L742.2 2505.5L774 2503.6L805.8 2502.1L837.5 2501L869.3 2500.4L901 2500.2L932.8 2500.4L964.6 2501.1L996.3 2502.2L1028.1 2503.7L1059.8 2505.6L1091.6 2508L1123.4 2510.8L1155.1 2514L1186.9 2517.7L1218.7 2521.8L1250.4 2526.3L1282.2 2531.3L1313.9 2536.7L1345.7 2542.5L1377.5 2548.7L1409.2 2555.4L1441 2562.5L1472.7 2570.1L1481.3 2569.4L1449.6 2561.7L1417.8 2554.4L1386 2547.5L1354.3 2541L1322.5 2534.9L1290.8 2529.3L1259 2524.1L1227.2 2519.4L1195.5 2515.1L1163.7 2511.2L1131.9 2507.7L1100.2 2504.7L1068.4 2502.1L1036.7 2499.9L1004.9 2498.2L973.1 2496.9L941.4 2496L909.6 2495.5L877.9 2495.5L846.1 2495.9L814.3 2496.8L782.6 2498.1L750.8 2499.8L719.1 2501.9L687.3 2504.5L655.5 2507.5L623.8 2510.9L592 2514.7L560.2 2519L528.5 2523.7Z"/>
<path class="ml" d="M519.9 2531.1L528.5 2523.7M615.2 2517.5L623.8 2510.9M710.5 2507.9L719.1 2501.9M805.8 2502.1L814.3 2496.8M901 2500.2L909.6 2495.5M996.3 2502.2L1004.9 2498.2M1091.6 2508L1100.2 2504.7M1186.9 2517.7L1195.5 2515.1M1282.2 2531.3L1290.8 2529.3M1377.5 2548.7L1386 2547.5M1472.7 2570.1L1481.3 2569.4M519.9 2531.1L551.7 2526.1L583.4 2521.6L615.2 2517.5L647 2513.9L678.7 2510.7L710.5 2507.9L742.2 2505.5L774 2503.6L805.8 2502.1L837.5 2501L869.3 2500.4L901 2500.2L932.8 2500.4L964.6 2501.1L996.3 2502.2L1028.1 2503.7L1059.8 2505.6L1091.6 2508L1123.4 2510.8L1155.1 2514L1186.9 2517.7L1218.7 2521.8L1250.4 2526.3L1282.2 2531.3L1313.9 2536.7L1345.7 2542.5L1377.5 2548.7L1409.2 2555.4L1441 2562.5L1472.7 2570.1"/>
<path class="sf" d="M511.3 2538.7L543.1 2533.5L574.9 2528.8L606.6 2524.5L638.4 2520.6L670.1 2517.2L701.9 2514.2L733.7 2511.6L765.4 2509.4L797.2 2507.7L828.9 2506.4L860.7 2505.6L892.5 2505.1L924.2 2505.1L956 2505.6L987.8 2506.4L1019.5 2507.7L1051.3 2509.4L1083 2511.6L1114.8 2514.2L1146.6 2517.2L1178.3 2520.6L1210.1 2524.5L1241.8 2528.8L1273.6 2533.5L1305.4 2538.7L1337.1 2544.3L1368.9 2550.3L1400.6 2556.8L1432.4 2563.6L1464.2 2571L1472.7 2570.1L1441 2562.5L1409.2 2555.4L1377.5 2548.7L1345.7 2542.5L1313.9 2536.7L1282.2 2531.3L1250.4 2526.3L1218.7 2521.8L1186.9 2517.7L1155.1 2514L1123.4 2510.8L1091.6 2508L1059.8 2505.6L1028.1 2503.7L996.3 2502.2L964.6 2501.1L932.8 2500.4L901 2500.2L869.3 2500.4L837.5 2501L805.8 2502.1L774 2503.6L742.2 2505.5L710.5 2507.9L678.7 2510.7L647 2513.9L615.2 2517.5L583.4 2521.6L551.7 2526.1L519.9 2531.1Z"/>
<path class="ml" d="M511.3 2538.7L519.9 2531.1M606.6 2524.5L615.2 2517.5M701.9 2514.2L710.5 2507.9M797.2 2507.7L805.8 2502.1M892.5 2505.1L901 2500.2M987.8 2506.4L996.3 2502.2M1083 2511.6L1091.6 2508M1178.3 2520.6L1186.9 2517.7M1273.6 2533.5L1282.2 2531.3M1368.9 2550.3L1377.5 2548.7M1464.2 2571L1472.7 2570.1M519.9 2531.1L551.7 2526.1L583.4 2521.6L615.2 2517.5L647 2513.9L678.7 2510.7L710.5 2507.9L742.2 2505.5L774 2503.6L805.8 2502.1L837.5 2501L869.3 2500.4L901 2500.2L932.8 2500.4L964.6 2501.1L996.3 2502.2L1028.1 2503.7L1059.8 2505.6L1091.6 2508L1123.4 2510.8L1155.1 2514L1186.9 2517.7L1218.7 2521.8L1250.4 2526.3L1282.2 2531.3L1313.9 2536.7L1345.7 2542.5L1377.5 2548.7L1409.2 2555.4L1441 2562.5L1472.7 2570.1"/>
<path class="sf" d="M502.8 2546.6L534.5 2541.2L566.3 2536.3L598 2531.7L629.8 2527.6L661.6 2524L693.3 2520.7L725.1 2517.9L756.8 2515.5L788.6 2513.6L820.4 2512.1L852.1 2511L883.9 2510.3L915.7 2510.1L947.4 2510.3L979.2 2511L1010.9 2512L1042.7 2513.5L1074.5 2515.5L1106.2 2517.8L1138 2520.6L1169.7 2523.8L1201.5 2527.5L1233.3 2531.5L1265 2536L1296.8 2541L1328.5 2546.4L1360.3 2552.2L1392.1 2558.4L1423.8 2565L1455.6 2572.1L1464.2 2571L1432.4 2563.6L1400.6 2556.8L1368.9 2550.3L1337.1 2544.3L1305.4 2538.7L1273.6 2533.5L1241.8 2528.8L1210.1 2524.5L1178.3 2520.6L1146.6 2517.2L1114.8 2514.2L1083 2511.6L1051.3 2509.4L1019.5 2507.7L987.8 2506.4L956 2505.6L924.2 2505.1L892.5 2505.1L860.7 2505.6L828.9 2506.4L797.2 2507.7L765.4 2509.4L733.7 2511.6L701.9 2514.2L670.1 2517.2L638.4 2520.6L606.6 2524.5L574.9 2528.8L543.1 2533.5L511.3 2538.7Z"/>
<path class="ml" d="M502.8 2546.6L511.3 2538.7M598 2531.7L606.6 2524.5M693.3 2520.7L701.9 2514.2M788.6 2513.6L797.2 2507.7M883.9 2510.3L892.5 2505.1M979.2 2511L987.8 2506.4M1074.5 2515.5L1083 2511.6M1169.7 2523.8L1178.3 2520.6M1265 2536L1273.6 2533.5M1360.3 2552.2L1368.9 2550.3M1455.6 2572.1L1464.2 2571"/>
<path class="sf" d="M494.2 2554.8L525.9 2549.2L557.7 2544L589.5 2539.3L621.2 2534.9L653 2531L684.8 2527.6L716.5 2524.6L748.3 2522L780 2519.8L811.8 2518L843.6 2516.7L875.3 2515.9L907.1 2515.4L938.8 2515.4L970.6 2515.8L1002.4 2516.6L1034.1 2517.9L1065.9 2519.6L1097.6 2521.7L1129.4 2524.3L1161.2 2527.3L1192.9 2530.7L1224.7 2534.6L1256.5 2538.9L1288.2 2543.6L1320 2548.7L1351.7 2554.3L1383.5 2560.3L1415.3 2566.7L1447 2573.6L1455.6 2572.1L1423.8 2565L1392.1 2558.4L1360.3 2552.2L1328.5 2546.4L1296.8 2541L1265 2536L1233.3 2531.5L1201.5 2527.5L1169.7 2523.8L1138 2520.6L1106.2 2517.8L1074.5 2515.5L1042.7 2513.5L1010.9 2512L979.2 2511L947.4 2510.3L915.7 2510.1L883.9 2510.3L852.1 2511L820.4 2512.1L788.6 2513.6L756.8 2515.5L725.1 2517.9L693.3 2520.7L661.6 2524L629.8 2527.6L598 2531.7L566.3 2536.3L534.5 2541.2L502.8 2546.6Z"/>
<path class="ml" d="M494.2 2554.8L502.8 2546.6M589.5 2539.3L598 2531.7M684.8 2527.6L693.3 2520.7M780 2519.8L788.6 2513.6M875.3 2515.9L883.9 2510.3M970.6 2515.8L979.2 2511M1065.9 2519.6L1074.5 2515.5M1161.2 2527.3L1169.7 2523.8M1256.5 2538.9L1265 2536M1351.7 2554.3L1360.3 2552.2M1447 2573.6L1455.6 2572.1"/>
<path class="sf" d="M485.6 2563.3L517.4 2557.5L549.1 2552L580.9 2547.1L612.7 2542.5L644.4 2538.4L676.2 2534.7L707.9 2531.5L739.7 2528.6L771.5 2526.2L803.2 2524.3L835 2522.7L866.7 2521.6L898.5 2521L930.3 2520.7L962 2520.9L993.8 2521.5L1025.5 2522.6L1057.3 2524.1L1089.1 2526L1120.8 2528.3L1152.6 2531.1L1184.4 2534.3L1216.1 2537.9L1247.9 2542L1279.6 2546.5L1311.4 2551.4L1343.2 2556.7L1374.9 2562.5L1406.7 2568.7L1438.4 2575.4L1447 2573.6L1415.3 2566.7L1383.5 2560.3L1351.7 2554.3L1320 2548.7L1288.2 2543.6L1256.5 2538.9L1224.7 2534.6L1192.9 2530.7L1161.2 2527.3L1129.4 2524.3L1097.6 2521.7L1065.9 2519.6L1034.1 2517.9L1002.4 2516.6L970.6 2515.8L938.8 2515.4L907.1 2515.4L875.3 2515.9L843.6 2516.7L811.8 2518L780 2519.8L748.3 2522L716.5 2524.6L684.8 2527.6L653 2531L621.2 2534.9L589.5 2539.3L557.7 2544L525.9 2549.2L494.2 2554.8Z"/>
<path class="ml" d="M485.6 2563.3L494.2 2554.8M580.9 2547.1L589.5 2539.3M676.2 2534.7L684.8 2527.6M771.5 2526.2L780 2519.8M866.7 2521.6L875.3 2515.9M962 2520.9L970.6 2515.8M1057.3 2524.1L1065.9 2519.6M1152.6 2531.1L1161.2 2527.3M1247.9 2542L1256.5 2538.9M1343.2 2556.7L1351.7 2554.3M1438.4 2575.4L1447 2573.6M485.6 2563.3L517.4 2557.5L549.1 2552L580.9 2547.1L612.7 2542.5L644.4 2538.4L676.2 2534.7L707.9 2531.5L739.7 2528.6L771.5 2526.2L803.2 2524.3L835 2522.7L866.7 2521.6L898.5 2521L930.3 2520.7L962 2520.9L993.8 2521.5L1025.5 2522.6L1057.3 2524.1L1089.1 2526L1120.8 2528.3L1152.6 2531.1L1184.4 2534.3L1216.1 2537.9L1247.9 2542L1279.6 2546.5L1311.4 2551.4L1343.2 2556.7L1374.9 2562.5L1406.7 2568.7L1438.4 2575.4"/>
<path class="sf" d="M477 2572.1L508.8 2566L540.6 2560.4L572.3 2555.2L604.1 2550.4L635.8 2546.1L667.6 2542.1L699.4 2538.7L731.1 2535.6L762.9 2533L794.6 2530.8L826.4 2529.1L858.2 2527.7L889.9 2526.8L921.7 2526.4L953.5 2526.3L985.2 2526.7L1017 2527.5L1048.7 2528.8L1080.5 2530.5L1112.3 2532.6L1144 2535.1L1175.8 2538.1L1207.5 2541.5L1239.3 2545.4L1271.1 2549.6L1302.8 2554.3L1334.6 2559.4L1366.3 2565L1398.1 2571L1429.9 2577.4L1438.4 2575.4L1406.7 2568.7L1374.9 2562.5L1343.2 2556.7L1311.4 2551.4L1279.6 2546.5L1247.9 2542L1216.1 2537.9L1184.4 2534.3L1152.6 2531.1L1120.8 2528.3L1089.1 2526L1057.3 2524.1L1025.5 2522.6L993.8 2521.5L962 2520.9L930.3 2520.7L898.5 2521L866.7 2521.6L835 2522.7L803.2 2524.3L771.5 2526.2L739.7 2528.6L707.9 2531.5L676.2 2534.7L644.4 2538.4L612.7 2542.5L580.9 2547.1L549.1 2552L517.4 2557.5L485.6 2563.3Z"/>
<path class="ml" d="M477 2572.1L485.6 2563.3M572.3 2555.2L580.9 2547.1M667.6 2542.1L676.2 2534.7M762.9 2533L771.5 2526.2M858.2 2527.7L866.7 2521.6M953.5 2526.3L962 2520.9M1048.7 2528.8L1057.3 2524.1M1144 2535.1L1152.6 2531.1M1239.3 2545.4L1247.9 2542M1334.6 2559.4L1343.2 2556.7M1429.9 2577.4L1438.4 2575.4M485.6 2563.3L517.4 2557.5L549.1 2552L580.9 2547.1L612.7 2542.5L644.4 2538.4L676.2 2534.7L707.9 2531.5L739.7 2528.6L771.5 2526.2L803.2 2524.3L835 2522.7L866.7 2521.6L898.5 2521L930.3 2520.7L962 2520.9L993.8 2521.5L1025.5 2522.6L1057.3 2524.1L1089.1 2526L1120.8 2528.3L1152.6 2531.1L1184.4 2534.3L1216.1 2537.9L1247.9 2542L1279.6 2546.5L1311.4 2551.4L1343.2 2556.7L1374.9 2562.5L1406.7 2568.7L1438.4 2575.4"/>
<path class="sf" d="M468.5 2581.1L500.2 2574.8L532 2569L563.7 2563.6L595.5 2558.6L627.3 2554L659 2549.9L690.8 2546.2L722.5 2542.9L754.3 2540L786.1 2537.6L817.8 2535.6L849.6 2534.1L881.4 2533L913.1 2532.3L944.9 2532L976.6 2532.2L1008.4 2532.8L1040.2 2533.8L1071.9 2535.3L1103.7 2537.2L1135.4 2539.5L1167.2 2542.2L1199 2545.4L1230.7 2549L1262.5 2553.1L1294.2 2557.5L1326 2562.4L1357.8 2567.8L1389.5 2573.5L1421.3 2579.7L1429.9 2577.4L1398.1 2571L1366.3 2565L1334.6 2559.4L1302.8 2554.3L1271.1 2549.6L1239.3 2545.4L1207.5 2541.5L1175.8 2538.1L1144 2535.1L1112.3 2532.6L1080.5 2530.5L1048.7 2528.8L1017 2527.5L985.2 2526.7L953.5 2526.3L921.7 2526.4L889.9 2526.8L858.2 2527.7L826.4 2529.1L794.6 2530.8L762.9 2533L731.1 2535.6L699.4 2538.7L667.6 2542.1L635.8 2546.1L604.1 2550.4L572.3 2555.2L540.6 2560.4L508.8 2566L477 2572.1Z"/>
<path class="ml" d="M468.5 2581.1L477 2572.1M563.7 2563.6L572.3 2555.2M659 2549.9L667.6 2542.1M754.3 2540L762.9 2533M849.6 2534.1L858.2 2527.7M944.9 2532L953.5 2526.3M1040.2 2533.8L1048.7 2528.8M1135.4 2539.5L1144 2535.1M1230.7 2549L1239.3 2545.4M1326 2562.4L1334.6 2559.4M1421.3 2579.7L1429.9 2577.4"/>
<path class="sf" d="M459.9 2590.5L491.6 2584L523.4 2577.9L555.2 2572.2L586.9 2567L618.7 2562.2L650.5 2557.9L682.2 2553.9L714 2550.4L745.7 2547.4L777.5 2544.7L809.3 2542.5L841 2540.7L872.8 2539.4L904.5 2538.5L936.3 2538L968.1 2537.9L999.8 2538.3L1031.6 2539.1L1063.3 2540.4L1095.1 2542L1126.9 2544.1L1158.6 2546.6L1190.4 2549.6L1222.2 2553L1253.9 2556.8L1285.7 2561.1L1317.4 2565.7L1349.2 2570.8L1381 2576.4L1412.7 2582.3L1421.3 2579.7L1389.5 2573.5L1357.8 2567.8L1326 2562.4L1294.2 2557.5L1262.5 2553.1L1230.7 2549L1199 2545.4L1167.2 2542.2L1135.4 2539.5L1103.7 2537.2L1071.9 2535.3L1040.2 2533.8L1008.4 2532.8L976.6 2532.2L944.9 2532L913.1 2532.3L881.4 2533L849.6 2534.1L817.8 2535.6L786.1 2537.6L754.3 2540L722.5 2542.9L690.8 2546.2L659 2549.9L627.3 2554L595.5 2558.6L563.7 2563.6L532 2569L500.2 2574.8L468.5 2581.1Z"/>
<path class="ml" d="M459.9 2590.5L468.5 2581.1M555.2 2572.2L563.7 2563.6M650.5 2557.9L659 2549.9M745.7 2547.4L754.3 2540M841 2540.7L849.6 2534.1M936.3 2538L944.9 2532M1031.6 2539.1L1040.2 2533.8M1126.9 2544.1L1135.4 2539.5M1222.2 2553L1230.7 2549M1317.4 2565.7L1326 2562.4M1412.7 2582.3L1421.3 2579.7"/>
<path class="sf" d="M451.3 2600.1L483.1 2593.4L514.8 2587.1L546.6 2581.2L578.4 2575.7L610.1 2570.7L641.9 2566.1L673.6 2562L705.4 2558.3L737.2 2555L768.9 2552.1L800.7 2549.7L832.4 2547.7L864.2 2546.1L896 2545L927.7 2544.3L959.5 2544L991.3 2544.1L1023 2544.7L1054.8 2545.7L1086.5 2547.2L1118.3 2549L1150.1 2551.3L1181.8 2554.1L1213.6 2557.2L1245.3 2560.8L1277.1 2564.8L1308.9 2569.3L1340.6 2574.2L1372.4 2579.5L1404.1 2585.2L1412.7 2582.3L1381 2576.4L1349.2 2570.8L1317.4 2565.7L1285.7 2561.1L1253.9 2556.8L1222.2 2553L1190.4 2549.6L1158.6 2546.6L1126.9 2544.1L1095.1 2542L1063.3 2540.4L1031.6 2539.1L999.8 2538.3L968.1 2537.9L936.3 2538L904.5 2538.5L872.8 2539.4L841 2540.7L809.3 2542.5L777.5 2544.7L745.7 2547.4L714 2550.4L682.2 2553.9L650.5 2557.9L618.7 2562.2L586.9 2567L555.2 2572.2L523.4 2577.9L491.6 2584L459.9 2590.5Z"/>
<path class="ml" d="M451.3 2600.1L459.9 2590.5M546.6 2581.2L555.2 2572.2M641.9 2566.1L650.5 2557.9M737.2 2555L745.7 2547.4M832.4 2547.7L841 2540.7M927.7 2544.3L936.3 2538M1023 2544.7L1031.6 2539.1M1118.3 2549L1126.9 2544.1M1213.6 2557.2L1222.2 2553M1308.9 2569.3L1317.4 2565.7M1404.1 2585.2L1412.7 2582.3M451.3 2600.1L483.1 2593.4L514.8 2587.1L546.6 2581.2L578.4 2575.7L610.1 2570.7L641.9 2566.1L673.6 2562L705.4 2558.3L737.2 2555L768.9 2552.1L800.7 2549.7L832.4 2547.7L864.2 2546.1L896 2545L927.7 2544.3L959.5 2544L991.3 2544.1L1023 2544.7L1054.8 2545.7L1086.5 2547.2L1118.3 2549L1150.1 2551.3L1181.8 2554.1L1213.6 2557.2L1245.3 2560.8L1277.1 2564.8L1308.9 2569.3L1340.6 2574.2L1372.4 2579.5L1404.1 2585.2"/>
<path class="sf" d="M442.7 2610L474.5 2603L506.3 2596.5L538 2590.4L569.8 2584.8L601.5 2579.5L633.3 2574.7L665.1 2570.3L696.8 2566.4L728.6 2562.9L760.3 2559.8L792.1 2557.1L823.9 2554.9L855.6 2553.1L887.4 2551.7L919.2 2550.8L950.9 2550.3L982.7 2550.2L1014.4 2550.6L1046.2 2551.4L1078 2552.6L1109.7 2554.2L1141.5 2556.3L1173.2 2558.8L1205 2561.8L1236.8 2565.1L1268.5 2568.9L1300.3 2573.2L1332 2577.8L1363.8 2582.9L1395.6 2588.4L1404.1 2585.2L1372.4 2579.5L1340.6 2574.2L1308.9 2569.3L1277.1 2564.8L1245.3 2560.8L1213.6 2557.2L1181.8 2554.1L1150.1 2551.3L1118.3 2549L1086.5 2547.2L1054.8 2545.7L1023 2544.7L991.3 2544.1L959.5 2544L927.7 2544.3L896 2545L864.2 2546.1L832.4 2547.7L800.7 2549.7L768.9 2552.1L737.2 2555L705.4 2558.3L673.6 2562L641.9 2566.1L610.1 2570.7L578.4 2575.7L546.6 2581.2L514.8 2587.1L483.1 2593.4L451.3 2600.1Z"/>
<path class="ml" d="M442.7 2610L451.3 2600.1M538 2590.4L546.6 2581.2M633.3 2574.7L641.9 2566.1M728.6 2562.9L737.2 2555M823.9 2554.9L832.4 2547.7M919.2 2550.8L927.7 2544.3M1014.4 2550.6L1023 2544.7M1109.7 2554.2L1118.3 2549M1205 2561.8L1213.6 2557.2M1300.3 2573.2L1308.9 2569.3M1395.6 2588.4L1404.1 2585.2M451.3 2600.1L483.1 2593.4L514.8 2587.1L546.6 2581.2L578.4 2575.7L610.1 2570.7L641.9 2566.1L673.6 2562L705.4 2558.3L737.2 2555L768.9 2552.1L800.7 2549.7L832.4 2547.7L864.2 2546.1L896 2545L927.7 2544.3L959.5 2544L991.3 2544.1L1023 2544.7L1054.8 2545.7L1086.5 2547.2L1118.3 2549L1150.1 2551.3L1181.8 2554.1L1213.6 2557.2L1245.3 2560.8L1277.1 2564.8L1308.9 2569.3L1340.6 2574.2L1372.4 2579.5L1404.1 2585.2"/>
<path class="sf" d="M434.2 2620.2L465.9 2613L497.7 2606.3L529.4 2600L561.2 2594.1L593 2588.6L624.7 2583.6L656.5 2579L688.3 2574.8L720 2571.1L751.8 2567.7L783.5 2564.9L815.3 2562.4L847.1 2560.4L878.8 2558.8L910.6 2557.6L942.3 2556.9L974.1 2556.6L1005.9 2556.8L1037.6 2557.3L1069.4 2558.3L1101.1 2559.7L1132.9 2561.6L1164.7 2563.9L1196.4 2566.6L1228.2 2569.7L1260 2573.3L1291.7 2577.3L1323.5 2581.7L1355.2 2586.6L1387 2591.9L1395.6 2588.4L1363.8 2582.9L1332 2577.8L1300.3 2573.2L1268.5 2568.9L1236.8 2565.1L1205 2561.8L1173.2 2558.8L1141.5 2556.3L1109.7 2554.2L1078 2552.6L1046.2 2551.4L1014.4 2550.6L982.7 2550.2L950.9 2550.3L919.2 2550.8L887.4 2551.7L855.6 2553.1L823.9 2554.9L792.1 2557.1L760.3 2559.8L728.6 2562.9L696.8 2566.4L665.1 2570.3L633.3 2574.7L601.5 2579.5L569.8 2584.8L538 2590.4L506.3 2596.5L474.5 2603L442.7 2610Z"/>
<path class="ml" d="M434.2 2620.2L442.7 2610M529.4 2600L538 2590.4M624.7 2583.6L633.3 2574.7M720 2571.1L728.6 2562.9M815.3 2562.4L823.9 2554.9M910.6 2557.6L919.2 2550.8M1005.9 2556.8L1014.4 2550.6M1101.1 2559.7L1109.7 2554.2M1196.4 2566.6L1205 2561.8M1291.7 2577.3L1300.3 2573.2M1387 2591.9L1395.6 2588.4"/>
<path class="sf" d="M425.6 2630.7L457.3 2623.3L489.1 2616.3L520.9 2609.8L552.6 2603.6L584.4 2598L616.2 2592.7L647.9 2587.9L679.7 2583.5L711.4 2579.5L743.2 2576L775 2572.9L806.7 2570.2L838.5 2568L870.2 2566.2L902 2564.8L933.8 2563.8L965.5 2563.3L997.3 2563.2L1029 2563.5L1060.8 2564.3L1092.6 2565.5L1124.3 2567.1L1156.1 2569.2L1187.9 2571.7L1219.6 2574.6L1251.4 2578L1283.1 2581.7L1314.9 2586L1346.7 2590.6L1378.4 2595.7L1387 2591.9L1355.2 2586.6L1323.5 2581.7L1291.7 2577.3L1260 2573.3L1228.2 2569.7L1196.4 2566.6L1164.7 2563.9L1132.9 2561.6L1101.1 2559.7L1069.4 2558.3L1037.6 2557.3L1005.9 2556.8L974.1 2556.6L942.3 2556.9L910.6 2557.6L878.8 2558.8L847.1 2560.4L815.3 2562.4L783.5 2564.9L751.8 2567.7L720 2571.1L688.3 2574.8L656.5 2579L624.7 2583.6L593 2588.6L561.2 2594.1L529.4 2600L497.7 2606.3L465.9 2613L434.2 2620.2Z"/>
<path class="ml" d="M425.6 2630.7L434.2 2620.2M520.9 2609.8L529.4 2600M616.2 2592.7L624.7 2583.6M711.4 2579.5L720 2571.1M806.7 2570.2L815.3 2562.4M902 2564.8L910.6 2557.6M997.3 2563.2L1005.9 2556.8M1092.6 2565.5L1101.1 2559.7M1187.9 2571.7L1196.4 2566.6M1283.1 2581.7L1291.7 2577.3M1378.4 2595.7L1387 2591.9"/>
<path class="sf" d="M417 2641.5L448.8 2633.8L480.5 2626.6L512.3 2619.9L544.1 2613.5L575.8 2607.6L607.6 2602.1L639.3 2597.1L671.1 2592.5L702.9 2588.3L734.6 2584.5L766.4 2581.2L798.1 2578.3L829.9 2575.8L861.7 2573.8L893.4 2572.2L925.2 2571L957 2570.3L988.7 2569.9L1020.5 2570.1L1052.2 2570.6L1084 2571.6L1115.8 2573L1147.5 2574.8L1179.3 2577.1L1211 2579.8L1242.8 2582.9L1274.6 2586.5L1306.3 2590.4L1338.1 2594.9L1369.8 2599.7L1378.4 2595.7L1346.7 2590.6L1314.9 2586L1283.1 2581.7L1251.4 2578L1219.6 2574.6L1187.9 2571.7L1156.1 2569.2L1124.3 2567.1L1092.6 2565.5L1060.8 2564.3L1029 2563.5L997.3 2563.2L965.5 2563.3L933.8 2563.8L902 2564.8L870.2 2566.2L838.5 2568L806.7 2570.2L775 2572.9L743.2 2576L711.4 2579.5L679.7 2583.5L647.9 2587.9L616.2 2592.7L584.4 2598L552.6 2603.6L520.9 2609.8L489.1 2616.3L457.3 2623.3L425.6 2630.7Z"/>
<path class="ml" d="M417 2641.5L425.6 2630.7M512.3 2619.9L520.9 2609.8M607.6 2602.1L616.2 2592.7M702.9 2588.3L711.4 2579.5M798.1 2578.3L806.7 2570.2M893.4 2572.2L902 2564.8M988.7 2569.9L997.3 2563.2M1084 2571.6L1092.6 2565.5M1179.3 2577.1L1187.9 2571.7M1274.6 2586.5L1283.1 2581.7M1369.8 2599.7L1378.4 2595.7M417 2641.5L448.8 2633.8L480.5 2626.6L512.3 2619.9L544.1 2613.5L575.8 2607.6L607.6 2602.1L639.3 2597.1L671.1 2592.5L702.9 2588.3L734.6 2584.5L766.4 2581.2L798.1 2578.3L829.9 2575.8L861.7 2573.8L893.4 2572.2L925.2 2571L957 2570.3L988.7 2569.9L1020.5 2570.1L1052.2 2570.6L1084 2571.6L1115.8 2573L1147.5 2574.8L1179.3 2577.1L1211 2579.8L1242.8 2582.9L1274.6 2586.5L1306.3 2590.4L1338.1 2594.9L1369.8 2599.7"/>
<path class="sf" d="M408.4 2652.5L440.2 2644.7L472 2637.3L503.7 2630.3L535.5 2623.7L567.2 2617.6L599 2611.9L630.8 2606.6L662.5 2601.7L694.3 2597.3L726 2593.3L757.8 2589.8L789.6 2586.7L821.3 2584L853.1 2581.7L884.9 2579.9L916.6 2578.5L948.4 2577.5L980.1 2577L1011.9 2576.9L1043.7 2577.2L1075.4 2577.9L1107.2 2579.1L1138.9 2580.7L1170.7 2582.8L1202.5 2585.2L1234.2 2588.1L1266 2591.5L1297.7 2595.2L1329.5 2599.4L1361.3 2604L1369.8 2599.7L1338.1 2594.9L1306.3 2590.4L1274.6 2586.5L1242.8 2582.9L1211 2579.8L1179.3 2577.1L1147.5 2574.8L1115.8 2573L1084 2571.6L1052.2 2570.6L1020.5 2570.1L988.7 2569.9L957 2570.3L925.2 2571L893.4 2572.2L861.7 2573.8L829.9 2575.8L798.1 2578.3L766.4 2581.2L734.6 2584.5L702.9 2588.3L671.1 2592.5L639.3 2597.1L607.6 2602.1L575.8 2607.6L544.1 2613.5L512.3 2619.9L480.5 2626.6L448.8 2633.8L417 2641.5Z"/>
<path class="ml" d="M408.4 2652.5L417 2641.5M503.7 2630.3L512.3 2619.9M599 2611.9L607.6 2602.1M694.3 2597.3L702.9 2588.3M789.6 2586.7L798.1 2578.3M884.9 2579.9L893.4 2572.2M980.1 2577L988.7 2569.9M1075.4 2577.9L1084 2571.6M1170.7 2582.8L1179.3 2577.1M1266 2591.5L1274.6 2586.5M1361.3 2604L1369.8 2599.7M417 2641.5L448.8 2633.8L480.5 2626.6L512.3 2619.9L544.1 2613.5L575.8 2607.6L607.6 2602.1L639.3 2597.1L671.1 2592.5L702.9 2588.3L734.6 2584.5L766.4 2581.2L798.1 2578.3L829.9 2575.8L861.7 2573.8L893.4 2572.2L925.2 2571L957 2570.3L988.7 2569.9L1020.5 2570.1L1052.2 2570.6L1084 2571.6L1115.8 2573L1147.5 2574.8L1179.3 2577.1L1211 2579.8L1242.8 2582.9L1274.6 2586.5L1306.3 2590.4L1338.1 2594.9L1369.8 2599.7"/>
<path class="sf" d="M399.9 2663.9L431.6 2655.8L463.4 2648.1L495.1 2640.9L526.9 2634.1L558.7 2627.8L590.4 2621.9L622.2 2616.4L654 2611.3L685.7 2606.6L717.5 2602.4L749.2 2598.7L781 2595.3L812.8 2592.4L844.5 2589.9L876.3 2587.9L908 2586.2L939.8 2585L971.6 2584.3L1003.3 2583.9L1035.1 2584L1066.8 2584.6L1098.6 2585.5L1130.4 2586.9L1162.1 2588.7L1193.9 2591L1225.7 2593.6L1257.4 2596.8L1289.2 2600.3L1320.9 2604.3L1352.7 2608.7L1361.3 2604L1329.5 2599.4L1297.7 2595.2L1266 2591.5L1234.2 2588.1L1202.5 2585.2L1170.7 2582.8L1138.9 2580.7L1107.2 2579.1L1075.4 2577.9L1043.7 2577.2L1011.9 2576.9L980.1 2577L948.4 2577.5L916.6 2578.5L884.9 2579.9L853.1 2581.7L821.3 2584L789.6 2586.7L757.8 2589.8L726 2593.3L694.3 2597.3L662.5 2601.7L630.8 2606.6L599 2611.9L567.2 2617.6L535.5 2623.7L503.7 2630.3L472 2637.3L440.2 2644.7L408.4 2652.5Z"/>
<path class="ml" d="M399.9 2663.9L408.4 2652.5M495.1 2640.9L503.7 2630.3M590.4 2621.9L599 2611.9M685.7 2606.6L694.3 2597.3M781 2595.3L789.6 2586.7M876.3 2587.9L884.9 2579.9M971.6 2584.3L980.1 2577M1066.8 2584.6L1075.4 2577.9M1162.1 2588.7L1170.7 2582.8M1257.4 2596.8L1266 2591.5M1352.7 2608.7L1361.3 2604"/>
<path class="sf" d="M391.3 2675.5L423 2667.2L454.8 2659.3L486.6 2651.9L518.3 2644.9L550.1 2638.3L581.9 2632.1L613.6 2626.4L645.4 2621.1L677.1 2616.3L708.9 2611.8L740.7 2607.8L772.4 2604.3L804.2 2601.1L835.9 2598.4L867.7 2596.1L899.5 2594.3L931.2 2592.9L963 2591.9L994.7 2591.3L1026.5 2591.2L1058.3 2591.5L1090 2592.2L1121.8 2593.4L1153.6 2595L1185.3 2597L1217.1 2599.4L1248.8 2602.3L1280.6 2605.6L1312.4 2609.4L1344.1 2613.6L1352.7 2608.7L1320.9 2604.3L1289.2 2600.3L1257.4 2596.8L1225.7 2593.6L1193.9 2591L1162.1 2588.7L1130.4 2586.9L1098.6 2585.5L1066.8 2584.6L1035.1 2584L1003.3 2583.9L971.6 2584.3L939.8 2585L908 2586.2L876.3 2587.9L844.5 2589.9L812.8 2592.4L781 2595.3L749.2 2598.7L717.5 2602.4L685.7 2606.6L654 2611.3L622.2 2616.4L590.4 2621.9L558.7 2627.8L526.9 2634.1L495.1 2640.9L463.4 2648.1L431.6 2655.8L399.9 2663.9Z"/>
<path class="ml" d="M391.3 2675.5L399.9 2663.9M486.6 2651.9L495.1 2640.9M581.9 2632.1L590.4 2621.9M677.1 2616.3L685.7 2606.6M772.4 2604.3L781 2595.3M867.7 2596.1L876.3 2587.9M963 2591.9L971.6 2584.3M1058.3 2591.5L1066.8 2584.6M1153.6 2595L1162.1 2588.7M1248.8 2602.3L1257.4 2596.8M1344.1 2613.6L1352.7 2608.7"/>
<path class="sf" d="M382.7 2687.4L414.5 2678.9L446.2 2670.8L478 2663.1L509.8 2655.9L541.5 2649.1L573.3 2642.7L605 2636.8L636.8 2631.2L668.6 2626.2L700.3 2621.5L732.1 2617.3L763.8 2613.5L795.6 2610.1L827.4 2607.2L859.1 2604.7L890.9 2602.6L922.7 2601L954.4 2599.8L986.2 2599L1017.9 2598.6L1049.7 2598.7L1081.5 2599.2L1113.2 2600.1L1145 2601.5L1176.7 2603.3L1208.5 2605.5L1240.3 2608.2L1272 2611.3L1303.8 2614.8L1335.5 2618.8L1344.1 2613.6L1312.4 2609.4L1280.6 2605.6L1248.8 2602.3L1217.1 2599.4L1185.3 2597L1153.6 2595L1121.8 2593.4L1090 2592.2L1058.3 2591.5L1026.5 2591.2L994.7 2591.3L963 2591.9L931.2 2592.9L899.5 2594.3L867.7 2596.1L835.9 2598.4L804.2 2601.1L772.4 2604.3L740.7 2607.8L708.9 2611.8L677.1 2616.3L645.4 2621.1L613.6 2626.4L581.9 2632.1L550.1 2638.3L518.3 2644.9L486.6 2651.9L454.8 2659.3L423 2667.2L391.3 2675.5Z"/>
<path class="ml" d="M382.7 2687.4L391.3 2675.5M478 2663.1L486.6 2651.9M573.3 2642.7L581.9 2632.1M668.6 2626.2L677.1 2616.3M763.8 2613.5L772.4 2604.3M859.1 2604.7L867.7 2596.1M954.4 2599.8L963 2591.9M1049.7 2598.7L1058.3 2591.5M1145 2601.5L1153.6 2595M1240.3 2608.2L1248.8 2602.3M1335.5 2618.8L1344.1 2613.6M382.7 2687.4L414.5 2678.9L446.2 2670.8L478 2663.1L509.8 2655.9L541.5 2649.1L573.3 2642.7L605 2636.8L636.8 2631.2L668.6 2626.2L700.3 2621.5L732.1 2617.3L763.8 2613.5L795.6 2610.1L827.4 2607.2L859.1 2604.7L890.9 2602.6L922.7 2601L954.4 2599.8L986.2 2599L1017.9 2598.6L1049.7 2598.7L1081.5 2599.2L1113.2 2600.1L1145 2601.5L1176.7 2603.3L1208.5 2605.5L1240.3 2608.2L1272 2611.3L1303.8 2614.8L1335.5 2618.8"/>
<path class="sf" d="M374.1 2699.6L405.9 2690.9L437.7 2682.6L469.4 2674.7L501.2 2667.2L532.9 2660.2L564.7 2653.6L596.5 2647.4L628.2 2641.7L660 2636.4L691.8 2631.5L723.5 2627L755.3 2623L787 2619.4L818.8 2616.3L850.6 2613.5L882.3 2611.2L914.1 2609.4L945.8 2607.9L977.6 2606.9L1009.4 2606.3L1041.1 2606.2L1072.9 2606.5L1104.6 2607.2L1136.4 2608.3L1168.2 2609.9L1199.9 2611.9L1231.7 2614.3L1263.4 2617.2L1295.2 2620.5L1327 2624.2L1335.5 2618.8L1303.8 2614.8L1272 2611.3L1240.3 2608.2L1208.5 2605.5L1176.7 2603.3L1145 2601.5L1113.2 2600.1L1081.5 2599.2L1049.7 2598.7L1017.9 2598.6L986.2 2599L954.4 2599.8L922.7 2601L890.9 2602.6L859.1 2604.7L827.4 2607.2L795.6 2610.1L763.8 2613.5L732.1 2617.3L700.3 2621.5L668.6 2626.2L636.8 2631.2L605 2636.8L573.3 2642.7L541.5 2649.1L509.8 2655.9L478 2663.1L446.2 2670.8L414.5 2678.9L382.7 2687.4Z"/>
<path class="ml" d="M374.1 2699.6L382.7 2687.4M469.4 2674.7L478 2663.1M564.7 2653.6L573.3 2642.7M660 2636.4L668.6 2626.2M755.3 2623L763.8 2613.5M850.6 2613.5L859.1 2604.7M945.8 2607.9L954.4 2599.8M1041.1 2606.2L1049.7 2598.7M1136.4 2608.3L1145 2601.5M1231.7 2614.3L1240.3 2608.2M1327 2624.2L1335.5 2618.8M382.7 2687.4L414.5 2678.9L446.2 2670.8L478 2663.1L509.8 2655.9L541.5 2649.1L573.3 2642.7L605 2636.8L636.8 2631.2L668.6 2626.2L700.3 2621.5L732.1 2617.3L763.8 2613.5L795.6 2610.1L827.4 2607.2L859.1 2604.7L890.9 2602.6L922.7 2601L954.4 2599.8L986.2 2599L1017.9 2598.6L1049.7 2598.7L1081.5 2599.2L1113.2 2600.1L1145 2601.5L1176.7 2603.3L1208.5 2605.5L1240.3 2608.2L1272 2611.3L1303.8 2614.8L1335.5 2618.8"/>
<path class="sf" d="M365.6 2712.1L397.3 2703.2L429.1 2694.6L460.8 2686.5L492.6 2678.8L524.4 2671.5L556.1 2664.7L587.9 2658.3L619.7 2652.4L651.4 2646.8L683.2 2641.7L714.9 2637L746.7 2632.8L778.5 2629L810.2 2625.6L842 2622.7L873.7 2620.1L905.5 2618L937.3 2616.4L969 2615.1L1000.8 2614.3L1032.5 2614L1064.3 2614L1096.1 2614.5L1127.8 2615.4L1159.6 2616.8L1191.4 2618.6L1223.1 2620.8L1254.9 2623.4L1286.6 2626.5L1318.4 2630L1327 2624.2L1295.2 2620.5L1263.4 2617.2L1231.7 2614.3L1199.9 2611.9L1168.2 2609.9L1136.4 2608.3L1104.6 2607.2L1072.9 2606.5L1041.1 2606.2L1009.4 2606.3L977.6 2606.9L945.8 2607.9L914.1 2609.4L882.3 2611.2L850.6 2613.5L818.8 2616.3L787 2619.4L755.3 2623L723.5 2627L691.8 2631.5L660 2636.4L628.2 2641.7L596.5 2647.4L564.7 2653.6L532.9 2660.2L501.2 2667.2L469.4 2674.7L437.7 2682.6L405.9 2690.9L374.1 2699.6Z"/>
<path class="ml" d="M365.6 2712.1L374.1 2699.6M460.8 2686.5L469.4 2674.7M556.1 2664.7L564.7 2653.6M651.4 2646.8L660 2636.4M746.7 2632.8L755.3 2623M842 2622.7L850.6 2613.5M937.3 2616.4L945.8 2607.9M1032.5 2614L1041.1 2606.2M1127.8 2615.4L1136.4 2608.3M1223.1 2620.8L1231.7 2614.3M1318.4 2630L1327 2624.2"/>
<path class="sf" d="M357 2724.9L388.8 2715.7L420.5 2706.9L452.3 2698.6L484 2690.7L515.8 2683.2L547.6 2676.2L579.3 2669.5L611.1 2663.3L642.8 2657.6L674.6 2652.3L706.4 2647.4L738.1 2642.9L769.9 2638.9L801.6 2635.2L833.4 2632.1L865.2 2629.3L896.9 2627L928.7 2625.1L960.5 2623.7L992.2 2622.6L1024 2622L1055.7 2621.9L1087.5 2622.1L1119.3 2622.8L1151 2624L1182.8 2625.5L1214.5 2627.5L1246.3 2629.9L1278.1 2632.8L1309.8 2636L1318.4 2630L1286.6 2626.5L1254.9 2623.4L1223.1 2620.8L1191.4 2618.6L1159.6 2616.8L1127.8 2615.4L1096.1 2614.5L1064.3 2614L1032.5 2614L1000.8 2614.3L969 2615.1L937.3 2616.4L905.5 2618L873.7 2620.1L842 2622.7L810.2 2625.6L778.5 2629L746.7 2632.8L714.9 2637L683.2 2641.7L651.4 2646.8L619.7 2652.4L587.9 2658.3L556.1 2664.7L524.4 2671.5L492.6 2678.8L460.8 2686.5L429.1 2694.6L397.3 2703.2L365.6 2712.1Z"/>
<path class="ml" d="M357 2724.9L365.6 2712.1M452.3 2698.6L460.8 2686.5M547.6 2676.2L556.1 2664.7M642.8 2657.6L651.4 2646.8M738.1 2642.9L746.7 2632.8M833.4 2632.1L842 2622.7M928.7 2625.1L937.3 2616.4M1024 2622L1032.5 2614M1119.3 2622.8L1127.8 2615.4M1214.5 2627.5L1223.1 2620.8M1309.8 2636L1318.4 2630"/>
<path class="sf" d="M348.4 2738L380.2 2728.5L411.9 2719.6L443.7 2711L475.5 2702.9L507.2 2695.1L539 2687.9L570.7 2681L602.5 2674.6L634.3 2668.6L666 2663.1L697.8 2658L729.5 2653.3L761.3 2649L793.1 2645.2L824.8 2641.8L856.6 2638.8L888.4 2636.3L920.1 2634.1L951.9 2632.5L983.6 2631.2L1015.4 2630.4L1047.2 2630L1078.9 2630L1110.7 2630.5L1142.4 2631.4L1174.2 2632.7L1206 2634.5L1237.7 2636.7L1269.5 2639.3L1301.2 2642.4L1309.8 2636L1278.1 2632.8L1246.3 2629.9L1214.5 2627.5L1182.8 2625.5L1151 2624L1119.3 2622.8L1087.5 2622.1L1055.7 2621.9L1024 2622L992.2 2622.6L960.5 2623.7L928.7 2625.1L896.9 2627L865.2 2629.3L833.4 2632.1L801.6 2635.2L769.9 2638.9L738.1 2642.9L706.4 2647.4L674.6 2652.3L642.8 2657.6L611.1 2663.3L579.3 2669.5L547.6 2676.2L515.8 2683.2L484 2690.7L452.3 2698.6L420.5 2706.9L388.8 2715.7L357 2724.9Z"/>
<path class="ml" d="M348.4 2738L357 2724.9M443.7 2711L452.3 2698.6M539 2687.9L547.6 2676.2M634.3 2668.6L642.8 2657.6M729.5 2653.3L738.1 2642.9M824.8 2641.8L833.4 2632.1M920.1 2634.1L928.7 2625.1M1015.4 2630.4L1024 2622M1110.7 2630.5L1119.3 2622.8M1206 2634.5L1214.5 2627.5M1301.2 2642.4L1309.8 2636M348.4 2738L380.2 2728.5L411.9 2719.6L443.7 2711L475.5 2702.9L507.2 2695.1L539 2687.9L570.7 2681L602.5 2674.6L634.3 2668.6L666 2663.1L697.8 2658L729.5 2653.3L761.3 2649L793.1 2645.2L824.8 2641.8L856.6 2638.8L888.4 2636.3L920.1 2634.1L951.9 2632.5L983.6 2631.2L1015.4 2630.4L1047.2 2630L1078.9 2630L1110.7 2630.5L1142.4 2631.4L1174.2 2632.7L1206 2634.5L1237.7 2636.7L1269.5 2639.3L1301.2 2642.4"/>
<path class="sf" d="M339.8 2751.3L371.6 2741.7L403.4 2732.5L435.1 2723.7L466.9 2715.3L498.6 2707.4L530.4 2699.9L562.2 2692.8L593.9 2686.2L625.7 2680L657.5 2674.2L689.2 2668.8L721 2663.9L752.7 2659.4L784.5 2655.4L816.3 2651.8L848 2648.6L879.8 2645.8L911.5 2643.5L943.3 2641.6L975.1 2640.1L1006.8 2639L1038.6 2638.4L1070.3 2638.2L1102.1 2638.5L1133.9 2639.2L1165.6 2640.3L1197.4 2641.8L1229.2 2643.8L1260.9 2646.2L1292.7 2649L1301.2 2642.4L1269.5 2639.3L1237.7 2636.7L1206 2634.5L1174.2 2632.7L1142.4 2631.4L1110.7 2630.5L1078.9 2630L1047.2 2630L1015.4 2630.4L983.6 2631.2L951.9 2632.5L920.1 2634.1L888.4 2636.3L856.6 2638.8L824.8 2641.8L793.1 2645.2L761.3 2649L729.5 2653.3L697.8 2658L666 2663.1L634.3 2668.6L602.5 2674.6L570.7 2681L539 2687.9L507.2 2695.1L475.5 2702.9L443.7 2711L411.9 2719.6L380.2 2728.5L348.4 2738Z"/>
<path class="ml" d="M339.8 2751.3L348.4 2738M435.1 2723.7L443.7 2711M530.4 2699.9L539 2687.9M625.7 2680L634.3 2668.6M721 2663.9L729.5 2653.3M816.3 2651.8L824.8 2641.8M911.5 2643.5L920.1 2634.1M1006.8 2639L1015.4 2630.4M1102.1 2638.5L1110.7 2630.5M1197.4 2641.8L1206 2634.5M1292.7 2649L1301.2 2642.4M348.4 2738L380.2 2728.5L411.9 2719.6L443.7 2711L475.5 2702.9L507.2 2695.1L539 2687.9L570.7 2681L602.5 2674.6L634.3 2668.6L666 2663.1L697.8 2658L729.5 2653.3L761.3 2649L793.1 2645.2L824.8 2641.8L856.6 2638.8L888.4 2636.3L920.1 2634.1L951.9 2632.5L983.6 2631.2L1015.4 2630.4L1047.2 2630L1078.9 2630L1110.7 2630.5L1142.4 2631.4L1174.2 2632.7L1206 2634.5L1237.7 2636.7L1269.5 2639.3L1301.2 2642.4"/>
<path class="sf" d="M331.3 2765L363 2755.1L394.8 2745.6L426.5 2736.6L458.3 2728L490.1 2719.9L521.8 2712.2L553.6 2704.9L585.4 2698L617.1 2691.6L648.9 2685.6L680.6 2680L712.4 2674.9L744.2 2670.2L775.9 2665.9L807.7 2662L839.4 2658.6L871.2 2655.6L903 2653.1L934.7 2650.9L966.5 2649.2L998.2 2648L1030 2647.1L1061.8 2646.7L1093.5 2646.7L1125.3 2647.2L1157.1 2648.1L1188.8 2649.4L1220.6 2651.1L1252.3 2653.3L1284.1 2655.9L1292.7 2649L1260.9 2646.2L1229.2 2643.8L1197.4 2641.8L1165.6 2640.3L1133.9 2639.2L1102.1 2638.5L1070.3 2638.2L1038.6 2638.4L1006.8 2639L975.1 2640.1L943.3 2641.6L911.5 2643.5L879.8 2645.8L848 2648.6L816.3 2651.8L784.5 2655.4L752.7 2659.4L721 2663.9L689.2 2668.8L657.5 2674.2L625.7 2680L593.9 2686.2L562.2 2692.8L530.4 2699.9L498.6 2707.4L466.9 2715.3L435.1 2723.7L403.4 2732.5L371.6 2741.7L339.8 2751.3Z"/>
<path class="ml" d="M331.3 2765L339.8 2751.3M426.5 2736.6L435.1 2723.7M521.8 2712.2L530.4 2699.9M617.1 2691.6L625.7 2680M712.4 2674.9L721 2663.9M807.7 2662L816.3 2651.8M903 2653.1L911.5 2643.5M998.2 2648L1006.8 2639M1093.5 2646.7L1102.1 2638.5M1188.8 2649.4L1197.4 2641.8M1284.1 2655.9L1292.7 2649"/>
<path class="sf" d="M322.7 2778.9L354.5 2768.8L386.2 2759.1L418 2749.9L449.7 2741.1L481.5 2732.7L513.3 2724.7L545 2717.2L576.8 2710.1L608.5 2703.5L640.3 2697.3L672.1 2691.5L703.8 2686.1L735.6 2681.2L767.3 2676.7L799.1 2672.6L830.9 2668.9L862.6 2665.7L894.4 2662.9L926.2 2660.6L957.9 2658.7L989.7 2657.2L1021.4 2656.1L1053.2 2655.5L1085 2655.3L1116.7 2655.5L1148.5 2656.2L1180.2 2657.3L1212 2658.8L1243.8 2660.7L1275.5 2663.1L1284.1 2655.9L1252.3 2653.3L1220.6 2651.1L1188.8 2649.4L1157.1 2648.1L1125.3 2647.2L1093.5 2646.7L1061.8 2646.7L1030 2647.1L998.2 2648L966.5 2649.2L934.7 2650.9L903 2653.1L871.2 2655.6L839.4 2658.6L807.7 2662L775.9 2665.9L744.2 2670.2L712.4 2674.9L680.6 2680L648.9 2685.6L617.1 2691.6L585.4 2698L553.6 2704.9L521.8 2712.2L490.1 2719.9L458.3 2728L426.5 2736.6L394.8 2745.6L363 2755.1L331.3 2765Z"/>
<path class="ml" d="M322.7 2778.9L331.3 2765M418 2749.9L426.5 2736.6M513.3 2724.7L521.8 2712.2M608.5 2703.5L617.1 2691.6M703.8 2686.1L712.4 2674.9M799.1 2672.6L807.7 2662M894.4 2662.9L903 2653.1M989.7 2657.2L998.2 2648M1085 2655.3L1093.5 2646.7M1180.2 2657.3L1188.8 2649.4M1275.5 2663.1L1284.1 2655.9"/>
<path class="sf" d="M314.1 2793.1L345.9 2782.8L377.6 2772.9L409.4 2763.4L441.2 2754.4L472.9 2745.8L504.7 2737.6L536.4 2729.9L568.2 2722.6L600 2715.7L631.7 2709.2L663.5 2703.2L695.2 2697.6L727 2692.5L758.8 2687.7L790.5 2683.4L822.3 2679.6L854.1 2676.1L885.8 2673.1L917.6 2670.5L949.3 2668.4L981.1 2666.7L1012.9 2665.4L1044.6 2664.5L1076.4 2664.1L1108.1 2664.1L1139.9 2664.5L1171.7 2665.4L1203.4 2666.7L1235.2 2668.4L1266.9 2670.6L1275.5 2663.1L1243.8 2660.7L1212 2658.8L1180.2 2657.3L1148.5 2656.2L1116.7 2655.5L1085 2655.3L1053.2 2655.5L1021.4 2656.1L989.7 2657.2L957.9 2658.7L926.2 2660.6L894.4 2662.9L862.6 2665.7L830.9 2668.9L799.1 2672.6L767.3 2676.7L735.6 2681.2L703.8 2686.1L672.1 2691.5L640.3 2697.3L608.5 2703.5L576.8 2710.1L545 2717.2L513.3 2724.7L481.5 2732.7L449.7 2741.1L418 2749.9L386.2 2759.1L354.5 2768.8L322.7 2778.9Z"/>
<path class="ml" d="M314.1 2793.1L322.7 2778.9M409.4 2763.4L418 2749.9M504.7 2737.6L513.3 2724.7M600 2715.7L608.5 2703.5M695.2 2697.6L703.8 2686.1M790.5 2683.4L799.1 2672.6M885.8 2673.1L894.4 2662.9M981.1 2666.7L989.7 2657.2M1076.4 2664.1L1085 2655.3M1171.7 2665.4L1180.2 2657.3M1266.9 2670.6L1275.5 2663.1M314.1 2793.1L345.9 2782.8L377.6 2772.9L409.4 2763.4L441.2 2754.4L472.9 2745.8L504.7 2737.6L536.4 2729.9L568.2 2722.6L600 2715.7L631.7 2709.2L663.5 2703.2L695.2 2697.6L727 2692.5L758.8 2687.7L790.5 2683.4L822.3 2679.6L854.1 2676.1L885.8 2673.1L917.6 2670.5L949.3 2668.4L981.1 2666.7L1012.9 2665.4L1044.6 2664.5L1076.4 2664.1L1108.1 2664.1L1139.9 2664.5L1171.7 2665.4L1203.4 2666.7L1235.2 2668.4L1266.9 2670.6"/>
</g>
<path class="ml" d="M314.1 2793.1L345.9 2782.8L377.6 2772.9L409.4 2763.4L441.2 2754.4L472.9 2745.8L504.7 2737.6L536.4 2729.9L568.2 2722.6L600 2715.7L631.7 2709.2L663.5 2703.2L695.2 2697.6L727 2692.5L758.8 2687.7L790.5 2683.4L822.3 2679.6L854.1 2676.1L885.8 2673.1L917.6 2670.5L949.3 2668.4L981.1 2666.7L1012.9 2665.4L1044.6 2664.5L1076.4 2664.1L1108.1 2664.1L1139.9 2664.5L1171.7 2665.4L1203.4 2666.7L1235.2 2668.4L1266.9 2670.6"/>
<path class="bx" d="M273.5 2844L273.5 2391.4"/>
<path class="bx" d="M273.5 2844L1285 2899"/>
<path class="bx" d="M1285 2899L1654.6 2745.6"/>
<path class="bx" d="M1285 2899L1285 2446.4"/>
<path class="bx" d="M273.5 2391.4L1285 2446.4"/>
<path class="bx" d="M273.5 2391.4L643.1 2238"/>
<path class="bx" d="M643.1 2238L1654.6 2293"/>
<path class="bx" d="M1285 2446.4L1654.6 2293"/>
<path class="tk" d="M273.5 2844l16 0M273.5 2825.9l9 0M273.5 2807.8l9 0M273.5 2789.7l9 0M273.5 2771.6l9 0M273.5 2753.5l16 0M273.5 2735.4l9 0M273.5 2717.3l9 0M273.5 2699.2l9 0M273.5 2681.1l9 0M273.5 2663l16 0M273.5 2644.9l9 0M273.5 2626.8l9 0M273.5 2608.6l9 0M273.5 2590.5l9 0M273.5 2572.4l16 0M273.5 2554.3l9 0M273.5 2536.2l9 0M273.5 2518.1l9 0M273.5 2500l9 0M273.5 2481.9l16 0M273.5 2463.8l9 0M273.5 2445.7l9 0M273.5 2427.6l9 0M273.5 2409.5l9 0M273.5 2391.4l16 0"/>
<path class="tk" d="M1285 2899l-16 0M1285 2880.9l-9 0M1285 2862.8l-9 0M1285 2844.7l-9 0M1285 2826.6l-9 0M1285 2808.5l-16 0M1285 2790.4l-9 0M1285 2772.3l-9 0M1285 2754.2l-9 0M1285 2736.1l-9 0M1285 2718l-16 0M1285 2699.9l-9 0M1285 2681.8l-9 0M1285 2663.6l-9 0M1285 2645.5l-9 0M1285 2627.4l-16 0M1285 2609.3l-9 0M1285 2591.2l-9 0M1285 2573.1l-9 0M1285 2555l-9 0M1285 2536.9l-16 0M1285 2518.8l-9 0M1285 2500.7l-9 0M1285 2482.6l-9 0M1285 2464.5l-9 0M1285 2446.4l-16 0"/>
<path class="tk" d="M273.5 2844l12.9 -5.4M314 2846.2l7.4 -3.1M354.4 2848.4l7.4 -3.1M394.9 2850.6l7.4 -3.1M435.3 2852.8l7.4 -3.1M475.8 2855l12.9 -5.4M516.3 2857.2l7.4 -3.1M556.7 2859.4l7.4 -3.1M597.2 2861.6l7.4 -3.1M637.6 2863.8l7.4 -3.1M678.1 2866l12.9 -5.4M718.6 2868.2l7.4 -3.1M759 2870.4l7.4 -3.1M799.5 2872.6l7.4 -3.1M839.9 2874.8l7.4 -3.1M880.4 2877l12.9 -5.4M920.9 2879.2l7.4 -3.1M961.3 2881.4l7.4 -3.1M1001.8 2883.6l7.4 -3.1M1042.2 2885.8l7.4 -3.1M1082.7 2888l12.9 -5.4M1123.2 2890.2l7.4 -3.1M1163.6 2892.4l7.4 -3.1M1204.1 2894.6l7.4 -3.1M1244.5 2896.8l7.4 -3.1M1285 2899l12.9 -5.4"/>
<path class="tk" d="M1285 2899l-14 -0.8M1299.2 2893.1l-8 -0.4M1313.4 2887.2l-14 -0.8M1327.6 2881.3l-8 -0.4M1341.9 2875.4l-14 -0.8M1356.1 2869.5l-8 -0.4M1370.3 2863.6l-14 -0.8M1384.5 2857.7l-8 -0.4M1398.7 2851.8l-14 -0.8M1412.9 2845.9l-8 -0.4M1427.2 2840l-14 -0.8M1441.4 2834.1l-8 -0.4M1455.6 2828.2l-14 -0.8M1469.8 2822.3l-8 -0.4M1484 2816.4l-14 -0.8M1498.2 2810.5l-8 -0.4M1512.4 2804.6l-14 -0.8M1526.7 2798.7l-8 -0.4M1540.9 2792.8l-14 -0.8M1555.1 2786.9l-8 -0.4M1569.3 2781l-14 -0.8M1583.5 2775.1l-8 -0.4M1597.7 2769.2l-14 -0.8M1612 2763.3l-8 -0.4M1626.2 2757.4l-14 -0.8M1640.4 2751.5l-8 -0.4M1654.6 2745.6l-14 -0.8"/>
<path class="tk" d="M273.5 2391.4l14 0.8M287.7 2385.5l8 0.4M301.9 2379.6l14 0.8M316.1 2373.7l8 0.4M330.4 2367.8l14 0.8M344.6 2361.9l8 0.4M358.8 2356l14 0.8M373 2350.1l8 0.4M387.2 2344.2l14 0.8M401.4 2338.3l8 0.4M415.7 2332.4l14 0.8M429.9 2326.5l8 0.4M444.1 2320.6l14 0.8M458.3 2314.7l8 0.4M472.5 2308.8l14 0.8M486.7 2302.9l8 0.4M500.9 2297l14 0.8M515.2 2291.1l8 0.4M529.4 2285.2l14 0.8M543.6 2279.3l8 0.4M557.8 2273.4l14 0.8M572 2267.5l8 0.4M586.2 2261.6l14 0.8M600.5 2255.7l8 0.4M614.7 2249.8l14 0.8M628.9 2243.9l8 0.4M643.1 2238l14 0.8"/>
<path class="tk" d="M643.1 2238l-12.9 5.4M683.6 2240.2l-7.4 3.1M724 2242.4l-7.4 3.1M764.5 2244.6l-7.4 3.1M804.9 2246.8l-7.4 3.1M845.4 2249l-12.9 5.4M885.9 2251.2l-7.4 3.1M926.3 2253.4l-7.4 3.1M966.8 2255.6l-7.4 3.1M1007.2 2257.8l-7.4 3.1M1047.7 2260l-12.9 5.4M1088.2 2262.2l-7.4 3.1M1128.6 2264.4l-7.4 3.1M1169.1 2266.6l-7.4 3.1M1209.5 2268.8l-7.4 3.1M1250 2271l-12.9 5.4M1290.5 2273.2l-7.4 3.1M1330.9 2275.4l-7.4 3.1M1371.4 2277.6l-7.4 3.1M1411.8 2279.8l-7.4 3.1M1452.3 2282l-12.9 5.4M1492.8 2284.2l-7.4 3.1M1533.2 2286.4l-7.4 3.1M1573.7 2288.6l-7.4 3.1M1614.1 2290.8l-7.4 3.1M1654.6 2293l-12.9 5.4"/>
<path class="tk" d="M1285 2446.4l-14 -0.8M1299.2 2440.5l-8 -0.4M1313.4 2434.6l-14 -0.8M1327.6 2428.7l-8 -0.4M1341.9 2422.8l-14 -0.8M1356.1 2416.9l-8 -0.4M1370.3 2411l-14 -0.8M1384.5 2405.1l-8 -0.4M1398.7 2399.2l-14 -0.8M1412.9 2393.3l-8 -0.4M1427.2 2387.4l-14 -0.8M1441.4 2381.5l-8 -0.4M1455.6 2375.6l-14 -0.8M1469.8 2369.7l-8 -0.4M1484 2363.8l-14 -0.8M1498.2 2357.9l-8 -0.4M1512.4 2352l-14 -0.8M1526.7 2346.1l-8 -0.4M1540.9 2340.2l-14 -0.8M1555.1 2334.3l-8 -0.4M1569.3 2328.4l-14 -0.8M1583.5 2322.5l-8 -0.4M1597.7 2316.6l-14 -0.8M1612 2310.7l-8 -0.4M1626.2 2304.8l-14 -0.8M1640.4 2298.9l-8 -0.4M1654.6 2293l-14 -0.8"/>
<path class="tk" d="M273.5 2391.4l12.9 -5.4M314 2393.6l7.4 -3.1M354.4 2395.8l7.4 -3.1M394.9 2398l7.4 -3.1M435.3 2400.2l7.4 -3.1M475.8 2402.4l12.9 -5.4M516.3 2404.6l7.4 -3.1M556.7 2406.8l7.4 -3.1M597.2 2409l7.4 -3.1M637.6 2411.2l7.4 -3.1M678.1 2413.4l12.9 -5.4M718.6 2415.6l7.4 -3.1M759 2417.8l7.4 -3.1M799.5 2420l7.4 -3.1M839.9 2422.2l7.4 -3.1M880.4 2424.4l12.9 -5.4M920.9 2426.6l7.4 -3.1M961.3 2428.8l7.4 -3.1M1001.8 2431l7.4 -3.1M1042.2 2433.2l7.4 -3.1M1082.7 2435.4l12.9 -5.4M1123.2 2437.6l7.4 -3.1M1163.6 2439.8l7.4 -3.1M1204.1 2442l7.4 -3.1M1244.5 2444.2l7.4 -3.1M1285 2446.4l12.9 -5.4"/>
<text x="1645.5" y="107" font-size="64" font-weight="bold" text-anchor="middle">a</text>
<rect x="1589.5" y="28.5" width="112.8" height="111.5" fill="none" stroke="#555" stroke-width="3.4"/>
<text x="76" y="531.8" font-size="58" font-weight="bold" text-anchor="middle" textLength="150.4" lengthAdjust="spacingAndGlyphs" transform="rotate(-90 76 531.8)">DPPH</text>
<text x="145" y="521.4" font-size="55" text-anchor="middle" textLength="482.7" lengthAdjust="spacingAndGlyphs" transform="rotate(-90 145 521.4)">(mg TE g<tspan font-size="34" dy="-22">-1</tspan><tspan dy="22"> AS, DW)</tspan></text>
<text x="261.6" y="312.8" font-size="36.6" font-weight="bold" text-anchor="end">2.5</text>
<text x="261.6" y="412.2" font-size="36.6" font-weight="bold" text-anchor="end">2.0</text>
<text x="261.6" y="511.6" font-size="36.6" font-weight="bold" text-anchor="end">1.5</text>
<text x="261.6" y="612.3" font-size="36.6" font-weight="bold" text-anchor="end">1.0</text>
<text x="261.6" y="711.7" font-size="36.6" font-weight="bold" text-anchor="end">0.5</text>
<text x="261.6" y="812.4" font-size="36.6" font-weight="bold" text-anchor="end">0</text>
<text x="300.8" y="848.7" font-size="45" font-weight="bold" text-anchor="middle" textLength="41.5" lengthAdjust="spacingAndGlyphs">30</text>
<text x="488.4" y="864.3" font-size="45" font-weight="bold" text-anchor="middle" textLength="41.5" lengthAdjust="spacingAndGlyphs">40</text>
<text x="683.5" y="875.8" font-size="45" font-weight="bold" text-anchor="middle" textLength="41.5" lengthAdjust="spacingAndGlyphs">50</text>
<text x="878.6" y="886.7" font-size="45" font-weight="bold" text-anchor="middle" textLength="41.5" lengthAdjust="spacingAndGlyphs">60</text>
<text x="1075" y="898.2" font-size="45" font-weight="bold" text-anchor="middle" textLength="41.5" lengthAdjust="spacingAndGlyphs">70</text>
<text x="1271.4" y="909.7" font-size="45" font-weight="bold" text-anchor="middle" textLength="41.5" lengthAdjust="spacingAndGlyphs">80</text>
<text x="677" y="967.6" font-size="56" font-weight="bold" text-anchor="middle" textLength="461.5" lengthAdjust="spacingAndGlyphs">Temperature (°C)</text>
<text x="1404.4" y="899.1" font-size="41" font-weight="bold" text-anchor="middle" textLength="20.5" lengthAdjust="spacingAndGlyphs">0</text>
<text x="1465.3" y="871.8" font-size="41" font-weight="bold" text-anchor="middle" textLength="20.5" lengthAdjust="spacingAndGlyphs">2</text>
<text x="1526.2" y="848.8" font-size="41" font-weight="bold" text-anchor="middle" textLength="20.5" lengthAdjust="spacingAndGlyphs">4</text>
<text x="1583.1" y="821" font-size="41" font-weight="bold" text-anchor="middle" textLength="20.5" lengthAdjust="spacingAndGlyphs">6</text>
<text x="1644" y="794.5" font-size="41" font-weight="bold" text-anchor="middle" textLength="20.5" lengthAdjust="spacingAndGlyphs">8</text>
<text x="1702.3" y="769.4" font-size="41" font-weight="bold" text-anchor="middle" textLength="41" lengthAdjust="spacingAndGlyphs">10</text>
<text x="1761.8" y="742.9" font-size="41" font-weight="bold" text-anchor="middle" textLength="41" lengthAdjust="spacingAndGlyphs">12</text>
<text x="1686.4" y="912.4" font-size="55.5" font-weight="bold" text-anchor="middle" textLength="68.8" lengthAdjust="spacingAndGlyphs">pH</text>
<text x="2018.5" y="304.2" font-size="63.7" font-weight="bold" text-anchor="middle" textLength="171" lengthAdjust="spacingAndGlyphs">DPPH</text>
<rect x="1861.2" y="339.3" width="147" height="40.5" rx="4" fill="#0040ff"/>
<text x="2033" y="397" font-size="53" font-weight="bold" textLength="79.6" lengthAdjust="spacingAndGlyphs">0.0</text>
<rect x="1861.2" y="414.5" width="147" height="40.5" rx="4" fill="#00f8ff"/>
<text x="2033" y="465" font-size="53" font-weight="bold" textLength="79.6" lengthAdjust="spacingAndGlyphs">0.5</text>
<rect x="1861.2" y="489.7" width="147" height="40.5" rx="4" fill="#00f020"/>
<text x="2033" y="534.4" font-size="53" font-weight="bold" textLength="79.6" lengthAdjust="spacingAndGlyphs">1.0</text>
<rect x="1861.2" y="564.9" width="147" height="40.5" rx="4" fill="#fff530"/>
<text x="2033" y="606" font-size="53" font-weight="bold" textLength="79.6" lengthAdjust="spacingAndGlyphs">1.5</text>
<rect x="1861.2" y="640.1" width="147" height="40.5" rx="4" fill="#ff3530"/>
<text x="2033" y="676.4" font-size="53" font-weight="bold" textLength="79.6" lengthAdjust="spacingAndGlyphs">2.0</text>
<text x="1561.5" y="1182.4" font-size="65" font-weight="bold" text-anchor="middle">b</text>
<rect x="1506.3" y="1103.3" width="111.3" height="95.4" fill="none" stroke="#555" stroke-width="3.4"/>
<text x="69.3" y="1548.7" font-size="58" font-weight="bold" text-anchor="middle" textLength="108.5" lengthAdjust="spacingAndGlyphs" transform="rotate(-90 69.3 1548.7)">TPC</text>
<text x="137.5" y="1542.8" font-size="55" text-anchor="middle" textLength="554.3" lengthAdjust="spacingAndGlyphs" transform="rotate(-90 137.5 1542.8)">(mg GAE g<tspan font-size="34" dy="-22">-1</tspan><tspan dy="22"> AS, DW)</tspan></text>
<text x="304.7" y="1370.2" font-size="36.3" font-weight="bold" text-anchor="end">6</text>
<text x="304.7" y="1507.5" font-size="36.3" font-weight="bold" text-anchor="end">4</text>
<text x="304.7" y="1647.4" font-size="36.3" font-weight="bold" text-anchor="end">2</text>
<text x="304.7" y="1786" font-size="36.3" font-weight="bold" text-anchor="end">0</text>
<text x="335.3" y="1843.3" font-size="36" font-weight="bold" text-anchor="middle" textLength="37" lengthAdjust="spacingAndGlyphs">30</text>
<text x="513.7" y="1853.9" font-size="36" font-weight="bold" text-anchor="middle" textLength="37" lengthAdjust="spacingAndGlyphs">40</text>
<text x="692.7" y="1863.4" font-size="36" font-weight="bold" text-anchor="middle" textLength="37" lengthAdjust="spacingAndGlyphs">50</text>
<text x="870.4" y="1872.8" font-size="36" font-weight="bold" text-anchor="middle" textLength="37" lengthAdjust="spacingAndGlyphs">60</text>
<text x="1051.4" y="1886" font-size="36" font-weight="bold" text-anchor="middle" textLength="37" lengthAdjust="spacingAndGlyphs">70</text>
<text x="1229.7" y="1893.5" font-size="36" font-weight="bold" text-anchor="middle" textLength="37" lengthAdjust="spacingAndGlyphs">80</text>
<text x="741" y="2009.3" font-size="57" font-weight="bold" text-anchor="middle" textLength="457.3" lengthAdjust="spacingAndGlyphs">Temperature (°C)</text>
<text x="1351.5" y="1882.7" font-size="36" font-weight="bold" text-anchor="middle" textLength="18.5" lengthAdjust="spacingAndGlyphs">0</text>
<text x="1418.4" y="1855" font-size="36" font-weight="bold" text-anchor="middle" textLength="37" lengthAdjust="spacingAndGlyphs">20</text>
<text x="1482" y="1827.7" font-size="36" font-weight="bold" text-anchor="middle" textLength="37" lengthAdjust="spacingAndGlyphs">40</text>
<text x="1547.9" y="1800" font-size="36" font-weight="bold" text-anchor="middle" textLength="37" lengthAdjust="spacingAndGlyphs">60</text>
<text x="1614.3" y="1773" font-size="36" font-weight="bold" text-anchor="middle" textLength="37" lengthAdjust="spacingAndGlyphs">80</text>
<text x="1678" y="1745" font-size="36" font-weight="bold" text-anchor="middle" textLength="55.5" lengthAdjust="spacingAndGlyphs">100</text>
<text x="1617" y="1911.6" font-size="57" font-weight="bold" text-anchor="middle" textLength="130" lengthAdjust="spacingAndGlyphs">Time</text>
<text x="1617" y="1980.7" font-size="57" font-weight="bold" text-anchor="middle" textLength="135.4" lengthAdjust="spacingAndGlyphs">(min)</text>
<text x="2006.7" y="1648.8" font-size="60.6" font-weight="bold" text-anchor="middle" textLength="122.7" lengthAdjust="spacingAndGlyphs">TPC</text>
<rect x="1871.5" y="1681.1" width="149.6" height="38.9" rx="4" fill="#0000ff"/>
<text x="2053.1" y="1722.3" font-size="52" font-weight="bold" textLength="79.3" lengthAdjust="spacingAndGlyphs">0.0</text>
<rect x="1871.5" y="1751.8" width="149.6" height="38.9" rx="4" fill="#00d8ff"/>
<text x="2053.1" y="1793" font-size="52" font-weight="bold" textLength="79.3" lengthAdjust="spacingAndGlyphs">1.0</text>
<rect x="1871.5" y="1822.5" width="149.6" height="38.9" rx="4" fill="#00ff60"/>
<text x="2053.1" y="1863.7" font-size="52" font-weight="bold" textLength="79.3" lengthAdjust="spacingAndGlyphs">2.0</text>
<rect x="1871.5" y="1893.2" width="149.6" height="38.9" rx="4" fill="#00ff00"/>
<text x="2053.1" y="1934.4" font-size="52" font-weight="bold" textLength="79.3" lengthAdjust="spacingAndGlyphs">3.0</text>
<rect x="1871.5" y="1963.9" width="149.6" height="38.9" rx="4" fill="#ffd800"/>
<text x="2053.1" y="2005.1" font-size="52" font-weight="bold" textLength="79.3" lengthAdjust="spacingAndGlyphs">4.0</text>
<rect x="1871.5" y="2034.6" width="149.6" height="38.9" rx="4" fill="#ff0000"/>
<text x="2053.1" y="2075.8" font-size="52" font-weight="bold" textLength="79.3" lengthAdjust="spacingAndGlyphs">5.0</text>
<text x="1570.9" y="2220.3" font-size="64" font-weight="bold" text-anchor="middle">c</text>
<rect x="1515.5" y="2141.6" width="111.9" height="109.7" fill="none" stroke="#888" stroke-width="3.4"/>
<text x="69.3" y="2659.6" font-size="58" font-weight="bold" text-anchor="middle" textLength="108.5" lengthAdjust="spacingAndGlyphs" transform="rotate(-90 69.3 2659.6)">TPC</text>
<text x="137.5" y="2652.9" font-size="55" text-anchor="middle" textLength="554.3" lengthAdjust="spacingAndGlyphs" transform="rotate(-90 137.5 2652.9)">(mg GAE g<tspan font-size="34" dy="-22">-1</tspan><tspan dy="22"> AS, DW)</tspan></text>
<text x="254.5" y="2409.8" font-size="36.3" font-weight="bold" text-anchor="end">6</text>
<text x="254.5" y="2557.5" font-size="36.3" font-weight="bold" text-anchor="end">4</text>
<text x="254.5" y="2704" font-size="36.3" font-weight="bold" text-anchor="end">2</text>
<text x="254.5" y="2853" font-size="36.3" font-weight="bold" text-anchor="end">0</text>
<text x="278.5" y="2904.9" font-size="36" font-weight="bold" text-anchor="middle" textLength="37" lengthAdjust="spacingAndGlyphs">30</text>
<text x="468" y="2916.2" font-size="36" font-weight="bold" text-anchor="middle" textLength="37" lengthAdjust="spacingAndGlyphs">40</text>
<text x="658.9" y="2924.8" font-size="36" font-weight="bold" text-anchor="middle" textLength="37" lengthAdjust="spacingAndGlyphs">50</text>
<text x="848.5" y="2936.1" font-size="36" font-weight="bold" text-anchor="middle" textLength="37" lengthAdjust="spacingAndGlyphs">60</text>
<text x="1041.3" y="2948.1" font-size="36" font-weight="bold" text-anchor="middle" textLength="37" lengthAdjust="spacingAndGlyphs">70</text>
<text x="1232.2" y="2957.4" font-size="36" font-weight="bold" text-anchor="middle" textLength="37" lengthAdjust="spacingAndGlyphs">80</text>
<text x="742" y="3051.5" font-size="57" font-weight="bold" text-anchor="middle" textLength="418.9" lengthAdjust="spacingAndGlyphs">Ethanol (%, v/v)</text>
<text x="1362.1" y="2946.5" font-size="36" font-weight="bold" text-anchor="middle" textLength="18.5" lengthAdjust="spacingAndGlyphs">0</text>
<text x="1419.7" y="2921.4" font-size="36" font-weight="bold" text-anchor="middle" textLength="18.5" lengthAdjust="spacingAndGlyphs">2</text>
<text x="1480.3" y="2897.7" font-size="36" font-weight="bold" text-anchor="middle" textLength="18.5" lengthAdjust="spacingAndGlyphs">4</text>
<text x="1536.5" y="2874.1" font-size="36" font-weight="bold" text-anchor="middle" textLength="18.5" lengthAdjust="spacingAndGlyphs">6</text>
<text x="1595.6" y="2849" font-size="36" font-weight="bold" text-anchor="middle" textLength="18.5" lengthAdjust="spacingAndGlyphs">8</text>
<text x="1651.8" y="2825.3" font-size="36" font-weight="bold" text-anchor="middle" textLength="37" lengthAdjust="spacingAndGlyphs">10</text>
<text x="1712.4" y="2800.2" font-size="36" font-weight="bold" text-anchor="middle" textLength="37" lengthAdjust="spacingAndGlyphs">12</text>
<text x="1672.5" y="2976.4" font-size="55.5" font-weight="bold" text-anchor="middle" textLength="71" lengthAdjust="spacingAndGlyphs">pH</text>
</svg></body></html>
